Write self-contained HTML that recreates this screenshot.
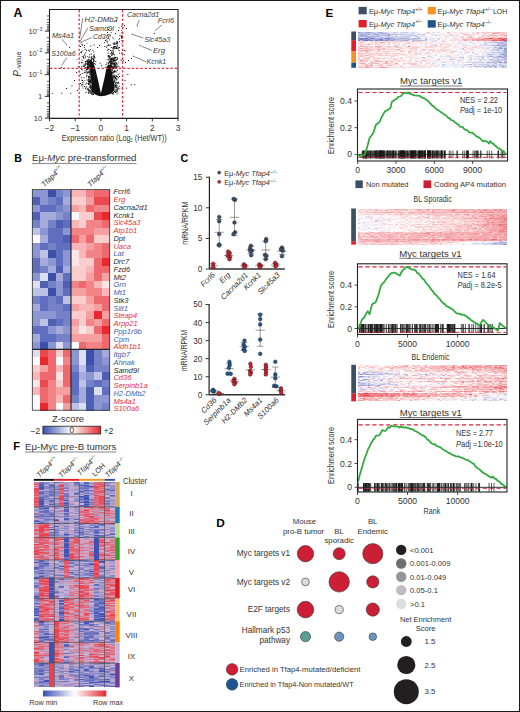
<!DOCTYPE html>
<html><head><meta charset="utf-8"><style>
html,body{margin:0;padding:0;background:#fff;}
#c{position:relative;width:520px;height:712px;overflow:hidden;background:#fff;font-family:"Liberation Sans", sans-serif;}
#c div.h{position:absolute;}
#c svg{position:absolute;left:0;top:0;}
#bd{position:absolute;left:0;top:0;width:520px;height:712px;box-sizing:border-box;border:1px solid #1a1718;border-right-width:1.4px;border-bottom-width:1.4px;}
</style></head><body><div id="c">
<div class="h" style="left:358.3px;top:31.5px;width:148.5px;height:1.16px;background:linear-gradient(90deg,#9297d2 0px 2.48px,#b6b9e1 2.48px 4.95px,#c5c8e7 4.95px 7.43px,#a8acdb 7.43px 9.9px,#9a9ed5 9.9px 12.38px,#b6bae1 12.38px 14.85px,#c4c7e7 14.85px 17.32px,#d4d6ed 17.32px 19.8px,#a6aada 19.8px 22.28px,#a7abda 22.28px 24.75px,#d3d5ed 24.75px 27.23px,#d1d3ec 27.23px 29.7px,#e9eaf6 29.7px 32.18px,#e0e2f2 32.18px 34.65px,#ccceea 34.65px 37.12px,#cbcde9 37.12px 39.6px,#fef5f5 39.6px 42.08px,#cfd2eb 42.08px 44.55px,#c7cae8 44.55px 47.02px,#c3c5e6 47.02px 49.5px,#dfe0f2 49.5px 51.98px,#e2e4f3 51.98px 54.45px,#dbdcf0 54.45px 56.93px,#e3e4f3 56.93px 59.4px,#ecedf7 59.4px 61.88px,#f8f8fc 61.88px 64.35px,#fffbfb 64.35px 66.83px,#f2f3fa 66.83px 69.3px,#cbcee9 69.3px 71.78px,#fffcfc 71.78px 74.25px,#d8daef 74.25px 76.73px,#f4f5fb 76.73px 79.2px,#dcddf0 79.2px 81.67px,#fdfdfe 81.67px 84.15px,#eff0f8 84.15px 86.62px,#fef7f8 86.62px 89.1px,#f5b1b5 89.1px 91.58px,#fef8f8 91.58px 94.05px,#fbe2e3 94.05px 96.53px,#f0f1f9 96.53px 99px,#fef5f6 99px 101.48px,#fbdedf 101.48px 103.95px,#fdeced 103.95px 106.42px,#fbdfe1 106.42px 108.9px,#fbe2e4 108.9px 111.38px,#fef8f9 111.38px 113.85px,#f9d3d5 113.85px 116.33px,#fdeff0 116.33px 118.8px,#f5b1b5 118.8px 121.28px,#fbe3e4 121.28px 123.75px,#f8c6c9 123.75px 126.23px,#f9d3d5 126.23px 128.7px,#f6bbbe 128.7px 131.18px,#fadbdc 131.18px 133.65px,#f6b5b8 133.65px 136.12px,#f8cbcd 136.12px 138.6px,#f4aaae 138.6px 141.08px,#f6b5b9 141.08px 143.55px,#f7bdc0 143.55px 146.03px,#f9cfd1 146.03px 148.5px)"></div><div class="h" style="left:358.3px;top:32.51px;width:148.5px;height:1.16px;background:linear-gradient(90deg,#b8bbe1 0px 2.48px,#b4b8e0 2.48px 4.95px,#cfd1eb 4.95px 7.43px,#a7abdb 7.43px 9.9px,#bdc0e4 9.9px 12.38px,#bfc2e4 12.38px 14.85px,#bcc0e3 14.85px 17.32px,#bdc1e4 17.32px 19.8px,#bfc2e5 19.8px 22.28px,#b1b5df 22.28px 24.75px,#abafdc 24.75px 27.23px,#bbbee3 27.23px 29.7px,#d2d4ec 29.7px 32.18px,#e7e9f5 32.18px 34.65px,#dfe0f2 34.65px 37.12px,#e3e4f3 37.12px 39.6px,#dfe1f2 39.6px 42.08px,#e0e2f2 42.08px 44.55px,#d8daef 44.55px 47.02px,#e7e8f5 47.02px 49.5px,#fefeff 49.5px 51.98px,#d5d7ed 51.98px 54.45px,#cfd2eb 54.45px 56.93px,#fef4f5 56.93px 59.4px,#e8e9f5 59.4px 61.88px,#fafafd 61.88px 64.35px,#fafafd 64.35px 66.83px,#d3d5ed 66.83px 69.3px,#fbddde 69.3px 71.78px,#fce9ea 71.78px 74.25px,#f5f6fb 74.25px 76.73px,#fefafa 76.73px 79.2px,#f9fafd 79.2px 81.67px,#e7e8f5 81.67px 84.15px,#f9fafd 84.15px 86.62px,#fef8f8 86.62px 89.1px,#fce5e6 89.1px 91.58px,#fdebec 91.58px 94.05px,#fef7f7 94.05px 96.53px,#fad8da 96.53px 99px,#fbfbfd 99px 101.48px,#fbdfe1 101.48px 103.95px,#fad5d7 103.95px 106.42px,#fdf2f2 106.42px 108.9px,#eff0f8 108.9px 111.38px,#fefafa 111.38px 113.85px,#fbdee0 113.85px 116.33px,#fad5d7 116.33px 118.8px,#f7bcbf 118.8px 121.28px,#fdf2f2 121.28px 123.75px,#fad9db 123.75px 126.23px,#f8c8cb 126.23px 128.7px,#fad7d9 128.7px 131.18px,#f9f9fc 131.18px 133.65px,#f7bdc0 133.65px 136.12px,#f2999e 136.12px 138.6px,#f6b4b7 138.6px 141.08px,#fadbdd 141.08px 143.55px,#f9cdd0 143.55px 146.03px,#f7bdc0 146.03px 148.5px)"></div><div class="h" style="left:358.3px;top:33.52px;width:148.5px;height:1.16px;background:linear-gradient(90deg,#d1d4ec 0px 2.48px,#adb1dd 2.48px 4.95px,#a5a9da 4.95px 7.43px,#c5c8e7 7.43px 9.9px,#a6aada 9.9px 12.38px,#d1d3ec 12.38px 14.85px,#9ea3d7 14.85px 17.32px,#a5a9da 17.32px 19.8px,#c0c3e5 19.8px 22.28px,#d1d4ec 22.28px 24.75px,#c4c7e6 24.75px 27.23px,#bfc2e4 27.23px 29.7px,#959ad3 29.7px 32.18px,#afb3de 32.18px 34.65px,#b3b7e0 34.65px 37.12px,#b7bbe1 37.12px 39.6px,#d1d3ec 39.6px 42.08px,#c0c3e5 42.08px 44.55px,#dadcf0 44.55px 47.02px,#ced0eb 47.02px 49.5px,#c8cbe8 49.5px 51.98px,#d4d6ed 51.98px 54.45px,#dddef1 54.45px 56.93px,#e8e9f6 56.93px 59.4px,#cfd1eb 59.4px 61.88px,#d6d8ee 61.88px 64.35px,#c1c4e5 64.35px 66.83px,#fffcfc 66.83px 69.3px,#fffdfd 69.3px 71.78px,#e1e3f3 71.78px 74.25px,#dddff1 74.25px 76.73px,#d0d2ec 76.73px 79.2px,#f0f1f9 79.2px 81.67px,#f3f4fa 81.67px 84.15px,#fbdddf 84.15px 86.62px,#f9f9fd 86.62px 89.1px,#e6e7f5 89.1px 91.58px,#c6c8e7 91.58px 94.05px,#fce4e5 94.05px 96.53px,#fffcfc 96.53px 99px,#dfe0f2 99px 101.48px,#fef7f8 101.48px 103.95px,#e3e5f4 103.95px 106.42px,#f4aaae 106.42px 108.9px,#fadbdd 108.9px 111.38px,#fce4e6 111.38px 113.85px,#fdf2f3 113.85px 116.33px,#e5e6f4 116.33px 118.8px,#fdeced 118.8px 121.28px,#f6f6fb 121.28px 123.75px,#fad7d9 123.75px 126.23px,#efeff8 126.23px 128.7px,#fdf3f3 128.7px 131.18px,#f7c1c4 131.18px 133.65px,#f6b5b9 133.65px 136.12px,#fdf1f1 136.12px 138.6px,#fef6f6 138.6px 141.08px,#f7bec1 141.08px 143.55px,#f7bcc0 143.55px 146.03px,#fbe2e4 146.03px 148.5px)"></div><div class="h" style="left:358.3px;top:34.52px;width:148.5px;height:1.16px;background:linear-gradient(90deg,#a1a5d8 0px 2.48px,#a3a8d9 2.48px 4.95px,#9ba0d6 4.95px 7.43px,#a8addb 7.43px 9.9px,#d3d5ed 9.9px 12.38px,#cacde9 12.38px 14.85px,#e9eaf6 14.85px 17.32px,#bfc2e4 17.32px 19.8px,#c0c3e5 19.8px 22.28px,#b1b5df 22.28px 24.75px,#c5c8e7 24.75px 27.23px,#afb3de 27.23px 29.7px,#a8acdb 29.7px 32.18px,#dee0f1 32.18px 34.65px,#f0f1f9 34.65px 37.12px,#e6e7f5 37.12px 39.6px,#f3f3fa 39.6px 42.08px,#dfe0f2 42.08px 44.55px,#cdcfea 44.55px 47.02px,#e0e2f2 47.02px 49.5px,#d9dbef 49.5px 51.98px,#ccceea 51.98px 54.45px,#c2c5e6 54.45px 56.93px,#c9cce9 56.93px 59.4px,#eaebf6 59.4px 61.88px,#f0f1f9 61.88px 64.35px,#e6e7f4 64.35px 66.83px,#fdedee 66.83px 69.3px,#f8f8fc 69.3px 71.78px,#fefbfb 71.78px 74.25px,#fceaeb 74.25px 76.73px,#ebecf7 76.73px 79.2px,#d5d7ee 79.2px 81.67px,#fdedee 81.67px 84.15px,#f5f5fb 84.15px 86.62px,#fbdbdd 86.62px 89.1px,#fdeeef 89.1px 91.58px,#fbddde 91.58px 94.05px,#fbdfe1 94.05px 96.53px,#e4e5f4 96.53px 99px,#fbdbdd 99px 101.48px,#fef7f8 101.48px 103.95px,#fef6f7 103.95px 106.42px,#fdedee 106.42px 108.9px,#f9d0d2 108.9px 111.38px,#f8cbcd 111.38px 113.85px,#f8c5c8 113.85px 116.33px,#fffdfd 116.33px 118.8px,#fce3e5 118.8px 121.28px,#f7f7fc 121.28px 123.75px,#fad3d5 123.75px 126.23px,#f7c1c4 126.23px 128.7px,#fbddde 128.7px 131.18px,#f8c4c7 131.18px 133.65px,#f7c2c5 133.65px 136.12px,#f5aeb2 136.12px 138.6px,#fad4d6 138.6px 141.08px,#f9d1d3 141.08px 143.55px,#f9cdd0 143.55px 146.03px,#f19398 146.03px 148.5px)"></div><div class="h" style="left:358.3px;top:35.53px;width:148.5px;height:1.16px;background:linear-gradient(90deg,#c1c4e5 0px 2.48px,#aaaedc 2.48px 4.95px,#b4b7e0 4.95px 7.43px,#b4b7e0 7.43px 9.9px,#b8bce2 9.9px 12.38px,#b2b6df 12.38px 14.85px,#b2b6df 14.85px 17.32px,#a1a6d8 17.32px 19.8px,#b0b4de 19.8px 22.28px,#e3e4f3 22.28px 24.75px,#ced0eb 24.75px 27.23px,#c7c9e8 27.23px 29.7px,#c3c6e6 29.7px 32.18px,#cbceea 32.18px 34.65px,#d4d6ed 34.65px 37.12px,#c2c5e6 37.12px 39.6px,#d6d8ee 39.6px 42.08px,#d9dbef 42.08px 44.55px,#c7cae8 44.55px 47.02px,#c8cbe8 47.02px 49.5px,#c6c9e8 49.5px 51.98px,#c8cae8 51.98px 54.45px,#f3f4fa 54.45px 56.93px,#b1b5df 56.93px 59.4px,#e0e1f2 59.4px 61.88px,#dbddf0 61.88px 64.35px,#dddff1 64.35px 66.83px,#efeff8 66.83px 69.3px,#fef7f7 69.3px 71.78px,#f3f4fa 71.78px 74.25px,#f1f2f9 74.25px 76.73px,#eaebf6 76.73px 79.2px,#f6f7fb 79.2px 81.67px,#fdefef 81.67px 84.15px,#f6f6fb 84.15px 86.62px,#e8eaf6 86.62px 89.1px,#e8eaf6 89.1px 91.58px,#eeeff8 91.58px 94.05px,#ebecf7 94.05px 96.53px,#fadbdd 96.53px 99px,#fce9ea 99px 101.48px,#fef3f4 101.48px 103.95px,#f9cbce 103.95px 106.42px,#fef7f8 106.42px 108.9px,#fad6d8 108.9px 111.38px,#f9d2d4 111.38px 113.85px,#fbfbfd 113.85px 116.33px,#fdfefe 116.33px 118.8px,#fdf0f1 118.8px 121.28px,#f8c5c8 121.28px 123.75px,#f6babd 123.75px 126.23px,#fdeff0 126.23px 128.7px,#f6bbbe 128.7px 131.18px,#fad7d9 131.18px 133.65px,#fad5d7 133.65px 136.12px,#fad6d8 136.12px 138.6px,#f9ced1 138.6px 141.08px,#fdeced 141.08px 143.55px,#fad8da 143.55px 146.03px,#fadadc 146.03px 148.5px)"></div><div class="h" style="left:358.3px;top:36.54px;width:148.5px;height:1.16px;background:linear-gradient(90deg,#b5b8e0 0px 2.48px,#d9dbef 2.48px 4.95px,#e9eaf6 4.95px 7.43px,#abafdc 7.43px 9.9px,#9096d1 9.9px 12.38px,#aeb2de 12.38px 14.85px,#a6aada 14.85px 17.32px,#e5e6f4 17.32px 19.8px,#cacde9 19.8px 22.28px,#b1b5df 22.28px 24.75px,#d7d9ee 24.75px 27.23px,#d1d3ec 27.23px 29.7px,#a6aada 29.7px 32.18px,#bfc3e5 32.18px 34.65px,#c8cbe8 34.65px 37.12px,#d0d2eb 37.12px 39.6px,#d5d7ed 39.6px 42.08px,#cdd0ea 42.08px 44.55px,#dbddf0 44.55px 47.02px,#cdd0ea 47.02px 49.5px,#c9cce9 49.5px 51.98px,#fefeff 51.98px 54.45px,#e8e9f6 54.45px 56.93px,#ecedf7 56.93px 59.4px,#c4c7e7 59.4px 61.88px,#e5e6f4 61.88px 64.35px,#fcfcfe 64.35px 66.83px,#d2d4ec 66.83px 69.3px,#fef7f7 69.3px 71.78px,#eaebf6 71.78px 74.25px,#fdfdfe 74.25px 76.73px,#f4f5fb 76.73px 79.2px,#fefeff 79.2px 81.67px,#fce8e9 81.67px 84.15px,#f6f6fb 84.15px 86.62px,#fadbdc 86.62px 89.1px,#f3f4fa 89.1px 91.58px,#f2f3fa 91.58px 94.05px,#fce6e7 94.05px 96.53px,#f4f5fb 96.53px 99px,#fef8f9 99px 101.48px,#fadadb 101.48px 103.95px,#f9d0d3 103.95px 106.42px,#f0f0f9 106.42px 108.9px,#fadbdc 108.9px 111.38px,#f6babd 111.38px 113.85px,#f8c6c9 113.85px 116.33px,#fce3e5 116.33px 118.8px,#fce9ea 118.8px 121.28px,#fbdfe1 121.28px 123.75px,#fdeff0 123.75px 126.23px,#fad9db 126.23px 128.7px,#fad5d7 128.7px 131.18px,#f9d2d4 131.18px 133.65px,#f5b2b5 133.65px 136.12px,#f9ced1 136.12px 138.6px,#fce7e8 138.6px 141.08px,#f5adb1 141.08px 143.55px,#fad9db 143.55px 146.03px,#f8c9cb 146.03px 148.5px)"></div><div class="h" style="left:358.3px;top:37.55px;width:148.5px;height:1.16px;background:linear-gradient(90deg,#7a80c8 0px 2.48px,#797fc7 2.48px 4.95px,#6e75c3 4.95px 7.43px,#8087cb 7.43px 9.9px,#b6bae1 9.9px 12.38px,#7f85ca 12.38px 14.85px,#8c91cf 14.85px 17.32px,#a9addb 17.32px 19.8px,#a4a8d9 19.8px 22.28px,#a7acdb 22.28px 24.75px,#acb0dd 24.75px 27.23px,#747bc5 27.23px 29.7px,#8e94d0 29.7px 32.18px,#a6aada 32.18px 34.65px,#b1b5df 34.65px 37.12px,#c4c7e7 37.12px 39.6px,#b6bae1 39.6px 42.08px,#aaaedc 42.08px 44.55px,#b3b7df 44.55px 47.02px,#b1b4df 47.02px 49.5px,#bdc0e4 49.5px 51.98px,#c9cce9 51.98px 54.45px,#b7bae1 54.45px 56.93px,#b0b4de 56.93px 59.4px,#b2b6df 59.4px 61.88px,#dedff1 61.88px 64.35px,#e5e6f4 64.35px 66.83px,#e3e4f3 66.83px 69.3px,#e6e7f5 69.3px 71.78px,#ebecf7 71.78px 74.25px,#e0e1f2 74.25px 76.73px,#f3f4fa 76.73px 79.2px,#d5d7ee 79.2px 81.67px,#edeef8 81.67px 84.15px,#e8e9f5 84.15px 86.62px,#fdf1f2 86.62px 89.1px,#f7f7fc 89.1px 91.58px,#fef7f8 91.58px 94.05px,#fce6e7 94.05px 96.53px,#f8cbcd 96.53px 99px,#fef4f5 99px 101.48px,#fdf1f2 101.48px 103.95px,#f8c4c7 103.95px 106.42px,#fce9ea 106.42px 108.9px,#f7c0c3 108.9px 111.38px,#f9d1d3 111.38px 113.85px,#f7c0c3 113.85px 116.33px,#fbe0e1 116.33px 118.8px,#f3a2a6 118.8px 121.28px,#f6b7ba 121.28px 123.75px,#f6b9bc 123.75px 126.23px,#ed7278 126.23px 128.7px,#f08a8f 128.7px 131.18px,#e8464f 131.18px 133.65px,#f0848a 133.65px 136.12px,#f18e94 136.12px 138.6px,#ef7e84 138.6px 141.08px,#ea575f 141.08px 143.55px,#ee757b 143.55px 146.03px,#ec646c 146.03px 148.5px)"></div><div class="h" style="left:358.3px;top:38.56px;width:148.5px;height:1.16px;background:linear-gradient(90deg,#9499d3 0px 2.48px,#7980c7 2.48px 4.95px,#9297d2 4.95px 7.43px,#888dcd 7.43px 9.9px,#7b81c8 9.9px 12.38px,#aaaedc 12.38px 14.85px,#a9addb 14.85px 17.32px,#9fa4d7 17.32px 19.8px,#8e93d0 19.8px 22.28px,#7a80c8 22.28px 24.75px,#b1b5df 24.75px 27.23px,#a8acdb 27.23px 29.7px,#8a8fce 29.7px 32.18px,#aeb2de 32.18px 34.65px,#9398d2 34.65px 37.12px,#b5b9e0 37.12px 39.6px,#bcbfe3 39.6px 42.08px,#c3c6e6 42.08px 44.55px,#c3c6e6 44.55px 47.02px,#c5c8e7 47.02px 49.5px,#adb1dd 49.5px 51.98px,#bfc2e5 51.98px 54.45px,#c0c3e5 54.45px 56.93px,#c8cbe8 56.93px 59.4px,#d6d8ee 59.4px 61.88px,#e0e2f2 61.88px 64.35px,#f8f9fc 64.35px 66.83px,#a5a9da 66.83px 69.3px,#e9eaf6 69.3px 71.78px,#e2e4f3 71.78px 74.25px,#fbe1e2 74.25px 76.73px,#fef8f9 76.73px 79.2px,#d5d7ee 79.2px 81.67px,#fef8f8 81.67px 84.15px,#f9f9fc 84.15px 86.62px,#fbdee0 86.62px 89.1px,#f9f9fd 89.1px 91.58px,#fceaeb 91.58px 94.05px,#fce5e6 94.05px 96.53px,#fbdedf 96.53px 99px,#fbe2e4 99px 101.48px,#fef8f8 101.48px 103.95px,#f7bfc2 103.95px 106.42px,#f5adb1 106.42px 108.9px,#f7bfc2 108.9px 111.38px,#f9cdd0 111.38px 113.85px,#f5acb0 113.85px 116.33px,#f39ea3 116.33px 118.8px,#f4a9ad 118.8px 121.28px,#f39fa3 121.28px 123.75px,#ee7a80 123.75px 126.23px,#f4abaf 126.23px 128.7px,#f2989d 128.7px 131.18px,#f5b0b4 131.18px 133.65px,#f18f95 133.65px 136.12px,#f08a90 136.12px 138.6px,#f0898e 138.6px 141.08px,#ef7d83 141.08px 143.55px,#e74049 143.55px 146.03px,#ec666d 146.03px 148.5px)"></div><div class="h" style="left:358.3px;top:39.57px;width:148.5px;height:1.16px;background:linear-gradient(90deg,#8187cb 0px 2.48px,#b4b8e0 2.48px 4.95px,#888ece 4.95px 7.43px,#686fc0 7.43px 9.9px,#989dd4 9.9px 12.38px,#7f85ca 12.38px 14.85px,#b7bbe1 14.85px 17.32px,#7e84ca 17.32px 19.8px,#8f94d1 19.8px 22.28px,#7d83c9 22.28px 24.75px,#a3a8d9 24.75px 27.23px,#8f94d0 27.23px 29.7px,#a6aada 29.7px 32.18px,#a2a7d8 32.18px 34.65px,#a0a5d8 34.65px 37.12px,#c4c6e6 37.12px 39.6px,#c6c9e8 39.6px 42.08px,#b7bbe1 42.08px 44.55px,#a6aada 44.55px 47.02px,#a5aada 47.02px 49.5px,#c4c7e7 49.5px 51.98px,#f4f4fa 51.98px 54.45px,#bbbee3 54.45px 56.93px,#b7bbe1 56.93px 59.4px,#bcbfe3 59.4px 61.88px,#b7bae1 61.88px 64.35px,#bcbfe3 64.35px 66.83px,#d1d3ec 66.83px 69.3px,#f9f9fc 69.3px 71.78px,#e1e2f2 71.78px 74.25px,#dcddf0 74.25px 76.73px,#cacde9 76.73px 79.2px,#f6f7fb 79.2px 81.67px,#f7f8fc 81.67px 84.15px,#e4e5f4 84.15px 86.62px,#edeef7 86.62px 89.1px,#fef5f6 89.1px 91.58px,#fad8da 91.58px 94.05px,#fadadc 94.05px 96.53px,#fbdddf 96.53px 99px,#fbe3e4 99px 101.48px,#f9cfd1 101.48px 103.95px,#f9d0d2 103.95px 106.42px,#f29a9e 106.42px 108.9px,#fbdcde 108.9px 111.38px,#f8c5c8 111.38px 113.85px,#f29ba0 113.85px 116.33px,#f6b7ba 116.33px 118.8px,#f08b91 118.8px 121.28px,#f4a6aa 121.28px 123.75px,#f29ba0 123.75px 126.23px,#f3a0a5 126.23px 128.7px,#f5b0b4 128.7px 131.18px,#f3a1a6 131.18px 133.65px,#ea555d 133.65px 136.12px,#ed7278 136.12px 138.6px,#ed6c73 138.6px 141.08px,#eb5f66 141.08px 143.55px,#eb6168 143.55px 146.03px,#e95159 146.03px 148.5px)"></div><div class="h" style="left:358.3px;top:40.58px;width:148.5px;height:1.16px;background:linear-gradient(90deg,#fad9db 0px 2.48px,#fad9db 2.48px 4.95px,#f7c0c3 4.95px 7.43px,#fbdedf 7.43px 9.9px,#fef4f5 9.9px 12.38px,#fbddde 12.38px 14.85px,#fce5e6 14.85px 17.32px,#f9cccf 17.32px 19.8px,#fceaeb 19.8px 22.28px,#fdf3f3 22.28px 24.75px,#fce4e5 24.75px 27.23px,#f6bbbe 27.23px 29.7px,#fbdfe1 29.7px 32.18px,#fbdcdd 32.18px 34.65px,#fbe0e1 34.65px 37.12px,#fadadc 37.12px 39.6px,#f9cdd0 39.6px 42.08px,#f8c4c7 42.08px 44.55px,#f7f7fc 44.55px 47.02px,#f8c7c9 47.02px 49.5px,#fce6e7 49.5px 51.98px,#fdedee 51.98px 54.45px,#f5b3b6 54.45px 56.93px,#fdeced 56.93px 59.4px,#f7bec1 59.4px 61.88px,#fad5d7 61.88px 64.35px,#fdfdfe 64.35px 66.83px,#fbe1e2 66.83px 69.3px,#fbddde 69.3px 71.78px,#fdf0f1 71.78px 74.25px,#dee0f1 74.25px 76.73px,#fef7f7 76.73px 79.2px,#fef5f5 79.2px 81.67px,#f5f5fb 81.67px 84.15px,#f8cacd 84.15px 86.62px,#fef8f9 86.62px 89.1px,#fffdfd 89.1px 91.58px,#fffbfc 91.58px 94.05px,#f7f8fc 94.05px 96.53px,#f7f7fc 96.53px 99px,#fef6f6 99px 101.48px,#fdf2f2 101.48px 103.95px,#fafafd 103.95px 106.42px,#fffcfc 106.42px 108.9px,#e6e7f4 108.9px 111.38px,#fdf1f1 111.38px 113.85px,#f1f2f9 113.85px 116.33px,#fef9f9 116.33px 118.8px,#ecedf7 118.8px 121.28px,#f1f2f9 121.28px 123.75px,#f9f9fd 123.75px 126.23px,#d3d6ed 126.23px 128.7px,#fce4e5 128.7px 131.18px,#dddef1 131.18px 133.65px,#d4d6ed 133.65px 136.12px,#bfc2e4 136.12px 138.6px,#e8e9f5 138.6px 141.08px,#dbddf0 141.08px 143.55px,#bdc0e4 143.55px 146.03px,#9298d2 146.03px 148.5px)"></div><div class="h" style="left:358.3px;top:41.58px;width:148.5px;height:1.16px;background:linear-gradient(90deg,#fbe0e1 0px 2.48px,#f8c8cb 2.48px 4.95px,#fbe2e3 4.95px 7.43px,#fdf2f2 7.43px 9.9px,#fdf3f3 9.9px 12.38px,#fceaeb 12.38px 14.85px,#fadadc 14.85px 17.32px,#fce9ea 17.32px 19.8px,#fbdcdd 19.8px 22.28px,#f3a0a4 22.28px 24.75px,#f6b7ba 24.75px 27.23px,#fef6f6 27.23px 29.7px,#fad8da 29.7px 32.18px,#fbdfe0 32.18px 34.65px,#fce5e6 34.65px 37.12px,#f9ccce 37.12px 39.6px,#fcebec 39.6px 42.08px,#fdebec 42.08px 44.55px,#fdedee 44.55px 47.02px,#fce8e9 47.02px 49.5px,#f8cbcd 49.5px 51.98px,#fad7d9 51.98px 54.45px,#f8f8fc 54.45px 56.93px,#fef3f4 56.93px 59.4px,#fffcfc 59.4px 61.88px,#fadadb 61.88px 64.35px,#fce8e9 64.35px 66.83px,#fadadc 66.83px 69.3px,#fdf0f0 69.3px 71.78px,#e6e7f5 71.78px 74.25px,#fce6e7 74.25px 76.73px,#fdeced 76.73px 79.2px,#fce7e8 79.2px 81.67px,#eff0f9 81.67px 84.15px,#fdf2f3 84.15px 86.62px,#fbfbfd 86.62px 89.1px,#fafafd 89.1px 91.58px,#fdefef 91.58px 94.05px,#fdf0f0 94.05px 96.53px,#f3f3fa 96.53px 99px,#e1e2f2 99px 101.48px,#d0d2ec 101.48px 103.95px,#f7f7fc 103.95px 106.42px,#fce3e5 106.42px 108.9px,#fffefe 108.9px 111.38px,#d1d3ec 111.38px 113.85px,#edeef8 113.85px 116.33px,#fef6f7 116.33px 118.8px,#fbdcdd 118.8px 121.28px,#fceaeb 121.28px 123.75px,#fbfbfd 123.75px 126.23px,#eff0f9 126.23px 128.7px,#cdd0ea 128.7px 131.18px,#d2d5ed 131.18px 133.65px,#cdd0ea 133.65px 136.12px,#bcbfe3 136.12px 138.6px,#c6c9e7 138.6px 141.08px,#b5b8e0 141.08px 143.55px,#bcc0e3 143.55px 146.03px,#ccceea 146.03px 148.5px)"></div><div class="h" style="left:358.3px;top:42.59px;width:148.5px;height:1.16px;background:linear-gradient(90deg,#f8cacc 0px 2.48px,#f9d2d4 2.48px 4.95px,#fbe1e3 4.95px 7.43px,#fffefe 7.43px 9.9px,#fbe0e2 9.9px 12.38px,#f9d3d5 12.38px 14.85px,#fef6f6 14.85px 17.32px,#f8c5c8 17.32px 19.8px,#fce9ea 19.8px 22.28px,#fadadc 22.28px 24.75px,#fceaeb 24.75px 27.23px,#fefeff 27.23px 29.7px,#f6b8bb 29.7px 32.18px,#ffffff 32.18px 34.65px,#f9d3d5 34.65px 37.12px,#fef4f4 37.12px 39.6px,#fbe3e4 39.6px 42.08px,#fffbfb 42.08px 44.55px,#fef4f4 44.55px 47.02px,#fad7d9 47.02px 49.5px,#f7c2c4 49.5px 51.98px,#fefeff 51.98px 54.45px,#fdeeef 54.45px 56.93px,#fadadc 56.93px 59.4px,#fffefe 59.4px 61.88px,#fbe1e3 61.88px 64.35px,#fbfbfd 64.35px 66.83px,#fce5e7 66.83px 69.3px,#fceaeb 69.3px 71.78px,#fadadc 71.78px 74.25px,#fdedee 74.25px 76.73px,#eeeff8 76.73px 79.2px,#fce9ea 79.2px 81.67px,#efeff8 81.67px 84.15px,#fce9ea 84.15px 86.62px,#fad9db 86.62px 89.1px,#fdeeef 89.1px 91.58px,#f7f7fc 91.58px 94.05px,#fbe2e4 94.05px 96.53px,#fefafa 96.53px 99px,#e6e7f4 99px 101.48px,#f7f8fc 101.48px 103.95px,#fbe1e2 103.95px 106.42px,#f7f7fc 106.42px 108.9px,#ffffff 108.9px 111.38px,#f4f5fa 111.38px 113.85px,#d7d9ee 113.85px 116.33px,#eff0f8 116.33px 118.8px,#fffefe 118.8px 121.28px,#fafafd 121.28px 123.75px,#eaebf6 123.75px 126.23px,#babde2 126.23px 128.7px,#f8f8fc 128.7px 131.18px,#e6e7f5 131.18px 133.65px,#e5e6f4 133.65px 136.12px,#e3e4f3 136.12px 138.6px,#b6bae1 138.6px 141.08px,#abafdc 141.08px 143.55px,#b7bae1 143.55px 146.03px,#ccceea 146.03px 148.5px)"></div><div class="h" style="left:358.3px;top:43.6px;width:148.5px;height:1.16px;background:linear-gradient(90deg,#fef8f8 0px 2.48px,#fad9db 2.48px 4.95px,#fce4e6 4.95px 7.43px,#f8c9cc 7.43px 9.9px,#f6b6ba 9.9px 12.38px,#fbdee0 12.38px 14.85px,#fef4f4 14.85px 17.32px,#fad8da 17.32px 19.8px,#fbe0e2 19.8px 22.28px,#fffdfd 22.28px 24.75px,#f8c9cb 24.75px 27.23px,#fce8e9 27.23px 29.7px,#f9cfd1 29.7px 32.18px,#fffcfc 32.18px 34.65px,#f8c8ca 34.65px 37.12px,#fefeff 37.12px 39.6px,#f8cacd 39.6px 42.08px,#f4f5fb 42.08px 44.55px,#f8c5c8 44.55px 47.02px,#fdeced 47.02px 49.5px,#f7f8fc 49.5px 51.98px,#fdebec 51.98px 54.45px,#fbe0e1 54.45px 56.93px,#fffefe 56.93px 59.4px,#fef4f4 59.4px 61.88px,#fce4e5 61.88px 64.35px,#fdeeef 64.35px 66.83px,#d2d4ec 66.83px 69.3px,#fef6f6 69.3px 71.78px,#fce4e5 71.78px 74.25px,#fce8e9 74.25px 76.73px,#fad9db 76.73px 79.2px,#ffffff 79.2px 81.67px,#f6b9bc 81.67px 84.15px,#fbe0e2 84.15px 86.62px,#fdeced 86.62px 89.1px,#fbdcdd 89.1px 91.58px,#fbe0e1 91.58px 94.05px,#fef3f4 94.05px 96.53px,#fafbfd 96.53px 99px,#fbe1e2 99px 101.48px,#fdeff0 101.48px 103.95px,#dddff1 103.95px 106.42px,#edeef7 106.42px 108.9px,#fdf1f1 108.9px 111.38px,#fef9fa 111.38px 113.85px,#fef7f7 113.85px 116.33px,#fdeff0 116.33px 118.8px,#fffbfb 118.8px 121.28px,#fbdfe0 121.28px 123.75px,#e9eaf6 123.75px 126.23px,#e5e6f4 126.23px 128.7px,#ecedf7 128.7px 131.18px,#edeef8 131.18px 133.65px,#e6e8f5 133.65px 136.12px,#edeef8 136.12px 138.6px,#bdc0e3 138.6px 141.08px,#d7d9ef 141.08px 143.55px,#c1c4e5 143.55px 146.03px,#9a9fd5 146.03px 148.5px)"></div><div class="h" style="left:358.3px;top:44.61px;width:148.5px;height:1.16px;background:linear-gradient(90deg,#fdedee 0px 2.48px,#f7bdc0 2.48px 4.95px,#fadbdc 4.95px 7.43px,#fef7f7 7.43px 9.9px,#dddff1 9.9px 12.38px,#ffffff 12.38px 14.85px,#ffffff 14.85px 17.32px,#fdefef 17.32px 19.8px,#f7bec1 19.8px 22.28px,#fbe2e3 22.28px 24.75px,#fdeced 24.75px 27.23px,#f6f6fb 27.23px 29.7px,#f0f1f9 29.7px 32.18px,#fefafa 32.18px 34.65px,#fdfdfe 34.65px 37.12px,#f6b6b9 37.12px 39.6px,#fdfdfe 39.6px 42.08px,#f8f8fc 42.08px 44.55px,#fbe1e3 44.55px 47.02px,#fef9fa 47.02px 49.5px,#e8e9f5 49.5px 51.98px,#fbe1e2 51.98px 54.45px,#fafafd 54.45px 56.93px,#e3e5f4 56.93px 59.4px,#fef9f9 59.4px 61.88px,#fef6f6 61.88px 64.35px,#f6f6fb 64.35px 66.83px,#fef3f4 66.83px 69.3px,#fdf1f2 69.3px 71.78px,#e8e9f5 71.78px 74.25px,#ced1eb 74.25px 76.73px,#c6c9e7 76.73px 79.2px,#f5f5fb 79.2px 81.67px,#fdedee 81.67px 84.15px,#fdf3f3 84.15px 86.62px,#fdebec 86.62px 89.1px,#fbe2e3 89.1px 91.58px,#f3f4fa 91.58px 94.05px,#fef5f6 94.05px 96.53px,#d1d4ec 96.53px 99px,#ffffff 99px 101.48px,#f8f8fc 101.48px 103.95px,#edeef7 103.95px 106.42px,#e5e6f4 106.42px 108.9px,#d6d8ee 108.9px 111.38px,#eff0f8 111.38px 113.85px,#fef8f8 113.85px 116.33px,#e3e4f3 116.33px 118.8px,#f5f5fb 118.8px 121.28px,#d9dbef 121.28px 123.75px,#e4e6f4 123.75px 126.23px,#c2c5e6 126.23px 128.7px,#d7d9ef 128.7px 131.18px,#c3c6e6 131.18px 133.65px,#c7c9e8 133.65px 136.12px,#acb0dc 136.12px 138.6px,#989dd4 138.6px 141.08px,#a2a7d8 141.08px 143.55px,#b7bae1 143.55px 146.03px,#bbbee3 146.03px 148.5px)"></div><div class="h" style="left:358.3px;top:45.62px;width:148.5px;height:1.16px;background:linear-gradient(90deg,#f8c9cb 0px 2.48px,#f5b1b5 2.48px 4.95px,#f5b3b6 4.95px 7.43px,#f7bcbf 7.43px 9.9px,#fce7e8 9.9px 12.38px,#f7bfc2 12.38px 14.85px,#fbdcde 14.85px 17.32px,#f5aeb2 17.32px 19.8px,#f6b7bb 19.8px 22.28px,#f7bcbf 22.28px 24.75px,#fcfcfe 24.75px 27.23px,#f7bec1 27.23px 29.7px,#f7bdc0 29.7px 32.18px,#fce9ea 32.18px 34.65px,#f6b9bc 34.65px 37.12px,#f9cdd0 37.12px 39.6px,#fad4d6 39.6px 42.08px,#fbe1e2 42.08px 44.55px,#fce8e9 44.55px 47.02px,#fbdcde 47.02px 49.5px,#f19095 49.5px 51.98px,#f9d0d2 51.98px 54.45px,#f9d1d3 54.45px 56.93px,#fce5e6 56.93px 59.4px,#fce5e6 59.4px 61.88px,#fce4e6 61.88px 64.35px,#fdeded 64.35px 66.83px,#f8c7c9 66.83px 69.3px,#fbe1e2 69.3px 71.78px,#f8c9cb 71.78px 74.25px,#fef6f6 74.25px 76.73px,#f8c9cc 76.73px 79.2px,#fbdfe1 79.2px 81.67px,#f9d1d3 81.67px 84.15px,#fbe3e4 84.15px 86.62px,#fef5f5 86.62px 89.1px,#f8c8ca 89.1px 91.58px,#fdeded 91.58px 94.05px,#fce7e8 94.05px 96.53px,#fef8f9 96.53px 99px,#fbe1e3 99px 101.48px,#fdeff0 101.48px 103.95px,#fbe1e3 103.95px 106.42px,#fbe1e2 106.42px 108.9px,#fef8f9 108.9px 111.38px,#f5f6fb 111.38px 113.85px,#fbe2e3 113.85px 116.33px,#fad8da 116.33px 118.8px,#fbdedf 118.8px 121.28px,#f5f6fb 121.28px 123.75px,#fcebec 123.75px 126.23px,#fef8f8 126.23px 128.7px,#fcfcfe 128.7px 131.18px,#f7f8fc 131.18px 133.65px,#e0e1f2 133.65px 136.12px,#e3e5f4 136.12px 138.6px,#ebecf7 138.6px 141.08px,#c5c8e7 141.08px 143.55px,#aaaedc 143.55px 146.03px,#bec1e4 146.03px 148.5px)"></div><div class="h" style="left:358.3px;top:46.62px;width:148.5px;height:1.16px;background:linear-gradient(90deg,#f8cbcd 0px 2.48px,#fef9f9 2.48px 4.95px,#fbe0e1 4.95px 7.43px,#f8c5c8 7.43px 9.9px,#fad6d8 9.9px 12.38px,#f9d2d4 12.38px 14.85px,#fdf0f1 14.85px 17.32px,#f7c2c5 17.32px 19.8px,#f5b0b4 19.8px 22.28px,#fbdcde 22.28px 24.75px,#fce8ea 24.75px 27.23px,#fdf3f3 27.23px 29.7px,#f8c7c9 29.7px 32.18px,#fad9db 32.18px 34.65px,#fdedee 34.65px 37.12px,#f7c2c5 37.12px 39.6px,#f9cdcf 39.6px 42.08px,#f9d2d4 42.08px 44.55px,#f8f8fc 44.55px 47.02px,#fbe3e4 47.02px 49.5px,#fad4d6 49.5px 51.98px,#fffdfd 51.98px 54.45px,#f9cfd1 54.45px 56.93px,#f8c5c8 56.93px 59.4px,#f9ced1 59.4px 61.88px,#fef6f6 61.88px 64.35px,#fef6f7 64.35px 66.83px,#f9d3d5 66.83px 69.3px,#f9d3d5 69.3px 71.78px,#f9cfd1 71.78px 74.25px,#f9d0d2 74.25px 76.73px,#fdeeee 76.73px 79.2px,#fef5f6 79.2px 81.67px,#e9eaf6 81.67px 84.15px,#fbdddf 84.15px 86.62px,#f7bdc0 86.62px 89.1px,#fefafa 89.1px 91.58px,#fffbfc 91.58px 94.05px,#fce4e5 94.05px 96.53px,#fcebeb 96.53px 99px,#edeef8 99px 101.48px,#fafafd 101.48px 103.95px,#f1f2f9 103.95px 106.42px,#f8cacc 106.42px 108.9px,#f7f8fc 108.9px 111.38px,#fce5e7 111.38px 113.85px,#f9cfd1 113.85px 116.33px,#f9d0d3 116.33px 118.8px,#fbdcdd 118.8px 121.28px,#fadadc 121.28px 123.75px,#dee0f2 123.75px 126.23px,#e9eaf6 126.23px 128.7px,#dadbf0 128.7px 131.18px,#dbddf0 131.18px 133.65px,#fdedee 133.65px 136.12px,#afb3de 136.12px 138.6px,#d6d8ee 138.6px 141.08px,#a8addb 141.08px 143.55px,#d7d9ee 143.55px 146.03px,#ced0eb 146.03px 148.5px)"></div><div class="h" style="left:358.3px;top:47.63px;width:148.5px;height:1.16px;background:linear-gradient(90deg,#fadbdd 0px 2.48px,#f3a3a8 2.48px 4.95px,#f9d0d2 4.95px 7.43px,#f6b6b9 7.43px 9.9px,#f9cdcf 9.9px 12.38px,#fbe1e2 12.38px 14.85px,#fbdedf 14.85px 17.32px,#fad9db 17.32px 19.8px,#f8cacc 19.8px 22.28px,#fad5d7 22.28px 24.75px,#f4a5a9 24.75px 27.23px,#fbdee0 27.23px 29.7px,#fce5e6 29.7px 32.18px,#fdebec 32.18px 34.65px,#fdeeee 34.65px 37.12px,#fffdfd 37.12px 39.6px,#fef4f4 39.6px 42.08px,#f9cbce 42.08px 44.55px,#fbdfe0 44.55px 47.02px,#fce5e6 47.02px 49.5px,#fadadc 49.5px 51.98px,#f9cbce 51.98px 54.45px,#fad6d8 54.45px 56.93px,#fad4d6 56.93px 59.4px,#fdf2f3 59.4px 61.88px,#fdeced 61.88px 64.35px,#fef8f9 64.35px 66.83px,#fceaeb 66.83px 69.3px,#fffbfb 69.3px 71.78px,#fdf2f3 71.78px 74.25px,#fdeff0 74.25px 76.73px,#fdf1f1 76.73px 79.2px,#fdf3f3 79.2px 81.67px,#fef9f9 81.67px 84.15px,#f9d2d4 84.15px 86.62px,#fef7f7 86.62px 89.1px,#f8f8fc 89.1px 91.58px,#fdedee 91.58px 94.05px,#f4f5fb 94.05px 96.53px,#f4f4fa 96.53px 99px,#fdf2f3 99px 101.48px,#e6e7f4 101.48px 103.95px,#c4c7e7 103.95px 106.42px,#fdf1f1 106.42px 108.9px,#fbe1e2 108.9px 111.38px,#e2e4f3 111.38px 113.85px,#f1f2f9 113.85px 116.33px,#fdeeef 116.33px 118.8px,#d9dbef 118.8px 121.28px,#edeef8 121.28px 123.75px,#dfe0f2 123.75px 126.23px,#ecedf7 126.23px 128.7px,#bfc2e5 128.7px 131.18px,#f3f4fa 131.18px 133.65px,#d6d8ee 133.65px 136.12px,#d8d9ef 136.12px 138.6px,#c3c6e6 138.6px 141.08px,#959bd3 141.08px 143.55px,#b7bae1 143.55px 146.03px,#969bd4 146.03px 148.5px)"></div><div class="h" style="left:358.3px;top:48.64px;width:148.5px;height:1.16px;background:linear-gradient(90deg,#f8c8cb 0px 2.48px,#fbdcde 2.48px 4.95px,#f9d1d3 4.95px 7.43px,#f9d0d2 7.43px 9.9px,#f6bbbe 9.9px 12.38px,#f7bcbf 12.38px 14.85px,#fce4e5 14.85px 17.32px,#f9cfd1 17.32px 19.8px,#f5b0b3 19.8px 22.28px,#f8c6c9 22.28px 24.75px,#fbe2e3 24.75px 27.23px,#fad5d7 27.23px 29.7px,#fadbdd 29.7px 32.18px,#f7c0c3 32.18px 34.65px,#fad5d7 34.65px 37.12px,#f9ced0 37.12px 39.6px,#f4a7ab 39.6px 42.08px,#fef6f7 42.08px 44.55px,#fdeff0 44.55px 47.02px,#fefeff 47.02px 49.5px,#fffefe 49.5px 51.98px,#f8c9cb 51.98px 54.45px,#fad6d8 54.45px 56.93px,#f6babd 56.93px 59.4px,#f5f5fb 59.4px 61.88px,#fdf3f3 61.88px 64.35px,#f7c0c3 64.35px 66.83px,#f8cacd 66.83px 69.3px,#f9cfd1 69.3px 71.78px,#f9d0d2 71.78px 74.25px,#fbe3e4 74.25px 76.73px,#fce5e6 76.73px 79.2px,#fce5e6 79.2px 81.67px,#fad4d6 81.67px 84.15px,#fcebec 84.15px 86.62px,#fbe1e3 86.62px 89.1px,#f8c9cc 89.1px 91.58px,#fbfcfe 91.58px 94.05px,#fffbfc 94.05px 96.53px,#fbe0e1 96.53px 99px,#fdf3f3 99px 101.48px,#fdf1f2 101.48px 103.95px,#f7c1c4 103.95px 106.42px,#fce6e8 106.42px 108.9px,#fefafa 108.9px 111.38px,#fad9db 111.38px 113.85px,#f6bbbe 113.85px 116.33px,#f3f4fa 116.33px 118.8px,#fbfcfe 118.8px 121.28px,#fef5f5 121.28px 123.75px,#f1f2f9 123.75px 126.23px,#fad8da 126.23px 128.7px,#fafbfd 128.7px 131.18px,#dfe1f2 131.18px 133.65px,#eaebf6 133.65px 136.12px,#c8cae8 136.12px 138.6px,#c4c7e6 138.6px 141.08px,#cbcde9 141.08px 143.55px,#f3f4fa 143.55px 146.03px,#8a90cf 146.03px 148.5px)"></div><div class="h" style="left:358.3px;top:49.65px;width:148.5px;height:1.16px;background:linear-gradient(90deg,#f8c5c8 0px 2.48px,#f5b2b5 2.48px 4.95px,#f7c0c3 4.95px 7.43px,#f4a7ab 7.43px 9.9px,#f8c8cb 9.9px 12.38px,#f9d0d2 12.38px 14.85px,#fad7d9 14.85px 17.32px,#fce7e9 17.32px 19.8px,#f5b2b5 19.8px 22.28px,#fdf0f1 22.28px 24.75px,#fadadc 24.75px 27.23px,#fce4e5 27.23px 29.7px,#fceaeb 29.7px 32.18px,#f4f4fa 32.18px 34.65px,#fce3e5 34.65px 37.12px,#fad9db 37.12px 39.6px,#fadadb 39.6px 42.08px,#f8cbce 42.08px 44.55px,#fbe2e4 44.55px 47.02px,#fdeeee 47.02px 49.5px,#fadadb 49.5px 51.98px,#f9d3d5 51.98px 54.45px,#fef6f7 54.45px 56.93px,#fafafd 56.93px 59.4px,#fefbfb 59.4px 61.88px,#f9ced0 61.88px 64.35px,#f9d0d2 64.35px 66.83px,#fefafa 66.83px 69.3px,#fce5e6 69.3px 71.78px,#fad6d8 71.78px 74.25px,#f9cccf 74.25px 76.73px,#fef9f9 76.73px 79.2px,#fdf1f1 79.2px 81.67px,#f9cdd0 81.67px 84.15px,#f6b8bc 84.15px 86.62px,#f9cdcf 86.62px 89.1px,#f6f7fb 89.1px 91.58px,#fce6e7 91.58px 94.05px,#fef7f8 94.05px 96.53px,#fdf3f4 96.53px 99px,#fdfdfe 99px 101.48px,#fffefe 101.48px 103.95px,#fef5f5 103.95px 106.42px,#f9ced0 106.42px 108.9px,#fce7e8 108.9px 111.38px,#fdeeef 111.38px 113.85px,#fef7f8 113.85px 116.33px,#f5f6fb 116.33px 118.8px,#ffffff 118.8px 121.28px,#fbe2e3 121.28px 123.75px,#fdf3f3 123.75px 126.23px,#fbe2e3 126.23px 128.7px,#eff0f8 128.7px 131.18px,#e2e3f3 131.18px 133.65px,#b9bce2 133.65px 136.12px,#dbddf0 136.12px 138.6px,#a7abda 138.6px 141.08px,#e3e4f3 141.08px 143.55px,#aeb2de 143.55px 146.03px,#b4b7e0 146.03px 148.5px)"></div><div class="h" style="left:358.3px;top:50.66px;width:148.5px;height:1.16px;background:linear-gradient(90deg,#fce7e8 0px 2.48px,#fad5d7 2.48px 4.95px,#fbe0e1 4.95px 7.43px,#f5b3b7 7.43px 9.9px,#f8c8ca 9.9px 12.38px,#fce8e9 12.38px 14.85px,#fef9f9 14.85px 17.32px,#f9d1d3 17.32px 19.8px,#fbdbdd 19.8px 22.28px,#fceaeb 22.28px 24.75px,#f8c6c8 24.75px 27.23px,#fad7d9 27.23px 29.7px,#f9d2d4 29.7px 32.18px,#fbe2e3 32.18px 34.65px,#fbe3e4 34.65px 37.12px,#fbe1e2 37.12px 39.6px,#fffbfb 39.6px 42.08px,#f8cbcd 42.08px 44.55px,#f9d1d3 44.55px 47.02px,#fefefe 47.02px 49.5px,#fad9db 49.5px 51.98px,#f7c3c6 51.98px 54.45px,#fad8da 54.45px 56.93px,#f7c2c5 56.93px 59.4px,#fce5e6 59.4px 61.88px,#fbe0e1 61.88px 64.35px,#fffdfe 64.35px 66.83px,#fef6f6 66.83px 69.3px,#f4f4fa 69.3px 71.78px,#fef7f8 71.78px 74.25px,#fbdfe1 74.25px 76.73px,#fadadc 76.73px 79.2px,#f9cdcf 79.2px 81.67px,#fce4e6 81.67px 84.15px,#fffefe 84.15px 86.62px,#fbe0e1 86.62px 89.1px,#fdedee 89.1px 91.58px,#f8c4c7 91.58px 94.05px,#f7c1c4 94.05px 96.53px,#fad8da 96.53px 99px,#f8f8fc 99px 101.48px,#fefafa 101.48px 103.95px,#fdebec 103.95px 106.42px,#fefeff 106.42px 108.9px,#fce6e7 108.9px 111.38px,#fce3e4 111.38px 113.85px,#fbe1e2 113.85px 116.33px,#fdeff0 116.33px 118.8px,#f6f7fb 118.8px 121.28px,#f4f5fa 121.28px 123.75px,#fbfcfe 123.75px 126.23px,#fcebec 126.23px 128.7px,#fdeeef 128.7px 131.18px,#fbfbfd 131.18px 133.65px,#e7e8f5 133.65px 136.12px,#e6e7f4 136.12px 138.6px,#e1e2f3 138.6px 141.08px,#e3e4f3 141.08px 143.55px,#d2d4ec 143.55px 146.03px,#989dd4 146.03px 148.5px)"></div><div class="h" style="left:358.3px;top:51.67px;width:148.5px;height:1.16px;background:linear-gradient(90deg,#f9ced0 0px 2.48px,#fbdbdd 2.48px 4.95px,#fdeff0 4.95px 7.43px,#fadbdd 7.43px 9.9px,#fbe1e3 9.9px 12.38px,#fceaeb 12.38px 14.85px,#eff0f9 14.85px 17.32px,#fce9ea 17.32px 19.8px,#fbe1e2 19.8px 22.28px,#fdeff0 22.28px 24.75px,#ededf7 24.75px 27.23px,#fce7e8 27.23px 29.7px,#fbe2e4 29.7px 32.18px,#fdeff0 32.18px 34.65px,#fdebec 34.65px 37.12px,#fffefe 37.12px 39.6px,#f9f9fc 39.6px 42.08px,#fdedee 42.08px 44.55px,#fcfdfe 44.55px 47.02px,#fef7f8 47.02px 49.5px,#f6b5b9 49.5px 51.98px,#fdeeef 51.98px 54.45px,#fffcfc 54.45px 56.93px,#dcddf0 56.93px 59.4px,#feffff 59.4px 61.88px,#fdf2f3 61.88px 64.35px,#ebecf7 64.35px 66.83px,#f4f4fa 66.83px 69.3px,#c8cbe8 69.3px 71.78px,#fffcfc 71.78px 74.25px,#e9eaf6 74.25px 76.73px,#fffcfc 76.73px 79.2px,#fdeeef 79.2px 81.67px,#eeeff8 81.67px 84.15px,#fef9f9 84.15px 86.62px,#f4f5fa 86.62px 89.1px,#e9eaf6 89.1px 91.58px,#e7e8f5 91.58px 94.05px,#d9dbef 94.05px 96.53px,#fef9f9 96.53px 99px,#fbfbfd 99px 101.48px,#d2d5ed 101.48px 103.95px,#f8f8fc 103.95px 106.42px,#d6d8ee 106.42px 108.9px,#c4c7e7 108.9px 111.38px,#fcfcfe 111.38px 113.85px,#c7c9e8 113.85px 116.33px,#f9f9fc 116.33px 118.8px,#e1e3f3 118.8px 121.28px,#ebecf7 121.28px 123.75px,#dedff1 123.75px 126.23px,#e6e8f5 126.23px 128.7px,#d1d3ec 128.7px 131.18px,#d0d3ec 131.18px 133.65px,#c5c7e7 133.65px 136.12px,#d1d4ec 136.12px 138.6px,#adb1dd 138.6px 141.08px,#c6c9e7 141.08px 143.55px,#cbcee9 143.55px 146.03px,#a5aada 146.03px 148.5px)"></div><div class="h" style="left:358.3px;top:52.67px;width:148.5px;height:1.16px;background:linear-gradient(90deg,#f6babd 0px 2.48px,#f9d0d2 2.48px 4.95px,#f9cdcf 4.95px 7.43px,#f7c2c5 7.43px 9.9px,#f9d0d3 9.9px 12.38px,#fbdedf 12.38px 14.85px,#f9cccf 14.85px 17.32px,#f8c9cb 17.32px 19.8px,#f8c7ca 19.8px 22.28px,#f7c0c3 22.28px 24.75px,#fef8f8 24.75px 27.23px,#f5b3b7 27.23px 29.7px,#fad7d9 29.7px 32.18px,#fce6e7 32.18px 34.65px,#fbdee0 34.65px 37.12px,#f9cdd0 37.12px 39.6px,#f8c5c8 39.6px 42.08px,#fbe2e3 42.08px 44.55px,#fad8d9 44.55px 47.02px,#ffffff 47.02px 49.5px,#fadadc 49.5px 51.98px,#fbe1e3 51.98px 54.45px,#fceaeb 54.45px 56.93px,#f9ced0 56.93px 59.4px,#f7bbbf 59.4px 61.88px,#f9cdd0 61.88px 64.35px,#fef7f7 64.35px 66.83px,#f8c5c8 66.83px 69.3px,#fdeff0 69.3px 71.78px,#fceaeb 71.78px 74.25px,#fef7f8 74.25px 76.73px,#fbe2e3 76.73px 79.2px,#fbe1e2 79.2px 81.67px,#fdebec 81.67px 84.15px,#fef4f5 84.15px 86.62px,#fef4f5 86.62px 89.1px,#fffbfb 89.1px 91.58px,#fbdee0 91.58px 94.05px,#fefefe 94.05px 96.53px,#fef9fa 96.53px 99px,#fffcfc 99px 101.48px,#f5f6fb 101.48px 103.95px,#ffffff 103.95px 106.42px,#e4e5f4 106.42px 108.9px,#fef4f4 108.9px 111.38px,#fdf2f3 111.38px 113.85px,#f8f9fc 113.85px 116.33px,#fbdfe0 116.33px 118.8px,#e9eaf6 118.8px 121.28px,#fffdfd 121.28px 123.75px,#fafbfd 123.75px 126.23px,#e0e2f2 126.23px 128.7px,#e2e3f3 128.7px 131.18px,#f4f5fb 131.18px 133.65px,#dee0f1 133.65px 136.12px,#dedff1 136.12px 138.6px,#f0f1f9 138.6px 141.08px,#d2d5ed 141.08px 143.55px,#a6abda 143.55px 146.03px,#b5b8e0 146.03px 148.5px)"></div><div class="h" style="left:358.3px;top:53.68px;width:148.5px;height:1.16px;background:linear-gradient(90deg,#f7c0c3 0px 2.48px,#fad7d9 2.48px 4.95px,#fdedee 4.95px 7.43px,#fcfdfe 7.43px 9.9px,#f9d1d3 9.9px 12.38px,#f6b8bc 12.38px 14.85px,#fef6f6 14.85px 17.32px,#f4f4fa 17.32px 19.8px,#f9d2d4 19.8px 22.28px,#fceaeb 22.28px 24.75px,#fce6e7 24.75px 27.23px,#fce8e9 27.23px 29.7px,#fef6f6 29.7px 32.18px,#fadadc 32.18px 34.65px,#f9d1d3 34.65px 37.12px,#fbdee0 37.12px 39.6px,#fef3f4 39.6px 42.08px,#f9d2d4 42.08px 44.55px,#fdeced 44.55px 47.02px,#fbdfe0 47.02px 49.5px,#fdfdfe 49.5px 51.98px,#fbdfe1 51.98px 54.45px,#fbdfe0 54.45px 56.93px,#fad4d6 56.93px 59.4px,#fdf1f2 59.4px 61.88px,#fce9ea 61.88px 64.35px,#fdfdfe 64.35px 66.83px,#fbe2e4 66.83px 69.3px,#fce6e7 69.3px 71.78px,#fbe1e2 71.78px 74.25px,#fcfcfe 74.25px 76.73px,#eaebf6 76.73px 79.2px,#fffefe 79.2px 81.67px,#fcfcfe 81.67px 84.15px,#f0f1f9 84.15px 86.62px,#fdf3f3 86.62px 89.1px,#fdeded 89.1px 91.58px,#fefafa 91.58px 94.05px,#fdeced 94.05px 96.53px,#fffcfd 96.53px 99px,#e4e5f4 99px 101.48px,#ebecf7 101.48px 103.95px,#eeeff8 103.95px 106.42px,#fffbfc 106.42px 108.9px,#fef8f8 108.9px 111.38px,#f5f5fb 111.38px 113.85px,#fef8f8 113.85px 116.33px,#dee0f1 116.33px 118.8px,#eaebf6 118.8px 121.28px,#fef7f8 121.28px 123.75px,#ececf7 123.75px 126.23px,#f3f4fa 126.23px 128.7px,#b1b5df 128.7px 131.18px,#b1b5df 131.18px 133.65px,#bdc0e4 133.65px 136.12px,#dee0f2 136.12px 138.6px,#e6e8f5 138.6px 141.08px,#b3b7e0 141.08px 143.55px,#a7abda 143.55px 146.03px,#a1a6d8 146.03px 148.5px)"></div><div class="h" style="left:358.3px;top:54.69px;width:148.5px;height:1.16px;background:linear-gradient(90deg,#fbe1e3 0px 2.48px,#f8c3c6 2.48px 4.95px,#fad8d9 4.95px 7.43px,#f4a9ad 7.43px 9.9px,#f8c4c6 9.9px 12.38px,#fce3e5 12.38px 14.85px,#f9d1d3 14.85px 17.32px,#fadbdc 17.32px 19.8px,#f8c7ca 19.8px 22.28px,#f8c6c9 22.28px 24.75px,#fbe3e4 24.75px 27.23px,#f8c9cc 27.23px 29.7px,#f9d1d3 29.7px 32.18px,#fbe1e2 32.18px 34.65px,#fadbdc 34.65px 37.12px,#f9d3d5 37.12px 39.6px,#fceaeb 39.6px 42.08px,#fdf3f3 42.08px 44.55px,#f8cacc 44.55px 47.02px,#fce7e8 47.02px 49.5px,#fef5f5 49.5px 51.98px,#fbdfe1 51.98px 54.45px,#f4f5fa 54.45px 56.93px,#fcebec 56.93px 59.4px,#f4f5fa 59.4px 61.88px,#fef8f8 61.88px 64.35px,#e9eaf6 64.35px 66.83px,#fefefe 66.83px 69.3px,#fbdfe1 69.3px 71.78px,#fef8f8 71.78px 74.25px,#f0f0f9 74.25px 76.73px,#f9d1d3 76.73px 79.2px,#f9f9fd 79.2px 81.67px,#fad9db 81.67px 84.15px,#f9f9fc 84.15px 86.62px,#e4e6f4 86.62px 89.1px,#fad5d7 89.1px 91.58px,#f7f7fc 91.58px 94.05px,#fdeff0 94.05px 96.53px,#fce7e8 96.53px 99px,#e1e3f3 99px 101.48px,#fcfdfe 101.48px 103.95px,#eeeff8 103.95px 106.42px,#fef9f9 106.42px 108.9px,#f7f7fc 108.9px 111.38px,#dcdef1 111.38px 113.85px,#f6f6fb 113.85px 116.33px,#fefafb 116.33px 118.8px,#eaebf6 118.8px 121.28px,#f7f8fc 121.28px 123.75px,#dcddf0 123.75px 126.23px,#e1e2f2 126.23px 128.7px,#e4e5f4 128.7px 131.18px,#dbddf0 131.18px 133.65px,#edeef8 133.65px 136.12px,#e1e3f3 136.12px 138.6px,#dadcf0 138.6px 141.08px,#d3d5ed 141.08px 143.55px,#c2c5e6 143.55px 146.03px,#a2a7d9 146.03px 148.5px)"></div><div class="h" style="left:358.3px;top:55.7px;width:148.5px;height:1.16px;background:linear-gradient(90deg,#f8c7c9 0px 2.48px,#f6b9bd 2.48px 4.95px,#fbdbdd 4.95px 7.43px,#fce7e8 7.43px 9.9px,#fce3e5 9.9px 12.38px,#f8cacd 12.38px 14.85px,#fbdfe1 14.85px 17.32px,#fffcfc 17.32px 19.8px,#fdecec 19.8px 22.28px,#fefafa 22.28px 24.75px,#fdeff0 24.75px 27.23px,#ffffff 27.23px 29.7px,#fefeff 29.7px 32.18px,#f9ced1 32.18px 34.65px,#fad9db 34.65px 37.12px,#ebecf7 37.12px 39.6px,#f7f8fc 39.6px 42.08px,#fffdfd 42.08px 44.55px,#fffdfd 44.55px 47.02px,#ebecf7 47.02px 49.5px,#fce4e6 49.5px 51.98px,#e4e5f4 51.98px 54.45px,#fcebec 54.45px 56.93px,#fdeced 56.93px 59.4px,#fafafd 59.4px 61.88px,#f3f3fa 61.88px 64.35px,#fffefe 64.35px 66.83px,#fffdfd 66.83px 69.3px,#d1d4ec 69.3px 71.78px,#e2e3f3 71.78px 74.25px,#fef9f9 74.25px 76.73px,#f6f7fb 76.73px 79.2px,#eff0f8 79.2px 81.67px,#e2e3f3 81.67px 84.15px,#e7e8f5 84.15px 86.62px,#e4e5f4 86.62px 89.1px,#f9d0d2 89.1px 91.58px,#d8daef 91.58px 94.05px,#fdeeef 94.05px 96.53px,#f9f9fc 96.53px 99px,#f2f3fa 99px 101.48px,#f0f1f9 101.48px 103.95px,#e3e5f4 103.95px 106.42px,#fdf3f3 106.42px 108.9px,#f3f4fa 108.9px 111.38px,#e7e8f5 111.38px 113.85px,#e4e5f4 113.85px 116.33px,#e9eaf6 116.33px 118.8px,#cbcde9 118.8px 121.28px,#d6d8ee 121.28px 123.75px,#cbceea 123.75px 126.23px,#e0e1f2 126.23px 128.7px,#dadcf0 128.7px 131.18px,#a3a8d9 131.18px 133.65px,#c0c3e5 133.65px 136.12px,#d4d6ed 136.12px 138.6px,#a0a5d8 138.6px 141.08px,#9da2d6 141.08px 143.55px,#c5c8e7 143.55px 146.03px,#a9addb 146.03px 148.5px)"></div><div class="h" style="left:358.3px;top:56.71px;width:148.5px;height:1.16px;background:linear-gradient(90deg,#fce3e5 0px 2.48px,#fef5f5 2.48px 4.95px,#fad9da 4.95px 7.43px,#fce9ea 7.43px 9.9px,#fadadc 9.9px 12.38px,#fad7d9 12.38px 14.85px,#f9d2d4 14.85px 17.32px,#fceaeb 17.32px 19.8px,#fdeff0 19.8px 22.28px,#fce5e6 22.28px 24.75px,#fce9ea 24.75px 27.23px,#fce4e5 27.23px 29.7px,#fef4f5 29.7px 32.18px,#fdf0f0 32.18px 34.65px,#fef8f9 34.65px 37.12px,#fefafa 37.12px 39.6px,#fcebec 39.6px 42.08px,#fad7d9 42.08px 44.55px,#fffcfd 44.55px 47.02px,#fce6e7 47.02px 49.5px,#fdeced 49.5px 51.98px,#fdf2f3 51.98px 54.45px,#fce8e9 54.45px 56.93px,#fbfbfd 56.93px 59.4px,#fdeded 59.4px 61.88px,#fef4f4 61.88px 64.35px,#bbbee3 64.35px 66.83px,#fef5f5 66.83px 69.3px,#fdf1f2 69.3px 71.78px,#fad5d7 71.78px 74.25px,#e8e9f5 74.25px 76.73px,#fefeff 76.73px 79.2px,#fffbfc 79.2px 81.67px,#e6e7f5 81.67px 84.15px,#fdeced 84.15px 86.62px,#fffdfd 86.62px 89.1px,#e6e7f5 89.1px 91.58px,#dcdef1 91.58px 94.05px,#ebecf7 94.05px 96.53px,#fad9db 96.53px 99px,#fbdfe1 99px 101.48px,#bdc1e4 101.48px 103.95px,#cacce9 103.95px 106.42px,#fbfbfd 106.42px 108.9px,#eaebf6 108.9px 111.38px,#dee0f1 111.38px 113.85px,#f6f7fb 113.85px 116.33px,#ebecf7 116.33px 118.8px,#ebecf7 118.8px 121.28px,#e6e7f5 121.28px 123.75px,#c5c8e7 123.75px 126.23px,#f2f2f9 126.23px 128.7px,#c8cbe8 128.7px 131.18px,#e4e5f4 131.18px 133.65px,#d6d8ee 133.65px 136.12px,#c4c7e6 136.12px 138.6px,#c1c4e5 138.6px 141.08px,#b8bce2 141.08px 143.55px,#8e94d0 143.55px 146.03px,#a9addb 146.03px 148.5px)"></div><div class="h" style="left:358.3px;top:57.72px;width:148.5px;height:1.16px;background:linear-gradient(90deg,#f6bbbe 0px 2.48px,#fce8e9 2.48px 4.95px,#fce7e8 4.95px 7.43px,#f5b1b4 7.43px 9.9px,#f6b8bb 9.9px 12.38px,#fdeced 12.38px 14.85px,#f7c2c5 14.85px 17.32px,#f9ced0 17.32px 19.8px,#f6b9bd 19.8px 22.28px,#fad7d8 22.28px 24.75px,#fad6d8 24.75px 27.23px,#fbe2e4 27.23px 29.7px,#f9d0d2 29.7px 32.18px,#fad7d9 32.18px 34.65px,#fce4e5 34.65px 37.12px,#fbdfe0 37.12px 39.6px,#fce9ea 39.6px 42.08px,#f9cdcf 42.08px 44.55px,#fdf1f2 44.55px 47.02px,#fffefe 47.02px 49.5px,#fdf3f3 49.5px 51.98px,#f8c8ca 51.98px 54.45px,#fdebec 54.45px 56.93px,#fad4d6 56.93px 59.4px,#f9d3d5 59.4px 61.88px,#fdeff0 61.88px 64.35px,#fad5d7 64.35px 66.83px,#fbdcde 66.83px 69.3px,#fce9ea 69.3px 71.78px,#fef9f9 71.78px 74.25px,#fdeced 74.25px 76.73px,#f7f7fc 76.73px 79.2px,#fef3f4 79.2px 81.67px,#fffbfb 81.67px 84.15px,#fce7e8 84.15px 86.62px,#fceaeb 86.62px 89.1px,#fefefe 89.1px 91.58px,#fbe1e3 91.58px 94.05px,#fbdbdd 94.05px 96.53px,#fef5f6 96.53px 99px,#f7f7fc 99px 101.48px,#fdeeef 101.48px 103.95px,#d1d3ec 103.95px 106.42px,#f6f7fb 106.42px 108.9px,#fdf0f1 108.9px 111.38px,#f9d3d5 111.38px 113.85px,#eff0f8 113.85px 116.33px,#fbe0e1 116.33px 118.8px,#f9d2d4 118.8px 121.28px,#fbe0e2 121.28px 123.75px,#c0c3e5 123.75px 126.23px,#fffcfc 126.23px 128.7px,#eaebf6 128.7px 131.18px,#f6f7fb 131.18px 133.65px,#d9dbef 133.65px 136.12px,#cbcde9 136.12px 138.6px,#ced0eb 138.6px 141.08px,#edeef7 141.08px 143.55px,#dadcf0 143.55px 146.03px,#bec1e4 146.03px 148.5px)"></div><div class="h" style="left:358.3px;top:58.72px;width:148.5px;height:1.16px;background:linear-gradient(90deg,#f9cfd2 0px 2.48px,#f8c6c9 2.48px 4.95px,#f9ced0 4.95px 7.43px,#fbddde 7.43px 9.9px,#fdebec 9.9px 12.38px,#fdeeef 12.38px 14.85px,#fce9ea 14.85px 17.32px,#fdedee 17.32px 19.8px,#fafafd 19.8px 22.28px,#fcfcfe 22.28px 24.75px,#f9d2d4 24.75px 27.23px,#fffefe 27.23px 29.7px,#fafbfd 29.7px 32.18px,#fce9ea 32.18px 34.65px,#f8cacd 34.65px 37.12px,#f9d0d2 37.12px 39.6px,#fef5f6 39.6px 42.08px,#fafafd 42.08px 44.55px,#fefbfb 44.55px 47.02px,#fafafd 47.02px 49.5px,#fffefe 49.5px 51.98px,#fce8ea 51.98px 54.45px,#f3f4fa 54.45px 56.93px,#f8f8fc 56.93px 59.4px,#fffcfd 59.4px 61.88px,#fef9f9 61.88px 64.35px,#f4f5fb 64.35px 66.83px,#f3f3fa 66.83px 69.3px,#eaebf6 69.3px 71.78px,#f1f2f9 71.78px 74.25px,#fef3f4 74.25px 76.73px,#f9f9fd 76.73px 79.2px,#bcc0e3 79.2px 81.67px,#fef5f5 81.67px 84.15px,#f9f9fd 84.15px 86.62px,#e7e8f5 86.62px 89.1px,#f3f3fa 89.1px 91.58px,#b8bbe2 91.58px 94.05px,#d3d5ed 94.05px 96.53px,#fdf1f1 96.53px 99px,#fbdddf 99px 101.48px,#fbdddf 101.48px 103.95px,#e1e3f3 103.95px 106.42px,#f0f1f9 106.42px 108.9px,#fefeff 108.9px 111.38px,#d3d5ed 111.38px 113.85px,#fdedee 113.85px 116.33px,#dbddf0 116.33px 118.8px,#efeff8 118.8px 121.28px,#cacde9 121.28px 123.75px,#e5e6f4 123.75px 126.23px,#d8daef 126.23px 128.7px,#eaebf6 128.7px 131.18px,#b7bae1 131.18px 133.65px,#c9cce9 133.65px 136.12px,#ebecf7 136.12px 138.6px,#a7abda 138.6px 141.08px,#c2c5e6 141.08px 143.55px,#bfc2e4 143.55px 146.03px,#a7abda 146.03px 148.5px)"></div><div class="h" style="left:358.3px;top:59.73px;width:148.5px;height:1.16px;background:linear-gradient(90deg,#fad5d7 0px 2.48px,#f5b2b5 2.48px 4.95px,#f6b9bc 4.95px 7.43px,#f8c7ca 7.43px 9.9px,#f9cfd1 9.9px 12.38px,#fdefef 12.38px 14.85px,#fad5d7 14.85px 17.32px,#f5b1b5 17.32px 19.8px,#f7c3c6 19.8px 22.28px,#fef9f9 22.28px 24.75px,#f5f5fb 24.75px 27.23px,#fdeced 27.23px 29.7px,#fbdbdd 29.7px 32.18px,#fdeced 32.18px 34.65px,#fce8e9 34.65px 37.12px,#fbdbdd 37.12px 39.6px,#f9d1d3 39.6px 42.08px,#fbe1e2 42.08px 44.55px,#f9cbce 44.55px 47.02px,#f7f7fc 47.02px 49.5px,#fbdfe1 49.5px 51.98px,#fbe1e3 51.98px 54.45px,#f2f3fa 54.45px 56.93px,#f9d2d4 56.93px 59.4px,#edeef8 59.4px 61.88px,#eff0f8 61.88px 64.35px,#f6b7ba 64.35px 66.83px,#fad6d8 66.83px 69.3px,#fdebec 69.3px 71.78px,#fad7d9 71.78px 74.25px,#fbdddf 74.25px 76.73px,#eeeff8 76.73px 79.2px,#fdeeef 79.2px 81.67px,#fbdbdd 81.67px 84.15px,#ffffff 84.15px 86.62px,#fffbfb 86.62px 89.1px,#f6f7fb 89.1px 91.58px,#fdeff0 91.58px 94.05px,#f2f2fa 94.05px 96.53px,#f0f1f9 96.53px 99px,#e1e3f3 99px 101.48px,#e6e7f5 101.48px 103.95px,#fdfdfe 103.95px 106.42px,#fffdfd 106.42px 108.9px,#eeeff8 108.9px 111.38px,#dfe0f2 111.38px 113.85px,#fbfbfd 113.85px 116.33px,#fafafd 116.33px 118.8px,#fef4f4 118.8px 121.28px,#e0e1f2 121.28px 123.75px,#dddef1 123.75px 126.23px,#ebecf7 126.23px 128.7px,#fcfcfe 128.7px 131.18px,#d5d8ee 131.18px 133.65px,#d0d2eb 133.65px 136.12px,#b9bce2 136.12px 138.6px,#c0c3e5 138.6px 141.08px,#d7d9ee 141.08px 143.55px,#d0d2eb 143.55px 146.03px,#d0d3ec 146.03px 148.5px)"></div><div class="h" style="left:358.3px;top:60.74px;width:148.5px;height:1.16px;background:linear-gradient(90deg,#fcebec 0px 2.48px,#f6b5b9 2.48px 4.95px,#fbdedf 4.95px 7.43px,#f7bdc0 7.43px 9.9px,#fefeff 9.9px 12.38px,#f9cfd1 12.38px 14.85px,#fbe2e3 14.85px 17.32px,#f6b3b7 17.32px 19.8px,#f9ced0 19.8px 22.28px,#f6b5b9 22.28px 24.75px,#fbdddf 24.75px 27.23px,#f4a9ad 27.23px 29.7px,#fbe0e1 29.7px 32.18px,#f5adb1 32.18px 34.65px,#fce3e5 34.65px 37.12px,#fdf0f0 37.12px 39.6px,#f8c7ca 39.6px 42.08px,#fce5e7 42.08px 44.55px,#fbdfe1 44.55px 47.02px,#fffdfd 47.02px 49.5px,#fce8e9 49.5px 51.98px,#fbdfe1 51.98px 54.45px,#fdf3f3 54.45px 56.93px,#fbdcdd 56.93px 59.4px,#e7e8f5 59.4px 61.88px,#f9d3d5 61.88px 64.35px,#fdf1f2 64.35px 66.83px,#f8c9cb 66.83px 69.3px,#fdf3f3 69.3px 71.78px,#fefbfb 71.78px 74.25px,#fef7f8 74.25px 76.73px,#fce9ea 76.73px 79.2px,#fbe3e4 79.2px 81.67px,#fffbfc 81.67px 84.15px,#fafafd 84.15px 86.62px,#fceaeb 86.62px 89.1px,#fbe3e4 89.1px 91.58px,#e2e4f3 91.58px 94.05px,#f0f1f9 94.05px 96.53px,#f7f7fb 96.53px 99px,#fad4d6 99px 101.48px,#fbe0e2 101.48px 103.95px,#fdebec 103.95px 106.42px,#fef3f4 106.42px 108.9px,#e7e8f5 108.9px 111.38px,#fce8e9 111.38px 113.85px,#f3f3fa 113.85px 116.33px,#eaebf6 116.33px 118.8px,#fbdcdd 118.8px 121.28px,#d4d6ed 121.28px 123.75px,#fdf2f3 123.75px 126.23px,#edeef8 126.23px 128.7px,#d1d3ec 128.7px 131.18px,#e3e4f3 131.18px 133.65px,#c8cbe8 133.65px 136.12px,#d9dbef 136.12px 138.6px,#c3c6e6 138.6px 141.08px,#b2b6df 141.08px 143.55px,#ffffff 143.55px 146.03px,#b7bae1 146.03px 148.5px)"></div><div class="h" style="left:358.3px;top:61.75px;width:148.5px;height:1.16px;background:linear-gradient(90deg,#fad5d7 0px 2.48px,#fdedee 2.48px 4.95px,#fbdee0 4.95px 7.43px,#f4f5fa 7.43px 9.9px,#f7f8fc 9.9px 12.38px,#c7cae8 12.38px 14.85px,#fbdcde 14.85px 17.32px,#fceaeb 17.32px 19.8px,#f0f0f9 19.8px 22.28px,#fce4e5 22.28px 24.75px,#fceaeb 24.75px 27.23px,#f6b8bb 27.23px 29.7px,#fef5f5 29.7px 32.18px,#fce7e8 32.18px 34.65px,#fdeff0 34.65px 37.12px,#fdedee 37.12px 39.6px,#fefeff 39.6px 42.08px,#f5f5fb 42.08px 44.55px,#fdf2f3 44.55px 47.02px,#fce8e9 47.02px 49.5px,#e1e2f3 49.5px 51.98px,#e0e2f2 51.98px 54.45px,#f6f7fb 54.45px 56.93px,#fbe0e2 56.93px 59.4px,#f0f1f9 59.4px 61.88px,#d0d2eb 61.88px 64.35px,#fefafb 64.35px 66.83px,#fffdfd 66.83px 69.3px,#fce4e5 69.3px 71.78px,#f3f3fa 71.78px 74.25px,#fce6e7 74.25px 76.73px,#dddff1 76.73px 79.2px,#fefeff 79.2px 81.67px,#ededf7 81.67px 84.15px,#cfd2eb 84.15px 86.62px,#e1e3f3 86.62px 89.1px,#fffcfc 89.1px 91.58px,#fcfdfe 91.58px 94.05px,#dcddf0 94.05px 96.53px,#fafafd 96.53px 99px,#f4f5fb 99px 101.48px,#f3f3fa 101.48px 103.95px,#e5e6f4 103.95px 106.42px,#e4e5f4 106.42px 108.9px,#cbcde9 108.9px 111.38px,#d9dbef 111.38px 113.85px,#dcdef1 113.85px 116.33px,#c9cbe9 116.33px 118.8px,#cfd2eb 118.8px 121.28px,#d4d6ed 121.28px 123.75px,#d0d2ec 123.75px 126.23px,#dddff1 126.23px 128.7px,#acb0dd 128.7px 131.18px,#b4b8e0 131.18px 133.65px,#bdc1e4 133.65px 136.12px,#abafdc 136.12px 138.6px,#b5b9e0 138.6px 141.08px,#9fa4d7 141.08px 143.55px,#bdc0e4 143.55px 146.03px,#9a9fd5 146.03px 148.5px)"></div><div class="h" style="left:358.3px;top:62.76px;width:148.5px;height:1.16px;background:linear-gradient(90deg,#fad5d7 0px 2.48px,#f5adb1 2.48px 4.95px,#f29a9f 4.95px 7.43px,#fdeced 7.43px 9.9px,#f8c6c9 9.9px 12.38px,#f8c4c6 12.38px 14.85px,#f5b0b4 14.85px 17.32px,#f4a8ac 17.32px 19.8px,#f9ced1 19.8px 22.28px,#fdf0f0 22.28px 24.75px,#f7c0c3 24.75px 27.23px,#f6babe 27.23px 29.7px,#f8c8cb 29.7px 32.18px,#f9d3d5 32.18px 34.65px,#fce9ea 34.65px 37.12px,#f3a2a7 37.12px 39.6px,#fef5f6 39.6px 42.08px,#fffefe 42.08px 44.55px,#f8c9cb 44.55px 47.02px,#fadadc 47.02px 49.5px,#fad3d5 49.5px 51.98px,#fbdcde 51.98px 54.45px,#f7c1c4 54.45px 56.93px,#f8c8cb 56.93px 59.4px,#fef6f7 59.4px 61.88px,#fad6d8 61.88px 64.35px,#f6f7fb 64.35px 66.83px,#e9eaf6 66.83px 69.3px,#fad7d9 69.3px 71.78px,#fffdfd 71.78px 74.25px,#dbdcf0 74.25px 76.73px,#fef8f8 76.73px 79.2px,#f6f7fb 79.2px 81.67px,#fdf0f1 81.67px 84.15px,#ffffff 84.15px 86.62px,#eeeff8 86.62px 89.1px,#eeeff8 89.1px 91.58px,#fdf2f3 91.58px 94.05px,#e5e7f4 94.05px 96.53px,#fafafd 96.53px 99px,#e0e2f2 99px 101.48px,#fdfdfe 101.48px 103.95px,#fce5e7 103.95px 106.42px,#fcfcfe 106.42px 108.9px,#fef8f8 108.9px 111.38px,#f6f6fb 111.38px 113.85px,#d6d8ee 113.85px 116.33px,#e2e3f3 116.33px 118.8px,#e8e9f5 118.8px 121.28px,#eeeff8 121.28px 123.75px,#d6d8ee 123.75px 126.23px,#eeeff8 126.23px 128.7px,#d0d2ec 128.7px 131.18px,#dfe0f2 131.18px 133.65px,#dbddf0 133.65px 136.12px,#c1c4e5 136.12px 138.6px,#edeef8 138.6px 141.08px,#d7d9ee 141.08px 143.55px,#d6d8ee 143.55px 146.03px,#d2d4ec 146.03px 148.5px)"></div><div class="h" style="left:358.3px;top:63.77px;width:148.5px;height:1.16px;background:linear-gradient(90deg,#fef5f6 0px 2.48px,#fce8e9 2.48px 4.95px,#fbdee0 4.95px 7.43px,#f6b7ba 7.43px 9.9px,#fbdbdd 9.9px 12.38px,#f7c3c6 12.38px 14.85px,#fce9ea 14.85px 17.32px,#fce7e8 17.32px 19.8px,#fbe1e2 19.8px 22.28px,#f7c1c4 22.28px 24.75px,#ffffff 24.75px 27.23px,#fbe0e1 27.23px 29.7px,#fad5d7 29.7px 32.18px,#fbdddf 32.18px 34.65px,#fbe2e4 34.65px 37.12px,#f9d3d5 37.12px 39.6px,#fbdfe1 39.6px 42.08px,#fffefe 42.08px 44.55px,#fbdcdd 44.55px 47.02px,#fffdfd 47.02px 49.5px,#fef5f6 49.5px 51.98px,#f9cfd2 51.98px 54.45px,#f7bbbf 54.45px 56.93px,#fad3d5 56.93px 59.4px,#fdeced 59.4px 61.88px,#f6f6fb 61.88px 64.35px,#f4f5fb 64.35px 66.83px,#fad6d8 66.83px 69.3px,#fef6f6 69.3px 71.78px,#e2e3f3 71.78px 74.25px,#fbdee0 74.25px 76.73px,#fef6f7 76.73px 79.2px,#fce8e9 79.2px 81.67px,#fffefe 81.67px 84.15px,#c8cbe8 84.15px 86.62px,#e4e6f4 86.62px 89.1px,#eff0f8 89.1px 91.58px,#ededf7 91.58px 94.05px,#fdeff0 94.05px 96.53px,#dee0f1 96.53px 99px,#e9eaf6 99px 101.48px,#e8e9f5 101.48px 103.95px,#e5e6f4 103.95px 106.42px,#cfd2eb 106.42px 108.9px,#c9cce9 108.9px 111.38px,#abafdc 111.38px 113.85px,#e6e8f5 113.85px 116.33px,#d9dbef 116.33px 118.8px,#e0e2f2 118.8px 121.28px,#c4c7e6 121.28px 123.75px,#d8daef 123.75px 126.23px,#c2c5e6 126.23px 128.7px,#bfc2e4 128.7px 131.18px,#dadbef 131.18px 133.65px,#dee0f1 133.65px 136.12px,#dbddf0 136.12px 138.6px,#cccfea 138.6px 141.08px,#c3c6e6 141.08px 143.55px,#e7e8f5 143.55px 146.03px,#e2e3f3 146.03px 148.5px)"></div><div class="h" style="left:358.3px;top:64.78px;width:148.5px;height:1.16px;background:linear-gradient(90deg,#f9cfd1 0px 2.48px,#fadbdd 2.48px 4.95px,#f7bdc0 4.95px 7.43px,#f7c0c3 7.43px 9.9px,#fbddde 9.9px 12.38px,#f2989d 12.38px 14.85px,#fefbfb 14.85px 17.32px,#fbe1e2 17.32px 19.8px,#f8cbcd 19.8px 22.28px,#f7bcc0 22.28px 24.75px,#fffdfd 24.75px 27.23px,#fbe0e1 27.23px 29.7px,#f6b8bc 29.7px 32.18px,#f6bbbe 32.18px 34.65px,#fbe2e3 34.65px 37.12px,#fbdddf 37.12px 39.6px,#fef3f4 39.6px 42.08px,#fad9db 42.08px 44.55px,#fefbfb 44.55px 47.02px,#ecedf7 47.02px 49.5px,#f5f6fb 49.5px 51.98px,#fce8e9 51.98px 54.45px,#f6f6fb 54.45px 56.93px,#fad5d7 56.93px 59.4px,#f9d3d5 59.4px 61.88px,#fbdbdd 61.88px 64.35px,#fce5e6 64.35px 66.83px,#fbdcde 66.83px 69.3px,#fdf1f2 69.3px 71.78px,#fce6e7 71.78px 74.25px,#fdf1f1 74.25px 76.73px,#fdeced 76.73px 79.2px,#eaebf6 79.2px 81.67px,#eff0f8 81.67px 84.15px,#e6e7f5 84.15px 86.62px,#fdf2f3 86.62px 89.1px,#fffcfc 89.1px 91.58px,#e5e6f4 91.58px 94.05px,#dfe1f2 94.05px 96.53px,#e6e7f5 96.53px 99px,#fffbfb 99px 101.48px,#ecedf7 101.48px 103.95px,#e7e9f5 103.95px 106.42px,#dcdef1 106.42px 108.9px,#e6e7f5 108.9px 111.38px,#fef5f5 111.38px 113.85px,#d7d9ee 113.85px 116.33px,#dcdef0 116.33px 118.8px,#fef9f9 118.8px 121.28px,#eff0f8 121.28px 123.75px,#c6c9e7 123.75px 126.23px,#f3f3fa 126.23px 128.7px,#bfc3e5 128.7px 131.18px,#e4e5f4 131.18px 133.65px,#a1a6d8 133.65px 136.12px,#bfc3e5 136.12px 138.6px,#e6e7f5 138.6px 141.08px,#c4c7e7 141.08px 143.55px,#c0c3e5 143.55px 146.03px,#ced1eb 146.03px 148.5px)"></div><div class="h" style="left:358.3px;top:65.78px;width:148.5px;height:1.16px;background:linear-gradient(90deg,#f9d3d5 0px 2.48px,#fbdfe1 2.48px 4.95px,#fce6e7 4.95px 7.43px,#f5b1b5 7.43px 9.9px,#f6babd 9.9px 12.38px,#fad5d7 12.38px 14.85px,#fef8f8 14.85px 17.32px,#fdeced 17.32px 19.8px,#fce9ea 19.8px 22.28px,#fadadb 22.28px 24.75px,#f7c3c6 24.75px 27.23px,#fef4f4 27.23px 29.7px,#fce7e8 29.7px 32.18px,#fef6f6 32.18px 34.65px,#fcebec 34.65px 37.12px,#ffffff 37.12px 39.6px,#fceaeb 39.6px 42.08px,#fadadc 42.08px 44.55px,#ffffff 44.55px 47.02px,#ffffff 47.02px 49.5px,#fef7f7 49.5px 51.98px,#e7e8f5 51.98px 54.45px,#fad6d7 54.45px 56.93px,#e2e4f3 56.93px 59.4px,#f5f6fb 59.4px 61.88px,#e8e9f6 61.88px 64.35px,#fce4e5 64.35px 66.83px,#edeef7 66.83px 69.3px,#ebecf7 69.3px 71.78px,#fbe1e3 71.78px 74.25px,#eff0f8 74.25px 76.73px,#dfe1f2 76.73px 79.2px,#eeeff8 79.2px 81.67px,#f0f1f9 81.67px 84.15px,#dadcf0 84.15px 86.62px,#e4e6f4 86.62px 89.1px,#e2e3f3 89.1px 91.58px,#f4f4fa 91.58px 94.05px,#f3f4fa 94.05px 96.53px,#f2f3fa 96.53px 99px,#dcdef1 99px 101.48px,#eeeff8 101.48px 103.95px,#d7d9ee 103.95px 106.42px,#f2f3fa 106.42px 108.9px,#e0e2f2 108.9px 111.38px,#cdcfea 111.38px 113.85px,#eeeff8 113.85px 116.33px,#b2b6df 116.33px 118.8px,#bcbfe3 118.8px 121.28px,#bec1e4 121.28px 123.75px,#cacce9 123.75px 126.23px,#b1b5df 126.23px 128.7px,#b0b3de 128.7px 131.18px,#9fa4d7 131.18px 133.65px,#c8cae8 133.65px 136.12px,#b3b7e0 136.12px 138.6px,#f0f0f9 138.6px 141.08px,#d0d2eb 141.08px 143.55px,#a6aada 143.55px 146.03px,#d8daef 146.03px 148.5px)"></div><div class="h" style="left:358.3px;top:66.79px;width:148.5px;height:1.16px;background:linear-gradient(90deg,#f6b8bb 0px 2.48px,#f4a4a8 2.48px 4.95px,#fad6d8 4.95px 7.43px,#f4a6aa 7.43px 9.9px,#f4aaae 9.9px 12.38px,#f9cdcf 12.38px 14.85px,#fad8da 14.85px 17.32px,#f9d0d2 17.32px 19.8px,#f8c4c7 19.8px 22.28px,#f2969b 22.28px 24.75px,#f4a6aa 24.75px 27.23px,#f5aeb2 27.23px 29.7px,#fad6d8 29.7px 32.18px,#fadbdc 32.18px 34.65px,#f9cdcf 34.65px 37.12px,#fbdddf 37.12px 39.6px,#fce3e5 39.6px 42.08px,#fbe0e1 42.08px 44.55px,#f8cacd 44.55px 47.02px,#fbe0e2 47.02px 49.5px,#fbdcdd 49.5px 51.98px,#fce9ea 51.98px 54.45px,#fce9ea 54.45px 56.93px,#fdeeef 56.93px 59.4px,#f9cdcf 59.4px 61.88px,#fce6e7 61.88px 64.35px,#f9ccce 64.35px 66.83px,#fdf2f3 66.83px 69.3px,#fad9db 69.3px 71.78px,#eeeff8 71.78px 74.25px,#fffdfd 74.25px 76.73px,#fef8f8 76.73px 79.2px,#f8f8fc 79.2px 81.67px,#fffdfd 81.67px 84.15px,#eeeff8 84.15px 86.62px,#fcfdfe 86.62px 89.1px,#f0f1f9 89.1px 91.58px,#fcfcfe 91.58px 94.05px,#f4f5fa 94.05px 96.53px,#e3e5f4 96.53px 99px,#eeeff8 99px 101.48px,#f5f6fb 101.48px 103.95px,#d8daef 103.95px 106.42px,#f3f4fa 106.42px 108.9px,#fef4f4 108.9px 111.38px,#e9eaf6 111.38px 113.85px,#f7f7fc 113.85px 116.33px,#f7f7fc 116.33px 118.8px,#d7d9ee 118.8px 121.28px,#fffcfc 121.28px 123.75px,#fce4e5 123.75px 126.23px,#cdcfea 126.23px 128.7px,#fdf0f0 128.7px 131.18px,#d0d2eb 131.18px 133.65px,#fbfcfe 133.65px 136.12px,#b5b8e0 136.12px 138.6px,#f1f2f9 138.6px 141.08px,#dadcf0 141.08px 143.55px,#babee3 143.55px 146.03px,#c2c5e6 146.03px 148.5px)"></div><div class="h" style="left:358.3px;top:208.5px;width:148.6px;height:1.15px;background:linear-gradient(90deg,#fdefef 0px 2.48px,#f9d2d4 2.48px 4.95px,#fadadb 4.95px 7.43px,#fbdcde 7.43px 9.91px,#f8c3c6 9.91px 12.38px,#f9d1d3 12.38px 14.86px,#fad6d8 14.86px 17.34px,#f5b3b6 17.34px 19.81px,#fad8da 19.81px 22.29px,#fce3e5 22.29px 24.77px,#fce4e6 24.77px 27.24px,#fad6d7 27.24px 29.72px,#f7c1c4 29.72px 32.2px,#f7bdc0 32.2px 34.67px,#f6b7bb 34.67px 37.15px,#f4abaf 37.15px 39.63px,#f5acb0 39.63px 42.1px,#f7bcc0 42.1px 44.58px,#f5b0b4 44.58px 47.06px,#f6babd 47.06px 49.53px,#f9cdd0 49.53px 52.01px,#f6b5b9 52.01px 54.49px,#f7c1c4 54.49px 56.96px,#f8c5c7 56.96px 59.44px,#f39fa4 59.44px 61.92px,#f5b2b6 61.92px 64.39px,#f8c6c9 64.39px 66.87px,#f7bfc2 66.87px 69.35px,#f2969b 69.35px 71.82px,#f7c0c3 71.82px 74.3px,#f5aeb2 74.3px 76.78px,#f5afb3 76.78px 79.25px,#f5b0b4 79.25px 81.73px,#f5aeb2 81.73px 84.21px,#f7bfc2 84.21px 86.68px,#f7bec1 86.68px 89.16px,#f6b8bb 89.16px 91.64px,#f6babd 91.64px 94.11px,#f4a6aa 94.11px 96.59px,#f2999d 96.59px 99.07px,#f7c0c3 99.07px 101.54px,#f4a7ac 101.54px 104.02px,#f7c0c3 104.02px 106.5px,#f6babd 106.5px 108.97px,#f5b2b5 108.97px 111.45px,#f4abaf 111.45px 113.93px,#f5b3b7 113.93px 116.4px,#fad7d8 116.4px 118.88px,#f19398 118.88px 121.36px,#f5aeb2 121.36px 123.83px,#f5b3b6 123.83px 126.31px,#f39ca1 126.31px 128.79px,#f5b0b4 128.79px 131.26px,#f7bdc0 131.26px 133.74px,#f39ca1 133.74px 136.22px,#f39da1 136.22px 138.69px,#f5b1b4 138.69px 141.17px,#f29499 141.17px 143.65px,#f29b9f 143.65px 146.12px,#f5b3b7 146.12px 148.6px)"></div><div class="h" style="left:358.3px;top:209.5px;width:148.6px;height:1.15px;background:linear-gradient(90deg,#f7bcbf 0px 2.48px,#fad4d6 2.48px 4.95px,#fceaeb 4.95px 7.43px,#f9cfd1 7.43px 9.91px,#fad3d5 9.91px 12.38px,#f8c4c7 12.38px 14.86px,#fceaeb 14.86px 17.34px,#f7c1c4 17.34px 19.81px,#f7c2c5 19.81px 22.29px,#f8c5c8 22.29px 24.77px,#f8c6c9 24.77px 27.24px,#f6b9bc 27.24px 29.72px,#f7c2c5 29.72px 32.2px,#f8cbce 32.2px 34.67px,#fadadc 34.67px 37.15px,#f6b9bc 37.15px 39.63px,#f6babd 39.63px 42.1px,#f8c5c7 42.1px 44.58px,#f8c6c9 44.58px 47.06px,#f7bcbf 47.06px 49.53px,#fdf1f2 49.53px 52.01px,#f7c1c4 52.01px 54.49px,#fdeff0 54.49px 56.96px,#f7c0c3 56.96px 59.44px,#f5b2b5 59.44px 61.92px,#f3a3a7 61.92px 64.39px,#f8c9cc 64.39px 66.87px,#f6b9bd 66.87px 69.35px,#f7c1c4 69.35px 71.82px,#fce4e5 71.82px 74.3px,#f5b2b5 74.3px 76.78px,#f7bdc0 76.78px 79.25px,#f6bbbe 79.25px 81.73px,#f8cbcd 81.73px 84.21px,#f6bbbe 84.21px 86.68px,#f6b8bb 86.68px 89.16px,#f3a3a7 89.16px 91.64px,#f5b3b6 91.64px 94.11px,#ef7c82 94.11px 96.59px,#f7bcc0 96.59px 99.07px,#f6b9bc 99.07px 101.54px,#f6b5b8 101.54px 104.02px,#f7c0c3 104.02px 106.5px,#f2999e 106.5px 108.97px,#f4a6aa 108.97px 111.45px,#f8c5c8 111.45px 113.93px,#f5adb1 113.93px 116.4px,#f29ba0 116.4px 118.88px,#f8c5c8 118.88px 121.36px,#f4aaae 121.36px 123.83px,#f5b0b3 123.83px 126.31px,#f0848a 126.31px 128.79px,#f3a3a7 128.79px 131.26px,#f5b0b3 131.26px 133.74px,#f5b1b5 133.74px 136.22px,#f0888d 136.22px 138.69px,#f5aeb2 138.69px 141.17px,#ef7f85 141.17px 143.65px,#f7bec1 143.65px 146.12px,#f4a7ab 146.12px 148.6px)"></div><div class="h" style="left:358.3px;top:210.51px;width:148.6px;height:1.15px;background:linear-gradient(90deg,#fce9ea 0px 2.48px,#fdeff0 2.48px 4.95px,#fce6e7 4.95px 7.43px,#fad6d8 7.43px 9.91px,#fdeced 9.91px 12.38px,#fef8f8 12.38px 14.86px,#f8c9cb 14.86px 17.34px,#f8c6c8 17.34px 19.81px,#fce9ea 19.81px 22.29px,#fad7d9 22.29px 24.77px,#f8f8fc 24.77px 27.24px,#f8c9cc 27.24px 29.72px,#fdf0f1 29.72px 32.2px,#fbe2e3 32.2px 34.67px,#f6b4b7 34.67px 37.15px,#fdeced 37.15px 39.63px,#fad6d8 39.63px 42.1px,#fce7e8 42.1px 44.58px,#fdf3f4 44.58px 47.06px,#fce7e8 47.06px 49.53px,#f9ced0 49.53px 52.01px,#fce7e8 52.01px 54.49px,#fadadc 54.49px 56.96px,#f8c3c6 56.96px 59.44px,#f9d1d3 59.44px 61.92px,#fce4e5 61.92px 64.39px,#f6b4b7 64.39px 66.87px,#f8cacc 66.87px 69.35px,#f6b4b7 69.35px 71.82px,#fbdcdd 71.82px 74.3px,#f5adb1 74.3px 76.78px,#fbdfe0 76.78px 79.25px,#fce4e6 79.25px 81.73px,#f9ced0 81.73px 84.21px,#f9ccce 84.21px 86.68px,#f7c0c3 86.68px 89.16px,#f9cdcf 89.16px 91.64px,#f6b8bc 91.64px 94.11px,#f5acb0 94.11px 96.59px,#f9ccce 96.59px 99.07px,#fad7d9 99.07px 101.54px,#f8c6c8 101.54px 104.02px,#f5b1b4 104.02px 106.5px,#f5b0b3 106.5px 108.97px,#f7c2c5 108.97px 111.45px,#f9ccce 111.45px 113.93px,#f6bbbe 113.93px 116.4px,#f4aaae 116.4px 118.88px,#f8c5c7 118.88px 121.36px,#f3a2a7 121.36px 123.83px,#f5b3b7 123.83px 126.31px,#f5b1b5 126.31px 128.79px,#f7c0c3 128.79px 131.26px,#f39da2 131.26px 133.74px,#f5b3b6 133.74px 136.22px,#f8cbce 136.22px 138.69px,#f4a4a8 138.69px 141.17px,#f6b8bb 141.17px 143.65px,#f39ea2 143.65px 146.12px,#f5acb0 146.12px 148.6px)"></div><div class="h" style="left:358.3px;top:211.51px;width:148.6px;height:1.15px;background:linear-gradient(90deg,#f9d1d3 0px 2.48px,#f7c3c6 2.48px 4.95px,#f9cdcf 4.95px 7.43px,#f9d2d4 7.43px 9.91px,#f7c3c5 9.91px 12.38px,#f6b4b8 12.38px 14.86px,#f7c0c3 14.86px 17.34px,#f7c2c5 17.34px 19.81px,#f8c9cb 19.81px 22.29px,#f6b5b8 22.29px 24.77px,#f6b9bc 24.77px 27.24px,#f5adb0 27.24px 29.72px,#f6b6b9 29.72px 32.2px,#f2979c 32.2px 34.67px,#fad4d6 34.67px 37.15px,#f6babd 37.15px 39.63px,#f5afb3 39.63px 42.1px,#f4a8ac 42.1px 44.58px,#f9d0d2 44.58px 47.06px,#f8cacc 47.06px 49.53px,#f6b5b9 49.53px 52.01px,#f3a2a6 52.01px 54.49px,#f3a0a5 54.49px 56.96px,#f8cbcd 56.96px 59.44px,#f5afb2 59.44px 61.92px,#f39ca1 61.92px 64.39px,#f5aeb2 64.39px 66.87px,#f7bfc2 66.87px 69.35px,#f6b9bc 69.35px 71.82px,#f7c2c5 71.82px 74.3px,#f2979c 74.3px 76.78px,#f5afb2 76.78px 79.25px,#f5b1b4 79.25px 81.73px,#f6b7ba 81.73px 84.21px,#f4aaae 84.21px 86.68px,#f6b6b9 86.68px 89.16px,#f6b6b9 89.16px 91.64px,#f4a6aa 91.64px 94.11px,#f4a8ac 94.11px 96.59px,#f29ba0 96.59px 99.07px,#f3a0a4 99.07px 101.54px,#f18e93 101.54px 104.02px,#f3a1a5 104.02px 106.5px,#f29ba0 106.5px 108.97px,#f29b9f 108.97px 111.45px,#f4abaf 111.45px 113.93px,#f0898e 113.93px 116.4px,#f4a5a9 116.4px 118.88px,#f6b5b9 118.88px 121.36px,#f0858b 121.36px 123.83px,#f18e93 123.83px 126.31px,#f3a2a6 126.31px 128.79px,#f0878d 128.79px 131.26px,#f0868c 131.26px 133.74px,#f08a8f 133.74px 136.22px,#f4a8ac 136.22px 138.69px,#f19196 138.69px 141.17px,#f4a4a8 141.17px 143.65px,#f39ca1 143.65px 146.12px,#f29a9f 146.12px 148.6px)"></div><div class="h" style="left:358.3px;top:212.51px;width:148.6px;height:1.15px;background:linear-gradient(90deg,#fffdfd 0px 2.48px,#fce5e7 2.48px 4.95px,#fefafa 4.95px 7.43px,#fbe1e3 7.43px 9.91px,#fce8e9 9.91px 12.38px,#fef4f4 12.38px 14.86px,#fce6e7 14.86px 17.34px,#fbddde 17.34px 19.81px,#fad4d6 19.81px 22.29px,#fcebeb 22.29px 24.77px,#f8c8cb 24.77px 27.24px,#fadbdd 27.24px 29.72px,#f9cfd1 29.72px 32.2px,#fef9f9 32.2px 34.67px,#fef3f4 34.67px 37.15px,#f9cdcf 37.15px 39.63px,#fce4e5 39.63px 42.1px,#fad7d9 42.1px 44.58px,#f8cacd 44.58px 47.06px,#fef5f6 47.06px 49.53px,#fad5d7 49.53px 52.01px,#f6bbbe 52.01px 54.49px,#f9cdcf 54.49px 56.96px,#fad8da 56.96px 59.44px,#f9cfd1 59.44px 61.92px,#fad7d9 61.92px 64.39px,#f8cacc 64.39px 66.87px,#f7c0c3 66.87px 69.35px,#fad9da 69.35px 71.82px,#f8cacd 71.82px 74.3px,#f9ced0 74.3px 76.78px,#f8c6c8 76.78px 79.25px,#f8c3c6 79.25px 81.73px,#fbe2e3 81.73px 84.21px,#f7bcbf 84.21px 86.68px,#f7c0c3 86.68px 89.16px,#fbe0e1 89.16px 91.64px,#f9d1d4 91.64px 94.11px,#fce4e5 94.11px 96.59px,#f9d0d2 96.59px 99.07px,#f8c4c7 99.07px 101.54px,#fbdcde 101.54px 104.02px,#fad5d7 104.02px 106.5px,#fad6d8 106.5px 108.97px,#f9d2d4 108.97px 111.45px,#f9d2d4 111.45px 113.93px,#fad6d8 113.93px 116.4px,#f6babd 116.4px 118.88px,#f8c6c9 118.88px 121.36px,#f9cfd2 121.36px 123.83px,#f5b0b4 123.83px 126.31px,#f8c9cc 126.31px 128.79px,#f5b0b4 128.79px 131.26px,#f9d3d5 131.26px 133.74px,#f4a6aa 133.74px 136.22px,#f8c4c6 136.22px 138.69px,#f8cbcd 138.69px 141.17px,#f6b4b7 141.17px 143.65px,#f9d0d2 143.65px 146.12px,#f8cacd 146.12px 148.6px)"></div><div class="h" style="left:358.3px;top:213.51px;width:148.6px;height:1.15px;background:linear-gradient(90deg,#fad9da 0px 2.48px,#fce4e5 2.48px 4.95px,#fad4d6 4.95px 7.43px,#fad7d9 7.43px 9.91px,#fad5d7 9.91px 12.38px,#fad6d8 12.38px 14.86px,#f9cbce 14.86px 17.34px,#fad6d8 17.34px 19.81px,#f7c3c6 19.81px 22.29px,#f8c5c7 22.29px 24.77px,#fef4f5 24.77px 27.24px,#fdf0f0 27.24px 29.72px,#f6b8bb 29.72px 32.2px,#fad8da 32.2px 34.67px,#f9cdcf 34.67px 37.15px,#f9d1d3 37.15px 39.63px,#f8c9cc 39.63px 42.1px,#f4a9ad 42.1px 44.58px,#fad8da 44.58px 47.06px,#f8cacd 47.06px 49.53px,#f8cacd 49.53px 52.01px,#fbdbdd 52.01px 54.49px,#fad7d9 54.49px 56.96px,#f9ccce 56.96px 59.44px,#f8c7ca 59.44px 61.92px,#f7bfc2 61.92px 64.39px,#fce5e6 64.39px 66.87px,#fbdedf 66.87px 69.35px,#f4a8ac 69.35px 71.82px,#f8c5c8 71.82px 74.3px,#f6b4b7 74.3px 76.78px,#f8c7ca 76.78px 79.25px,#f8cbce 79.25px 81.73px,#f39ba0 81.73px 84.21px,#f9d2d4 84.21px 86.68px,#f9ccce 86.68px 89.16px,#f5b1b4 89.16px 91.64px,#f6babe 91.64px 94.11px,#fad5d7 94.11px 96.59px,#f6b7ba 96.59px 99.07px,#f5acb0 99.07px 101.54px,#f9d0d3 101.54px 104.02px,#f7bfc2 104.02px 106.5px,#f4a8ac 106.5px 108.97px,#f2959a 108.97px 111.45px,#fadadc 111.45px 113.93px,#f7bec1 113.93px 116.4px,#f5b1b5 116.4px 118.88px,#f7c0c3 118.88px 121.36px,#f7bfc2 121.36px 123.83px,#f6b7bb 123.83px 126.31px,#f4a6aa 126.31px 128.79px,#f7bfc2 128.79px 131.26px,#f39ea2 131.26px 133.74px,#f39ea2 133.74px 136.22px,#f39ca1 136.22px 138.69px,#f19095 138.69px 141.17px,#f5b1b5 141.17px 143.65px,#f4a8ac 143.65px 146.12px,#f2969b 146.12px 148.6px)"></div><div class="h" style="left:358.3px;top:214.52px;width:148.6px;height:1.15px;background:linear-gradient(90deg,#fdf0f1 0px 2.48px,#fef4f5 2.48px 4.95px,#f5f5fb 4.95px 7.43px,#f6f6fb 7.43px 9.91px,#eaebf6 9.91px 12.38px,#f9fafd 12.38px 14.86px,#f4f4fa 14.86px 17.34px,#fbfcfe 17.34px 19.81px,#ffffff 19.81px 22.29px,#fceaeb 22.29px 24.77px,#fce8e9 24.77px 27.24px,#fef5f6 27.24px 29.72px,#f8f9fc 29.72px 32.2px,#fdf2f3 32.2px 34.67px,#fce9ea 34.67px 37.15px,#fbe0e2 37.15px 39.63px,#fceaeb 39.63px 42.1px,#fbdee0 42.1px 44.58px,#fef5f5 44.58px 47.06px,#fbdedf 47.06px 49.53px,#fadbdc 49.53px 52.01px,#fdebec 52.01px 54.49px,#fdf0f1 54.49px 56.96px,#f9ced0 56.96px 59.44px,#fdf1f2 59.44px 61.92px,#fad4d6 61.92px 64.39px,#fbe2e4 64.39px 66.87px,#fbe2e3 66.87px 69.35px,#fbdfe0 69.35px 71.82px,#fbe0e2 71.82px 74.3px,#fad8da 74.3px 76.78px,#f6b9bc 76.78px 79.25px,#f7bdc0 79.25px 81.73px,#fad5d7 81.73px 84.21px,#f8cacc 84.21px 86.68px,#f7c1c4 86.68px 89.16px,#fad6d7 89.16px 91.64px,#f5afb2 91.64px 94.11px,#f8cbcd 94.11px 96.59px,#f7c0c3 96.59px 99.07px,#fad8da 99.07px 101.54px,#fad9db 101.54px 104.02px,#fad6d8 104.02px 106.5px,#f9ced1 106.5px 108.97px,#f5b1b5 108.97px 111.45px,#f8c6c9 111.45px 113.93px,#f5b1b4 113.93px 116.4px,#f8c5c7 116.4px 118.88px,#f8cacd 118.88px 121.36px,#f6b3b7 121.36px 123.83px,#f6b8bb 123.83px 126.31px,#f8c8cb 126.31px 128.79px,#f4a8ac 128.79px 131.26px,#f19096 131.26px 133.74px,#f3a3a7 133.74px 136.22px,#f5afb2 136.22px 138.69px,#f3a3a7 138.69px 141.17px,#f4a6aa 141.17px 143.65px,#f19196 143.65px 146.12px,#f2989d 146.12px 148.6px)"></div><div class="h" style="left:358.3px;top:215.52px;width:148.6px;height:1.15px;background:linear-gradient(90deg,#f4f5fb 0px 2.48px,#fafbfd 2.48px 4.95px,#fdeff0 4.95px 7.43px,#e8e9f6 7.43px 9.91px,#dcdef0 9.91px 12.38px,#fce6e7 12.38px 14.86px,#fef8f8 14.86px 17.34px,#fbfbfd 17.34px 19.81px,#fef4f4 19.81px 22.29px,#f5f5fb 22.29px 24.77px,#ffffff 24.77px 27.24px,#fdeced 27.24px 29.72px,#fffbfb 29.72px 32.2px,#fdf2f3 32.2px 34.67px,#fdeced 34.67px 37.15px,#fdeff0 37.15px 39.63px,#fef4f4 39.63px 42.1px,#fce6e7 42.1px 44.58px,#fad7d9 44.58px 47.06px,#fad6d8 47.06px 49.53px,#fef8f9 49.53px 52.01px,#fbdcdd 52.01px 54.49px,#f8f9fc 54.49px 56.96px,#fffdfd 56.96px 59.44px,#fbdddf 59.44px 61.92px,#fad9db 61.92px 64.39px,#f8cacd 64.39px 66.87px,#fffbfc 66.87px 69.35px,#f9ccce 69.35px 71.82px,#fce5e6 71.82px 74.3px,#fbe2e4 74.3px 76.78px,#f9d2d4 76.78px 79.25px,#f7c0c3 79.25px 81.73px,#fce5e7 81.73px 84.21px,#fdf1f1 84.21px 86.68px,#fbddde 86.68px 89.16px,#fad3d5 89.16px 91.64px,#f7bcbf 91.64px 94.11px,#f8c8cb 94.11px 96.59px,#f9d2d4 96.59px 99.07px,#fad4d6 99.07px 101.54px,#f9d1d4 101.54px 104.02px,#f6b8bc 104.02px 106.5px,#fbe2e3 106.5px 108.97px,#f9d1d3 108.97px 111.45px,#f9d2d4 111.45px 113.93px,#f5b0b3 113.93px 116.4px,#f7bfc2 116.4px 118.88px,#f8c9cb 118.88px 121.36px,#f5adb1 121.36px 123.83px,#f29499 123.83px 126.31px,#f39fa4 126.31px 128.79px,#f7c1c4 128.79px 131.26px,#f4aaae 131.26px 133.74px,#f19095 133.74px 136.22px,#f7bbbf 136.22px 138.69px,#f5adb1 138.69px 141.17px,#f29ba0 141.17px 143.65px,#f0878d 143.65px 146.12px,#f2999e 146.12px 148.6px)"></div><div class="h" style="left:358.3px;top:216.52px;width:148.6px;height:1.15px;background:linear-gradient(90deg,#f8f8fc 0px 2.48px,#f5f5fb 2.48px 4.95px,#fefefe 4.95px 7.43px,#e7e8f5 7.43px 9.91px,#d9dbef 9.91px 12.38px,#dbddf0 12.38px 14.86px,#fffdfd 14.86px 17.34px,#fdeeef 17.34px 19.81px,#fef5f5 19.81px 22.29px,#eaebf6 22.29px 24.77px,#e9eaf6 24.77px 27.24px,#fffdfd 27.24px 29.72px,#f9f9fc 29.72px 32.2px,#ecedf7 32.2px 34.67px,#fffdfd 34.67px 37.15px,#ffffff 37.15px 39.63px,#fdf2f3 39.63px 42.1px,#fce9ea 42.1px 44.58px,#fceaeb 44.58px 47.06px,#fce9ea 47.06px 49.53px,#fbe2e3 49.53px 52.01px,#fcebec 52.01px 54.49px,#fdefef 54.49px 56.96px,#fdebec 56.96px 59.44px,#f9d1d3 59.44px 61.92px,#fce7e8 61.92px 64.39px,#fad4d6 64.39px 66.87px,#f8c4c7 66.87px 69.35px,#f7c2c4 69.35px 71.82px,#fefeff 71.82px 74.3px,#fad9da 74.3px 76.78px,#f8c9cc 76.78px 79.25px,#fbe0e1 79.25px 81.73px,#fbe2e4 81.73px 84.21px,#fdeded 84.21px 86.68px,#fbdfe0 86.68px 89.16px,#f9d2d4 89.16px 91.64px,#fdeff0 91.64px 94.11px,#f9cfd1 94.11px 96.59px,#fbdbdd 96.59px 99.07px,#f9ccce 99.07px 101.54px,#fbdcde 101.54px 104.02px,#f8c8ca 104.02px 106.5px,#f8c5c7 106.5px 108.97px,#f9d1d3 108.97px 111.45px,#f9cfd2 111.45px 113.93px,#f5b3b7 113.93px 116.4px,#f6b7ba 116.4px 118.88px,#f8cbcd 118.88px 121.36px,#f5b3b6 121.36px 123.83px,#f8c8cb 123.83px 126.31px,#f6b9bc 126.31px 128.79px,#fbdcde 128.79px 131.26px,#f5b1b4 131.26px 133.74px,#f2989c 133.74px 136.22px,#f4a6aa 136.22px 138.69px,#f19095 138.69px 141.17px,#f3a0a4 141.17px 143.65px,#f18c91 143.65px 146.12px,#f18e94 146.12px 148.6px)"></div><div class="h" style="left:358.3px;top:217.53px;width:148.6px;height:1.15px;background:linear-gradient(90deg,#f4f4fa 0px 2.48px,#fad7d9 2.48px 4.95px,#f9f9fc 4.95px 7.43px,#f2f3fa 7.43px 9.91px,#fdf3f3 9.91px 12.38px,#fdecec 12.38px 14.86px,#fdeced 14.86px 17.34px,#fdf2f3 17.34px 19.81px,#fce7e8 19.81px 22.29px,#fbdedf 22.29px 24.77px,#fbe2e3 24.77px 27.24px,#fdfdfe 27.24px 29.72px,#f9cccf 29.72px 32.2px,#fce8e9 32.2px 34.67px,#f7f7fc 34.67px 37.15px,#fad6d8 37.15px 39.63px,#fce5e6 39.63px 42.1px,#fbdcde 42.1px 44.58px,#f7bfc2 44.58px 47.06px,#fce7e8 47.06px 49.53px,#fce7e8 49.53px 52.01px,#fdebec 52.01px 54.49px,#fad6d8 54.49px 56.96px,#f9cdcf 56.96px 59.44px,#f9d0d2 59.44px 61.92px,#f9d2d4 61.92px 64.39px,#fef6f7 64.39px 66.87px,#f9ced0 66.87px 69.35px,#f7bfc2 69.35px 71.82px,#fad7d9 71.82px 74.3px,#fad6d8 74.3px 76.78px,#fbdcde 76.78px 79.25px,#f8c6c9 79.25px 81.73px,#fbe2e4 81.73px 84.21px,#f4a8ac 84.21px 86.68px,#f8c9cb 86.68px 89.16px,#f9ced0 89.16px 91.64px,#fad7d8 91.64px 94.11px,#f6b8bc 94.11px 96.59px,#f5b0b3 96.59px 99.07px,#f8c7ca 99.07px 101.54px,#f6babd 101.54px 104.02px,#f6b6ba 104.02px 106.5px,#f4aaae 106.5px 108.97px,#f5aeb2 108.97px 111.45px,#f3a2a6 111.45px 113.93px,#f9cccf 113.93px 116.4px,#f0898e 116.4px 118.88px,#f6b9bc 118.88px 121.36px,#f7bec1 121.36px 123.83px,#f6b6ba 123.83px 126.31px,#f39ca1 126.31px 128.79px,#f19196 128.79px 131.26px,#ed7278 131.26px 133.74px,#ef8187 133.74px 136.22px,#f39da1 136.22px 138.69px,#f19197 138.69px 141.17px,#f18f94 141.17px 143.65px,#f18d92 143.65px 146.12px,#ef8187 146.12px 148.6px)"></div><div class="h" style="left:358.3px;top:218.53px;width:148.6px;height:1.15px;background:linear-gradient(90deg,#dedff1 0px 2.48px,#fbfbfd 2.48px 4.95px,#eff0f9 4.95px 7.43px,#f5f6fb 7.43px 9.91px,#ebecf7 9.91px 12.38px,#dcdef1 12.38px 14.86px,#f7f7fc 14.86px 17.34px,#ebecf7 17.34px 19.81px,#fcebec 19.81px 22.29px,#fef6f6 22.29px 24.77px,#e3e4f3 24.77px 27.24px,#e8e9f5 27.24px 29.72px,#f0f1f9 29.72px 32.2px,#f7f7fc 32.2px 34.67px,#fdf0f1 34.67px 37.15px,#fafafd 37.15px 39.63px,#fef8f8 39.63px 42.1px,#fbfbfd 42.1px 44.58px,#fefeff 44.58px 47.06px,#fce7e8 47.06px 49.53px,#fef9fa 49.53px 52.01px,#fad8d9 52.01px 54.49px,#fef7f8 54.49px 56.96px,#fdefef 56.96px 59.44px,#fdedee 59.44px 61.92px,#fce7e8 61.92px 64.39px,#f9d1d3 64.39px 66.87px,#fefafa 66.87px 69.35px,#fef6f6 69.35px 71.82px,#fffbfb 71.82px 74.3px,#f9cdcf 74.3px 76.78px,#fbe1e2 76.78px 79.25px,#fbe0e1 79.25px 81.73px,#fbdee0 81.73px 84.21px,#fcfcfe 84.21px 86.68px,#fad6d8 86.68px 89.16px,#fbdfe0 89.16px 91.64px,#fadadc 91.64px 94.11px,#fbddde 94.11px 96.59px,#fbdee0 96.59px 99.07px,#fbdcde 99.07px 101.54px,#fbe3e4 101.54px 104.02px,#fbdcdd 104.02px 106.5px,#f9ccce 106.5px 108.97px,#fef8f8 108.97px 111.45px,#f8c6c8 111.45px 113.93px,#f8c7ca 113.93px 116.4px,#fbe2e3 116.4px 118.88px,#f8c5c8 118.88px 121.36px,#f8c4c6 121.36px 123.83px,#f9cdcf 123.83px 126.31px,#f4a4a8 126.31px 128.79px,#f6b8bb 128.79px 131.26px,#f6b9bc 131.26px 133.74px,#f8c7ca 133.74px 136.22px,#f08a8f 136.22px 138.69px,#f4a5a9 138.69px 141.17px,#f39fa3 141.17px 143.65px,#f3a3a8 143.65px 146.12px,#ee797f 146.12px 148.6px)"></div><div class="h" style="left:358.3px;top:219.53px;width:148.6px;height:1.15px;background:linear-gradient(90deg,#ecedf7 0px 2.48px,#fef5f6 2.48px 4.95px,#fffcfc 4.95px 7.43px,#fffcfc 7.43px 9.91px,#fefeff 9.91px 12.38px,#fef6f6 12.38px 14.86px,#f5f6fb 14.86px 17.34px,#d8daef 17.34px 19.81px,#d0d2eb 19.81px 22.29px,#fdf0f1 22.29px 24.77px,#dddef1 24.77px 27.24px,#fceaeb 27.24px 29.72px,#f9cbce 29.72px 32.2px,#e4e5f4 32.2px 34.67px,#fdf1f2 34.67px 37.15px,#fdf2f2 37.15px 39.63px,#fafbfd 39.63px 42.1px,#e8e9f5 42.1px 44.58px,#fef7f7 44.58px 47.06px,#fad8da 47.06px 49.53px,#fef4f4 49.53px 52.01px,#fdf1f1 52.01px 54.49px,#fdeeee 54.49px 56.96px,#fdedee 56.96px 59.44px,#fce7e8 59.44px 61.92px,#f8c5c8 61.92px 64.39px,#fef7f8 64.39px 66.87px,#f9f9fd 66.87px 69.35px,#fad8da 69.35px 71.82px,#fdedee 71.82px 74.3px,#fcebec 74.3px 76.78px,#fef8f9 76.78px 79.25px,#fbe3e4 79.25px 81.73px,#fce5e7 81.73px 84.21px,#fad6d8 84.21px 86.68px,#fbe2e3 86.68px 89.16px,#fdf2f2 89.16px 91.64px,#f9d0d2 91.64px 94.11px,#fad8da 94.11px 96.59px,#fef4f5 96.59px 99.07px,#fad9db 99.07px 101.54px,#f8c6c8 101.54px 104.02px,#f9d2d4 104.02px 106.5px,#fad4d6 106.5px 108.97px,#f8c4c7 108.97px 111.45px,#fad6d8 111.45px 113.93px,#fad6d8 113.93px 116.4px,#f7c0c3 116.4px 118.88px,#f8c8cb 118.88px 121.36px,#f9ccce 121.36px 123.83px,#f6b9bc 123.83px 126.31px,#f6b4b7 126.31px 128.79px,#f4a4a8 128.79px 131.26px,#f39ea3 131.26px 133.74px,#f4a9ad 133.74px 136.22px,#f4a6aa 136.22px 138.69px,#f5b1b4 138.69px 141.17px,#f2999e 141.17px 143.65px,#f39ea3 143.65px 146.12px,#f0868c 146.12px 148.6px)"></div><div class="h" style="left:358.3px;top:220.53px;width:148.6px;height:1.15px;background:linear-gradient(90deg,#fbfcfe 0px 2.48px,#fafbfd 2.48px 4.95px,#f1f2f9 4.95px 7.43px,#f8f9fc 7.43px 9.91px,#fdf1f2 9.91px 12.38px,#fdeced 12.38px 14.86px,#eeeff8 14.86px 17.34px,#cdcfea 17.34px 19.81px,#fef9fa 19.81px 22.29px,#e4e5f4 22.29px 24.77px,#fefeff 24.77px 27.24px,#fef8f8 27.24px 29.72px,#fce5e6 29.72px 32.2px,#ffffff 32.2px 34.67px,#fffcfd 34.67px 37.15px,#fcfcfe 37.15px 39.63px,#fdf3f3 39.63px 42.1px,#f5f5fb 42.1px 44.58px,#fdebec 44.58px 47.06px,#fdedee 47.06px 49.53px,#fbdbdd 49.53px 52.01px,#fef5f5 52.01px 54.49px,#fce9ea 54.49px 56.96px,#fceaeb 56.96px 59.44px,#fdeced 59.44px 61.92px,#fef9fa 61.92px 64.39px,#fdf1f2 64.39px 66.87px,#fce6e7 66.87px 69.35px,#fbdddf 69.35px 71.82px,#f9d3d5 71.82px 74.3px,#fdeced 74.3px 76.78px,#fbdcde 76.78px 79.25px,#fad5d7 79.25px 81.73px,#f9cfd2 81.73px 84.21px,#fad8da 84.21px 86.68px,#fad7d9 86.68px 89.16px,#fbdfe0 89.16px 91.64px,#fad7d9 91.64px 94.11px,#fad9db 94.11px 96.59px,#fdf1f1 96.59px 99.07px,#fbdee0 99.07px 101.54px,#fef9f9 101.54px 104.02px,#f8c8ca 104.02px 106.5px,#f7c0c3 106.5px 108.97px,#f9d3d5 108.97px 111.45px,#f8c8cb 111.45px 113.93px,#f8c7ca 113.93px 116.4px,#f9cccf 116.4px 118.88px,#f5adb1 118.88px 121.36px,#f8c4c6 121.36px 123.83px,#f6b7ba 123.83px 126.31px,#f6b8bc 126.31px 128.79px,#f19297 128.79px 131.26px,#f8c9cc 131.26px 133.74px,#f4a6aa 133.74px 136.22px,#f6bbbe 136.22px 138.69px,#f5acb0 138.69px 141.17px,#f5acaf 141.17px 143.65px,#f08b90 143.65px 146.12px,#f4a5a9 146.12px 148.6px)"></div><div class="h" style="left:358.3px;top:221.54px;width:148.6px;height:1.15px;background:linear-gradient(90deg,#dfe1f2 0px 2.48px,#ebecf7 2.48px 4.95px,#e3e4f3 4.95px 7.43px,#e4e5f4 7.43px 9.91px,#fdf0f1 9.91px 12.38px,#ecedf7 12.38px 14.86px,#ebecf7 14.86px 17.34px,#fdefef 17.34px 19.81px,#fcfcfe 19.81px 22.29px,#fdf0f1 22.29px 24.77px,#e4e5f4 24.77px 27.24px,#fafbfd 27.24px 29.72px,#fef6f6 29.72px 32.2px,#fef8f9 32.2px 34.67px,#fdf2f2 34.67px 37.15px,#fce5e6 37.15px 39.63px,#fdeeef 39.63px 42.1px,#fce4e5 42.1px 44.58px,#fce8e9 44.58px 47.06px,#ffffff 47.06px 49.53px,#fdeeef 49.53px 52.01px,#fadadc 52.01px 54.49px,#fffefe 54.49px 56.96px,#fce4e5 56.96px 59.44px,#fbe1e2 59.44px 61.92px,#fad4d6 61.92px 64.39px,#fbfbfd 64.39px 66.87px,#f7c0c3 66.87px 69.35px,#ffffff 69.35px 71.82px,#fce4e5 71.82px 74.3px,#f6b9bc 74.3px 76.78px,#fef7f7 76.78px 79.25px,#f6babd 79.25px 81.73px,#fad9db 81.73px 84.21px,#f7bdc0 84.21px 86.68px,#f7c3c6 86.68px 89.16px,#fad6d8 89.16px 91.64px,#fce4e6 91.64px 94.11px,#fadbdd 94.11px 96.59px,#fceaeb 96.59px 99.07px,#fce9ea 99.07px 101.54px,#f8cbcd 101.54px 104.02px,#fce8e9 104.02px 106.5px,#f8c8cb 106.5px 108.97px,#f9ced0 108.97px 111.45px,#f9cdd0 111.45px 113.93px,#fadbdc 113.93px 116.4px,#fbdcde 116.4px 118.88px,#f6b8bb 118.88px 121.36px,#f9d0d2 121.36px 123.83px,#f8c5c8 123.83px 126.31px,#f6babe 126.31px 128.79px,#f4a8ac 128.79px 131.26px,#f18e93 131.26px 133.74px,#f08a8f 133.74px 136.22px,#f2989d 136.22px 138.69px,#f2969b 138.69px 141.17px,#f19196 141.17px 143.65px,#f29ba0 143.65px 146.12px,#f2969b 146.12px 148.6px)"></div><div class="h" style="left:358.3px;top:222.54px;width:148.6px;height:1.15px;background:linear-gradient(90deg,#ced1eb 0px 2.48px,#f3f4fa 2.48px 4.95px,#e4e6f4 4.95px 7.43px,#f4f4fa 7.43px 9.91px,#fcebec 9.91px 12.38px,#fefeff 12.38px 14.86px,#fefafa 14.86px 17.34px,#fffdfd 17.34px 19.81px,#ecedf7 19.81px 22.29px,#ecedf7 22.29px 24.77px,#e1e3f3 24.77px 27.24px,#f0f1f9 27.24px 29.72px,#fdfdfe 29.72px 32.2px,#fef7f7 32.2px 34.67px,#fef7f7 34.67px 37.15px,#fafafd 37.15px 39.63px,#eff0f8 39.63px 42.1px,#fffbfb 42.1px 44.58px,#fef5f6 44.58px 47.06px,#e6e7f5 47.06px 49.53px,#fef6f6 49.53px 52.01px,#f1f2f9 52.01px 54.49px,#fffcfc 54.49px 56.96px,#fef5f5 56.96px 59.44px,#fdfdfe 59.44px 61.92px,#fef8f8 61.92px 64.39px,#fdeeef 64.39px 66.87px,#fffdfd 66.87px 69.35px,#fbe0e1 69.35px 71.82px,#fbdfe0 71.82px 74.3px,#fbdfe1 74.3px 76.78px,#fef8f8 76.78px 79.25px,#fce8e9 79.25px 81.73px,#fce9ea 81.73px 84.21px,#fbe0e2 84.21px 86.68px,#fad4d6 86.68px 89.16px,#fce8e9 89.16px 91.64px,#fbdddf 91.64px 94.11px,#f9ced1 94.11px 96.59px,#fbe0e1 96.59px 99.07px,#f9cdcf 99.07px 101.54px,#fad8da 101.54px 104.02px,#fdedee 104.02px 106.5px,#fad5d7 106.5px 108.97px,#f9d0d3 108.97px 111.45px,#fad8da 111.45px 113.93px,#f5b0b4 113.93px 116.4px,#fad5d7 116.4px 118.88px,#fce3e5 118.88px 121.36px,#f8c9cc 121.36px 123.83px,#f8c6c8 123.83px 126.31px,#f6b5b9 126.31px 128.79px,#f18f95 128.79px 131.26px,#f5b2b6 131.26px 133.74px,#f3a2a7 133.74px 136.22px,#f6b7ba 136.22px 138.69px,#f6b6b9 138.69px 141.17px,#f5aeb1 141.17px 143.65px,#f3a1a5 143.65px 146.12px,#f3a0a5 146.12px 148.6px)"></div><div class="h" style="left:358.3px;top:223.54px;width:148.6px;height:1.15px;background:linear-gradient(90deg,#ffffff 0px 2.48px,#f7f7fc 2.48px 4.95px,#f0f0f9 4.95px 7.43px,#f8f8fc 7.43px 9.91px,#fdecec 9.91px 12.38px,#f5f5fb 12.38px 14.86px,#fce8ea 14.86px 17.34px,#fad9db 17.34px 19.81px,#fdfdfe 19.81px 22.29px,#fbe2e3 22.29px 24.77px,#fbe1e3 24.77px 27.24px,#e6e7f5 27.24px 29.72px,#fbdee0 29.72px 32.2px,#fbe0e1 32.2px 34.67px,#fef6f6 34.67px 37.15px,#f8cbcd 37.15px 39.63px,#fbfbfd 39.63px 42.1px,#f9cfd1 42.1px 44.58px,#fbdfe0 44.58px 47.06px,#fdf2f3 47.06px 49.53px,#fbdee0 49.53px 52.01px,#fef8f8 52.01px 54.49px,#f9d3d5 54.49px 56.96px,#f9d2d5 56.96px 59.44px,#f8c6c8 59.44px 61.92px,#f7c1c4 61.92px 64.39px,#fbe2e4 64.39px 66.87px,#f9cdcf 66.87px 69.35px,#fbdee0 69.35px 71.82px,#fcfcfe 71.82px 74.3px,#f7c1c4 74.3px 76.78px,#f7bcbf 76.78px 79.25px,#f8cacd 79.25px 81.73px,#f5b0b3 81.73px 84.21px,#f9ccce 84.21px 86.68px,#fce6e7 86.68px 89.16px,#f9cfd1 89.16px 91.64px,#f8cbcd 91.64px 94.11px,#f7c0c3 94.11px 96.59px,#f8cacc 96.59px 99.07px,#fce6e7 99.07px 101.54px,#fad4d6 101.54px 104.02px,#f7c1c4 104.02px 106.5px,#f4abaf 106.5px 108.97px,#f8c6c9 108.97px 111.45px,#f9cfd2 111.45px 113.93px,#f7c0c3 113.93px 116.4px,#f4a8ac 116.4px 118.88px,#f39fa4 118.88px 121.36px,#f7bfc2 121.36px 123.83px,#f3a0a4 123.83px 126.31px,#f19096 126.31px 128.79px,#f29599 128.79px 131.26px,#f5afb3 131.26px 133.74px,#f18f94 133.74px 136.22px,#f39ca1 136.22px 138.69px,#f2989d 138.69px 141.17px,#ec6b72 141.17px 143.65px,#f0878c 143.65px 146.12px,#ee7980 146.12px 148.6px)"></div><div class="h" style="left:358.3px;top:224.54px;width:148.6px;height:1.15px;background:linear-gradient(90deg,#fffbfb 0px 2.48px,#fdf3f3 2.48px 4.95px,#f7f7fc 4.95px 7.43px,#eaebf6 7.43px 9.91px,#f5f5fb 9.91px 12.38px,#ecedf7 12.38px 14.86px,#f6f7fb 14.86px 17.34px,#f8f8fc 17.34px 19.81px,#e4e5f4 19.81px 22.29px,#f0f1f9 22.29px 24.77px,#e8e9f5 24.77px 27.24px,#ffffff 27.24px 29.72px,#fdf0f0 29.72px 32.2px,#fdeff0 32.2px 34.67px,#fef7f7 34.67px 37.15px,#f6f7fb 37.15px 39.63px,#fef8f8 39.63px 42.1px,#f3f3fa 42.1px 44.58px,#fceaeb 44.58px 47.06px,#f3f3fa 47.06px 49.53px,#fffbfb 49.53px 52.01px,#f9d3d5 52.01px 54.49px,#fce7e8 54.49px 56.96px,#fffcfc 56.96px 59.44px,#fdeeef 59.44px 61.92px,#fefafa 61.92px 64.39px,#fef5f5 64.39px 66.87px,#fdedee 66.87px 69.35px,#fdf3f3 69.35px 71.82px,#fbe0e1 71.82px 74.3px,#f9d0d2 74.3px 76.78px,#fdeeef 76.78px 79.25px,#fdeeef 79.25px 81.73px,#fceaeb 81.73px 84.21px,#fce6e7 84.21px 86.68px,#fad8da 86.68px 89.16px,#fce3e5 89.16px 91.64px,#fce5e7 91.64px 94.11px,#fbe1e2 94.11px 96.59px,#f8c4c6 96.59px 99.07px,#f7c2c5 99.07px 101.54px,#f7c0c3 101.54px 104.02px,#f9cccf 104.02px 106.5px,#fbdddf 106.5px 108.97px,#f6b6b9 108.97px 111.45px,#f4a6aa 111.45px 113.93px,#fad4d6 113.93px 116.4px,#f9d2d4 116.4px 118.88px,#f5b3b6 118.88px 121.36px,#f6b5b8 121.36px 123.83px,#f6b5b8 123.83px 126.31px,#f2959a 126.31px 128.79px,#f6b5b9 128.79px 131.26px,#f6bbbe 131.26px 133.74px,#f5afb3 133.74px 136.22px,#f3a1a5 136.22px 138.69px,#f39da1 138.69px 141.17px,#f0878d 141.17px 143.65px,#f08a90 143.65px 146.12px,#f39ea3 146.12px 148.6px)"></div><div class="h" style="left:358.3px;top:225.55px;width:148.6px;height:1.15px;background:linear-gradient(90deg,#fef9f9 0px 2.48px,#f8f8fc 2.48px 4.95px,#fce9ea 4.95px 7.43px,#fdedee 7.43px 9.91px,#f6f6fb 9.91px 12.38px,#fef4f5 12.38px 14.86px,#eeeff8 14.86px 17.34px,#fdf3f3 17.34px 19.81px,#fef7f8 19.81px 22.29px,#fdf0f0 22.29px 24.77px,#f5f5fb 24.77px 27.24px,#fcfcfe 27.24px 29.72px,#fffcfc 29.72px 32.2px,#fef5f5 32.2px 34.67px,#fce5e6 34.67px 37.15px,#fffcfc 37.15px 39.63px,#f1f2f9 39.63px 42.1px,#fef4f5 42.1px 44.58px,#fbddde 44.58px 47.06px,#fadadb 47.06px 49.53px,#fffbfc 49.53px 52.01px,#fadadc 52.01px 54.49px,#fbe2e3 54.49px 56.96px,#fad6d8 56.96px 59.44px,#fbdddf 59.44px 61.92px,#f8cacd 61.92px 64.39px,#fce9ea 64.39px 66.87px,#f6b8bb 66.87px 69.35px,#f8c8cb 69.35px 71.82px,#fdeced 71.82px 74.3px,#fdf1f2 74.3px 76.78px,#f8c5c8 76.78px 79.25px,#fdeeef 79.25px 81.73px,#fbe0e1 81.73px 84.21px,#f8c9cc 84.21px 86.68px,#f9d2d4 86.68px 89.16px,#f9ccce 89.16px 91.64px,#fdf0f1 91.64px 94.11px,#fad8d9 94.11px 96.59px,#f7c1c4 96.59px 99.07px,#f4a6aa 99.07px 101.54px,#f7c0c3 101.54px 104.02px,#f8c4c7 104.02px 106.5px,#f7c1c4 106.5px 108.97px,#f5b1b5 108.97px 111.45px,#f6b6b9 111.45px 113.93px,#f9ced0 113.93px 116.4px,#fbdee0 116.4px 118.88px,#f7bec1 118.88px 121.36px,#f7bcbf 121.36px 123.83px,#f19398 123.83px 126.31px,#f6bbbe 126.31px 128.79px,#f39ca0 128.79px 131.26px,#f8c5c7 131.26px 133.74px,#f19297 133.74px 136.22px,#f5b0b4 136.22px 138.69px,#f2959a 138.69px 141.17px,#f2959a 141.17px 143.65px,#f08b91 143.65px 146.12px,#f0888e 146.12px 148.6px)"></div><div class="h" style="left:358.3px;top:226.55px;width:148.6px;height:1.15px;background:linear-gradient(90deg,#e3e4f3 0px 2.48px,#fffefe 2.48px 4.95px,#eaebf6 4.95px 7.43px,#f8f9fc 7.43px 9.91px,#edeef8 9.91px 12.38px,#fcfcfe 12.38px 14.86px,#fcfcfe 14.86px 17.34px,#fcfcfe 17.34px 19.81px,#f4f4fa 19.81px 22.29px,#fce8e9 22.29px 24.77px,#fffdfd 24.77px 27.24px,#fef8f8 27.24px 29.72px,#e4e5f4 29.72px 32.2px,#fdeced 32.2px 34.67px,#f0f1f9 34.67px 37.15px,#fef6f7 37.15px 39.63px,#ecedf7 39.63px 42.1px,#f9d1d3 42.1px 44.58px,#f3f3fa 44.58px 47.06px,#fdf1f2 47.06px 49.53px,#fefeff 49.53px 52.01px,#ffffff 52.01px 54.49px,#f9f9fc 54.49px 56.96px,#f9cfd1 56.96px 59.44px,#f7c2c5 59.44px 61.92px,#fce6e7 61.92px 64.39px,#fad5d7 64.39px 66.87px,#fce9ea 66.87px 69.35px,#fdf1f2 69.35px 71.82px,#f7c0c3 71.82px 74.3px,#f9d2d4 74.3px 76.78px,#fdeeef 76.78px 79.25px,#fadbdd 79.25px 81.73px,#fad8da 81.73px 84.21px,#fadbdd 84.21px 86.68px,#fad6d8 86.68px 89.16px,#fbdee0 89.16px 91.64px,#f9d3d5 91.64px 94.11px,#fad7d9 94.11px 96.59px,#fad4d6 96.59px 99.07px,#fadadb 99.07px 101.54px,#f5b2b6 101.54px 104.02px,#f9d1d3 104.02px 106.5px,#f9cccf 106.5px 108.97px,#f7c3c6 108.97px 111.45px,#f8c5c8 111.45px 113.93px,#fadadb 113.93px 116.4px,#f6b4b8 116.4px 118.88px,#fad4d6 118.88px 121.36px,#f8c6c9 121.36px 123.83px,#f5b0b3 123.83px 126.31px,#f6b5b9 126.31px 128.79px,#f6b9bc 128.79px 131.26px,#f4a9ad 131.26px 133.74px,#f5b2b6 133.74px 136.22px,#f4aaae 136.22px 138.69px,#f5afb2 138.69px 141.17px,#f4abaf 141.17px 143.65px,#f3a2a7 143.65px 146.12px,#f18d92 146.12px 148.6px)"></div><div class="h" style="left:358.3px;top:227.55px;width:148.6px;height:1.15px;background:linear-gradient(90deg,#e3e5f4 0px 2.48px,#eaebf6 2.48px 4.95px,#fcfdfe 4.95px 7.43px,#e9eaf6 7.43px 9.91px,#d4d6ed 9.91px 12.38px,#f4f4fa 12.38px 14.86px,#fdedee 14.86px 17.34px,#c8cae8 17.34px 19.81px,#f3f3fa 19.81px 22.29px,#e7e8f5 22.29px 24.77px,#e2e4f3 24.77px 27.24px,#fef6f6 27.24px 29.72px,#fcfcfe 29.72px 32.2px,#fefefe 32.2px 34.67px,#ebecf7 34.67px 37.15px,#f9f9fd 37.15px 39.63px,#f1f2f9 39.63px 42.1px,#fbe1e2 42.1px 44.58px,#fef9f9 44.58px 47.06px,#e7e8f5 47.06px 49.53px,#fefbfb 49.53px 52.01px,#fbdbdd 52.01px 54.49px,#ffffff 54.49px 56.96px,#fef5f6 56.96px 59.44px,#fdf0f1 59.44px 61.92px,#fce6e7 61.92px 64.39px,#fce4e5 64.39px 66.87px,#fef5f5 66.87px 69.35px,#fdeff0 69.35px 71.82px,#fbdcde 71.82px 74.3px,#fef7f7 74.3px 76.78px,#fceaeb 76.78px 79.25px,#fbdddf 79.25px 81.73px,#fce5e7 81.73px 84.21px,#fdf0f1 84.21px 86.68px,#f8c3c6 86.68px 89.16px,#fadadc 89.16px 91.64px,#fbe0e1 91.64px 94.11px,#f5f5fb 94.11px 96.59px,#f8c6c9 96.59px 99.07px,#f8c7ca 99.07px 101.54px,#fad6d8 101.54px 104.02px,#fad3d5 104.02px 106.5px,#fbe0e1 106.5px 108.97px,#f5afb3 108.97px 111.45px,#f7c0c3 111.45px 113.93px,#f4a8ac 113.93px 116.4px,#f4a7ab 116.4px 118.88px,#fce7e8 118.88px 121.36px,#f6babd 121.36px 123.83px,#fbe2e3 123.83px 126.31px,#f6b5b9 126.31px 128.79px,#f6b6b9 128.79px 131.26px,#f6bbbe 131.26px 133.74px,#f3a3a7 133.74px 136.22px,#f4a7ab 136.22px 138.69px,#f4aaae 138.69px 141.17px,#f4a4a8 141.17px 143.65px,#f18c91 143.65px 146.12px,#f18f94 146.12px 148.6px)"></div><div class="h" style="left:358.3px;top:228.56px;width:148.6px;height:1.15px;background:linear-gradient(90deg,#fffefe 0px 2.48px,#f9f9fc 2.48px 4.95px,#eeeff8 4.95px 7.43px,#eff0f8 7.43px 9.91px,#fcfcfe 9.91px 12.38px,#eeeff8 12.38px 14.86px,#f1f2f9 14.86px 17.34px,#fef4f5 17.34px 19.81px,#fffcfd 19.81px 22.29px,#fcfcfe 22.29px 24.77px,#fefafa 24.77px 27.24px,#fcfdfe 27.24px 29.72px,#fce5e6 29.72px 32.2px,#fffcfc 32.2px 34.67px,#fef6f7 34.67px 37.15px,#f6f6fb 37.15px 39.63px,#ffffff 39.63px 42.1px,#f7f7fc 42.1px 44.58px,#fceaeb 44.58px 47.06px,#fce6e7 47.06px 49.53px,#fce3e5 49.53px 52.01px,#fdf2f3 52.01px 54.49px,#fceaeb 54.49px 56.96px,#fce3e5 56.96px 59.44px,#fdeeef 59.44px 61.92px,#fcfcfe 61.92px 64.39px,#f8c4c7 64.39px 66.87px,#fadbdd 66.87px 69.35px,#f9d3d5 69.35px 71.82px,#f9d3d5 71.82px 74.3px,#fceaeb 74.3px 76.78px,#fbdedf 76.78px 79.25px,#fce3e5 79.25px 81.73px,#f8c8cb 81.73px 84.21px,#fad5d7 84.21px 86.68px,#fbe3e4 86.68px 89.16px,#f9d0d2 89.16px 91.64px,#f4a7ab 91.64px 94.11px,#f9d3d5 94.11px 96.59px,#f8c9cb 96.59px 99.07px,#f5adb0 99.07px 101.54px,#fbddde 101.54px 104.02px,#f8c7ca 104.02px 106.5px,#f6b6ba 106.5px 108.97px,#f7bfc2 108.97px 111.45px,#f9d1d4 111.45px 113.93px,#f8c6c9 113.93px 116.4px,#f7c3c6 116.4px 118.88px,#f5b2b5 118.88px 121.36px,#f5acb0 121.36px 123.83px,#fad9da 123.83px 126.31px,#f5b3b6 126.31px 128.79px,#f6bbbe 128.79px 131.26px,#f4a6aa 131.26px 133.74px,#f5adb1 133.74px 136.22px,#f29ba0 136.22px 138.69px,#f6b6b9 138.69px 141.17px,#f2959a 141.17px 143.65px,#f08b90 143.65px 146.12px,#ee7b81 146.12px 148.6px)"></div><div class="h" style="left:358.3px;top:229.56px;width:148.6px;height:1.15px;background:linear-gradient(90deg,#fef4f5 0px 2.48px,#f2f3fa 2.48px 4.95px,#eaebf6 4.95px 7.43px,#fef4f4 7.43px 9.91px,#fdfdfe 9.91px 12.38px,#fdfdfe 12.38px 14.86px,#fffbfc 14.86px 17.34px,#e4e5f4 17.34px 19.81px,#eeeff8 19.81px 22.29px,#f0f1f9 22.29px 24.77px,#eeeff8 24.77px 27.24px,#fce4e5 27.24px 29.72px,#e5e6f4 29.72px 32.2px,#fffdfd 32.2px 34.67px,#fefafa 34.67px 37.15px,#f9f9fc 37.15px 39.63px,#fdeff0 39.63px 42.1px,#fcfcfe 42.1px 44.58px,#f5f5fb 44.58px 47.06px,#f8f9fc 47.06px 49.53px,#fad9db 49.53px 52.01px,#fef5f5 52.01px 54.49px,#fce9ea 54.49px 56.96px,#fbe1e3 56.96px 59.44px,#fbe2e4 59.44px 61.92px,#fef4f5 61.92px 64.39px,#fad9db 64.39px 66.87px,#fad4d6 66.87px 69.35px,#fefbfb 69.35px 71.82px,#fad4d6 71.82px 74.3px,#fad8da 74.3px 76.78px,#f9cdcf 76.78px 79.25px,#fad3d5 79.25px 81.73px,#fbdee0 81.73px 84.21px,#fce7e8 84.21px 86.68px,#f9ced0 86.68px 89.16px,#f9d1d3 89.16px 91.64px,#f9cfd1 91.64px 94.11px,#fbdcde 94.11px 96.59px,#f7bfc2 96.59px 99.07px,#f7c2c5 99.07px 101.54px,#f7bec1 101.54px 104.02px,#fad8d9 104.02px 106.5px,#f7c2c5 106.5px 108.97px,#f6bbbe 108.97px 111.45px,#fbdfe1 111.45px 113.93px,#fad4d6 113.93px 116.4px,#f7c2c5 116.4px 118.88px,#fadbdd 118.88px 121.36px,#f7c0c3 121.36px 123.83px,#f6b8bc 123.83px 126.31px,#f9ced0 126.31px 128.79px,#f4a7ab 128.79px 131.26px,#f5acb0 131.26px 133.74px,#f19398 133.74px 136.22px,#f4a4a8 136.22px 138.69px,#f4a7ab 138.69px 141.17px,#f29b9f 141.17px 143.65px,#f18e94 143.65px 146.12px,#f5afb3 146.12px 148.6px)"></div><div class="h" style="left:358.3px;top:230.56px;width:148.6px;height:1.15px;background:linear-gradient(90deg,#eff0f8 0px 2.48px,#fffefe 2.48px 4.95px,#fffcfc 4.95px 7.43px,#fefefe 7.43px 9.91px,#e8e9f6 9.91px 12.38px,#f9fafd 12.38px 14.86px,#fefbfb 14.86px 17.34px,#fefeff 17.34px 19.81px,#fffcfc 19.81px 22.29px,#fbdfe0 22.29px 24.77px,#fbdcde 24.77px 27.24px,#fcfdfe 27.24px 29.72px,#f6f6fb 29.72px 32.2px,#fef7f7 32.2px 34.67px,#fbe0e1 34.67px 37.15px,#f9f9fd 37.15px 39.63px,#fcfcfe 39.63px 42.1px,#f9f9fc 42.1px 44.58px,#fbdddf 44.58px 47.06px,#fef6f6 47.06px 49.53px,#fdeeee 49.53px 52.01px,#f9d0d3 52.01px 54.49px,#fbdfe1 54.49px 56.96px,#fdedee 56.96px 59.44px,#fffcfc 59.44px 61.92px,#f9d3d5 61.92px 64.39px,#fbe2e3 64.39px 66.87px,#fce7e8 66.87px 69.35px,#fbdcde 69.35px 71.82px,#fcebec 71.82px 74.3px,#fadadc 74.3px 76.78px,#fad8da 76.78px 79.25px,#fdeced 79.25px 81.73px,#fad5d7 81.73px 84.21px,#f9cdd0 84.21px 86.68px,#f7bec1 86.68px 89.16px,#f8c6c8 89.16px 91.64px,#f5b0b4 91.64px 94.11px,#f7c3c5 94.11px 96.59px,#f9d0d2 96.59px 99.07px,#f8c8cb 99.07px 101.54px,#f9ccce 101.54px 104.02px,#fadadc 104.02px 106.5px,#f9cdcf 106.5px 108.97px,#f8c5c8 108.97px 111.45px,#fad7d9 111.45px 113.93px,#f8c6c8 113.93px 116.4px,#f6babd 116.4px 118.88px,#f4a5a9 118.88px 121.36px,#f7bdc1 121.36px 123.83px,#f7bcbf 123.83px 126.31px,#f7bdc0 126.31px 128.79px,#f8c8cb 128.79px 131.26px,#f3a0a5 131.26px 133.74px,#f5adb1 133.74px 136.22px,#f4abaf 136.22px 138.69px,#f5aeb2 138.69px 141.17px,#ef7f85 141.17px 143.65px,#ef7d83 143.65px 146.12px,#f0868c 146.12px 148.6px)"></div><div class="h" style="left:358.3px;top:231.56px;width:148.6px;height:1.15px;background:linear-gradient(90deg,#f8cacd 0px 2.48px,#fad8d9 2.48px 4.95px,#fce7e9 4.95px 7.43px,#f9d0d2 7.43px 9.91px,#f9d0d2 9.91px 12.38px,#f4aaae 12.38px 14.86px,#f8c7c9 14.86px 17.34px,#fbdcde 17.34px 19.81px,#f4aaae 19.81px 22.29px,#f6b7ba 22.29px 24.77px,#f8c7c9 24.77px 27.24px,#f6babd 27.24px 29.72px,#f6b5b8 29.72px 32.2px,#f8c6c9 32.2px 34.67px,#f9cccf 34.67px 37.15px,#f6bbbe 37.15px 39.63px,#f5b3b7 39.63px 42.1px,#f6b4b8 42.1px 44.58px,#f9cfd1 44.58px 47.06px,#f9ccce 47.06px 49.53px,#f7bcbf 49.53px 52.01px,#f8c5c8 52.01px 54.49px,#f7c0c3 54.49px 56.96px,#f39ca0 56.96px 59.44px,#fad5d7 59.44px 61.92px,#f7bec1 61.92px 64.39px,#f8cacc 64.39px 66.87px,#f6b5b8 66.87px 69.35px,#f2999e 69.35px 71.82px,#f5b1b5 71.82px 74.3px,#f3a2a6 74.3px 76.78px,#f8c6c8 76.78px 79.25px,#f5b2b5 79.25px 81.73px,#f39fa4 81.73px 84.21px,#f6bbbe 84.21px 86.68px,#f7c1c4 86.68px 89.16px,#f9cdd0 89.16px 91.64px,#f39ca1 91.64px 94.11px,#f6b5b9 94.11px 96.59px,#f39da1 96.59px 99.07px,#f5afb3 99.07px 101.54px,#f5b1b5 101.54px 104.02px,#f4a4a9 104.02px 106.5px,#f5aeb1 106.5px 108.97px,#f39da2 108.97px 111.45px,#f6babd 111.45px 113.93px,#f6b9bd 113.93px 116.4px,#f5afb2 116.4px 118.88px,#f6b7bb 118.88px 121.36px,#f5b2b5 121.36px 123.83px,#f3a1a5 123.83px 126.31px,#f4a8ac 126.31px 128.79px,#f5afb2 128.79px 131.26px,#f19095 131.26px 133.74px,#f7c2c5 133.74px 136.22px,#f6b5b9 136.22px 138.69px,#f5aeb2 138.69px 141.17px,#f29b9f 141.17px 143.65px,#f3a0a5 143.65px 146.12px,#f3a1a6 146.12px 148.6px)"></div><div class="h" style="left:358.3px;top:232.57px;width:148.6px;height:1.15px;background:linear-gradient(90deg,#f4abaf 0px 2.48px,#f8c4c6 2.48px 4.95px,#f9ced0 4.95px 7.43px,#f5aeb2 7.43px 9.91px,#f4a8ac 9.91px 12.38px,#f9d1d3 12.38px 14.86px,#f8cacc 14.86px 17.34px,#f7c1c4 17.34px 19.81px,#f6b9bd 19.81px 22.29px,#f7bdc0 22.29px 24.77px,#f5b2b6 24.77px 27.24px,#fad8da 27.24px 29.72px,#f8c6c8 29.72px 32.2px,#fad6d8 32.2px 34.67px,#f5afb3 34.67px 37.15px,#f5acaf 37.15px 39.63px,#f6b8bb 39.63px 42.1px,#f6bbbe 42.1px 44.58px,#f7bcbf 44.58px 47.06px,#f7bcbf 47.06px 49.53px,#f8c7ca 49.53px 52.01px,#f5b2b5 52.01px 54.49px,#f5afb2 54.49px 56.96px,#f8c4c7 56.96px 59.44px,#f5b1b5 59.44px 61.92px,#f3a0a4 61.92px 64.39px,#f39da2 64.39px 66.87px,#f19196 66.87px 69.35px,#f08a8f 69.35px 71.82px,#f9ced0 71.82px 74.3px,#f7bdc0 74.3px 76.78px,#f7bcbf 76.78px 79.25px,#f5adb0 79.25px 81.73px,#f29ba0 81.73px 84.21px,#f9cbce 84.21px 86.68px,#f4aaad 86.68px 89.16px,#f5adb1 89.16px 91.64px,#f39ea2 91.64px 94.11px,#f4a9ad 94.11px 96.59px,#f7bcbf 96.59px 99.07px,#f5acb0 99.07px 101.54px,#f6b8bc 101.54px 104.02px,#f5b2b6 104.02px 106.5px,#f6b4b7 106.5px 108.97px,#f5afb2 108.97px 111.45px,#f4a8ac 111.45px 113.93px,#f4a7ac 113.93px 116.4px,#f29b9f 116.4px 118.88px,#f3a2a6 118.88px 121.36px,#f8c9cb 121.36px 123.83px,#f3a2a6 123.83px 126.31px,#f5b2b6 126.31px 128.79px,#f29ba0 128.79px 131.26px,#f5b2b5 131.26px 133.74px,#f6b8bb 133.74px 136.22px,#f7c1c4 136.22px 138.69px,#f4abaf 138.69px 141.17px,#f39ca0 141.17px 143.65px,#f6b6ba 143.65px 146.12px,#f3a2a7 146.12px 148.6px)"></div><div class="h" style="left:358.3px;top:233.57px;width:148.6px;height:1.15px;background:linear-gradient(90deg,#f8c7c9 0px 2.48px,#fbe3e4 2.48px 4.95px,#f8c4c7 4.95px 7.43px,#f8c5c8 7.43px 9.91px,#f6b8bc 9.91px 12.38px,#fadbdd 12.38px 14.86px,#f6b5b9 14.86px 17.34px,#f7c0c3 17.34px 19.81px,#f5b0b3 19.81px 22.29px,#f8c5c8 22.29px 24.77px,#f8c8cb 24.77px 27.24px,#f7c1c4 27.24px 29.72px,#f7bdc0 29.72px 32.2px,#f4abaf 32.2px 34.67px,#f8c8ca 34.67px 37.15px,#f7c0c3 37.15px 39.63px,#f9cbce 39.63px 42.1px,#f7c0c3 42.1px 44.58px,#f6b6b9 44.58px 47.06px,#f3a2a7 47.06px 49.53px,#f6bbbe 49.53px 52.01px,#f6b5b8 52.01px 54.49px,#f6b7bb 54.49px 56.96px,#f4a7ab 56.96px 59.44px,#f7bcbf 59.44px 61.92px,#f6bbbe 61.92px 64.39px,#f5b1b5 64.39px 66.87px,#f6babe 66.87px 69.35px,#f5b2b5 69.35px 71.82px,#f6b6ba 71.82px 74.3px,#f6babd 74.3px 76.78px,#f4a6aa 76.78px 79.25px,#f6b7ba 79.25px 81.73px,#f6babd 81.73px 84.21px,#f4abaf 84.21px 86.68px,#f2959a 86.68px 89.16px,#f5adb1 89.16px 91.64px,#f6b4b8 91.64px 94.11px,#f4a5a9 94.11px 96.59px,#f4a8ac 96.59px 99.07px,#f7c0c3 99.07px 101.54px,#f39da1 101.54px 104.02px,#f2999e 104.02px 106.5px,#f6b7ba 106.5px 108.97px,#f6b4b8 108.97px 111.45px,#f4a4a8 111.45px 113.93px,#f4a8ac 113.93px 116.4px,#f4abae 116.4px 118.88px,#f2979c 118.88px 121.36px,#f8c5c8 121.36px 123.83px,#f6b4b7 123.83px 126.31px,#f3a3a7 126.31px 128.79px,#f3a3a7 128.79px 131.26px,#f5b3b7 131.26px 133.74px,#f8c6c9 133.74px 136.22px,#f2969b 136.22px 138.69px,#f29a9e 138.69px 141.17px,#f4a6aa 141.17px 143.65px,#f3a2a7 143.65px 146.12px,#f2969b 146.12px 148.6px)"></div><div class="h" style="left:358.3px;top:234.57px;width:148.6px;height:1.15px;background:linear-gradient(90deg,#f29ba0 0px 2.48px,#f9d1d3 2.48px 4.95px,#f7c0c3 4.95px 7.43px,#fbe0e1 7.43px 9.91px,#f9d3d5 9.91px 12.38px,#f5acb0 12.38px 14.86px,#f7c3c6 14.86px 17.34px,#fbe2e3 17.34px 19.81px,#f9d3d5 19.81px 22.29px,#f4a5a9 22.29px 24.77px,#f6b5b8 24.77px 27.24px,#f4a8ac 27.24px 29.72px,#f3a2a7 29.72px 32.2px,#f8c4c7 32.2px 34.67px,#f6bbbe 34.67px 37.15px,#f8c5c8 37.15px 39.63px,#f8c9cb 39.63px 42.1px,#f4aaae 42.1px 44.58px,#f6b5b8 44.58px 47.06px,#f8c4c7 47.06px 49.53px,#f9d3d5 49.53px 52.01px,#f7bfc2 52.01px 54.49px,#f7bcbf 54.49px 56.96px,#f7c3c5 56.96px 59.44px,#f4aaae 59.44px 61.92px,#f5adb1 61.92px 64.39px,#f5aeb2 64.39px 66.87px,#f3a1a6 66.87px 69.35px,#f6babd 69.35px 71.82px,#f6b5b8 71.82px 74.3px,#f19297 74.3px 76.78px,#f7c1c4 76.78px 79.25px,#f5aeb2 79.25px 81.73px,#f4a6aa 81.73px 84.21px,#f5aeb2 84.21px 86.68px,#f5b2b6 86.68px 89.16px,#f4a9ad 89.16px 91.64px,#f3a3a7 91.64px 94.11px,#f5adb1 94.11px 96.59px,#f6b4b8 96.59px 99.07px,#f8cacd 99.07px 101.54px,#f6b4b7 101.54px 104.02px,#f6bbbe 104.02px 106.5px,#f6babe 106.5px 108.97px,#f7bcc0 108.97px 111.45px,#f7c2c5 111.45px 113.93px,#f6b9bd 113.93px 116.4px,#f4abaf 116.4px 118.88px,#f7c0c3 118.88px 121.36px,#f7c1c4 121.36px 123.83px,#f2979c 123.83px 126.31px,#f39da1 126.31px 128.79px,#f5b2b6 128.79px 131.26px,#f4a4a9 131.26px 133.74px,#f5acb0 133.74px 136.22px,#f3a3a7 136.22px 138.69px,#f39ea3 138.69px 141.17px,#f6babd 141.17px 143.65px,#f8c5c8 143.65px 146.12px,#f2999e 146.12px 148.6px)"></div><div class="h" style="left:358.3px;top:235.57px;width:148.6px;height:1.15px;background:linear-gradient(90deg,#f7c0c3 0px 2.48px,#fad6d8 2.48px 4.95px,#f5b2b5 4.95px 7.43px,#f7c2c5 7.43px 9.91px,#f8c4c7 9.91px 12.38px,#f5b0b3 12.38px 14.86px,#f5aeb1 14.86px 17.34px,#f6b4b7 17.34px 19.81px,#f7bec1 19.81px 22.29px,#f9cccf 22.29px 24.77px,#f7c1c4 24.77px 27.24px,#f8cacc 27.24px 29.72px,#f6b6b9 29.72px 32.2px,#f5b2b5 32.2px 34.67px,#f7c1c4 34.67px 37.15px,#f5b1b5 37.15px 39.63px,#fad4d6 39.63px 42.1px,#f5acb0 42.1px 44.58px,#f6bbbe 44.58px 47.06px,#fbe1e3 47.06px 49.53px,#f7bec1 49.53px 52.01px,#f5b2b5 52.01px 54.49px,#f6b6b9 54.49px 56.96px,#f9cccf 56.96px 59.44px,#f5afb2 59.44px 61.92px,#f5b0b4 61.92px 64.39px,#f6bbbe 64.39px 66.87px,#f4a5a9 66.87px 69.35px,#f8c4c6 69.35px 71.82px,#f6b5b9 71.82px 74.3px,#f6babd 74.3px 76.78px,#fbddde 76.78px 79.25px,#f5b3b7 79.25px 81.73px,#f5b0b4 81.73px 84.21px,#f7c3c5 84.21px 86.68px,#f6b8bc 86.68px 89.16px,#f4a7ab 89.16px 91.64px,#f7bcbf 91.64px 94.11px,#f5adb1 94.11px 96.59px,#f5b2b5 96.59px 99.07px,#f6b3b7 99.07px 101.54px,#f4a9ad 101.54px 104.02px,#f9cfd2 104.02px 106.5px,#f8cacc 106.5px 108.97px,#f8c5c7 108.97px 111.45px,#f4a7ab 111.45px 113.93px,#f3a1a5 113.93px 116.4px,#f6b8bb 116.4px 118.88px,#f8cbcd 118.88px 121.36px,#f29ba0 121.36px 123.83px,#f6b9bc 123.83px 126.31px,#f7c0c3 126.31px 128.79px,#f5acaf 128.79px 131.26px,#f7bbbf 131.26px 133.74px,#f4a6aa 133.74px 136.22px,#f4a8ac 136.22px 138.69px,#f7bfc2 138.69px 141.17px,#f19297 141.17px 143.65px,#f5aeb2 143.65px 146.12px,#f4a7ab 146.12px 148.6px)"></div><div class="h" style="left:358.3px;top:236.58px;width:148.6px;height:1.15px;background:linear-gradient(90deg,#f4a8ac 0px 2.48px,#f5acb0 2.48px 4.95px,#fce7e8 4.95px 7.43px,#f7bec1 7.43px 9.91px,#f7c2c5 9.91px 12.38px,#f6b5b8 12.38px 14.86px,#f5b1b5 14.86px 17.34px,#f3a3a7 17.34px 19.81px,#fadbdd 19.81px 22.29px,#f7bcbf 22.29px 24.77px,#f4a8ad 24.77px 27.24px,#f7c0c3 27.24px 29.72px,#f39fa3 29.72px 32.2px,#f4a8ac 32.2px 34.67px,#f4a9ad 34.67px 37.15px,#f8c7c9 37.15px 39.63px,#fad4d6 39.63px 42.1px,#f7bdc0 42.1px 44.58px,#f6b9bc 44.58px 47.06px,#f6b4b7 47.06px 49.53px,#f4a4a8 49.53px 52.01px,#f6babe 52.01px 54.49px,#f8c7ca 54.49px 56.96px,#f2989c 56.96px 59.44px,#f4a5aa 59.44px 61.92px,#f7bec1 61.92px 64.39px,#f6b6ba 64.39px 66.87px,#fdf2f3 66.87px 69.35px,#f8c6c8 69.35px 71.82px,#f6b4b7 71.82px 74.3px,#f4a9ad 74.3px 76.78px,#f6b4b8 76.78px 79.25px,#f6b4b7 79.25px 81.73px,#f6bbbe 81.73px 84.21px,#f7bcc0 84.21px 86.68px,#f2959a 86.68px 89.16px,#f18e93 89.16px 91.64px,#f39da2 91.64px 94.11px,#f6b5b9 94.11px 96.59px,#f9d2d4 96.59px 99.07px,#f3a0a5 99.07px 101.54px,#f7bfc2 101.54px 104.02px,#f5b2b6 104.02px 106.5px,#f4a7ab 106.5px 108.97px,#f19398 108.97px 111.45px,#f6b9bd 111.45px 113.93px,#f5b0b3 113.93px 116.4px,#f39da2 116.4px 118.88px,#f29b9f 118.88px 121.36px,#f5acb0 121.36px 123.83px,#f3a3a7 123.83px 126.31px,#f39da2 126.31px 128.79px,#f5afb3 128.79px 131.26px,#f8c4c7 131.26px 133.74px,#f4a9ad 133.74px 136.22px,#f18d93 136.22px 138.69px,#f6b9bd 138.69px 141.17px,#f5b3b7 141.17px 143.65px,#f2969b 143.65px 146.12px,#f18c91 146.12px 148.6px)"></div><div class="h" style="left:358.3px;top:237.58px;width:148.6px;height:1.15px;background:linear-gradient(90deg,#f8c7ca 0px 2.48px,#f8c8cb 2.48px 4.95px,#fce9ea 4.95px 7.43px,#fbe1e3 7.43px 9.91px,#fad8d9 9.91px 12.38px,#fce9ea 12.38px 14.86px,#f7bcbf 14.86px 17.34px,#fbdedf 17.34px 19.81px,#f3a3a7 19.81px 22.29px,#fbdedf 22.29px 24.77px,#f8c4c7 24.77px 27.24px,#f9d0d3 27.24px 29.72px,#f9cccf 29.72px 32.2px,#f6b6ba 32.2px 34.67px,#fad9db 34.67px 37.15px,#f9ccce 37.15px 39.63px,#f6b4b7 39.63px 42.1px,#fad5d7 42.1px 44.58px,#f29a9e 44.58px 47.06px,#fbdcde 47.06px 49.53px,#f6b7bb 49.53px 52.01px,#f7c0c3 52.01px 54.49px,#f7bcbf 54.49px 56.96px,#f8c4c7 56.96px 59.44px,#f8cacc 59.44px 61.92px,#f6bbbe 61.92px 64.39px,#f8cbcd 64.39px 66.87px,#f9d1d3 66.87px 69.35px,#f4a4a8 69.35px 71.82px,#fbe0e1 71.82px 74.3px,#f6b5b9 74.3px 76.78px,#f8c9cb 76.78px 79.25px,#fbe1e2 79.25px 81.73px,#fce7e8 81.73px 84.21px,#f9ced0 84.21px 86.68px,#f6b5b9 86.68px 89.16px,#f4a8ac 89.16px 91.64px,#f7bec1 91.64px 94.11px,#f4a7ab 94.11px 96.59px,#f6babd 96.59px 99.07px,#f6b8bb 99.07px 101.54px,#f6b7bb 101.54px 104.02px,#f4a6ab 104.02px 106.5px,#f9cdcf 106.5px 108.97px,#fad9db 108.97px 111.45px,#f3a3a7 111.45px 113.93px,#f6b8bb 113.93px 116.4px,#f5b3b6 116.4px 118.88px,#f4a6aa 118.88px 121.36px,#f5b0b4 121.36px 123.83px,#f6b8bb 123.83px 126.31px,#f39ea2 126.31px 128.79px,#f3a3a8 128.79px 131.26px,#f6b9bc 131.26px 133.74px,#f5b1b4 133.74px 136.22px,#f7bbbf 136.22px 138.69px,#f6b6b9 138.69px 141.17px,#f7bfc2 141.17px 143.65px,#f4a6aa 143.65px 146.12px,#f7c3c6 146.12px 148.6px)"></div><div class="h" style="left:358.3px;top:238.58px;width:148.6px;height:1.15px;background:linear-gradient(90deg,#f6b7bb 0px 2.48px,#f3a0a4 2.48px 4.95px,#f4a9ad 4.95px 7.43px,#f19196 7.43px 9.91px,#f6b4b8 9.91px 12.38px,#f4aaae 12.38px 14.86px,#f5adb1 14.86px 17.34px,#f29a9f 17.34px 19.81px,#f4abaf 19.81px 22.29px,#f39fa4 22.29px 24.77px,#f7c1c4 24.77px 27.24px,#f5b0b4 27.24px 29.72px,#f18e94 29.72px 32.2px,#f4a6aa 32.2px 34.67px,#f3a0a5 34.67px 37.15px,#f29499 37.15px 39.63px,#f3a1a5 39.63px 42.1px,#f5b2b5 42.1px 44.58px,#f3a1a5 44.58px 47.06px,#f4aaae 47.06px 49.53px,#f4a4a8 49.53px 52.01px,#f3a2a7 52.01px 54.49px,#f2959a 54.49px 56.96px,#f18d93 56.96px 59.44px,#f0898e 59.44px 61.92px,#f5aeb2 61.92px 64.39px,#f39da1 64.39px 66.87px,#f08b90 66.87px 69.35px,#f4a9ad 69.35px 71.82px,#f4a9ad 71.82px 74.3px,#ef8187 74.3px 76.78px,#f19297 76.78px 79.25px,#f19196 79.25px 81.73px,#f4a4a8 81.73px 84.21px,#f0868c 84.21px 86.68px,#f08b90 86.68px 89.16px,#f29b9f 89.16px 91.64px,#f2979c 91.64px 94.11px,#f19096 94.11px 96.59px,#f39ca0 96.59px 99.07px,#f2999e 99.07px 101.54px,#ef8288 101.54px 104.02px,#f39ea3 104.02px 106.5px,#f5b1b4 106.5px 108.97px,#f0878d 108.97px 111.45px,#ee7a80 111.45px 113.93px,#f39fa4 113.93px 116.4px,#f18f94 116.4px 118.88px,#f29499 118.88px 121.36px,#f3a2a6 121.36px 123.83px,#f3a1a6 123.83px 126.31px,#f19095 126.31px 128.79px,#f5b0b4 128.79px 131.26px,#f19095 131.26px 133.74px,#ec676e 133.74px 136.22px,#ec666e 136.22px 138.69px,#f5b3b7 138.69px 141.17px,#f19398 141.17px 143.65px,#f3a2a6 143.65px 146.12px,#f18d92 146.12px 148.6px)"></div><div class="h" style="left:358.3px;top:239.59px;width:148.6px;height:1.15px;background:linear-gradient(90deg,#f7c0c3 0px 2.48px,#f7bcbf 2.48px 4.95px,#f6b7ba 4.95px 7.43px,#f5b1b5 7.43px 9.91px,#f5b3b6 9.91px 12.38px,#f5acb0 12.38px 14.86px,#f4a6aa 14.86px 17.34px,#f2979b 17.34px 19.81px,#f4abae 19.81px 22.29px,#f5b3b6 22.29px 24.77px,#f3a2a6 24.77px 27.24px,#f5acb0 27.24px 29.72px,#f4a5a9 29.72px 32.2px,#f7c2c5 32.2px 34.67px,#f8cacc 34.67px 37.15px,#f3a1a5 37.15px 39.63px,#f8c8cb 39.63px 42.1px,#f7c2c4 42.1px 44.58px,#f6b4b8 44.58px 47.06px,#f7bec1 47.06px 49.53px,#f4a5a9 49.53px 52.01px,#f4abaf 52.01px 54.49px,#f4a9ad 54.49px 56.96px,#f2969b 56.96px 59.44px,#f5acb0 59.44px 61.92px,#f6b4b7 61.92px 64.39px,#f7c0c3 64.39px 66.87px,#f6b8bb 66.87px 69.35px,#f6b9bc 69.35px 71.82px,#f4a9ad 71.82px 74.3px,#f18f94 74.3px 76.78px,#f5adb1 76.78px 79.25px,#f4a8ac 79.25px 81.73px,#f8cacc 81.73px 84.21px,#f18c91 84.21px 86.68px,#f6babd 86.68px 89.16px,#f4a5a9 89.16px 91.64px,#f7c1c4 91.64px 94.11px,#f29b9f 94.11px 96.59px,#f4a6aa 96.59px 99.07px,#f6b6ba 99.07px 101.54px,#f18f94 101.54px 104.02px,#f18d92 104.02px 106.5px,#f3a1a6 106.5px 108.97px,#f5adb1 108.97px 111.45px,#f3a2a6 111.45px 113.93px,#f5afb2 113.93px 116.4px,#f39ca0 116.4px 118.88px,#f4aaae 118.88px 121.36px,#f5afb3 121.36px 123.83px,#f3a2a7 123.83px 126.31px,#f0858b 126.31px 128.79px,#f6b9bc 128.79px 131.26px,#f19196 131.26px 133.74px,#f2979c 133.74px 136.22px,#f2959a 136.22px 138.69px,#f29ba0 138.69px 141.17px,#f2959a 141.17px 143.65px,#f7c1c4 143.65px 146.12px,#f3a0a5 146.12px 148.6px)"></div><div class="h" style="left:358.3px;top:240.59px;width:148.6px;height:1.15px;background:linear-gradient(90deg,#fad8da 0px 2.48px,#f6b8bb 2.48px 4.95px,#f6babd 4.95px 7.43px,#f5b2b5 7.43px 9.91px,#f5b0b3 9.91px 12.38px,#f7c2c5 12.38px 14.86px,#f7bdc0 14.86px 17.34px,#f39fa3 17.34px 19.81px,#f3a2a7 19.81px 22.29px,#f6b7ba 22.29px 24.77px,#f7c3c5 24.77px 27.24px,#f6b8bb 27.24px 29.72px,#f4a9ad 29.72px 32.2px,#f5b0b4 32.2px 34.67px,#f5b2b5 34.67px 37.15px,#f3a3a7 37.15px 39.63px,#f5aeb2 39.63px 42.1px,#f5adb1 42.1px 44.58px,#f6b7bb 44.58px 47.06px,#f5b3b7 47.06px 49.53px,#f5b2b6 49.53px 52.01px,#f8c5c8 52.01px 54.49px,#f7bec1 54.49px 56.96px,#f9d0d3 56.96px 59.44px,#f6bbbe 59.44px 61.92px,#f8cacd 61.92px 64.39px,#f5afb3 64.39px 66.87px,#f3a1a6 66.87px 69.35px,#f7bdc1 69.35px 71.82px,#f5acb0 71.82px 74.3px,#f4a6aa 74.3px 76.78px,#fad4d6 76.78px 79.25px,#f3a2a6 79.25px 81.73px,#fad6d8 81.73px 84.21px,#fad6d8 84.21px 86.68px,#fad6d8 86.68px 89.16px,#fbe0e1 89.16px 91.64px,#fce5e6 91.64px 94.11px,#f9cdd0 94.11px 96.59px,#f9ccce 96.59px 99.07px,#f9cccf 99.07px 101.54px,#fad6d8 101.54px 104.02px,#f9ced1 104.02px 106.5px,#fcebec 106.5px 108.97px,#fdf2f3 108.97px 111.45px,#fadbdd 111.45px 113.93px,#fefeff 113.93px 116.4px,#fce7e8 116.4px 118.88px,#fbfbfd 118.88px 121.36px,#e1e2f2 121.36px 123.83px,#e7e8f5 123.83px 126.31px,#e8e9f5 126.31px 128.79px,#eff0f8 128.79px 131.26px,#edeef8 131.26px 133.74px,#efeff8 133.74px 136.22px,#e7e8f5 136.22px 138.69px,#ecedf7 138.69px 141.17px,#bbbfe3 141.17px 143.65px,#d9dbef 143.65px 146.12px,#e4e5f4 146.12px 148.6px)"></div><div class="h" style="left:358.3px;top:241.59px;width:148.6px;height:1.15px;background:linear-gradient(90deg,#fad4d6 0px 2.48px,#f7bec1 2.48px 4.95px,#f6b8bb 4.95px 7.43px,#fad6d8 7.43px 9.91px,#fdeced 9.91px 12.38px,#fad6d8 12.38px 14.86px,#f9cdcf 14.86px 17.34px,#f7bcbf 17.34px 19.81px,#f7bfc2 19.81px 22.29px,#f7c0c3 22.29px 24.77px,#f8cbcd 24.77px 27.24px,#f9cfd1 27.24px 29.72px,#f9d3d5 29.72px 32.2px,#f8c9cc 32.2px 34.67px,#f9cfd1 34.67px 37.15px,#f8cacc 37.15px 39.63px,#fad3d5 39.63px 42.1px,#fad9db 42.1px 44.58px,#f7c1c4 44.58px 47.06px,#f9d2d4 47.06px 49.53px,#f7bcbf 49.53px 52.01px,#f6b8bb 52.01px 54.49px,#fad9db 54.49px 56.96px,#f4a4a8 56.96px 59.44px,#fbdddf 59.44px 61.92px,#fbe3e4 61.92px 64.39px,#fbdddf 64.39px 66.87px,#fad9da 66.87px 69.35px,#f8c9cc 69.35px 71.82px,#f6b5b9 71.82px 74.3px,#f8c3c6 74.3px 76.78px,#f5b2b5 76.78px 79.25px,#fdeced 79.25px 81.73px,#f7c0c3 81.73px 84.21px,#fce6e7 84.21px 86.68px,#fce4e5 86.68px 89.16px,#f6b4b8 89.16px 91.64px,#f7c1c4 91.64px 94.11px,#fbe2e3 94.11px 96.59px,#fef4f5 96.59px 99.07px,#fef7f7 99.07px 101.54px,#f6f6fb 101.54px 104.02px,#fffefe 104.02px 106.5px,#fdf0f0 106.5px 108.97px,#fef8f9 108.97px 111.45px,#fefeff 111.45px 113.93px,#eeeff8 113.93px 116.4px,#fbfbfd 116.4px 118.88px,#f6f6fb 118.88px 121.36px,#fef7f7 121.36px 123.83px,#e8e9f5 123.83px 126.31px,#eeeef8 126.31px 128.79px,#e7e8f5 128.79px 131.26px,#e0e2f2 131.26px 133.74px,#dbdcf0 133.74px 136.22px,#d1d3ec 136.22px 138.69px,#d5d7ee 138.69px 141.17px,#b3b7e0 141.17px 143.65px,#b2b5df 143.65px 146.12px,#adb1dd 146.12px 148.6px)"></div><div class="h" style="left:358.3px;top:242.59px;width:148.6px;height:1.15px;background:linear-gradient(90deg,#fbdee0 0px 2.48px,#fbdcde 2.48px 4.95px,#f7c2c5 4.95px 7.43px,#f9d1d3 7.43px 9.91px,#fad6d8 9.91px 12.38px,#fad3d5 12.38px 14.86px,#f8c8cb 14.86px 17.34px,#fce8e9 17.34px 19.81px,#fad6d8 19.81px 22.29px,#fce4e5 22.29px 24.77px,#f9cccf 24.77px 27.24px,#f7bcbf 27.24px 29.72px,#f9d1d3 29.72px 32.2px,#f8cacc 32.2px 34.67px,#f7bfc2 34.67px 37.15px,#fbdee0 37.15px 39.63px,#f9d0d2 39.63px 42.1px,#fef4f5 42.1px 44.58px,#f9d0d2 44.58px 47.06px,#f9d1d3 47.06px 49.53px,#fad7d9 49.53px 52.01px,#f5b2b6 52.01px 54.49px,#f9d0d2 54.49px 56.96px,#fadbdd 56.96px 59.44px,#fbdcdd 59.44px 61.92px,#fad7d9 61.92px 64.39px,#fef4f5 64.39px 66.87px,#f9d1d3 66.87px 69.35px,#fbe2e4 69.35px 71.82px,#f9d2d4 71.82px 74.3px,#f9cbce 74.3px 76.78px,#f7bcbf 76.78px 79.25px,#fadadc 79.25px 81.73px,#fad9db 81.73px 84.21px,#fbdcdd 84.21px 86.68px,#fbdbdd 86.68px 89.16px,#fdf0f0 89.16px 91.64px,#fce9ea 91.64px 94.11px,#fef8f8 94.11px 96.59px,#fdf0f0 96.59px 99.07px,#fbdfe0 99.07px 101.54px,#ffffff 101.54px 104.02px,#fceaeb 104.02px 106.5px,#fdfdfe 106.5px 108.97px,#fef6f7 108.97px 111.45px,#fefeff 111.45px 113.93px,#d1d3ec 113.93px 116.4px,#d9dbef 116.4px 118.88px,#c8cae8 118.88px 121.36px,#e3e5f3 121.36px 123.83px,#c6c9e7 123.83px 126.31px,#e2e4f3 126.31px 128.79px,#cdcfea 128.79px 131.26px,#d2d4ec 131.26px 133.74px,#b7bae1 133.74px 136.22px,#9ea3d7 136.22px 138.69px,#b3b7e0 138.69px 141.17px,#b0b4de 141.17px 143.65px,#b5b9e0 143.65px 146.12px,#b9bce2 146.12px 148.6px)"></div><div class="h" style="left:358.3px;top:243.6px;width:148.6px;height:1.15px;background:linear-gradient(90deg,#fbe0e2 0px 2.48px,#f9ccce 2.48px 4.95px,#fad9db 4.95px 7.43px,#f7bcbf 7.43px 9.91px,#fbdbdd 9.91px 12.38px,#f9cdcf 12.38px 14.86px,#f7bdc0 14.86px 17.34px,#f8c5c8 17.34px 19.81px,#f7c3c6 19.81px 22.29px,#f7bec1 22.29px 24.77px,#f8c4c7 24.77px 27.24px,#f8c6c9 27.24px 29.72px,#fbdee0 29.72px 32.2px,#f5b3b7 32.2px 34.67px,#f7bdc0 34.67px 37.15px,#f6b5b8 37.15px 39.63px,#fad6d8 39.63px 42.1px,#f8c7c9 42.1px 44.58px,#fdf3f4 44.58px 47.06px,#f9cfd1 47.06px 49.53px,#fadadc 49.53px 52.01px,#fad5d7 52.01px 54.49px,#f8c7c9 54.49px 56.96px,#fad5d7 56.96px 59.44px,#f8c8ca 59.44px 61.92px,#fcebec 61.92px 64.39px,#f4aaae 64.39px 66.87px,#fbdedf 66.87px 69.35px,#fbe0e1 69.35px 71.82px,#fce4e5 71.82px 74.3px,#f7c2c5 74.3px 76.78px,#fdf0f1 76.78px 79.25px,#fbdedf 79.25px 81.73px,#f6b8bb 81.73px 84.21px,#fdeced 84.21px 86.68px,#fce6e8 86.68px 89.16px,#fdf1f1 89.16px 91.64px,#fad6d8 91.64px 94.11px,#fef6f6 94.11px 96.59px,#fcebec 96.59px 99.07px,#fffdfe 99.07px 101.54px,#fdfdfe 101.54px 104.02px,#e3e4f3 104.02px 106.5px,#fef8f9 106.5px 108.97px,#f5f6fb 108.97px 111.45px,#ecedf7 111.45px 113.93px,#f5f5fb 113.93px 116.4px,#e8e9f5 116.4px 118.88px,#e6e7f4 118.88px 121.36px,#e5e6f4 121.36px 123.83px,#e4e6f4 123.83px 126.31px,#cdcfea 126.31px 128.79px,#e0e1f2 128.79px 131.26px,#d5d7ee 131.26px 133.74px,#c1c4e5 133.74px 136.22px,#bbbee3 136.22px 138.69px,#d0d2eb 138.69px 141.17px,#bec2e4 141.17px 143.65px,#a6abda 143.65px 146.12px,#9fa4d7 146.12px 148.6px)"></div><div class="h" style="left:358.3px;top:364.8px;width:148.6px;height:1.16px;background:linear-gradient(90deg,#fffbfc 0px 2.48px,#f9d1d3 2.48px 4.95px,#f4f5fa 4.95px 7.43px,#dddff1 7.43px 9.91px,#fdeced 9.91px 12.38px,#fbe1e3 12.38px 14.86px,#fce6e7 14.86px 17.34px,#fbe1e2 17.34px 19.81px,#fdf0f0 19.81px 22.29px,#fefafb 22.29px 24.77px,#fffdfd 24.77px 27.24px,#fdeeee 27.24px 29.72px,#fdf0f1 29.72px 32.2px,#f9cdd0 32.2px 34.67px,#fad4d6 34.67px 37.15px,#fcfcfe 37.15px 39.63px,#f9cfd1 39.63px 42.1px,#fbe0e1 42.1px 44.58px,#f7c1c4 44.58px 47.06px,#f6b6b9 47.06px 49.53px,#f9cdcf 49.53px 52.01px,#f7f7fc 52.01px 54.49px,#f8c8ca 54.49px 56.96px,#ffffff 56.96px 59.44px,#f5adb1 59.44px 61.92px,#fce5e6 61.92px 64.39px,#fad8da 64.39px 66.87px,#f3a2a7 66.87px 69.35px,#fffefe 69.35px 71.82px,#f9ced0 71.82px 74.3px,#fce9ea 74.3px 76.78px,#fad9db 76.78px 79.25px,#fbdfe1 79.25px 81.73px,#f6b8bb 81.73px 84.21px,#f9d0d2 84.21px 86.68px,#f7bdc1 86.68px 89.16px,#f6b4b8 89.16px 91.64px,#fdf0f1 91.64px 94.11px,#f39ea3 94.11px 96.59px,#f8c7ca 96.59px 99.07px,#fceaeb 99.07px 101.54px,#f9cfd1 101.54px 104.02px,#f4a6aa 104.02px 106.5px,#f3a1a6 106.5px 108.97px,#f9ccce 108.97px 111.45px,#f6b6b9 111.45px 113.93px,#f5b1b5 113.93px 116.4px,#f29ba0 116.4px 118.88px,#f6b8bb 118.88px 121.36px,#f29a9e 121.36px 123.83px,#f8c9cb 123.83px 126.31px,#f7c3c6 126.31px 128.79px,#f39ea2 128.79px 131.26px,#f29b9f 131.26px 133.74px,#f5adb1 133.74px 136.22px,#f29ba0 136.22px 138.69px,#f4a4a8 138.69px 141.17px,#f29499 141.17px 143.65px,#f0888e 143.65px 146.12px,#f2989d 146.12px 148.6px)"></div><div class="h" style="left:358.3px;top:365.81px;width:148.6px;height:1.16px;background:linear-gradient(90deg,#fad8da 0px 2.48px,#fef6f7 2.48px 4.95px,#fef9f9 4.95px 7.43px,#d9dbef 7.43px 9.91px,#fbdddf 9.91px 12.38px,#fce6e7 12.38px 14.86px,#fad7d9 14.86px 17.34px,#eaebf6 17.34px 19.81px,#fdeff0 19.81px 22.29px,#fdf0f0 22.29px 24.77px,#f0f1f9 24.77px 27.24px,#f8c7c9 27.24px 29.72px,#f7bdc0 29.72px 32.2px,#fffdfd 32.2px 34.67px,#f9cfd1 34.67px 37.15px,#f5acb0 37.15px 39.63px,#fef7f7 39.63px 42.1px,#f7bcbf 42.1px 44.58px,#f4abaf 44.58px 47.06px,#f3a3a7 47.06px 49.53px,#fef6f6 49.53px 52.01px,#fdeced 52.01px 54.49px,#f8cacc 54.49px 56.96px,#f5aeb2 56.96px 59.44px,#fdedee 59.44px 61.92px,#fbdfe0 61.92px 64.39px,#fce7e8 64.39px 66.87px,#f5abaf 66.87px 69.35px,#fad6d8 69.35px 71.82px,#f6b7ba 71.82px 74.3px,#f5b3b7 74.3px 76.78px,#f4a4a9 76.78px 79.25px,#f6b7ba 79.25px 81.73px,#f6b7bb 81.73px 84.21px,#f3a0a5 84.21px 86.68px,#f5b1b5 86.68px 89.16px,#fbdddf 89.16px 91.64px,#f8c9cb 91.64px 94.11px,#f3a2a6 94.11px 96.59px,#f6b4b8 96.59px 99.07px,#f7c0c3 99.07px 101.54px,#f5afb2 101.54px 104.02px,#eb5d64 104.02px 106.5px,#f6b4b7 106.5px 108.97px,#f4a4a9 108.97px 111.45px,#f4a4a8 111.45px 113.93px,#f6b5b9 113.93px 116.4px,#f18e93 116.4px 118.88px,#f2959a 118.88px 121.36px,#f3a0a4 121.36px 123.83px,#f9cccf 123.83px 126.31px,#f0868c 126.31px 128.79px,#f19297 128.79px 131.26px,#f4a7ab 131.26px 133.74px,#fceaeb 133.74px 136.22px,#f4a3a8 136.22px 138.69px,#f7c0c3 138.69px 141.17px,#f4a5a9 141.17px 143.65px,#f4abaf 143.65px 146.12px,#f5b2b6 146.12px 148.6px)"></div><div class="h" style="left:358.3px;top:366.83px;width:148.6px;height:1.16px;background:linear-gradient(90deg,#f8c6c9 0px 2.48px,#fbddde 2.48px 4.95px,#f7bec1 4.95px 7.43px,#fef6f7 7.43px 9.91px,#fbe1e2 9.91px 12.38px,#f6b6ba 12.38px 14.86px,#f9d0d2 14.86px 17.34px,#fcebeb 17.34px 19.81px,#fdedee 19.81px 22.29px,#fce4e6 22.29px 24.77px,#fad6d8 24.77px 27.24px,#f7c0c3 27.24px 29.72px,#f9cdcf 29.72px 32.2px,#f7bbbf 32.2px 34.67px,#f6b8bb 34.67px 37.15px,#f8c9cc 37.15px 39.63px,#f4a9ad 39.63px 42.1px,#f6b6ba 42.1px 44.58px,#f9cdd0 44.58px 47.06px,#f9cbce 47.06px 49.53px,#f8c6c9 49.53px 52.01px,#fad8da 52.01px 54.49px,#fce6e7 54.49px 56.96px,#f7c1c3 56.96px 59.44px,#f9ced0 59.44px 61.92px,#f5afb3 61.92px 64.39px,#f9cdcf 64.39px 66.87px,#f6babd 66.87px 69.35px,#f6b6b9 69.35px 71.82px,#f8c6c8 71.82px 74.3px,#f5b3b6 74.3px 76.78px,#f8cacc 76.78px 79.25px,#f7c1c3 79.25px 81.73px,#f39fa3 81.73px 84.21px,#f4a8ac 84.21px 86.68px,#f5b1b5 86.68px 89.16px,#f8c4c7 89.16px 91.64px,#f39ca1 91.64px 94.11px,#ee797f 94.11px 96.59px,#fce5e6 96.59px 99.07px,#f18f94 99.07px 101.54px,#f3a3a8 101.54px 104.02px,#f08b90 104.02px 106.5px,#f0888d 106.5px 108.97px,#f7c0c3 108.97px 111.45px,#ee767c 111.45px 113.93px,#f5b2b5 113.93px 116.4px,#f4a7ab 116.4px 118.88px,#f18f94 118.88px 121.36px,#f3a0a5 121.36px 123.83px,#f2969b 123.83px 126.31px,#f4a9ad 126.31px 128.79px,#f6b5b9 128.79px 131.26px,#f2989d 131.26px 133.74px,#f6b4b7 133.74px 136.22px,#ed7379 136.22px 138.69px,#f18e93 138.69px 141.17px,#ed6e75 141.17px 143.65px,#f5b3b6 143.65px 146.12px,#f8c7ca 146.12px 148.6px)"></div><div class="h" style="left:358.3px;top:367.84px;width:148.6px;height:1.16px;background:linear-gradient(90deg,#d5d7ee 0px 2.48px,#fef8f8 2.48px 4.95px,#f0f1f9 4.95px 7.43px,#fbe2e3 7.43px 9.91px,#efeff8 9.91px 12.38px,#f2f2fa 12.38px 14.86px,#fbe0e1 14.86px 17.34px,#fdf0f1 17.34px 19.81px,#f9d3d5 19.81px 22.29px,#f9ced0 22.29px 24.77px,#fad8da 24.77px 27.24px,#fefeff 27.24px 29.72px,#fef6f6 29.72px 32.2px,#f3a2a6 32.2px 34.67px,#fbe2e3 34.67px 37.15px,#f9d3d5 37.15px 39.63px,#fad6d8 39.63px 42.1px,#fad9da 42.1px 44.58px,#fadbdd 44.58px 47.06px,#fce4e5 47.06px 49.53px,#fbe1e3 49.53px 52.01px,#f7f7fc 52.01px 54.49px,#f4a5aa 54.49px 56.96px,#f9d3d5 56.96px 59.44px,#fdf1f2 59.44px 61.92px,#f7bfc2 61.92px 64.39px,#f6babd 64.39px 66.87px,#fdf0f1 66.87px 69.35px,#fad7d8 69.35px 71.82px,#f3a0a5 71.82px 74.3px,#f6b8bb 74.3px 76.78px,#f6babd 76.78px 79.25px,#f4a9ad 79.25px 81.73px,#f8c6c8 81.73px 84.21px,#f8c8cb 84.21px 86.68px,#f2969a 86.68px 89.16px,#f7c3c6 89.16px 91.64px,#f7bfc2 91.64px 94.11px,#f4abae 94.11px 96.59px,#f6b9bc 96.59px 99.07px,#fad9db 99.07px 101.54px,#f0858b 101.54px 104.02px,#f6b8bb 104.02px 106.5px,#f0858b 106.5px 108.97px,#f4a6aa 108.97px 111.45px,#f8cacc 111.45px 113.93px,#f0888d 113.93px 116.4px,#f6b3b7 116.4px 118.88px,#f8c4c7 118.88px 121.36px,#f5adb1 121.36px 123.83px,#fbe3e4 123.83px 126.31px,#f39fa3 126.31px 128.79px,#f6bbbe 128.79px 131.26px,#f5adb1 131.26px 133.74px,#f7bdc0 133.74px 136.22px,#f19297 136.22px 138.69px,#f2999e 138.69px 141.17px,#f0858b 141.17px 143.65px,#ee747b 143.65px 146.12px,#f2979c 146.12px 148.6px)"></div><div class="h" style="left:358.3px;top:368.86px;width:148.6px;height:1.16px;background:linear-gradient(90deg,#fef3f4 0px 2.48px,#fdeced 2.48px 4.95px,#f6f7fb 4.95px 7.43px,#fefeff 7.43px 9.91px,#fbdcde 9.91px 12.38px,#f9f9fc 12.38px 14.86px,#dfe1f2 14.86px 17.34px,#fef5f6 17.34px 19.81px,#fce4e5 19.81px 22.29px,#f7c3c6 22.29px 24.77px,#fefbfb 24.77px 27.24px,#ffffff 27.24px 29.72px,#fbe3e4 29.72px 32.2px,#fce8e9 32.2px 34.67px,#fbdcde 34.67px 37.15px,#fdefef 37.15px 39.63px,#fadbdc 39.63px 42.1px,#fdeeee 42.1px 44.58px,#f7c3c6 44.58px 47.06px,#fad4d6 47.06px 49.53px,#f9cbce 49.53px 52.01px,#fce4e6 52.01px 54.49px,#fffdfd 54.49px 56.96px,#fad6d8 56.96px 59.44px,#fad6d8 59.44px 61.92px,#f6b7ba 61.92px 64.39px,#f6b9bc 64.39px 66.87px,#f9d2d4 66.87px 69.35px,#f9d1d3 69.35px 71.82px,#fce8e9 71.82px 74.3px,#f9ced0 74.3px 76.78px,#f8c6c8 76.78px 79.25px,#fad5d7 79.25px 81.73px,#fce5e6 81.73px 84.21px,#f4a6aa 84.21px 86.68px,#fbdee0 86.68px 89.16px,#f2999e 89.16px 91.64px,#f4a4a8 91.64px 94.11px,#f2999e 94.11px 96.59px,#fad7d8 96.59px 99.07px,#f5afb2 99.07px 101.54px,#fbe2e3 101.54px 104.02px,#f8c6c8 104.02px 106.5px,#fbe3e4 106.5px 108.97px,#f9cdcf 108.97px 111.45px,#f8c5c8 111.45px 113.93px,#f39ea2 113.93px 116.4px,#f2999e 116.4px 118.88px,#f7bec1 118.88px 121.36px,#f6babd 121.36px 123.83px,#f8cacc 123.83px 126.31px,#f9ced0 126.31px 128.79px,#fbdddf 128.79px 131.26px,#f5b3b6 131.26px 133.74px,#f39da1 133.74px 136.22px,#f7bfc2 136.22px 138.69px,#f3a0a4 138.69px 141.17px,#f8c6c9 141.17px 143.65px,#f7c1c4 143.65px 146.12px,#f5b3b7 146.12px 148.6px)"></div><div class="h" style="left:358.3px;top:369.87px;width:148.6px;height:1.16px;background:linear-gradient(90deg,#fce6e7 0px 2.48px,#f6f6fb 2.48px 4.95px,#fce6e7 4.95px 7.43px,#fcfdfe 7.43px 9.91px,#ebecf7 9.91px 12.38px,#d6d8ee 12.38px 14.86px,#fdfdfe 14.86px 17.34px,#f3f3fa 17.34px 19.81px,#fadadc 19.81px 22.29px,#fce5e6 22.29px 24.77px,#e6e7f4 24.77px 27.24px,#fad8da 27.24px 29.72px,#fbdee0 29.72px 32.2px,#cacde9 32.2px 34.67px,#fafafd 34.67px 37.15px,#fbe2e3 37.15px 39.63px,#efeff8 39.63px 42.1px,#fef8f9 42.1px 44.58px,#fad7d9 44.58px 47.06px,#fbdcde 47.06px 49.53px,#fad6d8 49.53px 52.01px,#f9d0d2 52.01px 54.49px,#fef6f6 54.49px 56.96px,#f3a0a4 56.96px 59.44px,#f9ced1 59.44px 61.92px,#f3a3a7 61.92px 64.39px,#fbe0e2 64.39px 66.87px,#f8c9cc 66.87px 69.35px,#f9ced0 69.35px 71.82px,#fad9db 71.82px 74.3px,#f9ccce 74.3px 76.78px,#f9ccce 76.78px 79.25px,#f7bcbf 79.25px 81.73px,#f8c7ca 81.73px 84.21px,#f9cdcf 84.21px 86.68px,#f7c0c3 86.68px 89.16px,#f4a6aa 89.16px 91.64px,#f8c8cb 91.64px 94.11px,#f6b9bc 94.11px 96.59px,#f8c4c7 96.59px 99.07px,#fef9f9 99.07px 101.54px,#fbdcde 101.54px 104.02px,#fadbdd 104.02px 106.5px,#fce6e7 106.5px 108.97px,#f9d1d3 108.97px 111.45px,#fdedee 111.45px 113.93px,#f6b7ba 113.93px 116.4px,#f8cacd 116.4px 118.88px,#f39ca0 118.88px 121.36px,#f5b0b4 121.36px 123.83px,#fad9db 123.83px 126.31px,#f7bdc0 126.31px 128.79px,#f6b5b8 128.79px 131.26px,#f8c6c9 131.26px 133.74px,#f7bcbf 133.74px 136.22px,#f9ced0 136.22px 138.69px,#f7c3c6 138.69px 141.17px,#f4a8ac 141.17px 143.65px,#f6b6ba 143.65px 146.12px,#f18d92 146.12px 148.6px)"></div><div class="h" style="left:358.3px;top:370.88px;width:148.6px;height:1.16px;background:linear-gradient(90deg,#dbddf0 0px 2.48px,#fcfcfe 2.48px 4.95px,#fef6f6 4.95px 7.43px,#f8c6c8 7.43px 9.91px,#f9ced0 9.91px 12.38px,#fad6d8 12.38px 14.86px,#f9d0d2 14.86px 17.34px,#f7bfc2 17.34px 19.81px,#fad6d8 19.81px 22.29px,#fdeced 22.29px 24.77px,#fbe1e2 24.77px 27.24px,#fef7f7 27.24px 29.72px,#fce9ea 29.72px 32.2px,#fad9db 32.2px 34.67px,#fdefef 34.67px 37.15px,#fbdee0 37.15px 39.63px,#fcebec 39.63px 42.1px,#fdfdfe 42.1px 44.58px,#fbfbfd 44.58px 47.06px,#f9ccce 47.06px 49.53px,#fbdcdd 49.53px 52.01px,#f8c6c9 52.01px 54.49px,#fbdddf 54.49px 56.96px,#fadadc 56.96px 59.44px,#f9d2d4 59.44px 61.92px,#fbe1e2 61.92px 64.39px,#f6b4b7 64.39px 66.87px,#f7bcc0 66.87px 69.35px,#f8cbcd 69.35px 71.82px,#fdeff0 71.82px 74.3px,#fbe1e3 74.3px 76.78px,#f9cdd0 76.78px 79.25px,#f6b4b7 79.25px 81.73px,#f9d2d4 81.73px 84.21px,#f9d1d3 84.21px 86.68px,#f7c2c4 86.68px 89.16px,#f8cbce 89.16px 91.64px,#f9d1d3 91.64px 94.11px,#fce9ea 94.11px 96.59px,#f5acb0 96.59px 99.07px,#f9ccce 99.07px 101.54px,#fad7d9 101.54px 104.02px,#f9cbce 104.02px 106.5px,#fceaeb 106.5px 108.97px,#fdf2f3 108.97px 111.45px,#fef4f4 111.45px 113.93px,#f7bcbf 113.93px 116.4px,#fce6e7 116.4px 118.88px,#f7c1c4 118.88px 121.36px,#fbe1e2 121.36px 123.83px,#fdeff0 123.83px 126.31px,#f9d1d3 126.31px 128.79px,#f9d3d5 128.79px 131.26px,#f9d1d3 131.26px 133.74px,#f19297 133.74px 136.22px,#f6b8bb 136.22px 138.69px,#f9ccce 138.69px 141.17px,#f4a5a9 141.17px 143.65px,#f7c3c6 143.65px 146.12px,#f29b9f 146.12px 148.6px)"></div><div class="h" style="left:358.3px;top:371.9px;width:148.6px;height:1.16px;background:linear-gradient(90deg,#a4a8d9 0px 2.48px,#e8e9f5 2.48px 4.95px,#b6bae1 4.95px 7.43px,#c2c5e6 7.43px 9.91px,#dcdef1 9.91px 12.38px,#c0c3e5 12.38px 14.86px,#b6b9e1 14.86px 17.34px,#d8daef 17.34px 19.81px,#dddff1 19.81px 22.29px,#c0c3e5 22.29px 24.77px,#fefbfb 24.77px 27.24px,#dbdcf0 27.24px 29.72px,#e3e4f3 29.72px 32.2px,#f0f0f9 32.2px 34.67px,#fafafd 34.67px 37.15px,#fce7e8 37.15px 39.63px,#cbcde9 39.63px 42.1px,#fefbfb 42.1px 44.58px,#fbe1e2 44.58px 47.06px,#fdeeef 47.06px 49.53px,#fdf3f3 49.53px 52.01px,#f4f4fa 52.01px 54.49px,#fce5e6 54.49px 56.96px,#fef9f9 56.96px 59.44px,#fce8e9 59.44px 61.92px,#f8f9fc 61.92px 64.39px,#fdf2f3 64.39px 66.87px,#fdedee 66.87px 69.35px,#f1f1f9 69.35px 71.82px,#f9cdcf 71.82px 74.3px,#fce9ea 74.3px 76.78px,#f8f8fc 76.78px 79.25px,#fcebec 79.25px 81.73px,#fbe0e2 81.73px 84.21px,#fdebec 84.21px 86.68px,#fffcfc 86.68px 89.16px,#fce7e8 89.16px 91.64px,#fbfcfe 91.64px 94.11px,#f5f5fb 94.11px 96.59px,#f7c0c3 96.59px 99.07px,#f5b2b5 99.07px 101.54px,#f5adb0 101.54px 104.02px,#f3a2a6 104.02px 106.5px,#f6b8bb 106.5px 108.97px,#fdf1f2 108.97px 111.45px,#fce7e8 111.45px 113.93px,#f7bcbf 113.93px 116.4px,#fbe3e4 116.4px 118.88px,#fbdfe0 118.88px 121.36px,#fad5d7 121.36px 123.83px,#f8c9cc 123.83px 126.31px,#fef6f6 126.31px 128.79px,#f9d1d4 128.79px 131.26px,#f8c5c7 131.26px 133.74px,#f9fafd 133.74px 136.22px,#f5b3b6 136.22px 138.69px,#f6bbbe 138.69px 141.17px,#fbe2e4 141.17px 143.65px,#f39ea2 143.65px 146.12px,#f7c1c4 146.12px 148.6px)"></div><div class="h" style="left:358.3px;top:372.91px;width:148.6px;height:1.16px;background:linear-gradient(90deg,#cdcfea 0px 2.48px,#eaebf6 2.48px 4.95px,#898ece 4.95px 7.43px,#cbcee9 7.43px 9.91px,#e8e9f6 9.91px 12.38px,#f4f5fb 12.38px 14.86px,#d4d6ed 14.86px 17.34px,#d4d6ed 17.34px 19.81px,#c9cce9 19.81px 22.29px,#d7d9ee 22.29px 24.77px,#cdd0ea 24.77px 27.24px,#abafdc 27.24px 29.72px,#dbddf0 29.72px 32.2px,#d4d6ed 32.2px 34.67px,#e1e3f3 34.67px 37.15px,#e8e9f5 37.15px 39.63px,#ebecf7 39.63px 42.1px,#fcfdfe 42.1px 44.58px,#fcfcfe 44.58px 47.06px,#f8f8fc 47.06px 49.53px,#f5f5fb 49.53px 52.01px,#fefafa 52.01px 54.49px,#ffffff 54.49px 56.96px,#fef9f9 56.96px 59.44px,#f9d1d4 59.44px 61.92px,#fdeeef 61.92px 64.39px,#fffdfd 64.39px 66.87px,#d9dbef 66.87px 69.35px,#e9eaf6 69.35px 71.82px,#c5c8e7 71.82px 74.3px,#fad9db 74.3px 76.78px,#f9d2d4 76.78px 79.25px,#fef8f8 79.25px 81.73px,#fef9f9 81.73px 84.21px,#fbe0e1 84.21px 86.68px,#fbdcde 86.68px 89.16px,#e9eaf6 89.16px 91.64px,#fdeff0 91.64px 94.11px,#fdf0f1 94.11px 96.59px,#f7f7fc 96.59px 99.07px,#f7c2c5 99.07px 101.54px,#f9d2d4 101.54px 104.02px,#fef4f4 104.02px 106.5px,#fce5e6 106.5px 108.97px,#fdf1f1 108.97px 111.45px,#fdefef 111.45px 113.93px,#fcebec 113.93px 116.4px,#f8c6c8 116.4px 118.88px,#fbdfe0 118.88px 121.36px,#fceaeb 121.36px 123.83px,#fdefef 123.83px 126.31px,#fad5d7 126.31px 128.79px,#fdf2f2 128.79px 131.26px,#fbfbfd 131.26px 133.74px,#fbdddf 133.74px 136.22px,#f5b0b4 136.22px 138.69px,#fce9ea 138.69px 141.17px,#f9d3d5 141.17px 143.65px,#fadbdd 143.65px 146.12px,#f6b5b9 146.12px 148.6px)"></div><div class="h" style="left:358.3px;top:373.93px;width:148.6px;height:1.16px;background:linear-gradient(90deg,#aaafdc 0px 2.48px,#8389cc 2.48px 4.95px,#d0d2ec 4.95px 7.43px,#a9addb 7.43px 9.91px,#969bd3 9.91px 12.38px,#a3a8d9 12.38px 14.86px,#b5b8e0 14.86px 17.34px,#d1d3ec 17.34px 19.81px,#b3b7df 19.81px 22.29px,#abafdc 22.29px 24.77px,#e1e2f3 24.77px 27.24px,#eaebf6 27.24px 29.72px,#bfc2e4 29.72px 32.2px,#ced0eb 32.2px 34.67px,#d7d9ee 34.67px 37.15px,#cacce9 37.15px 39.63px,#bec1e4 39.63px 42.1px,#f1f2f9 42.1px 44.58px,#c1c4e5 44.58px 47.06px,#b2b6df 47.06px 49.53px,#f0f1f9 49.53px 52.01px,#fffdfd 52.01px 54.49px,#f9f9fd 54.49px 56.96px,#d3d5ed 56.96px 59.44px,#e1e2f2 59.44px 61.92px,#cdcfea 61.92px 64.39px,#dcddf0 64.39px 66.87px,#adb1dd 66.87px 69.35px,#d5d7ee 69.35px 71.82px,#fdf0f1 71.82px 74.3px,#cfd2eb 74.3px 76.78px,#fce6e7 76.78px 79.25px,#f2f3fa 79.25px 81.73px,#bfc2e4 81.73px 84.21px,#fef7f7 84.21px 86.68px,#d9dbef 86.68px 89.16px,#ffffff 89.16px 91.64px,#eeeff8 91.64px 94.11px,#eaebf6 94.11px 96.59px,#f0f0f9 96.59px 99.07px,#d5d7ed 99.07px 101.54px,#e3e4f3 101.54px 104.02px,#edeef7 104.02px 106.5px,#fad9db 106.5px 108.97px,#eaebf6 108.97px 111.45px,#fffdfd 111.45px 113.93px,#fef9f9 113.93px 116.4px,#fce4e5 116.4px 118.88px,#f6f7fb 118.88px 121.36px,#fffcfc 121.36px 123.83px,#e7e8f5 123.83px 126.31px,#f7bfc2 126.31px 128.79px,#dbddf0 128.79px 131.26px,#fef7f7 131.26px 133.74px,#f9f9fc 133.74px 136.22px,#fef8f8 136.22px 138.69px,#f6f6fb 138.69px 141.17px,#f9f9fc 141.17px 143.65px,#fbe0e1 143.65px 146.12px,#fbe0e1 146.12px 148.6px)"></div><div class="h" style="left:358.3px;top:374.94px;width:148.6px;height:1.16px;background:linear-gradient(90deg,#fffefe 0px 2.48px,#fffefe 2.48px 4.95px,#fef5f6 4.95px 7.43px,#fefbfb 7.43px 9.91px,#fdedee 9.91px 12.38px,#fce4e5 12.38px 14.86px,#fceaeb 14.86px 17.34px,#e2e3f3 17.34px 19.81px,#fef6f6 19.81px 22.29px,#f0f1f9 22.29px 24.77px,#fce7e8 24.77px 27.24px,#fef9f9 27.24px 29.72px,#fce9ea 29.72px 32.2px,#fdf2f3 32.2px 34.67px,#fad7d9 34.67px 37.15px,#f8cbce 37.15px 39.63px,#fce9ea 39.63px 42.1px,#ecedf7 42.1px 44.58px,#fcebec 44.58px 47.06px,#f6b7bb 47.06px 49.53px,#fffbfb 49.53px 52.01px,#fceaeb 52.01px 54.49px,#f4a9ad 54.49px 56.96px,#f6bbbe 56.96px 59.44px,#fad5d7 59.44px 61.92px,#fbdfe0 61.92px 64.39px,#f9f9fc 64.39px 66.87px,#f6b9bc 66.87px 69.35px,#f8cbcd 69.35px 71.82px,#f2f3fa 71.82px 74.3px,#fce3e5 74.3px 76.78px,#fbe3e4 76.78px 79.25px,#fbe0e1 79.25px 81.73px,#fdeeef 81.73px 84.21px,#f39da1 84.21px 86.68px,#fdf2f3 86.68px 89.16px,#f6b5b9 89.16px 91.64px,#f8c9cc 91.64px 94.11px,#fad9da 94.11px 96.59px,#f9cccf 96.59px 99.07px,#f8c4c7 99.07px 101.54px,#fceaeb 101.54px 104.02px,#fbdfe0 104.02px 106.5px,#f6b5b9 106.5px 108.97px,#f6bbbe 108.97px 111.45px,#f8c8cb 111.45px 113.93px,#fdf0f1 113.93px 116.4px,#fefafb 116.4px 118.88px,#f4a9ad 118.88px 121.36px,#f4a9ad 121.36px 123.83px,#f7c1c3 123.83px 126.31px,#f7c3c5 126.31px 128.79px,#fad4d6 128.79px 131.26px,#f7bec1 131.26px 133.74px,#f4abaf 133.74px 136.22px,#f6b6b9 136.22px 138.69px,#fad6d8 138.69px 141.17px,#f7bec1 141.17px 143.65px,#fad4d6 143.65px 146.12px,#f8c7ca 146.12px 148.6px)"></div><div class="h" style="left:358.3px;top:375.95px;width:148.6px;height:1.16px;background:linear-gradient(90deg,#a1a6d8 0px 2.48px,#868ccd 2.48px 4.95px,#aaaedc 4.95px 7.43px,#cbcee9 7.43px 9.91px,#b6bae1 9.91px 12.38px,#dadcf0 12.38px 14.86px,#c3c6e6 14.86px 17.34px,#dbddf0 17.34px 19.81px,#ccceea 19.81px 22.29px,#fefeff 22.29px 24.77px,#d4d6ed 24.77px 27.24px,#e2e3f3 27.24px 29.72px,#fffdfd 29.72px 32.2px,#fdf1f2 32.2px 34.67px,#cfd1eb 34.67px 37.15px,#fceaeb 37.15px 39.63px,#d8daef 39.63px 42.1px,#dee0f1 42.1px 44.58px,#e4e6f4 44.58px 47.06px,#fce8e9 47.06px 49.53px,#e6e7f5 49.53px 52.01px,#fdedee 52.01px 54.49px,#fdf0f1 54.49px 56.96px,#ffffff 56.96px 59.44px,#fdeeee 59.44px 61.92px,#f7c3c6 61.92px 64.39px,#f9ced0 64.39px 66.87px,#f3f3fa 66.87px 69.35px,#fdefef 69.35px 71.82px,#ffffff 71.82px 74.3px,#fef7f8 74.3px 76.78px,#fdfefe 76.78px 79.25px,#fce4e5 79.25px 81.73px,#f8f8fc 81.73px 84.21px,#eff0f8 84.21px 86.68px,#fdeeef 86.68px 89.16px,#fce6e7 89.16px 91.64px,#f9ced1 91.64px 94.11px,#fadbdd 94.11px 96.59px,#fdfdfe 96.59px 99.07px,#fcfcfe 99.07px 101.54px,#fbe1e3 101.54px 104.02px,#fbe2e3 104.02px 106.5px,#fad5d7 106.5px 108.97px,#f8c5c8 108.97px 111.45px,#e0e2f2 111.45px 113.93px,#fef5f5 113.93px 116.4px,#fad6d8 116.4px 118.88px,#ffffff 118.88px 121.36px,#f6b8bb 121.36px 123.83px,#fce4e5 123.83px 126.31px,#f9d1d3 126.31px 128.79px,#fce5e6 128.79px 131.26px,#fad6d7 131.26px 133.74px,#fad3d5 133.74px 136.22px,#f9cfd1 136.22px 138.69px,#ffffff 138.69px 141.17px,#f3f3fa 141.17px 143.65px,#fbdcde 143.65px 146.12px,#f8c5c7 146.12px 148.6px)"></div><div class="h" style="left:358.3px;top:376.97px;width:148.6px;height:1.16px;background:linear-gradient(90deg,#c7cae8 0px 2.48px,#cdcfea 2.48px 4.95px,#eeeff8 4.95px 7.43px,#e7e8f5 7.43px 9.91px,#c4c6e6 9.91px 12.38px,#e2e3f3 12.38px 14.86px,#dcdef1 14.86px 17.34px,#e6e7f5 17.34px 19.81px,#e6e7f5 19.81px 22.29px,#fafafd 22.29px 24.77px,#efeff8 24.77px 27.24px,#fbfbfd 27.24px 29.72px,#f6f7fb 29.72px 32.2px,#f4f4fa 32.2px 34.67px,#eeeff8 34.67px 37.15px,#fef7f8 37.15px 39.63px,#fdeff0 39.63px 42.1px,#f9cfd1 42.1px 44.58px,#f6b4b8 44.58px 47.06px,#fdfdfe 47.06px 49.53px,#fffdfd 49.53px 52.01px,#f9d0d2 52.01px 54.49px,#fef4f5 54.49px 56.96px,#fce5e7 56.96px 59.44px,#f7f7fb 59.44px 61.92px,#fad7d9 61.92px 64.39px,#f4f4fa 64.39px 66.87px,#f9cbce 66.87px 69.35px,#fef9f9 69.35px 71.82px,#fbdddf 71.82px 74.3px,#f8c9cb 74.3px 76.78px,#fef7f7 76.78px 79.25px,#fce3e5 79.25px 81.73px,#f4a9ad 81.73px 84.21px,#fcfcfe 84.21px 86.68px,#fadadc 86.68px 89.16px,#eff0f9 89.16px 91.64px,#f9d3d5 91.64px 94.11px,#fbdfe1 94.11px 96.59px,#fef7f7 96.59px 99.07px,#fef7f8 99.07px 101.54px,#f6b8bc 101.54px 104.02px,#f8c6c9 104.02px 106.5px,#fef5f5 106.5px 108.97px,#f7c1c4 108.97px 111.45px,#fdeced 111.45px 113.93px,#fce8e9 113.93px 116.4px,#f8c8cb 116.4px 118.88px,#fad5d7 118.88px 121.36px,#f7c3c6 121.36px 123.83px,#f6b4b8 123.83px 126.31px,#fbdfe1 126.31px 128.79px,#f7c0c3 128.79px 131.26px,#f8c5c8 131.26px 133.74px,#fef7f7 133.74px 136.22px,#f6b7ba 136.22px 138.69px,#f5b1b4 138.69px 141.17px,#fdeded 141.17px 143.65px,#f9d1d3 143.65px 146.12px,#f5afb2 146.12px 148.6px)"></div><div class="h" style="left:358.3px;top:377.98px;width:148.6px;height:1.16px;background:linear-gradient(90deg,#f8c9cb 0px 2.48px,#fce8e9 2.48px 4.95px,#fce4e5 4.95px 7.43px,#fce4e6 7.43px 9.91px,#fffbfb 9.91px 12.38px,#fad8da 12.38px 14.86px,#f4a4a8 14.86px 17.34px,#fffdfd 17.34px 19.81px,#fad9db 19.81px 22.29px,#fdeff0 22.29px 24.77px,#f5b0b4 24.77px 27.24px,#ffffff 27.24px 29.72px,#f7bec1 29.72px 32.2px,#f8c8cb 32.2px 34.67px,#fce9ea 34.67px 37.15px,#fadadc 37.15px 39.63px,#f9cfd2 39.63px 42.1px,#f4a4a8 42.1px 44.58px,#f8c8cb 44.58px 47.06px,#f5b0b3 47.06px 49.53px,#f5b2b6 49.53px 52.01px,#f8cacc 52.01px 54.49px,#f8cacd 54.49px 56.96px,#f9ccce 56.96px 59.44px,#f3a0a4 59.44px 61.92px,#f4a7ab 61.92px 64.39px,#f5afb2 64.39px 66.87px,#fad7d9 66.87px 69.35px,#f9cdcf 69.35px 71.82px,#f5b1b5 71.82px 74.3px,#f8c9cb 74.3px 76.78px,#fce6e7 76.78px 79.25px,#fce8e9 79.25px 81.73px,#f6b5b9 81.73px 84.21px,#f5adb1 84.21px 86.68px,#f5b2b5 86.68px 89.16px,#f2979c 89.16px 91.64px,#fce6e7 91.64px 94.11px,#fceaeb 94.11px 96.59px,#f6b9bc 96.59px 99.07px,#f4a5a9 99.07px 101.54px,#f9d0d2 101.54px 104.02px,#f5b3b6 104.02px 106.5px,#f5b0b4 106.5px 108.97px,#f8c3c6 108.97px 111.45px,#f9ccce 111.45px 113.93px,#f7bec1 113.93px 116.4px,#f6b7ba 116.4px 118.88px,#f3a1a6 118.88px 121.36px,#f6babe 121.36px 123.83px,#f8cbcd 123.83px 126.31px,#f9cdcf 126.31px 128.79px,#f7bcbf 128.79px 131.26px,#f3a2a7 131.26px 133.74px,#f8c4c7 133.74px 136.22px,#f6b7ba 136.22px 138.69px,#f39fa4 138.69px 141.17px,#f4a5a9 141.17px 143.65px,#ee777d 143.65px 146.12px,#f39da2 146.12px 148.6px)"></div><div class="h" style="left:358.3px;top:378.99px;width:148.6px;height:1.16px;background:linear-gradient(90deg,#d7d9ee 0px 2.48px,#fefeff 2.48px 4.95px,#a0a5d8 4.95px 7.43px,#a7abdb 7.43px 9.91px,#c2c5e6 9.91px 12.38px,#dbddf0 12.38px 14.86px,#f8f8fc 14.86px 17.34px,#eff0f8 17.34px 19.81px,#d5d7ee 19.81px 22.29px,#c2c5e6 22.29px 24.77px,#f2f2f9 24.77px 27.24px,#e6e7f4 27.24px 29.72px,#d8daef 29.72px 32.2px,#d4d6ed 32.2px 34.67px,#fef7f7 34.67px 37.15px,#f2f3fa 37.15px 39.63px,#fffcfd 39.63px 42.1px,#fdfdfe 42.1px 44.58px,#f1f1f9 44.58px 47.06px,#fbfbfd 47.06px 49.53px,#fbfbfd 49.53px 52.01px,#fef3f4 52.01px 54.49px,#fcfcfe 54.49px 56.96px,#fbe0e1 56.96px 59.44px,#f6f7fb 59.44px 61.92px,#fce8e9 61.92px 64.39px,#fceaeb 64.39px 66.87px,#fbddde 66.87px 69.35px,#c8cbe8 69.35px 71.82px,#fadadc 71.82px 74.3px,#fbe1e2 74.3px 76.78px,#fef4f5 76.78px 79.25px,#fdf1f2 79.25px 81.73px,#fdf1f2 81.73px 84.21px,#f3f3fa 84.21px 86.68px,#f29a9e 86.68px 89.16px,#fceaeb 89.16px 91.64px,#fad9db 91.64px 94.11px,#fdfdfe 94.11px 96.59px,#fdeeef 96.59px 99.07px,#e1e3f3 99.07px 101.54px,#fce3e5 101.54px 104.02px,#fef7f7 104.02px 106.5px,#fbdfe1 106.5px 108.97px,#fad4d6 108.97px 111.45px,#f6bbbe 111.45px 113.93px,#fbdcdd 113.93px 116.4px,#fef8f8 116.4px 118.88px,#fce8e9 118.88px 121.36px,#f9ccce 121.36px 123.83px,#f4aaae 123.83px 126.31px,#e8e9f5 126.31px 128.79px,#fef8f8 128.79px 131.26px,#fce9ea 131.26px 133.74px,#fadadc 133.74px 136.22px,#f8c5c8 136.22px 138.69px,#f5b0b4 138.69px 141.17px,#f8c4c7 141.17px 143.65px,#f5aeb1 143.65px 146.12px,#fbe2e4 146.12px 148.6px)"></div><div class="h" style="left:358.3px;top:380.01px;width:148.6px;height:1.16px;background:linear-gradient(90deg,#b4b8e0 0px 2.48px,#a3a8d9 2.48px 4.95px,#bcbfe3 4.95px 7.43px,#e2e4f3 7.43px 9.91px,#d5d7ee 9.91px 12.38px,#fef4f5 12.38px 14.86px,#d4d6ed 14.86px 17.34px,#c7c9e8 17.34px 19.81px,#eff0f9 19.81px 22.29px,#b4b8e0 22.29px 24.77px,#fdfdfe 24.77px 27.24px,#f5f5fb 27.24px 29.72px,#cdd0ea 29.72px 32.2px,#fefeff 32.2px 34.67px,#fbfbfd 34.67px 37.15px,#fce5e6 37.15px 39.63px,#f6f6fb 39.63px 42.1px,#f2f3fa 42.1px 44.58px,#fefbfb 44.58px 47.06px,#fefbfb 47.06px 49.53px,#f0f1f9 49.53px 52.01px,#fadadc 52.01px 54.49px,#fad8da 54.49px 56.96px,#fcfcfe 56.96px 59.44px,#fffefe 59.44px 61.92px,#f5f5fb 61.92px 64.39px,#fef9fa 64.39px 66.87px,#fffefe 66.87px 69.35px,#fdeced 69.35px 71.82px,#fadadb 71.82px 74.3px,#f8c3c6 74.3px 76.78px,#fdfdfe 76.78px 79.25px,#fffcfc 79.25px 81.73px,#f9fafd 81.73px 84.21px,#fce7e9 84.21px 86.68px,#f9d2d4 86.68px 89.16px,#fffcfc 89.16px 91.64px,#fce4e5 91.64px 94.11px,#fffcfd 94.11px 96.59px,#f8f8fc 96.59px 99.07px,#fdeff0 99.07px 101.54px,#f9cbce 101.54px 104.02px,#fce9ea 104.02px 106.5px,#f3f3fa 106.5px 108.97px,#fef7f8 108.97px 111.45px,#fce5e6 111.45px 113.93px,#f4a9ad 113.93px 116.4px,#fefafa 116.4px 118.88px,#f19297 118.88px 121.36px,#f7c0c3 121.36px 123.83px,#f6b8bb 123.83px 126.31px,#f7bfc2 126.31px 128.79px,#e7e8f5 128.79px 131.26px,#f9d0d2 131.26px 133.74px,#f9ced0 133.74px 136.22px,#f8c6c9 136.22px 138.69px,#f5b2b5 138.69px 141.17px,#fad3d5 141.17px 143.65px,#fce5e7 143.65px 146.12px,#f8c3c6 146.12px 148.6px)"></div><div class="h" style="left:358.3px;top:381.02px;width:148.6px;height:1.16px;background:linear-gradient(90deg,#fdeced 0px 2.48px,#fce4e5 2.48px 4.95px,#fefafa 4.95px 7.43px,#fdeeef 7.43px 9.91px,#c5c8e7 9.91px 12.38px,#fce6e7 12.38px 14.86px,#f9cfd2 14.86px 17.34px,#fce7e8 17.34px 19.81px,#fceaeb 19.81px 22.29px,#fad7d9 22.29px 24.77px,#fdeeef 24.77px 27.24px,#fcebec 27.24px 29.72px,#f6b8bb 29.72px 32.2px,#f6b6ba 32.2px 34.67px,#efeff8 34.67px 37.15px,#fdf0f1 37.15px 39.63px,#fad9da 39.63px 42.1px,#f9ccce 42.1px 44.58px,#fffdfd 44.58px 47.06px,#fdeced 47.06px 49.53px,#f9cbce 49.53px 52.01px,#f7bcbf 52.01px 54.49px,#fdf3f3 54.49px 56.96px,#fbe1e3 56.96px 59.44px,#fbe0e1 59.44px 61.92px,#f6babe 61.92px 64.39px,#f8cacd 64.39px 66.87px,#f8cbcd 66.87px 69.35px,#f4a4a8 69.35px 71.82px,#f7bfc2 71.82px 74.3px,#f9cfd1 74.3px 76.78px,#f4a8ac 76.78px 79.25px,#f4a6aa 79.25px 81.73px,#f4aaad 81.73px 84.21px,#f39ea3 84.21px 86.68px,#f7c3c5 86.68px 89.16px,#fdfdfe 89.16px 91.64px,#fad4d6 91.64px 94.11px,#f8c5c8 94.11px 96.59px,#f8cacc 96.59px 99.07px,#f6b4b7 99.07px 101.54px,#f7bfc2 101.54px 104.02px,#f19398 104.02px 106.5px,#f6b5b9 106.5px 108.97px,#f4abaf 108.97px 111.45px,#f4a3a8 111.45px 113.93px,#f29ba0 113.93px 116.4px,#f9cdd0 116.4px 118.88px,#f29a9f 118.88px 121.36px,#f7bfc2 121.36px 123.83px,#fdf2f2 123.83px 126.31px,#f19095 126.31px 128.79px,#f6b5b8 128.79px 131.26px,#f29b9f 131.26px 133.74px,#fad5d7 133.74px 136.22px,#f4a8ac 136.22px 138.69px,#f8cbcd 138.69px 141.17px,#ee797f 141.17px 143.65px,#f18e93 143.65px 146.12px,#f6b7ba 146.12px 148.6px)"></div><div class="h" style="left:358.3px;top:382.04px;width:148.6px;height:1.16px;background:linear-gradient(90deg,#8e93d0 0px 2.48px,#ced1eb 2.48px 4.95px,#d8daef 4.95px 7.43px,#d1d4ec 7.43px 9.91px,#e0e1f2 9.91px 12.38px,#d3d5ed 12.38px 14.86px,#edeef8 14.86px 17.34px,#ececf7 17.34px 19.81px,#d1d3ec 19.81px 22.29px,#fcfcfe 22.29px 24.77px,#f9f9fc 24.77px 27.24px,#ebecf7 27.24px 29.72px,#e1e2f2 29.72px 32.2px,#dee0f1 32.2px 34.67px,#f8cacc 34.67px 37.15px,#f8c5c8 37.15px 39.63px,#fceaeb 39.63px 42.1px,#f7f8fc 42.1px 44.58px,#fce4e5 44.58px 47.06px,#f6f7fb 47.06px 49.53px,#f3f4fa 49.53px 52.01px,#dddff1 52.01px 54.49px,#fffdfd 54.49px 56.96px,#ffffff 56.96px 59.44px,#f9d0d2 59.44px 61.92px,#fbe1e3 61.92px 64.39px,#fffcfc 64.39px 66.87px,#fdf2f3 66.87px 69.35px,#fdeced 69.35px 71.82px,#fce9ea 71.82px 74.3px,#fce6e8 74.3px 76.78px,#f8c8ca 76.78px 79.25px,#f3f3fa 79.25px 81.73px,#fbdfe0 81.73px 84.21px,#fbe0e1 84.21px 86.68px,#f9cdcf 86.68px 89.16px,#fbe3e4 89.16px 91.64px,#fef4f5 91.64px 94.11px,#f8cacc 94.11px 96.59px,#f7c1c4 96.59px 99.07px,#fdf1f2 99.07px 101.54px,#f7c0c3 101.54px 104.02px,#f2989d 104.02px 106.5px,#fce7e8 106.5px 108.97px,#f8c8ca 108.97px 111.45px,#e5e6f4 111.45px 113.93px,#f9d1d3 113.93px 116.4px,#fdeeef 116.4px 118.88px,#f8c9cc 118.88px 121.36px,#fadadc 121.36px 123.83px,#f9ccce 123.83px 126.31px,#f6b5b9 126.31px 128.79px,#f6b9bc 128.79px 131.26px,#f6b9bc 131.26px 133.74px,#fbe1e2 133.74px 136.22px,#fad4d6 136.22px 138.69px,#f9cfd1 138.69px 141.17px,#fad8da 141.17px 143.65px,#fbe1e2 143.65px 146.12px,#f8cacc 146.12px 148.6px)"></div><div class="h" style="left:358.3px;top:383.05px;width:148.6px;height:1.16px;background:linear-gradient(90deg,#c5c7e7 0px 2.48px,#b6bae1 2.48px 4.95px,#a2a7d9 4.95px 7.43px,#dcdef1 7.43px 9.91px,#b6bae1 9.91px 12.38px,#f4f4fa 12.38px 14.86px,#d3d6ed 14.86px 17.34px,#d6d8ee 17.34px 19.81px,#f2f2fa 19.81px 22.29px,#d9dbef 22.29px 24.77px,#bcbfe3 24.77px 27.24px,#e1e2f2 27.24px 29.72px,#afb3de 29.72px 32.2px,#ecedf7 32.2px 34.67px,#eaebf6 34.67px 37.15px,#f8f8fc 37.15px 39.63px,#eeeff8 39.63px 42.1px,#fbdddf 42.1px 44.58px,#f9f9fc 44.58px 47.06px,#edeef7 47.06px 49.53px,#f6b6b9 49.53px 52.01px,#fefefe 52.01px 54.49px,#fdeced 54.49px 56.96px,#fbfbfd 56.96px 59.44px,#f8f9fc 59.44px 61.92px,#ffffff 61.92px 64.39px,#f3f3fa 64.39px 66.87px,#fffcfc 66.87px 69.35px,#fefefe 69.35px 71.82px,#f7f8fc 71.82px 74.3px,#f1f2f9 74.3px 76.78px,#fdfdfe 76.78px 79.25px,#cbceea 79.25px 81.73px,#fdeeef 81.73px 84.21px,#cacce9 84.21px 86.68px,#fefafa 86.68px 89.16px,#fdf1f1 89.16px 91.64px,#fffdfd 91.64px 94.11px,#fce9ea 94.11px 96.59px,#f6b6ba 96.59px 99.07px,#fbe0e2 99.07px 101.54px,#fdeeef 101.54px 104.02px,#fad6d8 104.02px 106.5px,#fdeff0 106.5px 108.97px,#f5f5fb 108.97px 111.45px,#fdeced 111.45px 113.93px,#f8c5c8 113.93px 116.4px,#fad8da 116.4px 118.88px,#f7c1c4 118.88px 121.36px,#f7bcbf 121.36px 123.83px,#fffdfd 123.83px 126.31px,#fdeff0 126.31px 128.79px,#fbdcde 128.79px 131.26px,#fce5e6 131.26px 133.74px,#f5b2b5 133.74px 136.22px,#fad6d8 136.22px 138.69px,#fadadb 138.69px 141.17px,#f2969b 141.17px 143.65px,#fadadc 143.65px 146.12px,#fad6d8 146.12px 148.6px)"></div><div class="h" style="left:358.3px;top:384.06px;width:148.6px;height:1.16px;background:linear-gradient(90deg,#d8daef 0px 2.48px,#c0c3e5 2.48px 4.95px,#bcbfe3 4.95px 7.43px,#d1d4ec 7.43px 9.91px,#b8bbe1 9.91px 12.38px,#c3c6e6 12.38px 14.86px,#c5c8e7 14.86px 17.34px,#eff0f8 17.34px 19.81px,#d3d5ed 19.81px 22.29px,#b6bae1 22.29px 24.77px,#bcbfe3 24.77px 27.24px,#eaebf6 27.24px 29.72px,#bfc3e5 29.72px 32.2px,#c2c5e6 32.2px 34.67px,#d8daef 34.67px 37.15px,#c4c7e6 37.15px 39.63px,#f5f6fb 39.63px 42.1px,#fad7d9 42.1px 44.58px,#fad6d8 44.58px 47.06px,#fefeff 47.06px 49.53px,#fadbdd 49.53px 52.01px,#fef9f9 52.01px 54.49px,#fffdfd 54.49px 56.96px,#fcebec 56.96px 59.44px,#fefafa 59.44px 61.92px,#f8f9fc 61.92px 64.39px,#fffcfc 64.39px 66.87px,#fefeff 66.87px 69.35px,#fdeff0 69.35px 71.82px,#fbdcdd 71.82px 74.3px,#eaebf6 74.3px 76.78px,#fbfcfd 76.78px 79.25px,#ecedf7 79.25px 81.73px,#f8c8cb 81.73px 84.21px,#fbdddf 84.21px 86.68px,#fce8e9 86.68px 89.16px,#fafbfd 89.16px 91.64px,#f9d0d2 91.64px 94.11px,#fdfdfe 94.11px 96.59px,#f2f3fa 96.59px 99.07px,#fef3f4 99.07px 101.54px,#f7bec1 101.54px 104.02px,#fbdee0 104.02px 106.5px,#fce4e5 106.5px 108.97px,#fce6e7 108.97px 111.45px,#f7bcbf 111.45px 113.93px,#fce8e9 113.93px 116.4px,#fbdee0 116.4px 118.88px,#f7bec1 118.88px 121.36px,#f6b9bc 121.36px 123.83px,#f8c9cb 123.83px 126.31px,#f6b8bb 126.31px 128.79px,#f6b7bb 128.79px 131.26px,#fdf2f2 131.26px 133.74px,#f6bbbe 133.74px 136.22px,#f8c9cb 136.22px 138.69px,#f6babd 138.69px 141.17px,#f6b5b8 141.17px 143.65px,#f4aaae 143.65px 146.12px,#f2999e 146.12px 148.6px)"></div><div class="h" style="left:358.3px;top:385.08px;width:148.6px;height:1.16px;background:linear-gradient(90deg,#959ad3 0px 2.48px,#a0a5d8 2.48px 4.95px,#a8acdb 4.95px 7.43px,#b6b9e1 7.43px 9.91px,#9499d3 9.91px 12.38px,#c0c3e5 12.38px 14.86px,#d4d6ed 14.86px 17.34px,#b6bae1 17.34px 19.81px,#9ba0d6 19.81px 22.29px,#dddff1 22.29px 24.77px,#f1f1f9 24.77px 27.24px,#dedff1 27.24px 29.72px,#fbfbfd 29.72px 32.2px,#f5f6fb 32.2px 34.67px,#dadcf0 34.67px 37.15px,#d9dbef 37.15px 39.63px,#fbe0e1 39.63px 42.1px,#f8f8fc 42.1px 44.58px,#e1e2f2 44.58px 47.06px,#fdf0f1 47.06px 49.53px,#dedff1 49.53px 52.01px,#e9eaf6 52.01px 54.49px,#fce8e9 54.49px 56.96px,#fdf0f1 56.96px 59.44px,#eaebf6 59.44px 61.92px,#fdeff0 61.92px 64.39px,#fdf2f3 64.39px 66.87px,#c3c6e6 66.87px 69.35px,#f6f6fb 69.35px 71.82px,#fdeced 71.82px 74.3px,#fffdfd 74.3px 76.78px,#e3e4f3 76.78px 79.25px,#fdeced 79.25px 81.73px,#f1f2f9 81.73px 84.21px,#fce8e9 84.21px 86.68px,#fdf2f2 86.68px 89.16px,#fbdbdd 89.16px 91.64px,#f7f7fc 91.64px 94.11px,#f7c2c5 94.11px 96.59px,#fef6f6 96.59px 99.07px,#fdf3f3 99.07px 101.54px,#fef8f8 101.54px 104.02px,#fcebec 104.02px 106.5px,#fbe1e3 106.5px 108.97px,#fceaeb 108.97px 111.45px,#f9cfd2 111.45px 113.93px,#f9ced1 113.93px 116.4px,#fbdfe1 116.4px 118.88px,#fadadc 118.88px 121.36px,#f9d0d2 121.36px 123.83px,#f6bbbe 123.83px 126.31px,#f5afb2 126.31px 128.79px,#fce5e7 128.79px 131.26px,#f6b9bc 131.26px 133.74px,#f6b6ba 133.74px 136.22px,#fce8e9 136.22px 138.69px,#f6b8bb 138.69px 141.17px,#f2969b 141.17px 143.65px,#f8cbcd 143.65px 146.12px,#fadadb 146.12px 148.6px)"></div><div class="h" style="left:358.3px;top:386.09px;width:148.6px;height:1.16px;background:linear-gradient(90deg,#dddff1 0px 2.48px,#fce9ea 2.48px 4.95px,#fdeff0 4.95px 7.43px,#fdeced 7.43px 9.91px,#f9d2d4 9.91px 12.38px,#f9fafd 12.38px 14.86px,#fce9ea 14.86px 17.34px,#f6b8bb 17.34px 19.81px,#f7bdc0 19.81px 22.29px,#fdf3f3 22.29px 24.77px,#efeff8 24.77px 27.24px,#fad9db 27.24px 29.72px,#fad7d9 29.72px 32.2px,#fadadc 32.2px 34.67px,#fef7f7 34.67px 37.15px,#f8cbcd 37.15px 39.63px,#fdf3f3 39.63px 42.1px,#fef8f8 42.1px 44.58px,#fdf2f3 44.58px 47.06px,#fbdbdd 47.06px 49.53px,#fadbdd 49.53px 52.01px,#fef7f7 52.01px 54.49px,#f9cdcf 54.49px 56.96px,#f6b4b8 56.96px 59.44px,#fefeff 59.44px 61.92px,#f8c7ca 61.92px 64.39px,#fce8e9 64.39px 66.87px,#e7e8f5 66.87px 69.35px,#f9cdd0 69.35px 71.82px,#fdeeef 71.82px 74.3px,#fad9da 74.3px 76.78px,#fbe0e2 76.78px 79.25px,#e8e9f6 79.25px 81.73px,#fce5e6 81.73px 84.21px,#f6b5b8 84.21px 86.68px,#f5b3b7 86.68px 89.16px,#fce8e9 89.16px 91.64px,#f5afb3 91.64px 94.11px,#f5afb3 94.11px 96.59px,#f2979c 96.59px 99.07px,#f0868c 99.07px 101.54px,#f08b91 101.54px 104.02px,#f19398 104.02px 106.5px,#f39fa3 106.5px 108.97px,#f5aeb2 108.97px 111.45px,#f9ccce 111.45px 113.93px,#f5acb0 113.93px 116.4px,#f18e93 116.4px 118.88px,#f18e93 118.88px 121.36px,#f5b3b6 121.36px 123.83px,#fad9db 123.83px 126.31px,#f6b4b8 126.31px 128.79px,#f8c8cb 128.79px 131.26px,#f19297 131.26px 133.74px,#f6bbbe 133.74px 136.22px,#f5aeb1 136.22px 138.69px,#f2999d 138.69px 141.17px,#f2969b 141.17px 143.65px,#f0878c 143.65px 146.12px,#ed7379 146.12px 148.6px)"></div><div class="h" style="left:358.3px;top:387.11px;width:148.6px;height:1.16px;background:linear-gradient(90deg,#fbdee0 0px 2.48px,#f7c2c5 2.48px 4.95px,#fef8f8 4.95px 7.43px,#fad6d7 7.43px 9.91px,#f2969b 9.91px 12.38px,#fad6d8 12.38px 14.86px,#fdf0f1 14.86px 17.34px,#fbdcde 17.34px 19.81px,#fbe3e4 19.81px 22.29px,#fce6e7 22.29px 24.77px,#f6b6b9 24.77px 27.24px,#f4aaae 27.24px 29.72px,#fce5e7 29.72px 32.2px,#fdedee 32.2px 34.67px,#f7bcbf 34.67px 37.15px,#f6b8bb 37.15px 39.63px,#fad4d6 39.63px 42.1px,#f7bec1 42.1px 44.58px,#fadbdc 44.58px 47.06px,#f5afb3 47.06px 49.53px,#f9d2d4 49.53px 52.01px,#f8c9cb 52.01px 54.49px,#f7bec1 54.49px 56.96px,#fce9ea 56.96px 59.44px,#f8c8ca 59.44px 61.92px,#f8c7c9 61.92px 64.39px,#f5b3b6 64.39px 66.87px,#fbdcdd 66.87px 69.35px,#ffffff 69.35px 71.82px,#fadbdc 71.82px 74.3px,#f7bdc0 74.3px 76.78px,#f8c6c9 76.78px 79.25px,#f7bcc0 79.25px 81.73px,#f39fa4 81.73px 84.21px,#f4aaae 84.21px 86.68px,#f4abae 86.68px 89.16px,#f6b6ba 89.16px 91.64px,#fad4d6 91.64px 94.11px,#f7bcbf 94.11px 96.59px,#f7bcbf 96.59px 99.07px,#f9ccce 99.07px 101.54px,#f5aeb1 101.54px 104.02px,#f6b9bd 104.02px 106.5px,#f7c2c5 106.5px 108.97px,#f8c6c8 108.97px 111.45px,#fad4d6 111.45px 113.93px,#ee797f 113.93px 116.4px,#f6b4b8 116.4px 118.88px,#f5b0b4 118.88px 121.36px,#fadbdc 121.36px 123.83px,#f39ea2 123.83px 126.31px,#f29499 126.31px 128.79px,#f18c91 128.79px 131.26px,#f4a8ac 131.26px 133.74px,#f5aeb2 133.74px 136.22px,#ea565e 136.22px 138.69px,#f29499 138.69px 141.17px,#ef7f85 141.17px 143.65px,#ef8288 143.65px 146.12px,#ef8388 146.12px 148.6px)"></div><div class="h" style="left:358.3px;top:388.12px;width:148.6px;height:1.16px;background:linear-gradient(90deg,#e9eaf6 0px 2.48px,#d5d7ee 2.48px 4.95px,#dee0f1 4.95px 7.43px,#f2f3fa 7.43px 9.91px,#e7e8f5 9.91px 12.38px,#d7d9ee 12.38px 14.86px,#bec2e4 14.86px 17.34px,#f2f2fa 17.34px 19.81px,#dfe1f2 19.81px 22.29px,#bfc2e4 22.29px 24.77px,#f7f8fc 24.77px 27.24px,#fce6e7 27.24px 29.72px,#fef7f7 29.72px 32.2px,#fafafd 32.2px 34.67px,#fbe0e2 34.67px 37.15px,#fef9f9 37.15px 39.63px,#e1e3f3 39.63px 42.1px,#fefbfb 42.1px 44.58px,#fceaeb 44.58px 47.06px,#fefeff 47.06px 49.53px,#f3f4fa 49.53px 52.01px,#ecedf7 52.01px 54.49px,#f8cacd 54.49px 56.96px,#fbdedf 56.96px 59.44px,#f8f8fc 59.44px 61.92px,#f9cccf 61.92px 64.39px,#fdeeee 64.39px 66.87px,#fafafd 66.87px 69.35px,#fdfdfe 69.35px 71.82px,#fbdbdd 71.82px 74.3px,#f9d0d2 74.3px 76.78px,#fad6d8 76.78px 79.25px,#fdf3f3 79.25px 81.73px,#d9dbef 81.73px 84.21px,#fcfcfe 84.21px 86.68px,#fad7d8 86.68px 89.16px,#fefbfb 89.16px 91.64px,#fffefe 91.64px 94.11px,#fefbfb 94.11px 96.59px,#f0f1f9 96.59px 99.07px,#f5b1b4 99.07px 101.54px,#f5f5fb 101.54px 104.02px,#fdeeee 104.02px 106.5px,#f7c1c4 106.5px 108.97px,#f6bbbe 108.97px 111.45px,#f5adb1 111.45px 113.93px,#fbdddf 113.93px 116.4px,#f8c4c7 116.4px 118.88px,#f19095 118.88px 121.36px,#f9d3d5 121.36px 123.83px,#f5b1b5 123.83px 126.31px,#f9cbce 126.31px 128.79px,#fbe1e3 128.79px 131.26px,#f9cbce 131.26px 133.74px,#f8cacd 133.74px 136.22px,#f2989d 136.22px 138.69px,#f2959a 138.69px 141.17px,#ed6f76 141.17px 143.65px,#f7bfc2 143.65px 146.12px,#f5afb3 146.12px 148.6px)"></div><div class="h" style="left:358.3px;top:389.13px;width:148.6px;height:1.16px;background:linear-gradient(90deg,#d8daef 0px 2.48px,#c0c3e5 2.48px 4.95px,#babde2 4.95px 7.43px,#d1d3ec 7.43px 9.91px,#f0f1f9 9.91px 12.38px,#cbceea 12.38px 14.86px,#fdf3f3 14.86px 17.34px,#d4d6ed 17.34px 19.81px,#fffefe 19.81px 22.29px,#ffffff 22.29px 24.77px,#e0e1f2 24.77px 27.24px,#f2f2f9 27.24px 29.72px,#fce9ea 29.72px 32.2px,#d8daef 32.2px 34.67px,#fce6e7 34.67px 37.15px,#f9fafd 37.15px 39.63px,#fce5e6 39.63px 42.1px,#fbdbdd 42.1px 44.58px,#fceaeb 44.58px 47.06px,#fbfbfd 47.06px 49.53px,#fdeced 49.53px 52.01px,#f5f6fb 52.01px 54.49px,#dddff1 54.49px 56.96px,#f6babd 56.96px 59.44px,#ffffff 59.44px 61.92px,#d7d9ef 61.92px 64.39px,#fbe0e1 64.39px 66.87px,#e9eaf6 66.87px 69.35px,#fbdbdd 69.35px 71.82px,#f7bbbf 71.82px 74.3px,#f7c0c3 74.3px 76.78px,#f8c9cc 76.78px 79.25px,#fdecec 79.25px 81.73px,#fef8f8 81.73px 84.21px,#e9eaf6 84.21px 86.68px,#fffbfb 86.68px 89.16px,#fbe1e2 89.16px 91.64px,#fce9ea 91.64px 94.11px,#f4a8ac 94.11px 96.59px,#fadadc 96.59px 99.07px,#fad6d8 99.07px 101.54px,#f5b2b6 101.54px 104.02px,#fad8da 104.02px 106.5px,#f5afb3 106.5px 108.97px,#f6b6ba 108.97px 111.45px,#fad6d8 111.45px 113.93px,#f4aaae 113.93px 116.4px,#f7c3c6 116.4px 118.88px,#f8c6c9 118.88px 121.36px,#f4a5aa 121.36px 123.83px,#f5b1b4 123.83px 126.31px,#f7bdc0 126.31px 128.79px,#f2959a 128.79px 131.26px,#f0858b 131.26px 133.74px,#f4aaae 133.74px 136.22px,#f6b5b9 136.22px 138.69px,#f5acb0 138.69px 141.17px,#f39da2 141.17px 143.65px,#ef8187 143.65px 146.12px,#f8c8ca 146.12px 148.6px)"></div><div class="h" style="left:358.3px;top:390.15px;width:148.6px;height:1.16px;background:linear-gradient(90deg,#f1f1f9 0px 2.48px,#d5d7ee 2.48px 4.95px,#cfd2eb 4.95px 7.43px,#fce6e7 7.43px 9.91px,#f6f7fb 9.91px 12.38px,#fef5f6 12.38px 14.86px,#d3d5ed 14.86px 17.34px,#fdfdfe 17.34px 19.81px,#b9bce2 19.81px 22.29px,#d8daef 22.29px 24.77px,#cfd2eb 24.77px 27.24px,#fdeff0 27.24px 29.72px,#fbfbfd 29.72px 32.2px,#d1d3ec 32.2px 34.67px,#fdedee 34.67px 37.15px,#fffcfc 37.15px 39.63px,#fdf1f2 39.63px 42.1px,#f4abaf 42.1px 44.58px,#d8d9ef 44.58px 47.06px,#fbdddf 47.06px 49.53px,#fafafd 49.53px 52.01px,#fce7e8 52.01px 54.49px,#fbe1e2 54.49px 56.96px,#f8c9cc 56.96px 59.44px,#fad7d8 59.44px 61.92px,#fbdcdd 61.92px 64.39px,#d5d8ee 64.39px 66.87px,#fef7f7 66.87px 69.35px,#fce5e7 69.35px 71.82px,#fdf2f2 71.82px 74.3px,#fef9fa 74.3px 76.78px,#f9d2d5 76.78px 79.25px,#fce5e6 79.25px 81.73px,#fdf2f2 81.73px 84.21px,#fdeced 84.21px 86.68px,#fef8f8 86.68px 89.16px,#fef6f6 89.16px 91.64px,#fdf1f2 91.64px 94.11px,#f8c9cc 94.11px 96.59px,#f6b4b8 96.59px 99.07px,#f9d2d5 99.07px 101.54px,#fdf3f3 101.54px 104.02px,#fceaeb 104.02px 106.5px,#f9d0d2 106.5px 108.97px,#fdebec 108.97px 111.45px,#f8c5c8 111.45px 113.93px,#f5b0b4 113.93px 116.4px,#f5b1b5 116.4px 118.88px,#fcebeb 118.88px 121.36px,#f9d0d3 121.36px 123.83px,#fad7d9 123.83px 126.31px,#f8c6c9 126.31px 128.79px,#fdeeef 128.79px 131.26px,#f9cfd1 131.26px 133.74px,#f9cccf 133.74px 136.22px,#fce7e9 136.22px 138.69px,#f9cdd0 138.69px 141.17px,#f7c1c3 141.17px 143.65px,#f9d3d5 143.65px 146.12px,#fbddde 146.12px 148.6px)"></div><div class="h" style="left:358.3px;top:391.16px;width:148.6px;height:1.16px;background:linear-gradient(90deg,#f7c1c4 0px 2.48px,#f7bdc0 2.48px 4.95px,#fbdbdd 4.95px 7.43px,#f8cacd 7.43px 9.91px,#f8c4c7 9.91px 12.38px,#fadbdc 12.38px 14.86px,#f6b7ba 14.86px 17.34px,#f9d1d3 17.34px 19.81px,#fbe0e1 19.81px 22.29px,#f3a1a5 22.29px 24.77px,#f39ea3 24.77px 27.24px,#fbdfe1 27.24px 29.72px,#f8c9cb 29.72px 32.2px,#fad6d8 32.2px 34.67px,#fdefef 34.67px 37.15px,#f39fa4 37.15px 39.63px,#f8c6c8 39.63px 42.1px,#f3a1a5 42.1px 44.58px,#f7c3c6 44.58px 47.06px,#fad3d5 47.06px 49.53px,#f3a2a6 49.53px 52.01px,#f7c1c3 52.01px 54.49px,#f39fa4 54.49px 56.96px,#fad8d9 56.96px 59.44px,#f18c91 59.44px 61.92px,#f0858b 61.92px 64.39px,#f7c2c5 64.39px 66.87px,#fce6e8 66.87px 69.35px,#fbe2e3 69.35px 71.82px,#f6b5b8 71.82px 74.3px,#fbe1e2 74.3px 76.78px,#f6b7ba 76.78px 79.25px,#f4a4a9 79.25px 81.73px,#f6b9bc 81.73px 84.21px,#f39da1 84.21px 86.68px,#f5b1b5 86.68px 89.16px,#f7bec1 89.16px 91.64px,#f4a7ab 91.64px 94.11px,#f6b8bb 94.11px 96.59px,#f39ca0 96.59px 99.07px,#f5b1b4 99.07px 101.54px,#ee7a80 101.54px 104.02px,#f6babd 104.02px 106.5px,#f18d93 106.5px 108.97px,#f2969b 108.97px 111.45px,#f19297 111.45px 113.93px,#f4a7ab 113.93px 116.4px,#f6b4b8 116.4px 118.88px,#f9ced1 118.88px 121.36px,#f5b1b5 121.36px 123.83px,#f0898e 123.83px 126.31px,#f18e93 126.31px 128.79px,#ef8288 128.79px 131.26px,#f6b7ba 131.26px 133.74px,#f19196 133.74px 136.22px,#f3a3a7 136.22px 138.69px,#f7c1c4 138.69px 141.17px,#ef7e84 141.17px 143.65px,#ec6a71 143.65px 146.12px,#f2999e 146.12px 148.6px)"></div><div class="h" style="left:358.3px;top:392.18px;width:148.6px;height:1.16px;background:linear-gradient(90deg,#fce7e8 0px 2.48px,#fdfdfe 2.48px 4.95px,#e6e7f4 4.95px 7.43px,#d2d4ec 7.43px 9.91px,#fce8e9 9.91px 12.38px,#fbdbdd 12.38px 14.86px,#fafafd 14.86px 17.34px,#fadbdc 17.34px 19.81px,#fbe3e4 19.81px 22.29px,#f6f6fb 22.29px 24.77px,#fbdee0 24.77px 27.24px,#fbdfe0 27.24px 29.72px,#fafafd 29.72px 32.2px,#fffdfd 32.2px 34.67px,#fceaeb 34.67px 37.15px,#fafafd 37.15px 39.63px,#eff0f8 39.63px 42.1px,#fceaeb 42.1px 44.58px,#f6b7bb 44.58px 47.06px,#fce3e4 47.06px 49.53px,#fefafa 49.53px 52.01px,#fef9fa 52.01px 54.49px,#f8c4c7 54.49px 56.96px,#ffffff 56.96px 59.44px,#fdfdfe 59.44px 61.92px,#fef8f8 61.92px 64.39px,#fdedee 64.39px 66.87px,#fef6f7 66.87px 69.35px,#fceaeb 69.35px 71.82px,#fbe2e3 71.82px 74.3px,#f7c2c5 74.3px 76.78px,#fad6d8 76.78px 79.25px,#eeeef8 79.25px 81.73px,#fce9ea 81.73px 84.21px,#fefafa 84.21px 86.68px,#fffefe 86.68px 89.16px,#fce9ea 89.16px 91.64px,#fdf3f3 91.64px 94.11px,#fbdddf 94.11px 96.59px,#fceaeb 96.59px 99.07px,#f6b7ba 99.07px 101.54px,#fbdfe1 101.54px 104.02px,#fefbfb 104.02px 106.5px,#f8c8ca 106.5px 108.97px,#fceaeb 108.97px 111.45px,#f9cdcf 111.45px 113.93px,#fdfdfe 113.93px 116.4px,#fbfbfd 116.4px 118.88px,#ffffff 118.88px 121.36px,#fdedee 121.36px 123.83px,#fcfcfe 123.83px 126.31px,#f4a6ab 126.31px 128.79px,#f4a8ac 128.79px 131.26px,#fbe0e2 131.26px 133.74px,#f39ca1 133.74px 136.22px,#f5afb3 136.22px 138.69px,#fce5e6 138.69px 141.17px,#fad5d7 141.17px 143.65px,#f6bbbe 143.65px 146.12px,#fce7e8 146.12px 148.6px)"></div><div class="h" style="left:358.3px;top:393.19px;width:148.6px;height:1.16px;background:linear-gradient(90deg,#eb5e65 0px 2.48px,#f18d92 2.48px 4.95px,#ea565e 4.95px 7.43px,#e73e47 7.43px 9.91px,#ed7077 9.91px 12.38px,#ea5961 12.38px 14.86px,#ee787f 14.86px 17.34px,#ed7279 17.34px 19.81px,#f2989d 19.81px 22.29px,#ef7f85 22.29px 24.77px,#ea5c63 24.77px 27.24px,#ec656d 27.24px 29.72px,#f4a6aa 29.72px 32.2px,#f2959a 32.2px 34.67px,#ef7c82 34.67px 37.15px,#ee787e 37.15px 39.63px,#f19095 39.63px 42.1px,#f5b3b6 42.1px 44.58px,#f4a4a8 44.58px 47.06px,#f0858b 47.06px 49.53px,#ef7d83 49.53px 52.01px,#f4a8ac 52.01px 54.49px,#f19095 54.49px 56.96px,#ee767d 56.96px 59.44px,#f6b7ba 59.44px 61.92px,#f7bec1 61.92px 64.39px,#f4a5a9 64.39px 66.87px,#f0878d 66.87px 69.35px,#f4aaae 69.35px 71.82px,#f3a1a5 71.82px 74.3px,#f9ced0 74.3px 76.78px,#f4a6aa 76.78px 79.25px,#fce5e6 79.25px 81.73px,#f5afb3 81.73px 84.21px,#f7bec1 84.21px 86.68px,#f18e93 86.68px 89.16px,#f4a4a8 89.16px 91.64px,#fbdcde 91.64px 94.11px,#f29499 94.11px 96.59px,#ef8288 96.59px 99.07px,#f6babd 99.07px 101.54px,#f6b9bc 101.54px 104.02px,#f9d3d5 104.02px 106.5px,#f9cfd1 106.5px 108.97px,#f9cccf 108.97px 111.45px,#f7bcbf 111.45px 113.93px,#f9ccce 113.93px 116.4px,#fadbdc 116.4px 118.88px,#fefbfb 118.88px 121.36px,#f2999e 121.36px 123.83px,#f8c9cc 123.83px 126.31px,#f9ced0 126.31px 128.79px,#fefefe 128.79px 131.26px,#f7f7fc 131.26px 133.74px,#f8f8fc 133.74px 136.22px,#f3f3fa 136.22px 138.69px,#fdefef 138.69px 141.17px,#c9cce9 141.17px 143.65px,#ebecf7 143.65px 146.12px,#e1e3f3 146.12px 148.6px)"></div><div class="h" style="left:358.3px;top:394.2px;width:148.6px;height:1.16px;background:linear-gradient(90deg,#ee757b 0px 2.48px,#eb626a 2.48px 4.95px,#ed6d74 4.95px 7.43px,#ee747b 7.43px 9.91px,#ed6f76 9.91px 12.38px,#f6b5b9 12.38px 14.86px,#ec6970 14.86px 17.34px,#f08489 17.34px 19.81px,#ee747b 19.81px 22.29px,#f0898e 22.29px 24.77px,#f4a8ac 24.77px 27.24px,#ed7279 27.24px 29.72px,#f2979c 29.72px 32.2px,#ef8187 32.2px 34.67px,#f39da2 34.67px 37.15px,#f39ca0 37.15px 39.63px,#ed7379 39.63px 42.1px,#f6b7ba 42.1px 44.58px,#ec686f 44.58px 47.06px,#ef7c82 47.06px 49.53px,#f19196 49.53px 52.01px,#f0868c 52.01px 54.49px,#eb5c64 54.49px 56.96px,#f3a0a4 56.96px 59.44px,#f9cdcf 59.44px 61.92px,#f6b7ba 61.92px 64.39px,#f5b1b5 64.39px 66.87px,#f5aeb2 66.87px 69.35px,#f8cbcd 69.35px 71.82px,#f4aaae 71.82px 74.3px,#f2989c 74.3px 76.78px,#f39da1 76.78px 79.25px,#f4aaae 79.25px 81.73px,#fad4d6 81.73px 84.21px,#f4a5a9 84.21px 86.68px,#f5adb1 86.68px 89.16px,#f4a8ac 89.16px 91.64px,#f6b9bc 91.64px 94.11px,#f29a9f 94.11px 96.59px,#fad8d9 96.59px 99.07px,#f7c2c5 99.07px 101.54px,#f4abaf 101.54px 104.02px,#f8cbcd 104.02px 106.5px,#f6babd 106.5px 108.97px,#f4a8ac 108.97px 111.45px,#ef8186 111.45px 113.93px,#ffffff 113.93px 116.4px,#f9d3d5 116.4px 118.88px,#fad5d7 118.88px 121.36px,#fdf0f1 121.36px 123.83px,#fce6e7 123.83px 126.31px,#e6e7f5 126.31px 128.79px,#fbdbdd 128.79px 131.26px,#fceaeb 131.26px 133.74px,#ebecf7 133.74px 136.22px,#fdeced 136.22px 138.69px,#dfe0f2 138.69px 141.17px,#e8e9f6 141.17px 143.65px,#fadadb 143.65px 146.12px,#bfc2e4 146.12px 148.6px)"></div><div class="h" style="left:358.3px;top:395.22px;width:148.6px;height:1.16px;background:linear-gradient(90deg,#f3a3a7 0px 2.48px,#ec676e 2.48px 4.95px,#ed6d74 4.95px 7.43px,#e63c45 7.43px 9.91px,#e94e57 9.91px 12.38px,#ed6c73 12.38px 14.86px,#f29ba0 14.86px 17.34px,#f19095 17.34px 19.81px,#f0888e 19.81px 22.29px,#eb5c64 22.29px 24.77px,#f19398 24.77px 27.24px,#ef7f85 27.24px 29.72px,#f4a8ac 29.72px 32.2px,#ee797f 32.2px 34.67px,#ea565e 34.67px 37.15px,#f18f94 37.15px 39.63px,#f2979c 39.63px 42.1px,#f4abaf 42.1px 44.58px,#f2989c 44.58px 47.06px,#f4a5a9 47.06px 49.53px,#f6b5b9 49.53px 52.01px,#ee747b 52.01px 54.49px,#f39da2 54.49px 56.96px,#f29499 56.96px 59.44px,#f2979c 59.44px 61.92px,#f39da2 61.92px 64.39px,#f3a3a7 64.39px 66.87px,#f5acb0 66.87px 69.35px,#f2999e 69.35px 71.82px,#f7c0c3 71.82px 74.3px,#f7c2c5 74.3px 76.78px,#f5adb1 76.78px 79.25px,#f5adb1 79.25px 81.73px,#fad9da 81.73px 84.21px,#f8c3c6 84.21px 86.68px,#f9ced0 86.68px 89.16px,#f6b9bc 89.16px 91.64px,#f2979c 91.64px 94.11px,#fad6d8 94.11px 96.59px,#f5b0b4 96.59px 99.07px,#f39da2 99.07px 101.54px,#f8c5c8 101.54px 104.02px,#f6b5b9 104.02px 106.5px,#fbdedf 106.5px 108.97px,#fef4f4 108.97px 111.45px,#f5b2b6 111.45px 113.93px,#f9cdcf 113.93px 116.4px,#f4a8ac 116.4px 118.88px,#fbddde 118.88px 121.36px,#fdf2f3 121.36px 123.83px,#f9ced0 123.83px 126.31px,#f7bcbf 126.31px 128.79px,#fad9db 128.79px 131.26px,#f9f9fc 131.26px 133.74px,#fef5f5 133.74px 136.22px,#fdf1f2 136.22px 138.69px,#e7e8f5 138.69px 141.17px,#ebecf7 141.17px 143.65px,#fdeff0 143.65px 146.12px,#f4f4fa 146.12px 148.6px)"></div><div class="h" style="left:358.3px;top:396.23px;width:148.6px;height:1.16px;background:linear-gradient(90deg,#ec666d 0px 2.48px,#ee767d 2.48px 4.95px,#ec6b72 4.95px 7.43px,#ee777d 7.43px 9.91px,#ed7278 9.91px 12.38px,#ec6b71 12.38px 14.86px,#f18f94 14.86px 17.34px,#ee777d 17.34px 19.81px,#f18f95 19.81px 22.29px,#ef7e84 22.29px 24.77px,#f4aaae 24.77px 27.24px,#f0878c 27.24px 29.72px,#f19196 29.72px 32.2px,#ee7a81 32.2px 34.67px,#f29499 34.67px 37.15px,#f5b2b6 37.15px 39.63px,#f18f94 39.63px 42.1px,#fbe3e4 42.1px 44.58px,#f4a6aa 44.58px 47.06px,#ee787e 47.06px 49.53px,#f5acb0 49.53px 52.01px,#f4a5a9 52.01px 54.49px,#f6b3b7 54.49px 56.96px,#f19398 56.96px 59.44px,#f5b3b6 59.44px 61.92px,#f18e93 61.92px 64.39px,#f2999e 64.39px 66.87px,#f8c6c9 66.87px 69.35px,#ee7a80 69.35px 71.82px,#f8c9cb 71.82px 74.3px,#f5b1b4 74.3px 76.78px,#f29a9e 76.78px 79.25px,#fce4e6 79.25px 81.73px,#f6b8bb 81.73px 84.21px,#f3a1a5 84.21px 86.68px,#f3a1a5 86.68px 89.16px,#f7c1c4 89.16px 91.64px,#f6b7ba 91.64px 94.11px,#f2979c 94.11px 96.59px,#fbe0e1 96.59px 99.07px,#f9d1d3 99.07px 101.54px,#f2969b 101.54px 104.02px,#f7bec1 104.02px 106.5px,#f6b7ba 106.5px 108.97px,#fad4d6 108.97px 111.45px,#fadbdc 111.45px 113.93px,#fdeff0 113.93px 116.4px,#f5b2b6 116.4px 118.88px,#fad8da 118.88px 121.36px,#fafbfd 121.36px 123.83px,#fad5d7 123.83px 126.31px,#fefbfb 126.31px 128.79px,#fad5d7 128.79px 131.26px,#e3e4f3 131.26px 133.74px,#f1f2f9 133.74px 136.22px,#f5f6fb 136.22px 138.69px,#cfd1eb 138.69px 141.17px,#fefeff 141.17px 143.65px,#fffefe 143.65px 146.12px,#dfe0f2 146.12px 148.6px)"></div><div class="h" style="left:358.3px;top:397.24px;width:148.6px;height:1.16px;background:linear-gradient(90deg,#fad7d9 0px 2.48px,#fce6e7 2.48px 4.95px,#f5acb0 4.95px 7.43px,#f7c2c4 7.43px 9.91px,#f9cdd0 9.91px 12.38px,#f7bdc0 12.38px 14.86px,#f6babd 14.86px 17.34px,#fdeeef 17.34px 19.81px,#f5acb0 19.81px 22.29px,#f9d0d2 22.29px 24.77px,#f8c9cb 24.77px 27.24px,#f9cfd1 27.24px 29.72px,#f8c6c8 29.72px 32.2px,#f5b0b4 32.2px 34.67px,#fdeced 34.67px 37.15px,#fad8d9 37.15px 39.63px,#fdf0f1 39.63px 42.1px,#fbe0e2 42.1px 44.58px,#fad9db 44.58px 47.06px,#fbdddf 47.06px 49.53px,#fad6d8 49.53px 52.01px,#fbe1e2 52.01px 54.49px,#f6b9bc 54.49px 56.96px,#fadadc 56.96px 59.44px,#f6b5b8 59.44px 61.92px,#fbe0e2 61.92px 64.39px,#fef9fa 64.39px 66.87px,#f9ced0 66.87px 69.35px,#f8c7ca 69.35px 71.82px,#fffdfd 71.82px 74.3px,#fce7e8 74.3px 76.78px,#fffcfc 76.78px 79.25px,#fcfcfe 79.25px 81.73px,#fbe2e3 81.73px 84.21px,#fcebec 84.21px 86.68px,#fad6d8 86.68px 89.16px,#fbfbfd 89.16px 91.64px,#fbe1e3 91.64px 94.11px,#fad8da 94.11px 96.59px,#fef4f5 96.59px 99.07px,#f7f8fc 99.07px 101.54px,#fdeeef 101.54px 104.02px,#fce5e6 104.02px 106.5px,#e2e4f3 106.5px 108.97px,#fffbfb 108.97px 111.45px,#f9cfd1 111.45px 113.93px,#fdfdfe 113.93px 116.4px,#f1f1f9 116.4px 118.88px,#fffefe 118.88px 121.36px,#fafbfd 121.36px 123.83px,#fce7e8 123.83px 126.31px,#dfe0f2 126.31px 128.79px,#d0d2eb 128.79px 131.26px,#e4e6f4 131.26px 133.74px,#fdf3f3 133.74px 136.22px,#e7e8f5 136.22px 138.69px,#fbfbfd 138.69px 141.17px,#edeef7 141.17px 143.65px,#e8e9f6 143.65px 146.12px,#fef6f7 146.12px 148.6px)"></div><div class="h" style="left:358.3px;top:398.26px;width:148.6px;height:1.16px;background:linear-gradient(90deg,#f7bcbf 0px 2.48px,#f29499 2.48px 4.95px,#f19196 4.95px 7.43px,#f5aeb2 7.43px 9.91px,#f5b3b6 9.91px 12.38px,#f6b4b7 12.38px 14.86px,#f7c1c3 14.86px 17.34px,#f8c7c9 17.34px 19.81px,#f4a9ad 19.81px 22.29px,#f5b1b4 22.29px 24.77px,#f8c7c9 24.77px 27.24px,#f8cacd 27.24px 29.72px,#f6b4b8 29.72px 32.2px,#f5b2b5 32.2px 34.67px,#fbdbdd 34.67px 37.15px,#f4a4a9 37.15px 39.63px,#fadadc 39.63px 42.1px,#f7c1c4 42.1px 44.58px,#fad8da 44.58px 47.06px,#fbdcdd 47.06px 49.53px,#f9ccce 49.53px 52.01px,#fce4e5 52.01px 54.49px,#fbe0e2 54.49px 56.96px,#f1f1f9 56.96px 59.44px,#f9cccf 59.44px 61.92px,#fffefe 61.92px 64.39px,#f9cdcf 64.39px 66.87px,#fad5d7 66.87px 69.35px,#fad6d8 69.35px 71.82px,#f7c2c5 71.82px 74.3px,#fad9db 74.3px 76.78px,#fceaeb 76.78px 79.25px,#fef9fa 79.25px 81.73px,#f0f0f9 81.73px 84.21px,#fad6d8 84.21px 86.68px,#ebecf7 86.68px 89.16px,#fbdee0 89.16px 91.64px,#f2f3fa 91.64px 94.11px,#dfe0f2 94.11px 96.59px,#fbdcde 96.59px 99.07px,#fef5f6 99.07px 101.54px,#fef5f6 101.54px 104.02px,#f9fafd 104.02px 106.5px,#f8c8cb 106.5px 108.97px,#eff0f8 108.97px 111.45px,#fef4f4 111.45px 113.93px,#fdf1f1 113.93px 116.4px,#fbdfe0 116.4px 118.88px,#f7f8fc 118.88px 121.36px,#fef8f9 121.36px 123.83px,#eaebf6 123.83px 126.31px,#cdd0ea 126.31px 128.79px,#e7e8f5 128.79px 131.26px,#fce4e5 131.26px 133.74px,#e0e2f2 133.74px 136.22px,#d5d7ee 136.22px 138.69px,#fdf3f3 138.69px 141.17px,#d9dbef 141.17px 143.65px,#edeef7 143.65px 146.12px,#e8eaf6 146.12px 148.6px)"></div><div class="h" style="left:358.3px;top:399.27px;width:148.6px;height:1.16px;background:linear-gradient(90deg,#f7bfc2 0px 2.48px,#fadadc 2.48px 4.95px,#f19297 4.95px 7.43px,#f39ca0 7.43px 9.91px,#f5b3b7 9.91px 12.38px,#f6b5b8 12.38px 14.86px,#f8c8cb 14.86px 17.34px,#f3a0a4 17.34px 19.81px,#fadadc 19.81px 22.29px,#fffcfc 22.29px 24.77px,#f8c8cb 24.77px 27.24px,#f7c2c5 27.24px 29.72px,#f8c5c7 29.72px 32.2px,#f7bec1 32.2px 34.67px,#f7bfc2 34.67px 37.15px,#fce5e6 37.15px 39.63px,#fdeced 39.63px 42.1px,#f8c4c7 42.1px 44.58px,#f8cbce 44.58px 47.06px,#fbdedf 47.06px 49.53px,#fce5e6 49.53px 52.01px,#f9ced0 52.01px 54.49px,#fad7d9 54.49px 56.96px,#f4a5a9 56.96px 59.44px,#f9ccce 59.44px 61.92px,#f9d2d4 61.92px 64.39px,#f6b9bc 64.39px 66.87px,#f3f3fa 66.87px 69.35px,#fdeeef 69.35px 71.82px,#ffffff 71.82px 74.3px,#eff0f8 74.3px 76.78px,#fceaeb 76.78px 79.25px,#f6b3b7 79.25px 81.73px,#fdeeef 81.73px 84.21px,#e1e2f2 84.21px 86.68px,#e6e8f5 86.68px 89.16px,#f2f3fa 89.16px 91.64px,#fce7e8 91.64px 94.11px,#fad7d9 94.11px 96.59px,#dfe0f2 96.59px 99.07px,#fdeced 99.07px 101.54px,#e5e6f4 101.54px 104.02px,#fbe0e1 104.02px 106.5px,#fef4f5 106.5px 108.97px,#fffefe 108.97px 111.45px,#e1e2f2 111.45px 113.93px,#d6d8ee 113.93px 116.4px,#dee0f2 116.4px 118.88px,#f6f6fb 118.88px 121.36px,#fceaeb 121.36px 123.83px,#fbdbdd 123.83px 126.31px,#c4c7e7 126.31px 128.79px,#f4f5fb 128.79px 131.26px,#edeef7 131.26px 133.74px,#d2d4ec 133.74px 136.22px,#d2d5ec 136.22px 138.69px,#fefbfb 138.69px 141.17px,#bdc0e4 141.17px 143.65px,#ced0eb 143.65px 146.12px,#e9eaf6 146.12px 148.6px)"></div><div class="h" style="left:358.3px;top:400.29px;width:148.6px;height:1.16px;background:linear-gradient(90deg,#f18f94 0px 2.48px,#f39da2 2.48px 4.95px,#f6bbbe 4.95px 7.43px,#fdefef 7.43px 9.91px,#f8cacc 9.91px 12.38px,#f5b0b3 12.38px 14.86px,#fad4d6 14.86px 17.34px,#f3a2a6 17.34px 19.81px,#f8c4c7 19.81px 22.29px,#f8c5c7 22.29px 24.77px,#fbdddf 24.77px 27.24px,#f7c0c3 27.24px 29.72px,#fce6e8 29.72px 32.2px,#fad9db 32.2px 34.67px,#f7c0c3 34.67px 37.15px,#f9d1d3 37.15px 39.63px,#f19297 39.63px 42.1px,#fef8f8 42.1px 44.58px,#fce5e6 44.58px 47.06px,#fdf0f1 47.06px 49.53px,#fef6f6 49.53px 52.01px,#f39fa3 52.01px 54.49px,#ecedf7 54.49px 56.96px,#fad8da 56.96px 59.44px,#fce8e9 59.44px 61.92px,#fceaeb 61.92px 64.39px,#fefafb 64.39px 66.87px,#fbe2e4 66.87px 69.35px,#fdf0f1 69.35px 71.82px,#fbe0e1 71.82px 74.3px,#fffdfd 74.3px 76.78px,#fce4e5 76.78px 79.25px,#fdedee 79.25px 81.73px,#f7c0c3 81.73px 84.21px,#fefafb 84.21px 86.68px,#fad8da 86.68px 89.16px,#fce9ea 89.16px 91.64px,#fceaeb 91.64px 94.11px,#fdefef 94.11px 96.59px,#fefafa 96.59px 99.07px,#f9f9fc 99.07px 101.54px,#f9fafd 101.54px 104.02px,#d9dbef 104.02px 106.5px,#f2f3fa 106.5px 108.97px,#dedff1 108.97px 111.45px,#e8e9f5 111.45px 113.93px,#c0c3e5 113.93px 116.4px,#f1f2f9 116.4px 118.88px,#e5e6f4 118.88px 121.36px,#fdfdfe 121.36px 123.83px,#e5e6f4 123.83px 126.31px,#fad7d9 126.31px 128.79px,#e9eaf6 128.79px 131.26px,#c7cae8 131.26px 133.74px,#dbddf0 133.74px 136.22px,#cdd0ea 136.22px 138.69px,#e0e1f2 138.69px 141.17px,#fbe1e2 141.17px 143.65px,#fcfcfe 143.65px 146.12px,#c9cce9 146.12px 148.6px)"></div><div class="h" style="left:33.8px;top:481.9px;width:5.25px;height:205.5px;background:linear-gradient(180deg,#d97f96 0px 1px,#d97e95 1px 2px,#ec4350 2px 3px,#cea4c1 3px 4px,#e35e6f 4px 5px,#cea2bf 5px 6px,#ec424e 6px 7px,#e75361 7px 8px,#ec424e 8px 9px,#e06a7c 9px 10px,#e94c5a 10px 11px,#e26274 11px 12px,#dd7185 12px 13px,#e65464 13px 14px,#d88299 14px 15px,#e16577 15px 16px,#ec434f 16px 17px,#e55767 17px 18px,#e16779 18px 19px,#ec424e 19px 20px,#e55767 20px 21px,#df6c80 21px 22px,#e65463 22px 23px,#e06a7d 23px 24px,#e16678 24px 25px,#8384c6 25px 26px,#cea3bf 26px 27px,#928fc9 27px 28px,#9893cb 28px 29px,#aba1cf 29px 30px,#cea3c0 30px 31px,#8888c7 31px 32px,#797dc4 32px 33px,#d394ae 33px 34px,#5865bc 34px 35px,#8384c6 35px 36px,#aba1cf 36px 37px,#d19ab5 37px 38px,#6c73c1 38px 39px,#3e52b6 39px 40px,#aaa1cf 40px 41px,#7d7fc5 41px 41.6px,#d294ae 41.6px 42.6px,#db798e 42.6px 43.6px,#d98097 43.6px 44.6px,#d97e95 44.6px 45.6px,#d296b0 45.6px 46.6px,#e35e6f 46.6px 47.6px,#e65766 47.6px 48.6px,#d7879e 48.6px 49.6px,#d296b1 49.6px 50.6px,#de7084 50.6px 51.6px,#db788d 51.6px 52.6px,#cca9c7 52.6px 53.6px,#d297b1 53.6px 54.6px,#e16678 54.6px 55.6px,#dd7488 55.6px 56.6px,#da7b91 56.6px 57.6px,#e0697c 57.6px 58.6px,#dd7186 58.6px 59.6px,#de7084 59.6px 60.6px,#caafce 60.6px 61.6px,#ec424e 61.6px 62.6px,#e06a7d 62.6px 63.6px,#d58da6 63.6px 64.6px,#e7515f 64.6px 65.6px,#e16679 65.6px 66.6px,#de7084 66.6px 67.6px,#e84e5c 67.6px 68.6px,#ec424e 68.6px 69.6px,#e35e6f 69.6px 70.6px,#ec424e 70.6px 71.6px,#ec424e 71.6px 72.6px,#d392ab 72.6px 73.6px,#d88198 73.6px 74.6px,#e55767 74.6px 75.6px,#cca8c5 75.6px 76.6px,#db798f 76.6px 77.6px,#eb4653 77.6px 78.1px,#b9abd3 78.1px 79.1px,#a79ece 79.1px 80.1px,#4859b8 80.1px 81.1px,#d198b3 81.1px 82.1px,#a69dce 82.1px 83.1px,#aea3d0 83.1px 84.1px,#a49cce 84.1px 85.1px,#4e5eba 85.1px 86.1px,#5966bc 86.1px 87.1px,#626cbe 87.1px 88.1px,#cda6c3 88.1px 89.1px,#7177c2 89.1px 90.1px,#8787c7 90.1px 91.1px,#8787c7 91.1px 92.1px,#a79ece 92.1px 93.1px,#a49cce 93.1px 94.1px,#9b96cc 94.1px 95.1px,#606bbe 95.1px 96.1px,#3e52b6 96.1px 97.1px,#a099cd 97.1px 98.1px,#a49cce 98.1px 99.1px,#c8b5d4 99.1px 100.1px,#9692ca 100.1px 101.1px,#8284c6 101.1px 102.1px,#aaa0cf 102.1px 103.1px,#5e69bd 103.1px 104.1px,#7278c2 104.1px 105.1px,#7378c2 105.1px 106.1px,#a59dce 106.1px 107.1px,#d199b4 107.1px 108.1px,#b7aad2 108.1px 109.1px,#c6b5d6 109.1px 110.1px,#a39bcd 110.1px 111.1px,#a59cce 111.1px 112.1px,#8988c7 112.1px 113.1px,#8f8dc9 113.1px 114.1px,#3e52b6 114.1px 115.1px,#6c73c1 115.1px 116.1px,#6871c0 116.1px 116.7px,#8c8bc8 116.7px 117.7px,#8686c7 117.7px 118.7px,#9893cb 118.7px 119.7px,#a89fcf 119.7px 120.7px,#606bbe 120.7px 121.7px,#9591ca 121.7px 122.7px,#b8aad2 122.7px 123.7px,#6c73c1 123.7px 124.7px,#9692ca 124.7px 125.7px,#666fbf 125.7px 126.7px,#3e52b6 126.7px 127.7px,#7177c2 127.7px 128.7px,#4c5cb9 128.7px 129.7px,#7076c2 129.7px 130.7px,#5a66bd 130.7px 131.7px,#787cc4 131.7px 132.7px,#3e52b6 132.7px 133.7px,#bdaed3 133.7px 134.7px,#a199cd 134.7px 135.7px,#5e6abe 135.7px 136.7px,#495ab9 136.7px 137.7px,#6c73c1 137.7px 138.7px,#8686c7 138.7px 139.3px,#d88299 139.3px 140.3px,#d88299 140.3px 141.3px,#aaa0cf 141.3px 142.3px,#c9b4d4 142.3px 143.3px,#e26475 143.3px 144.3px,#d688a0 144.3px 145.3px,#bbadd3 145.3px 146.3px,#cbacca 146.3px 147.3px,#beafd4 147.3px 148.3px,#cab0d0 148.3px 149.3px,#e0697c 149.3px 150.3px,#d297b1 150.3px 151.3px,#df6b7e 151.3px 152.3px,#d689a1 152.3px 153.3px,#bbadd3 153.3px 154.3px,#cda5c2 154.3px 155.3px,#eb4450 155.3px 156.3px,#cca9c6 156.3px 157.3px,#c9b2d1 157.3px 158.3px,#e16779 158.3px 159.3px,#d58ca5 159.3px 160.3px,#d490a9 160.3px 160.4px,#ec424e 160.4px 161.4px,#cea3c0 161.4px 162.4px,#e45b6b 162.4px 163.4px,#d58ca4 163.4px 164.4px,#d297b2 164.4px 165.4px,#d8849b 165.4px 166.4px,#ec434f 166.4px 167.4px,#df6d81 167.4px 168.4px,#cda5c3 168.4px 169.4px,#d58da6 169.4px 170.4px,#ec424e 170.4px 171.4px,#eb4754 171.4px 172.4px,#d58da6 172.4px 173.4px,#ec424e 173.4px 174.4px,#dc758a 174.4px 175.4px,#d490aa 175.4px 176.4px,#df6d81 176.4px 177.4px,#ea4a57 177.4px 178.4px,#ec424e 178.4px 179.4px,#eb4653 179.4px 180.4px,#dc778c 180.4px 181.1px,#8d8bc8 181.1px 182.1px,#6a72c0 182.1px 183.1px,#a099cd 183.1px 184.1px,#8c8ac8 184.1px 185.1px,#ada2d0 185.1px 186.1px,#7177c2 186.1px 187.1px,#8f8dc9 187.1px 188.1px,#8082c5 188.1px 189.1px,#7479c2 189.1px 190.1px,#7479c3 190.1px 191.1px,#7b7ec4 191.1px 192.1px,#7479c3 192.1px 193.1px,#baacd3 193.1px 194.1px,#a79ece 194.1px 195.1px,#6f76c1 195.1px 196.1px,#b7aad2 196.1px 197.1px,#afa4d0 197.1px 198.1px,#cda4c1 198.1px 199.1px,#9c96cc 199.1px 200.1px,#9b95cc 200.1px 201.1px,#8888c7 201.1px 202.1px,#a89fcf 202.1px 203.1px,#b7a9d2 203.1px 204.1px,#aaa0cf 204.1px 205.1px,#9994cb 205.1px 205.5px)"></div><div class="h" style="left:38.95px;top:481.9px;width:5.25px;height:205.5px;background:linear-gradient(180deg,#7076c2 0px 1px,#5d69bd 1px 2px,#636dbf 2px 3px,#3e52b6 3px 4px,#626cbe 4px 5px,#3e52b6 5px 6px,#3e52b6 6px 7px,#606bbe 7px 8px,#ada2d0 8px 9px,#8183c6 9px 10px,#5a66bc 10px 11px,#5361bb 11px 12px,#8182c5 12px 13px,#908ec9 13px 14px,#8a89c8 14px 15px,#5261bb 15px 16px,#616bbe 16px 17px,#4d5db9 17px 18px,#4e5eba 18px 19px,#3e52b6 19px 20px,#505fba 20px 21px,#3e52b6 21px 22px,#3e52b6 22px 23px,#6a72c0 23px 24px,#3e52b6 24px 25px,#9d97cc 25px 26px,#5462bb 26px 27px,#797dc4 27px 28px,#9793cb 28px 29px,#5f6abe 29px 30px,#6b73c1 30px 31px,#d19ab5 31px 32px,#6d74c1 32px 33px,#6c73c1 33px 34px,#7177c2 34px 35px,#8988c7 35px 36px,#8787c7 36px 37px,#aea4d0 37px 38px,#a79ece 38px 39px,#787cc3 39px 40px,#7a7dc4 40px 41px,#505fba 41px 41.6px,#dd7488 41.6px 42.6px,#e45b6b 42.6px 43.6px,#ec424e 43.6px 44.6px,#ec424e 44.6px 45.6px,#ec424e 45.6px 46.6px,#ec424e 46.6px 47.6px,#ea4754 47.6px 48.6px,#ec424e 48.6px 49.6px,#e75362 49.6px 50.6px,#e65766 50.6px 51.6px,#e8505f 51.6px 52.6px,#ec424e 52.6px 53.6px,#eb4753 53.6px 54.6px,#e45b6b 54.6px 55.6px,#e26273 55.6px 56.6px,#e94b58 56.6px 57.6px,#dc7489 57.6px 58.6px,#db798e 58.6px 59.6px,#e94c5a 59.6px 60.6px,#e8505e 60.6px 61.6px,#e75160 61.6px 62.6px,#d68aa2 62.6px 63.6px,#e16779 63.6px 64.6px,#e16476 64.6px 65.6px,#cbacca 65.6px 66.6px,#ea4856 66.6px 67.6px,#df6d81 67.6px 68.6px,#da7c92 68.6px 69.6px,#ec424e 69.6px 70.6px,#df6c7f 70.6px 71.6px,#d688a0 71.6px 72.6px,#dd7287 72.6px 73.6px,#e35e6e 73.6px 74.6px,#e65565 74.6px 75.6px,#dd7287 75.6px 76.6px,#d58da6 76.6px 77.6px,#d688a0 77.6px 78.1px,#5e69bd 78.1px 79.1px,#5563bb 79.1px 80.1px,#7e80c5 80.1px 81.1px,#6b73c0 81.1px 82.1px,#8182c5 82.1px 83.1px,#5e69bd 83.1px 84.1px,#5c68bd 84.1px 85.1px,#777bc3 85.1px 86.1px,#7177c2 86.1px 87.1px,#aca2cf 87.1px 88.1px,#5b67bd 88.1px 89.1px,#8787c7 89.1px 90.1px,#7d7fc5 90.1px 91.1px,#4b5bb9 91.1px 92.1px,#9b95cc 92.1px 93.1px,#8586c6 93.1px 94.1px,#3e52b6 94.1px 95.1px,#9692ca 95.1px 96.1px,#ec424e 96.1px 97.1px,#df6c7f 97.1px 98.1px,#ec424e 98.1px 99.1px,#e94c5a 99.1px 100.1px,#db788d 100.1px 101.1px,#ec424e 101.1px 102.1px,#e35d6e 102.1px 103.1px,#d97e94 103.1px 104.1px,#d199b3 104.1px 105.1px,#ea4957 105.1px 106.1px,#e06a7d 106.1px 107.1px,#ec424e 107.1px 108.1px,#eb4551 108.1px 109.1px,#e26374 109.1px 110.1px,#e26375 110.1px 111.1px,#ec424e 111.1px 112.1px,#ec424e 112.1px 113.1px,#ec424e 113.1px 114.1px,#e45d6e 114.1px 115.1px,#dd7286 115.1px 116.1px,#e35e6f 116.1px 116.7px,#ec424e 116.7px 117.7px,#e55969 117.7px 118.7px,#dd7287 118.7px 119.7px,#d391ab 119.7px 120.7px,#e26375 120.7px 121.7px,#d7869d 121.7px 122.7px,#e0687b 122.7px 123.7px,#e8505f 123.7px 124.7px,#eb4552 124.7px 125.7px,#e16476 125.7px 126.7px,#dc7489 126.7px 127.7px,#e26173 127.7px 128.7px,#ec424e 128.7px 129.7px,#e45c6d 129.7px 130.7px,#d297b2 130.7px 131.7px,#ec424e 131.7px 132.7px,#e36072 132.7px 133.7px,#ec424e 133.7px 134.7px,#db788e 134.7px 135.7px,#df6c7f 135.7px 136.7px,#dd7287 136.7px 137.7px,#e45c6d 137.7px 138.7px,#da7c92 138.7px 139.3px,#4457b7 139.3px 140.3px,#3e52b6 140.3px 141.3px,#7a7dc4 141.3px 142.3px,#6a72c0 142.3px 143.3px,#6870c0 143.3px 144.3px,#cbaecc 144.3px 145.3px,#9e97cc 145.3px 146.3px,#a9a0cf 146.3px 147.3px,#6b72c0 147.3px 148.3px,#8a89c8 148.3px 149.3px,#767bc3 149.3px 150.3px,#767bc3 150.3px 151.3px,#9c96cc 151.3px 152.3px,#9692ca 152.3px 153.3px,#8a89c8 153.3px 154.3px,#8485c6 154.3px 155.3px,#4658b8 155.3px 156.3px,#616cbe 156.3px 157.3px,#8d8cc8 157.3px 158.3px,#7076c2 158.3px 159.3px,#606bbe 159.3px 160.3px,#8c8bc8 160.3px 160.4px,#cda6c3 160.4px 161.4px,#d09eba 161.4px 162.4px,#df6a7d 162.4px 163.4px,#d393ad 163.4px 164.4px,#e55868 164.4px 165.4px,#dc768b 165.4px 166.4px,#df6d80 166.4px 167.4px,#e26274 167.4px 168.4px,#aaa1cf 168.4px 169.4px,#d68aa3 169.4px 170.4px,#c9b2d2 170.4px 171.4px,#d297b2 171.4px 172.4px,#d58ba4 172.4px 173.4px,#e35f70 173.4px 174.4px,#d689a1 174.4px 175.4px,#e75160 175.4px 176.4px,#d199b4 176.4px 177.4px,#d689a2 177.4px 178.4px,#d7859c 178.4px 179.4px,#e0687b 179.4px 180.4px,#d689a2 180.4px 181.1px,#5462bb 181.1px 182.1px,#5f6abe 182.1px 183.1px,#3e52b6 183.1px 184.1px,#9d97cc 184.1px 185.1px,#8989c7 185.1px 186.1px,#7d7fc5 186.1px 187.1px,#777bc3 187.1px 188.1px,#5462bb 188.1px 189.1px,#5c68bd 189.1px 190.1px,#8c8ac8 190.1px 191.1px,#4d5dba 191.1px 192.1px,#4d5dba 192.1px 193.1px,#aaa0cf 193.1px 194.1px,#a9a0cf 194.1px 195.1px,#777cc3 195.1px 196.1px,#8182c6 196.1px 197.1px,#7379c2 197.1px 198.1px,#a49cce 198.1px 199.1px,#5b67bd 199.1px 200.1px,#6f76c1 200.1px 201.1px,#7f81c5 201.1px 202.1px,#a49cce 202.1px 203.1px,#626cbe 203.1px 204.1px,#757ac3 204.1px 205.1px,#5965bc 205.1px 205.5px)"></div><div class="h" style="left:44.1px;top:481.9px;width:5.25px;height:205.5px;background:linear-gradient(180deg,#8082c5 0px 1px,#8082c5 1px 2px,#9d97cc 2px 3px,#bdaed3 3px 4px,#7f81c5 4px 5px,#8384c6 5px 6px,#8a89c8 6px 7px,#a89fcf 7px 8px,#b5a8d2 8px 9px,#6971c0 9px 10px,#a89fcf 10px 11px,#7379c2 11px 12px,#b6a9d2 12px 13px,#757ac3 13px 14px,#7076c2 14px 15px,#7e81c5 15px 16px,#9893cb 16px 17px,#7379c2 17px 18px,#a29bcd 18px 19px,#a099cd 19px 20px,#9d97cc 20px 21px,#a49cce 21px 22px,#bcadd3 22px 23px,#7e80c5 23px 24px,#9a95cb 24px 25px,#7d80c5 25px 26px,#3e52b6 26px 27px,#8e8cc8 27px 28px,#616bbe 28px 29px,#636cbe 29px 30px,#6d74c1 30px 31px,#8283c6 31px 32px,#8b8ac8 32px 33px,#918ec9 33px 34px,#636dbf 34px 35px,#9994cb 35px 36px,#8f8cc9 36px 37px,#6f76c1 37px 38px,#7e80c5 38px 39px,#9e97cc 39px 40px,#8f8dc9 40px 41px,#9994cb 41px 41.6px,#e65665 41.6px 42.6px,#ec424e 42.6px 43.6px,#ec424e 43.6px 44.6px,#e94a58 44.6px 45.6px,#d58da6 45.6px 46.6px,#ec424e 46.6px 47.6px,#df6c7f 47.6px 48.6px,#d7869e 48.6px 49.6px,#cda6c4 49.6px 50.6px,#e94b59 50.6px 51.6px,#ec424e 51.6px 52.6px,#ec424e 52.6px 53.6px,#e16678 53.6px 54.6px,#ec424e 54.6px 55.6px,#df6b7e 55.6px 56.6px,#da7c92 56.6px 57.6px,#e16679 57.6px 58.6px,#e26273 58.6px 59.6px,#e06779 59.6px 60.6px,#e45c6c 60.6px 61.6px,#cab0cf 61.6px 62.6px,#ec424e 62.6px 63.6px,#da7b91 63.6px 64.6px,#e75463 64.6px 65.6px,#d8839a 65.6px 66.6px,#e26375 66.6px 67.6px,#de6e82 67.6px 68.6px,#d09cb8 68.6px 69.6px,#e45c6d 69.6px 70.6px,#e65463 70.6px 71.6px,#d58da6 71.6px 72.6px,#cbadcb 72.6px 73.6px,#d97e94 73.6px 74.6px,#d8849b 74.6px 75.6px,#e16577 75.6px 76.6px,#e0697c 76.6px 77.6px,#ec424e 77.6px 78.1px,#aaa0cf 78.1px 79.1px,#8787c7 79.1px 80.1px,#9793cb 80.1px 81.1px,#3e52b6 81.1px 82.1px,#6e75c1 82.1px 83.1px,#6d74c1 83.1px 84.1px,#8d8bc8 84.1px 85.1px,#9d97cc 85.1px 86.1px,#9994cb 86.1px 87.1px,#b5a8d2 87.1px 88.1px,#767bc3 88.1px 89.1px,#9d97cc 89.1px 90.1px,#8c8ac8 90.1px 91.1px,#918ec9 91.1px 92.1px,#9d97cc 92.1px 93.1px,#8686c7 93.1px 94.1px,#9994cb 94.1px 95.1px,#8f8dc9 95.1px 96.1px,#ea4754 96.1px 97.1px,#df6c80 97.1px 98.1px,#e35f70 98.1px 99.1px,#ec424e 99.1px 100.1px,#e65464 100.1px 101.1px,#e55868 101.1px 102.1px,#eb4652 102.1px 103.1px,#d689a2 103.1px 104.1px,#e75260 104.1px 105.1px,#e8505f 105.1px 106.1px,#e45a6b 106.1px 107.1px,#ea4956 107.1px 108.1px,#e84f5d 108.1px 109.1px,#ec424e 109.1px 110.1px,#da7d94 110.1px 111.1px,#e45b6b 111.1px 112.1px,#db7a90 112.1px 113.1px,#ec424e 113.1px 114.1px,#e16476 114.1px 115.1px,#d393ad 115.1px 116.1px,#e16577 116.1px 116.7px,#d689a1 116.7px 117.7px,#ea4956 117.7px 118.7px,#dd7488 118.7px 119.7px,#cab0cf 119.7px 120.7px,#dc758a 120.7px 121.7px,#ea4854 121.7px 122.7px,#e35e6f 122.7px 123.7px,#da7d93 123.7px 124.7px,#e75463 124.7px 125.7px,#e65665 125.7px 126.7px,#ec424e 126.7px 127.7px,#e94b59 127.7px 128.7px,#e45d6d 128.7px 129.7px,#d88299 129.7px 130.7px,#e35f71 130.7px 131.7px,#e35f70 131.7px 132.7px,#e0687b 132.7px 133.7px,#e45b6b 133.7px 134.7px,#d48fa8 134.7px 135.7px,#e65666 135.7px 136.7px,#e0687b 136.7px 137.7px,#e45d6e 137.7px 138.7px,#df6c7f 138.7px 139.3px,#8586c7 139.3px 140.3px,#9b95cb 140.3px 141.3px,#afa4d0 141.3px 142.3px,#8485c6 142.3px 143.3px,#9d97cc 143.3px 144.3px,#7379c2 144.3px 145.3px,#a19acd 145.3px 146.3px,#928fc9 146.3px 147.3px,#606abe 147.3px 148.3px,#beaed4 148.3px 149.3px,#6f75c1 149.3px 150.3px,#9490ca 150.3px 151.3px,#5e69be 151.3px 152.3px,#4e5eba 152.3px 153.3px,#aaa0cf 153.3px 154.3px,#5b67bd 154.3px 155.3px,#4154b7 155.3px 156.3px,#8988c7 156.3px 157.3px,#5563bb 157.3px 158.3px,#8988c7 158.3px 159.3px,#cca9c7 159.3px 160.3px,#8283c6 160.3px 160.4px,#d58ca4 160.4px 161.4px,#d7859c 161.4px 162.4px,#d48fa8 162.4px 163.4px,#d09bb6 163.4px 164.4px,#e16679 164.4px 165.4px,#d19ab5 165.4px 166.4px,#d58ca4 166.4px 167.4px,#d393ae 167.4px 168.4px,#bcadd3 168.4px 169.4px,#d58da6 169.4px 170.4px,#d295b0 170.4px 171.4px,#d88299 171.4px 172.4px,#d98198 172.4px 173.4px,#e16577 173.4px 174.4px,#a49cce 174.4px 175.4px,#cca9c7 175.4px 176.4px,#cda6c4 176.4px 177.4px,#c9b3d2 177.4px 178.4px,#d68aa2 178.4px 179.4px,#d19ab5 179.4px 180.4px,#d393ac 180.4px 181.1px,#5c67bd 181.1px 182.1px,#757ac3 182.1px 183.1px,#9793cb 183.1px 184.1px,#8988c7 184.1px 185.1px,#8384c6 185.1px 186.1px,#9691ca 186.1px 187.1px,#8f8dc9 187.1px 188.1px,#7177c2 188.1px 189.1px,#cda7c5 189.1px 190.1px,#8082c5 190.1px 191.1px,#b3a7d1 191.1px 192.1px,#b1a5d1 192.1px 193.1px,#bfafd4 193.1px 194.1px,#8485c6 194.1px 195.1px,#7479c2 195.1px 196.1px,#aba1cf 196.1px 197.1px,#a49cce 197.1px 198.1px,#4053b6 198.1px 199.1px,#3e52b6 199.1px 200.1px,#8586c7 200.1px 201.1px,#8b8ac8 201.1px 202.1px,#908dc9 202.1px 203.1px,#aaa0cf 203.1px 204.1px,#757ac3 204.1px 205.1px,#d688a0 205.1px 205.5px)"></div><div class="h" style="left:49.25px;top:481.9px;width:5.25px;height:205.5px;background:linear-gradient(180deg,#a19acd 0px 1px,#b0a5d0 1px 2px,#8988c7 2px 3px,#3e52b6 3px 4px,#8787c7 4px 5px,#6971c0 5px 6px,#8f8dc9 6px 7px,#7a7dc4 7px 8px,#9893cb 8px 9px,#5d68bd 9px 10px,#7177c2 10px 11px,#7f81c5 11px 12px,#626cbe 12px 13px,#6d74c1 13px 14px,#9692ca 14px 15px,#c8b6d6 15px 16px,#767bc3 16px 17px,#9e97cc 17px 18px,#5361bb 18px 19px,#6d74c1 19px 20px,#8b8ac8 20px 21px,#9491ca 21px 22px,#5764bc 22px 23px,#9591ca 23px 24px,#8485c6 24px 25px,#cbabc9 25px 26px,#c7b5d6 26px 27px,#b8aad2 27px 28px,#9490ca 28px 29px,#ada3d0 29px 30px,#8284c6 30px 31px,#8484c6 31px 32px,#5d68bd 32px 33px,#7277c2 33px 34px,#7378c2 34px 35px,#9f98cd 35px 36px,#a79ece 36px 37px,#7076c2 37px 38px,#9f99cd 38px 39px,#b2a6d1 39px 40px,#c6b5d6 40px 41px,#9f99cd 41px 41.6px,#b5a8d2 41.6px 42.6px,#9e98cc 42.6px 43.6px,#cab0cf 43.6px 44.6px,#7177c2 44.6px 45.6px,#b5a9d2 45.6px 46.6px,#5462bb 46.6px 47.6px,#d297b1 47.6px 48.6px,#cab0cf 48.6px 49.6px,#5c68bd 49.6px 50.6px,#9893cb 50.6px 51.6px,#777bc3 51.6px 52.6px,#6971c0 52.6px 53.6px,#9d97cc 53.6px 54.6px,#8b8ac8 54.6px 55.6px,#de6e82 55.6px 56.6px,#cfa0bd 56.6px 57.6px,#c9b3d2 57.6px 58.6px,#d392ac 58.6px 59.6px,#d8839a 59.6px 60.6px,#dc758a 60.6px 61.6px,#d97f96 61.6px 62.6px,#bdaed3 62.6px 63.6px,#ccaac8 63.6px 64.6px,#d295b0 64.6px 65.6px,#ccaac8 65.6px 66.6px,#db788d 66.6px 67.6px,#d19bb6 67.6px 68.6px,#d392ac 68.6px 69.6px,#d09cb7 69.6px 70.6px,#d48ea7 70.6px 71.6px,#bcaed3 71.6px 72.6px,#e94d5a 72.6px 73.6px,#cea2be 73.6px 74.6px,#cda7c4 74.6px 75.6px,#b2a6d1 75.6px 76.6px,#d393ac 76.6px 77.6px,#c1b1d4 77.6px 78.1px,#b8abd2 78.1px 79.1px,#cda7c5 79.1px 80.1px,#c3b2d5 80.1px 81.1px,#9b95cc 81.1px 82.1px,#cda5c2 82.1px 83.1px,#a59cce 83.1px 84.1px,#aaa0cf 84.1px 85.1px,#aea3d0 85.1px 86.1px,#9a94cb 86.1px 87.1px,#bcadd3 87.1px 88.1px,#7d80c5 88.1px 89.1px,#6871c0 89.1px 90.1px,#cda7c5 90.1px 91.1px,#908dc9 91.1px 92.1px,#9e98cc 92.1px 93.1px,#b9abd2 93.1px 94.1px,#9a95cb 94.1px 95.1px,#7f81c5 95.1px 96.1px,#3e52b6 96.1px 97.1px,#3e52b6 97.1px 98.1px,#495ab9 98.1px 99.1px,#3e52b6 99.1px 100.1px,#3e52b6 100.1px 101.1px,#5160bb 101.1px 102.1px,#3e52b6 102.1px 103.1px,#3e52b6 103.1px 104.1px,#505fba 104.1px 105.1px,#646ebf 105.1px 106.1px,#3e52b6 106.1px 107.1px,#3e52b6 107.1px 108.1px,#636dbf 108.1px 109.1px,#4859b8 109.1px 110.1px,#5b67bd 110.1px 111.1px,#3e52b6 111.1px 112.1px,#3e52b6 112.1px 113.1px,#3e52b6 113.1px 114.1px,#3e52b6 114.1px 115.1px,#4a5bb9 115.1px 116.1px,#505fba 116.1px 116.7px,#d98097 116.7px 117.7px,#db798e 117.7px 118.7px,#eb4551 118.7px 119.7px,#e45c6c 119.7px 120.7px,#dc758a 120.7px 121.7px,#e36172 121.7px 122.7px,#df6d81 122.7px 123.7px,#d199b4 123.7px 124.7px,#d88198 124.7px 125.7px,#e0687a 125.7px 126.7px,#e45d6e 126.7px 127.7px,#d297b2 127.7px 128.7px,#d58ba3 128.7px 129.7px,#d8849b 129.7px 130.7px,#cea1be 130.7px 131.7px,#e84e5c 131.7px 132.7px,#e26274 132.7px 133.7px,#ea4754 133.7px 134.7px,#c7b5d6 134.7px 135.7px,#d58ba3 135.7px 136.7px,#ec424e 136.7px 137.7px,#cf9eba 137.7px 138.7px,#cbabc9 138.7px 139.3px,#b4a8d1 139.3px 140.3px,#d09bb7 140.3px 141.3px,#c4b3d5 141.3px 142.3px,#8787c7 142.3px 143.3px,#c1b1d4 143.3px 144.3px,#bbadd3 144.3px 145.3px,#b6a9d2 145.3px 146.3px,#bbacd3 146.3px 147.3px,#c9b3d3 147.3px 148.3px,#cca9c6 148.3px 149.3px,#cea2be 149.3px 150.3px,#cbacca 150.3px 151.3px,#a69ece 151.3px 152.3px,#666fbf 152.3px 153.3px,#c1b1d4 153.3px 154.3px,#7378c2 154.3px 155.3px,#d7859c 155.3px 156.3px,#8082c5 156.3px 157.3px,#666fbf 157.3px 158.3px,#666fbf 158.3px 159.3px,#bbacd3 159.3px 160.3px,#b7aad2 160.3px 160.4px,#3e52b6 160.4px 161.4px,#3e52b6 161.4px 162.4px,#3e52b6 162.4px 163.4px,#3e52b6 163.4px 164.4px,#3e52b6 164.4px 165.4px,#3e52b6 165.4px 166.4px,#3e52b6 166.4px 167.4px,#3e52b6 167.4px 168.4px,#3e52b6 168.4px 169.4px,#3e52b6 169.4px 170.4px,#3e52b6 170.4px 171.4px,#3e52b6 171.4px 172.4px,#3e52b6 172.4px 173.4px,#3e52b6 173.4px 174.4px,#3e52b6 174.4px 175.4px,#3e52b6 175.4px 176.4px,#3e52b6 176.4px 177.4px,#3e52b6 177.4px 178.4px,#3e52b6 178.4px 179.4px,#3e52b6 179.4px 180.4px,#3e52b6 180.4px 181.1px,#ec424e 181.1px 182.1px,#ec424e 182.1px 183.1px,#ec424e 183.1px 184.1px,#ec424e 184.1px 185.1px,#ec424e 185.1px 186.1px,#ec424e 186.1px 187.1px,#ec424e 187.1px 188.1px,#ec424e 188.1px 189.1px,#ec424e 189.1px 190.1px,#ec424e 190.1px 191.1px,#ec424e 191.1px 192.1px,#ec424e 192.1px 193.1px,#ec424e 193.1px 194.1px,#ec424e 194.1px 195.1px,#ec424e 195.1px 196.1px,#ec424e 196.1px 197.1px,#ec424e 197.1px 198.1px,#ec424e 198.1px 199.1px,#ec424e 199.1px 200.1px,#ec424e 200.1px 201.1px,#ec424e 201.1px 202.1px,#ec424e 202.1px 203.1px,#ec424e 203.1px 204.1px,#ec424e 204.1px 205.1px,#ec424e 205.1px 205.5px)"></div><div class="h" style="left:54.4px;top:481.9px;width:5.08px;height:205.5px;background:linear-gradient(180deg,#4d5db9 0px 1px,#c9b3d2 1px 2px,#afa4d0 2px 3px,#a59cce 3px 4px,#928fca 4px 5px,#8d8bc8 5px 6px,#9491ca 6px 7px,#6c74c1 7px 8px,#aea3d0 8px 9px,#9490ca 9px 10px,#6c73c1 10px 11px,#9b95cb 11px 12px,#8485c6 12px 13px,#8f8dc9 13px 14px,#a59dce 14px 15px,#d48ea7 15px 16px,#6870c0 16px 17px,#a099cd 17px 18px,#aca1cf 18px 19px,#a19acd 19px 20px,#c8b5d5 20px 21px,#8082c5 21px 22px,#8485c6 22px 23px,#908ec9 23px 24px,#5c68bd 24px 25px,#ccaac8 25px 26px,#7d80c5 26px 27px,#c1b1d4 27px 28px,#cda7c4 28px 29px,#8c8bc8 29px 30px,#a69dce 30px 31px,#a59cce 31px 32px,#d296b1 32px 33px,#b6a9d2 33px 34px,#6971c0 34px 35px,#cbabc9 35px 36px,#cbacca 36px 37px,#606bbe 37px 38px,#4457b7 38px 39px,#db798f 39px 40px,#b0a4d0 40px 41px,#5b67bd 41px 41.6px,#b0a4d0 41.6px 42.6px,#beaed4 42.6px 43.6px,#3e52b6 43.6px 44.6px,#b8abd2 44.6px 45.6px,#a39bcd 45.6px 46.6px,#8787c7 46.6px 47.6px,#6d74c1 47.6px 48.6px,#9692ca 48.6px 49.6px,#6871c0 49.6px 50.6px,#8e8cc8 50.6px 51.6px,#7e80c5 51.6px 52.6px,#767bc3 52.6px 53.6px,#9c96cc 53.6px 54.6px,#ada2d0 54.6px 55.6px,#e65463 55.6px 56.6px,#e26274 56.6px 57.6px,#ec424e 57.6px 58.6px,#d199b4 58.6px 59.6px,#de6e82 59.6px 60.6px,#df6a7d 60.6px 61.6px,#ea4957 61.6px 62.6px,#c4b3d5 62.6px 63.6px,#d97f95 63.6px 64.6px,#da7b90 64.6px 65.6px,#e06a7d 65.6px 66.6px,#ec424e 66.6px 67.6px,#e0697c 67.6px 68.6px,#dd7488 68.6px 69.6px,#e26374 69.6px 70.6px,#e7515f 70.6px 71.6px,#dc768b 71.6px 72.6px,#ec424e 72.6px 73.6px,#d198b2 73.6px 74.6px,#ea4855 74.6px 75.6px,#e55a6a 75.6px 76.6px,#e8505f 76.6px 77.6px,#ec424e 77.6px 78.1px,#aca2d0 78.1px 79.1px,#c5b4d5 79.1px 80.1px,#c0b0d4 80.1px 81.1px,#9e98cc 81.1px 82.1px,#9893cb 82.1px 83.1px,#9893cb 83.1px 84.1px,#ccaac8 84.1px 85.1px,#5e69bd 85.1px 86.1px,#8485c6 86.1px 87.1px,#b8abd2 87.1px 88.1px,#d09bb7 88.1px 89.1px,#b2a6d1 89.1px 90.1px,#d09db8 90.1px 91.1px,#b3a7d1 91.1px 92.1px,#a19acd 92.1px 93.1px,#7a7dc4 93.1px 94.1px,#bdaed3 94.1px 95.1px,#d48ea7 95.1px 96.1px,#b0a4d0 96.1px 97.1px,#8485c6 97.1px 98.1px,#c3b2d5 98.1px 99.1px,#787cc3 99.1px 100.1px,#8182c5 100.1px 101.1px,#cca9c7 101.1px 102.1px,#bcadd3 102.1px 103.1px,#caaecd 103.1px 104.1px,#b5a9d2 104.1px 105.1px,#a89fcf 105.1px 106.1px,#b3a7d1 106.1px 107.1px,#a099cd 107.1px 108.1px,#cbabc9 108.1px 109.1px,#7b7ec4 109.1px 110.1px,#646dbf 110.1px 111.1px,#8c8ac8 111.1px 112.1px,#cab0cf 112.1px 113.1px,#9893cb 113.1px 114.1px,#5462bb 114.1px 115.1px,#dd7186 115.1px 116.1px,#8988c7 116.1px 116.7px,#cbadcb 116.7px 117.7px,#d394ae 117.7px 118.7px,#d09bb6 118.7px 119.7px,#cbacca 119.7px 120.7px,#9f98cc 120.7px 121.7px,#d296b0 121.7px 122.7px,#b5a8d2 122.7px 123.7px,#cbaccb 123.7px 124.7px,#d48ea7 124.7px 125.7px,#c9b3d3 125.7px 126.7px,#9691ca 126.7px 127.7px,#c3b3d5 127.7px 128.7px,#d393ad 128.7px 129.7px,#d490a9 129.7px 130.7px,#a99fcf 130.7px 131.7px,#cda5c2 131.7px 132.7px,#d09db9 132.7px 133.7px,#d7849b 133.7px 134.7px,#d19ab5 134.7px 135.7px,#cea1be 135.7px 136.7px,#cab0cf 136.7px 137.7px,#d297b2 137.7px 138.7px,#d58ea7 138.7px 139.3px,#ea4754 139.3px 140.3px,#e94b59 140.3px 141.3px,#ec424e 141.3px 142.3px,#ec4350 142.3px 143.3px,#e45b6c 143.3px 144.3px,#ec424e 144.3px 145.3px,#e06a7d 145.3px 146.3px,#e16577 146.3px 147.3px,#ec424e 147.3px 148.3px,#ec424e 148.3px 149.3px,#ec424e 149.3px 150.3px,#ec424e 150.3px 151.3px,#e45a6b 151.3px 152.3px,#ec424e 152.3px 153.3px,#e84e5c 153.3px 154.3px,#ec424e 154.3px 155.3px,#ec424e 155.3px 156.3px,#eb4551 156.3px 157.3px,#df6c7f 157.3px 158.3px,#ec424e 158.3px 159.3px,#ec424e 159.3px 160.3px,#ec424e 160.3px 160.4px,#d58ba3 160.4px 161.4px,#e26274 161.4px 162.4px,#de6f83 162.4px 163.4px,#dc768b 163.4px 164.4px,#dd7185 164.4px 165.4px,#dd7185 165.4px 166.4px,#d295af 166.4px 167.4px,#db7a90 167.4px 168.4px,#db788d 168.4px 169.4px,#e55a6a 169.4px 170.4px,#de6e81 170.4px 171.4px,#ec424e 171.4px 172.4px,#e65565 172.4px 173.4px,#e35f70 173.4px 174.4px,#e26274 174.4px 175.4px,#d296b1 175.4px 176.4px,#e45d6e 176.4px 177.4px,#ec424e 177.4px 178.4px,#d689a1 178.4px 179.4px,#ec424e 179.4px 180.4px,#e65564 180.4px 181.1px,#b7aad2 181.1px 182.1px,#9c96cc 182.1px 183.1px,#ada3d0 183.1px 184.1px,#8f8cc9 184.1px 185.1px,#aca2cf 185.1px 186.1px,#aea3d0 186.1px 187.1px,#afa4d0 187.1px 188.1px,#7e80c5 188.1px 189.1px,#cab0ce 189.1px 190.1px,#9390ca 190.1px 191.1px,#bcadd3 191.1px 192.1px,#c3b2d5 192.1px 193.1px,#a59cce 193.1px 194.1px,#d97f95 194.1px 195.1px,#b1a5d1 195.1px 196.1px,#bcaed3 196.1px 197.1px,#a39bcd 197.1px 198.1px,#b9abd3 198.1px 199.1px,#7c7fc4 199.1px 200.1px,#c5b4d5 200.1px 201.1px,#9e98cc 201.1px 202.1px,#9994cb 202.1px 203.1px,#c8b5d5 203.1px 204.1px,#cab0cf 204.1px 205.1px,#9c96cc 205.1px 205.5px)"></div><div class="h" style="left:59.38px;top:481.9px;width:5.08px;height:205.5px;background:linear-gradient(180deg,#dd7286 0px 1px,#d392ab 1px 2px,#dd7185 2px 3px,#ec424e 3px 4px,#ec424e 4px 5px,#db7a8f 5px 6px,#e8505e 6px 7px,#ec424e 7px 8px,#e06a7d 8px 9px,#e26375 9px 10px,#de6e82 10px 11px,#eb4451 11px 12px,#d48ea7 12px 13px,#e65665 13px 14px,#ec434f 14px 15px,#e75362 15px 16px,#ec424e 16px 17px,#ec424e 17px 18px,#e26273 18px 19px,#dd7186 19px 20px,#dd7388 20px 21px,#ec424e 21px 22px,#e65665 22px 23px,#e84e5c 23px 24px,#de6f82 24px 25px,#cfa1bd 25px 26px,#ccaac8 26px 27px,#cbadcc 27px 28px,#8b8ac8 28px 29px,#dd7387 29px 30px,#ccabc9 30px 31px,#8d8bc8 31px 32px,#cda7c4 32px 33px,#b1a5d1 33px 34px,#9893cb 34px 35px,#9994cb 35px 36px,#c8b6d6 36px 37px,#c1b1d4 37px 38px,#beaed4 38px 39px,#ada3d0 39px 40px,#8f8dc9 40px 41px,#bfb0d4 41px 41.6px,#a29bcd 41.6px 42.6px,#a59cce 42.6px 43.6px,#c3b3d5 43.6px 44.6px,#d297b2 44.6px 45.6px,#9591ca 45.6px 46.6px,#caafcd 46.6px 47.6px,#918ec9 47.6px 48.6px,#c9b2d2 48.6px 49.6px,#c5b4d5 49.6px 50.6px,#aea3d0 50.6px 51.6px,#b5a8d2 51.6px 52.6px,#8f8dc9 52.6px 53.6px,#a099cd 53.6px 54.6px,#caafce 54.6px 55.6px,#de6f83 55.6px 56.6px,#ec424e 56.6px 57.6px,#cca8c5 57.6px 58.6px,#d296b1 58.6px 59.6px,#d7849c 59.6px 60.6px,#d7869d 60.6px 61.6px,#d198b2 61.6px 62.6px,#d295af 62.6px 63.6px,#d58ba3 63.6px 64.6px,#e35f70 64.6px 65.6px,#d58ba3 65.6px 66.6px,#cfa0bc 66.6px 67.6px,#d97e94 67.6px 68.6px,#9d97cc 68.6px 69.6px,#cea3c0 69.6px 70.6px,#d09cb7 70.6px 71.6px,#d97e94 71.6px 72.6px,#a9a0cf 72.6px 73.6px,#d48ea7 73.6px 74.6px,#ccaac7 74.6px 75.6px,#e0687b 75.6px 76.6px,#de6e82 76.6px 77.6px,#d296b0 77.6px 78.1px,#aca1cf 78.1px 79.1px,#6e75c1 79.1px 80.1px,#a29bcd 80.1px 81.1px,#a49cce 81.1px 82.1px,#c2b2d5 82.1px 83.1px,#8a89c8 83.1px 84.1px,#495ab9 84.1px 85.1px,#b8abd2 85.1px 86.1px,#7177c2 86.1px 87.1px,#8686c7 87.1px 88.1px,#8c8bc8 88.1px 89.1px,#cca8c6 89.1px 90.1px,#9893cb 90.1px 91.1px,#c6b4d5 91.1px 92.1px,#9d97cc 92.1px 93.1px,#656fbf 93.1px 94.1px,#aba1cf 94.1px 95.1px,#ada3d0 95.1px 96.1px,#8585c6 96.1px 97.1px,#5f6abe 97.1px 98.1px,#d8839a 98.1px 99.1px,#d199b4 99.1px 100.1px,#aaa0cf 100.1px 101.1px,#aba1cf 101.1px 102.1px,#beaed4 102.1px 103.1px,#b0a5d1 103.1px 104.1px,#626cbe 104.1px 105.1px,#666fbf 105.1px 106.1px,#b9abd3 106.1px 107.1px,#c9b2d1 107.1px 108.1px,#c2b2d5 108.1px 109.1px,#b9abd3 109.1px 110.1px,#9a94cb 110.1px 111.1px,#beafd4 111.1px 112.1px,#cbacca 112.1px 113.1px,#aea3d0 113.1px 114.1px,#c8b5d5 114.1px 115.1px,#c8b6d6 115.1px 116.1px,#7f81c5 116.1px 116.7px,#9893cb 116.7px 117.7px,#4f5fba 117.7px 118.7px,#4a5ab9 118.7px 119.7px,#a99fcf 119.7px 120.7px,#3e52b6 120.7px 121.7px,#656ebf 121.7px 122.7px,#8e8cc9 122.7px 123.7px,#7b7ec4 123.7px 124.7px,#5e69bd 124.7px 125.7px,#495ab9 125.7px 126.7px,#7f81c5 126.7px 127.7px,#8082c5 127.7px 128.7px,#6971c0 128.7px 129.7px,#4759b8 129.7px 130.7px,#3e52b6 130.7px 131.7px,#6c73c1 131.7px 132.7px,#6a72c0 132.7px 133.7px,#8b8ac8 133.7px 134.7px,#606bbe 134.7px 135.7px,#8e8cc9 135.7px 136.7px,#3f52b6 136.7px 137.7px,#3e52b6 137.7px 138.7px,#8f8dc9 138.7px 139.3px,#d97e94 139.3px 140.3px,#d58ba3 140.3px 141.3px,#dc758a 141.3px 142.3px,#d297b1 142.3px 143.3px,#da7b91 143.3px 144.3px,#d09cb7 144.3px 145.3px,#df6b7e 145.3px 146.3px,#d8839a 146.3px 147.3px,#dd7286 147.3px 148.3px,#de7084 148.3px 149.3px,#e26274 149.3px 150.3px,#cda6c4 150.3px 151.3px,#df6b7f 151.3px 152.3px,#db798e 152.3px 153.3px,#d295af 153.3px 154.3px,#db798e 154.3px 155.3px,#e36072 155.3px 156.3px,#e26173 156.3px 157.3px,#ec424e 157.3px 158.3px,#da7b90 158.3px 159.3px,#df6c7f 159.3px 160.3px,#ec424e 160.3px 160.4px,#d58ba3 160.4px 161.4px,#d392ac 161.4px 162.4px,#d7879e 162.4px 163.4px,#d58ba3 163.4px 164.4px,#db798e 164.4px 165.4px,#dd7488 165.4px 166.4px,#d490a9 166.4px 167.4px,#d09cb7 167.4px 168.4px,#db7a8f 168.4px 169.4px,#cf9fbb 169.4px 170.4px,#d392ab 170.4px 171.4px,#df6d81 171.4px 172.4px,#da7b91 172.4px 173.4px,#d297b2 173.4px 174.4px,#cda5c2 174.4px 175.4px,#d297b2 175.4px 176.4px,#cda7c4 176.4px 177.4px,#e0677a 177.4px 178.4px,#e26172 178.4px 179.4px,#de6f82 179.4px 180.4px,#de6e82 180.4px 181.1px,#918ec9 181.1px 182.1px,#a9a0cf 182.1px 183.1px,#a69dce 183.1px 184.1px,#a59dce 184.1px 185.1px,#918ec9 185.1px 186.1px,#7b7ec4 186.1px 187.1px,#aea3d0 187.1px 188.1px,#b2a6d1 188.1px 189.1px,#7a7dc4 189.1px 190.1px,#9b95cb 190.1px 191.1px,#a29acd 191.1px 192.1px,#b6a9d2 192.1px 193.1px,#646dbf 193.1px 194.1px,#6f75c1 194.1px 195.1px,#7076c2 195.1px 196.1px,#757ac3 196.1px 197.1px,#7b7ec4 197.1px 198.1px,#c3b2d5 198.1px 199.1px,#787cc3 199.1px 200.1px,#d392ac 200.1px 201.1px,#ada3d0 201.1px 202.1px,#bdaed3 202.1px 203.1px,#a19acd 203.1px 204.1px,#c3b3d5 204.1px 205.1px,#b1a6d1 205.1px 205.5px)"></div><div class="h" style="left:64.36px;top:481.9px;width:5.08px;height:205.5px;background:linear-gradient(180deg,#a69dce 0px 1px,#9d97cc 1px 2px,#9f98cc 2px 3px,#9692ca 3px 4px,#b0a5d1 4px 5px,#8888c7 5px 6px,#7479c3 6px 7px,#c3b2d5 7px 8px,#767ac3 8px 9px,#9792cb 9px 10px,#ccaac8 10px 11px,#7076c2 11px 12px,#7e80c5 12px 13px,#6f75c1 13px 14px,#656ebf 14px 15px,#a099cd 15px 16px,#8082c5 16px 17px,#8c8bc8 17px 18px,#4859b8 18px 19px,#9a94cb 19px 20px,#6d74c1 20px 21px,#4053b6 21px 22px,#6d74c1 22px 23px,#4c5cb9 23px 24px,#c3b2d5 24px 25px,#4053b6 25px 26px,#8988c7 26px 27px,#5865bc 27px 28px,#606bbe 28px 29px,#4f5eba 29px 30px,#aca1cf 30px 31px,#5563bb 31px 32px,#6770bf 32px 33px,#8787c7 33px 34px,#7177c2 34px 35px,#9893cb 35px 36px,#636dbf 36px 37px,#4255b7 37px 38px,#8f8dc9 38px 39px,#aba1cf 39px 40px,#928fca 40px 41px,#5f6abe 41px 41.6px,#bcaed3 41.6px 42.6px,#aea3d0 42.6px 43.6px,#8384c6 43.6px 44.6px,#a19acd 44.6px 45.6px,#908dc9 45.6px 46.6px,#9591ca 46.6px 47.6px,#a99fcf 47.6px 48.6px,#b2a6d1 48.6px 49.6px,#9490ca 49.6px 50.6px,#9390ca 50.6px 51.6px,#3e52b6 51.6px 52.6px,#7378c2 52.6px 53.6px,#a29bcd 53.6px 54.6px,#7379c2 54.6px 55.6px,#4c5cb9 55.6px 56.6px,#3e52b6 56.6px 57.6px,#4154b7 57.6px 58.6px,#4255b7 58.6px 59.6px,#6f75c1 59.6px 60.6px,#5160ba 60.6px 61.6px,#4053b6 61.6px 62.6px,#3e52b6 62.6px 63.6px,#4c5cb9 63.6px 64.6px,#3e52b6 64.6px 65.6px,#6c73c1 65.6px 66.6px,#3e52b6 66.6px 67.6px,#3e52b6 67.6px 68.6px,#3e52b6 68.6px 69.6px,#3e52b6 69.6px 70.6px,#515fba 70.6px 71.6px,#4a5bb9 71.6px 72.6px,#3e52b6 72.6px 73.6px,#3e52b6 73.6px 74.6px,#8284c6 74.6px 75.6px,#6971c0 75.6px 76.6px,#5361bb 76.6px 77.6px,#495ab9 77.6px 78.1px,#ec424e 78.1px 79.1px,#e35d6e 79.1px 80.1px,#e55a6a 80.1px 81.1px,#e65665 81.1px 82.1px,#dd7287 82.1px 83.1px,#df6d80 83.1px 84.1px,#ec424e 84.1px 85.1px,#e94c5a 85.1px 86.1px,#df6d80 86.1px 87.1px,#e55969 87.1px 88.1px,#e36072 88.1px 89.1px,#e35f70 89.1px 90.1px,#e75362 90.1px 91.1px,#d97f96 91.1px 92.1px,#d689a2 92.1px 93.1px,#e55867 93.1px 94.1px,#e55968 94.1px 95.1px,#dc768b 95.1px 96.1px,#a99fcf 96.1px 97.1px,#9893cb 97.1px 98.1px,#b4a8d1 98.1px 99.1px,#a59dce 99.1px 100.1px,#ccaac8 100.1px 101.1px,#cea1be 101.1px 102.1px,#c5b4d5 102.1px 103.1px,#aea3d0 103.1px 104.1px,#c9b2d2 104.1px 105.1px,#c8b6d6 105.1px 106.1px,#beafd4 106.1px 107.1px,#c8b5d4 107.1px 108.1px,#9f98cc 108.1px 109.1px,#c8b5d4 109.1px 110.1px,#c1b1d4 110.1px 111.1px,#bcadd3 111.1px 112.1px,#a79ece 112.1px 113.1px,#9e97cc 113.1px 114.1px,#c3b2d5 114.1px 115.1px,#9b95cb 115.1px 116.1px,#8586c7 116.1px 116.7px,#ec424e 116.7px 117.7px,#ec434f 117.7px 118.7px,#d98097 118.7px 119.7px,#ec424e 119.7px 120.7px,#cca8c5 120.7px 121.7px,#e65565 121.7px 122.7px,#e75362 122.7px 123.7px,#e36072 123.7px 124.7px,#de6e82 124.7px 125.7px,#e8505e 125.7px 126.7px,#e55868 126.7px 127.7px,#d58ba4 127.7px 128.7px,#d97f95 128.7px 129.7px,#ea4956 129.7px 130.7px,#e7515f 130.7px 131.7px,#d58ba4 131.7px 132.7px,#d296b0 132.7px 133.7px,#e45a6b 133.7px 134.7px,#d88298 134.7px 135.7px,#d97f95 135.7px 136.7px,#db788d 136.7px 137.7px,#e26172 137.7px 138.7px,#cda7c4 138.7px 139.3px,#e16779 139.3px 140.3px,#d58ba3 140.3px 141.3px,#e26374 141.3px 142.3px,#cea2bf 142.3px 143.3px,#d19ab5 143.3px 144.3px,#de7084 144.3px 145.3px,#e36072 145.3px 146.3px,#d98198 146.3px 147.3px,#d689a2 147.3px 148.3px,#e65665 148.3px 149.3px,#e35d6e 149.3px 150.3px,#dc768b 150.3px 151.3px,#d7879f 151.3px 152.3px,#e55868 152.3px 153.3px,#e06a7c 153.3px 154.3px,#d68aa3 154.3px 155.3px,#e75160 155.3px 156.3px,#e45d6d 156.3px 157.3px,#db788e 157.3px 158.3px,#de7085 158.3px 159.3px,#e06779 159.3px 160.3px,#d58da6 160.3px 160.4px,#666fbf 160.4px 161.4px,#beafd4 161.4px 162.4px,#5663bc 162.4px 163.4px,#5a66bc 163.4px 164.4px,#5e69bd 164.4px 165.4px,#a49cce 165.4px 166.4px,#b8abd2 166.4px 167.4px,#7a7dc4 167.4px 168.4px,#c2b2d5 168.4px 169.4px,#cab1d0 169.4px 170.4px,#c5b4d5 170.4px 171.4px,#626cbe 171.4px 172.4px,#c2b2d5 172.4px 173.4px,#d09cb8 173.4px 174.4px,#7177c2 174.4px 175.4px,#5663bc 175.4px 176.4px,#c1b1d4 176.4px 177.4px,#a59dce 177.4px 178.4px,#908ec9 178.4px 179.4px,#908dc9 179.4px 180.4px,#5361bb 180.4px 181.1px,#9893cb 181.1px 182.1px,#beafd4 182.1px 183.1px,#c8b6d6 183.1px 184.1px,#cca8c5 184.1px 185.1px,#cca8c5 185.1px 186.1px,#a59dce 186.1px 187.1px,#b4a7d1 187.1px 188.1px,#d198b3 188.1px 189.1px,#8485c6 189.1px 190.1px,#c9b4d4 190.1px 191.1px,#9793cb 191.1px 192.1px,#bfafd4 192.1px 193.1px,#d58ba4 193.1px 194.1px,#c5b4d5 194.1px 195.1px,#a69dce 195.1px 196.1px,#9d97cc 196.1px 197.1px,#8384c6 197.1px 198.1px,#b6a9d2 198.1px 199.1px,#636cbe 199.1px 200.1px,#b4a7d1 200.1px 201.1px,#bcadd3 201.1px 202.1px,#9591ca 202.1px 203.1px,#9994cb 203.1px 204.1px,#cfa0bc 204.1px 205.1px,#d09eba 205.1px 205.5px)"></div><div class="h" style="left:69.34px;top:481.9px;width:5.08px;height:205.5px;background:linear-gradient(180deg,#d7859c 0px 1px,#cfa1bd 1px 2px,#c2b2d5 2px 3px,#afa4d0 3px 4px,#cf9eba 4px 5px,#caafce 5px 6px,#bdaed4 6px 7px,#d58ca5 7px 8px,#b1a5d1 8px 9px,#bdaed4 9px 10px,#cea2bf 10px 11px,#c8b5d5 11px 12px,#baacd3 12px 13px,#cea4c1 13px 14px,#de6e82 14px 15px,#aba1cf 15px 16px,#caafce 16px 17px,#c7b5d6 17px 18px,#bdaed3 18px 19px,#d490aa 19px 20px,#b4a7d1 20px 21px,#d48fa9 21px 22px,#928fca 22px 23px,#bcadd3 23px 24px,#9994cb 24px 25px,#cca9c7 25px 26px,#cf9fbc 26px 27px,#cea4c0 27px 28px,#cbaecd 28px 29px,#c0b0d4 29px 30px,#9c96cc 30px 31px,#d19ab6 31px 32px,#c9b4d4 32px 33px,#d491aa 33px 34px,#8b8ac8 34px 35px,#c0b0d4 35px 36px,#8a89c8 36px 37px,#d393ad 37px 38px,#aea3d0 38px 39px,#a39bcd 39px 40px,#d19ab5 40px 41px,#c6b4d6 41px 41.6px,#cbadcc 41.6px 42.6px,#c5b4d5 42.6px 43.6px,#d392ac 43.6px 44.6px,#cbaccb 44.6px 45.6px,#cbadcb 45.6px 46.6px,#c8b5d5 46.6px 47.6px,#d297b2 47.6px 48.6px,#d392ac 48.6px 49.6px,#bcadd3 49.6px 50.6px,#d19ab5 50.6px 51.6px,#918ec9 51.6px 52.6px,#aca1cf 52.6px 53.6px,#b5a8d2 53.6px 54.6px,#aea3d0 54.6px 55.6px,#e55767 55.6px 56.6px,#d393ad 56.6px 57.6px,#d198b3 57.6px 58.6px,#e26273 58.6px 59.6px,#d8839a 59.6px 60.6px,#e16678 60.6px 61.6px,#e16577 61.6px 62.6px,#da7d93 62.6px 63.6px,#dc7589 63.6px 64.6px,#e94d5b 64.6px 65.6px,#e0687a 65.6px 66.6px,#e16678 66.6px 67.6px,#e75362 67.6px 68.6px,#d97f95 68.6px 69.6px,#d58ea7 69.6px 70.6px,#dd7388 70.6px 71.6px,#ec424e 71.6px 72.6px,#e65564 72.6px 73.6px,#ec424e 73.6px 74.6px,#ea4956 74.6px 75.6px,#e94b59 75.6px 76.6px,#db778d 76.6px 77.6px,#d09bb7 77.6px 78.1px,#4c5cb9 78.1px 79.1px,#a099cd 79.1px 80.1px,#7177c2 80.1px 81.1px,#6f76c1 81.1px 82.1px,#b0a4d0 82.1px 83.1px,#a69dce 83.1px 84.1px,#6b72c0 84.1px 85.1px,#a49cce 85.1px 86.1px,#cab0d0 86.1px 87.1px,#beafd4 87.1px 88.1px,#8183c6 88.1px 89.1px,#beafd4 89.1px 90.1px,#5160ba 90.1px 91.1px,#908dc9 91.1px 92.1px,#8a89c8 92.1px 93.1px,#c8b5d5 93.1px 94.1px,#6e74c1 94.1px 95.1px,#777cc3 95.1px 96.1px,#d199b4 96.1px 97.1px,#dc778c 97.1px 98.1px,#c3b2d5 98.1px 99.1px,#d7879f 99.1px 100.1px,#d19ab5 100.1px 101.1px,#d09db9 101.1px 102.1px,#c7b5d6 102.1px 103.1px,#d88298 103.1px 104.1px,#d68aa3 104.1px 105.1px,#d88198 105.1px 106.1px,#d689a2 106.1px 107.1px,#d392ac 107.1px 108.1px,#ccaac8 108.1px 109.1px,#d48fa8 109.1px 110.1px,#dc768b 110.1px 111.1px,#d68aa3 111.1px 112.1px,#d97e94 112.1px 113.1px,#dd7388 113.1px 114.1px,#d7849c 114.1px 115.1px,#d296b1 115.1px 116.1px,#cbadcc 116.1px 116.7px,#e8505e 116.7px 117.7px,#da7d93 117.7px 118.7px,#da7d93 118.7px 119.7px,#dc7589 119.7px 120.7px,#e35e6f 120.7px 121.7px,#e45c6d 121.7px 122.7px,#d58ea7 122.7px 123.7px,#db7a90 123.7px 124.7px,#e75362 124.7px 125.7px,#d58ba3 125.7px 126.7px,#dc768b 126.7px 127.7px,#d392ac 127.7px 128.7px,#cda5c2 128.7px 129.7px,#cfa0bc 129.7px 130.7px,#dd7287 130.7px 131.7px,#de6e81 131.7px 132.7px,#b2a6d1 132.7px 133.7px,#d98096 133.7px 134.7px,#d97e95 134.7px 135.7px,#cca8c6 135.7px 136.7px,#db7a8f 136.7px 137.7px,#d490aa 137.7px 138.7px,#e94d5b 138.7px 139.3px,#cbaecc 139.3px 140.3px,#de6e82 140.3px 141.3px,#c9b4d3 141.3px 142.3px,#caafce 142.3px 143.3px,#e26273 143.3px 144.3px,#cda6c4 144.3px 145.3px,#d09cb8 145.3px 146.3px,#bcadd3 146.3px 147.3px,#d68aa2 147.3px 148.3px,#e26375 148.3px 149.3px,#d198b2 149.3px 150.3px,#d297b2 150.3px 151.3px,#d48fa8 151.3px 152.3px,#cda7c4 152.3px 153.3px,#c7b5d6 153.3px 154.3px,#d58da6 154.3px 155.3px,#d199b4 155.3px 156.3px,#b5a8d2 156.3px 157.3px,#9c96cc 157.3px 158.3px,#d98097 158.3px 159.3px,#c7b5d6 159.3px 160.3px,#d98197 160.3px 160.4px,#d88299 160.4px 161.4px,#cfa0bd 161.4px 162.4px,#cab1d0 162.4px 163.4px,#8586c7 163.4px 164.4px,#de6e82 164.4px 165.4px,#d88299 165.4px 166.4px,#c8b6d6 166.4px 167.4px,#bcaed3 167.4px 168.4px,#d48fa8 168.4px 169.4px,#9994cb 169.4px 170.4px,#d688a0 170.4px 171.4px,#d88198 171.4px 172.4px,#b7aad2 172.4px 173.4px,#bcadd3 173.4px 174.4px,#e16678 174.4px 175.4px,#cbaecd 175.4px 176.4px,#d199b4 176.4px 177.4px,#cca9c7 177.4px 178.4px,#9793cb 178.4px 179.4px,#d97f95 179.4px 180.4px,#df6b7e 180.4px 181.1px,#9792cb 181.1px 182.1px,#8b8ac8 182.1px 183.1px,#d09db9 183.1px 184.1px,#7479c3 184.1px 185.1px,#a19acd 185.1px 186.1px,#7a7ec4 186.1px 187.1px,#7277c2 187.1px 188.1px,#9691ca 188.1px 189.1px,#485ab8 189.1px 190.1px,#7f81c5 190.1px 191.1px,#aea3d0 191.1px 192.1px,#918ec9 192.1px 193.1px,#8384c6 193.1px 194.1px,#d97f95 194.1px 195.1px,#c9b4d4 195.1px 196.1px,#9994cb 196.1px 197.1px,#ccaac9 197.1px 198.1px,#c5b4d5 198.1px 199.1px,#b3a7d1 199.1px 200.1px,#c8b6d6 200.1px 201.1px,#9f98cc 201.1px 202.1px,#9793cb 202.1px 203.1px,#d295af 203.1px 204.1px,#b0a4d0 204.1px 205.1px,#d09db9 205.1px 205.5px)"></div><div class="h" style="left:74.32px;top:481.9px;width:5.08px;height:205.5px;background:linear-gradient(180deg,#4f5eba 0px 1px,#787cc3 1px 2px,#787cc3 2px 3px,#9f98cc 3px 4px,#9893cb 4px 5px,#bfafd4 5px 6px,#ada3d0 6px 7px,#9a95cb 7px 8px,#aea3d0 8px 9px,#b5a8d2 9px 10px,#a59cce 10px 11px,#3e52b6 11px 12px,#8888c7 12px 13px,#b1a6d1 13px 14px,#8b8ac8 14px 15px,#cab1d0 15px 16px,#8787c7 16px 17px,#9d97cc 17px 18px,#7c7fc4 18px 19px,#9591ca 19px 20px,#c4b3d5 20px 21px,#cab0cf 21px 22px,#bbacd3 22px 23px,#b4a7d1 23px 24px,#9f98cc 24px 25px,#7378c2 25px 26px,#bbacd3 26px 27px,#8b8ac8 27px 28px,#aea3d0 28px 29px,#9f99cd 29px 30px,#c3b3d5 30px 31px,#8a89c8 31px 32px,#c1b1d4 32px 33px,#a49cce 33px 34px,#cea2be 34px 35px,#9f98cc 35px 36px,#9e97cc 36px 37px,#5d68bd 37px 38px,#c4b3d5 38px 39px,#a59cce 39px 40px,#515fba 40px 41px,#b5a8d2 41px 41.6px,#a39bcd 41.6px 42.6px,#8585c6 42.6px 43.6px,#c2b1d5 43.6px 44.6px,#8d8bc8 44.6px 45.6px,#8b8ac8 45.6px 46.6px,#a099cd 46.6px 47.6px,#6770bf 47.6px 48.6px,#a69dce 48.6px 49.6px,#7177c2 49.6px 50.6px,#9a95cb 50.6px 51.6px,#baacd3 51.6px 52.6px,#8384c6 52.6px 53.6px,#797dc4 53.6px 54.6px,#cab0cf 54.6px 55.6px,#de6f83 55.6px 56.6px,#e84e5d 56.6px 57.6px,#e35d6e 57.6px 58.6px,#e26273 58.6px 59.6px,#ec434f 59.6px 60.6px,#dd7185 60.6px 61.6px,#cfa0bd 61.6px 62.6px,#db788d 62.6px 63.6px,#d8839a 63.6px 64.6px,#d393ad 64.6px 65.6px,#da7d93 65.6px 66.6px,#e26374 66.6px 67.6px,#e36071 67.6px 68.6px,#df6d81 68.6px 69.6px,#dc7489 69.6px 70.6px,#de6e81 70.6px 71.6px,#d97e94 71.6px 72.6px,#d58ba3 72.6px 73.6px,#df6d81 73.6px 74.6px,#e65464 74.6px 75.6px,#d7879e 75.6px 76.6px,#de6f83 76.6px 77.6px,#e55a6a 77.6px 78.1px,#6d74c1 78.1px 79.1px,#a099cd 79.1px 80.1px,#9893cb 80.1px 81.1px,#b8aad2 81.1px 82.1px,#7177c2 82.1px 83.1px,#8183c6 83.1px 84.1px,#c9b3d2 84.1px 85.1px,#cea3c0 85.1px 86.1px,#a89fcf 86.1px 87.1px,#c5b4d5 87.1px 88.1px,#7b7ec4 88.1px 89.1px,#b7aad2 89.1px 90.1px,#9d97cc 90.1px 91.1px,#aca1cf 91.1px 92.1px,#646ebf 92.1px 93.1px,#9893cb 93.1px 94.1px,#aca2d0 94.1px 95.1px,#bcadd3 95.1px 96.1px,#d688a0 96.1px 97.1px,#d688a0 97.1px 98.1px,#dc778c 98.1px 99.1px,#e36071 99.1px 100.1px,#baacd3 100.1px 101.1px,#a9a0cf 101.1px 102.1px,#d294ae 102.1px 103.1px,#e26374 103.1px 104.1px,#e45c6d 104.1px 105.1px,#d97e95 105.1px 106.1px,#c9b3d2 106.1px 107.1px,#d8829a 107.1px 108.1px,#cca9c7 108.1px 109.1px,#da7b90 109.1px 110.1px,#d19bb6 110.1px 111.1px,#e36071 111.1px 112.1px,#c9b3d3 112.1px 113.1px,#e06779 113.1px 114.1px,#cbacca 114.1px 115.1px,#d98096 115.1px 116.1px,#d58ba4 116.1px 116.7px,#caafce 116.7px 117.7px,#b9abd3 117.7px 118.7px,#d58ba4 118.7px 119.7px,#d490a9 119.7px 120.7px,#d199b4 120.7px 121.7px,#de6f83 121.7px 122.7px,#da7d93 122.7px 123.7px,#dd7388 123.7px 124.7px,#cda7c4 124.7px 125.7px,#d58ba3 125.7px 126.7px,#d58ba4 126.7px 127.7px,#e16679 127.7px 128.7px,#e35e6f 128.7px 129.7px,#d296b0 129.7px 130.7px,#d7879f 130.7px 131.7px,#a59dce 131.7px 132.7px,#eb4653 132.7px 133.7px,#da7b90 133.7px 134.7px,#dc768b 134.7px 135.7px,#da7c91 135.7px 136.7px,#d58ba4 136.7px 137.7px,#bfafd4 137.7px 138.7px,#cea3c0 138.7px 139.3px,#9994cb 139.3px 140.3px,#aea4d0 140.3px 141.3px,#8d8cc8 141.3px 142.3px,#bfafd4 142.3px 143.3px,#cab0cf 143.3px 144.3px,#beaed4 144.3px 145.3px,#bcaed3 145.3px 146.3px,#db7a8f 146.3px 147.3px,#9994cb 147.3px 148.3px,#9e98cc 148.3px 149.3px,#ccaac8 149.3px 150.3px,#a9a0cf 150.3px 151.3px,#d48ea7 151.3px 152.3px,#9e98cc 152.3px 153.3px,#b7a9d2 153.3px 154.3px,#d48ea7 154.3px 155.3px,#7b7ec4 155.3px 156.3px,#cea3c0 156.3px 157.3px,#c2b2d5 157.3px 158.3px,#c0b0d4 158.3px 159.3px,#d198b3 159.3px 160.3px,#a19acd 160.3px 160.4px,#d88299 160.4px 161.4px,#cda5c3 161.4px 162.4px,#df6d80 162.4px 163.4px,#c0b0d4 163.4px 164.4px,#d198b3 164.4px 165.4px,#cda7c4 165.4px 166.4px,#c5b4d5 166.4px 167.4px,#dc768b 167.4px 168.4px,#cea3bf 168.4px 169.4px,#d8849b 169.4px 170.4px,#9792cb 170.4px 171.4px,#c8b6d6 171.4px 172.4px,#c8b5d5 172.4px 173.4px,#d68aa3 173.4px 174.4px,#b2a6d1 174.4px 175.4px,#d58ba4 175.4px 176.4px,#db778d 176.4px 177.4px,#d393ad 177.4px 178.4px,#d391ab 178.4px 179.4px,#cea2bf 179.4px 180.4px,#c9b2d1 180.4px 181.1px,#a39bcd 181.1px 182.1px,#aca2d0 182.1px 183.1px,#cda5c2 183.1px 184.1px,#aba1cf 184.1px 185.1px,#8989c7 185.1px 186.1px,#c3b3d5 186.1px 187.1px,#7d80c5 187.1px 188.1px,#5865bc 188.1px 189.1px,#9b95cc 189.1px 190.1px,#8989c7 190.1px 191.1px,#bcadd3 191.1px 192.1px,#a29acd 192.1px 193.1px,#7378c2 193.1px 194.1px,#8888c7 194.1px 195.1px,#908ec9 195.1px 196.1px,#d393ad 196.1px 197.1px,#7479c3 197.1px 198.1px,#7c7fc4 198.1px 199.1px,#cbadcc 199.1px 200.1px,#cda6c3 200.1px 201.1px,#9792cb 201.1px 202.1px,#cca9c7 202.1px 203.1px,#a099cd 203.1px 204.1px,#8183c6 204.1px 205.1px,#a099cd 205.1px 205.5px)"></div><div class="h" style="left:79.3px;top:481.9px;width:5.14px;height:205.5px;background:linear-gradient(180deg,#aaa0cf 0px 1px,#c0b0d4 1px 2px,#8082c5 2px 3px,#5764bc 3px 4px,#918ec9 4px 5px,#777bc3 5px 6px,#6f75c1 6px 7px,#9893cb 7px 8px,#908ec9 8px 9px,#5a66bd 9px 10px,#6e75c1 10px 11px,#bdaed3 11px 12px,#8082c5 12px 13px,#c9b2d2 13px 14px,#3e52b6 14px 15px,#5f6abe 15px 16px,#8988c7 16px 17px,#636dbf 17px 18px,#8e8cc9 18px 19px,#8b8ac8 19px 20px,#5563bb 20px 21px,#c9b2d1 21px 22px,#c9b4d3 22px 23px,#4859b8 23px 24px,#7d80c5 24px 25px,#cab1d0 25px 26px,#d294ae 26px 27px,#d296b0 27px 28px,#d48fa8 28px 29px,#e26476 29px 30px,#e26172 30px 31px,#d392ab 31px 32px,#db7a8f 32px 33px,#dd7286 33px 34px,#c4b3d5 34px 35px,#d7859c 35px 36px,#cca8c5 36px 37px,#e26274 37px 38px,#e35f70 38px 39px,#da7d93 39px 40px,#e55868 40px 41px,#d490aa 41px 41.6px,#6a72c0 41.6px 42.6px,#bbadd3 42.6px 43.6px,#8888c7 43.6px 44.6px,#9591ca 44.6px 45.6px,#5663bc 45.6px 46.6px,#a39bcd 46.6px 47.6px,#8585c6 47.6px 48.6px,#8384c6 48.6px 49.6px,#5f6abe 49.6px 50.6px,#6b73c0 50.6px 51.6px,#787cc3 51.6px 52.6px,#8e8cc8 52.6px 53.6px,#b8aad2 53.6px 54.6px,#4557b8 54.6px 55.6px,#c9b4d4 55.6px 56.6px,#cda6c3 56.6px 57.6px,#cf9fbb 57.6px 58.6px,#cea2bf 58.6px 59.6px,#cbadcb 59.6px 60.6px,#d09db9 60.6px 61.6px,#db7a8f 61.6px 62.6px,#d295af 62.6px 63.6px,#cda5c2 63.6px 64.6px,#dc7489 64.6px 65.6px,#d8839a 65.6px 66.6px,#cda7c4 66.6px 67.6px,#e26173 67.6px 68.6px,#d09db8 68.6px 69.6px,#cda7c4 69.6px 70.6px,#da7c92 70.6px 71.6px,#cea2bf 71.6px 72.6px,#cca8c5 72.6px 73.6px,#e45c6c 73.6px 74.6px,#d296b1 74.6px 75.6px,#cda6c4 75.6px 76.6px,#d88299 76.6px 77.6px,#d58ca5 77.6px 78.1px,#5965bc 78.1px 79.1px,#928fc9 79.1px 80.1px,#b6a9d2 80.1px 81.1px,#928fc9 81.1px 82.1px,#b4a8d1 82.1px 83.1px,#777bc3 83.1px 84.1px,#c3b2d5 84.1px 85.1px,#9691ca 85.1px 86.1px,#8787c7 86.1px 87.1px,#7479c2 87.1px 88.1px,#c6b5d6 88.1px 89.1px,#a19acd 89.1px 90.1px,#9490ca 90.1px 91.1px,#b0a5d0 91.1px 92.1px,#9d97cc 92.1px 93.1px,#9692ca 93.1px 94.1px,#b0a5d0 94.1px 95.1px,#928fc9 95.1px 96.1px,#e94c59 96.1px 97.1px,#ec424e 97.1px 98.1px,#cf9fbb 98.1px 99.1px,#e0687b 99.1px 100.1px,#dc768b 100.1px 101.1px,#e65564 101.1px 102.1px,#cda7c5 102.1px 103.1px,#ec424e 103.1px 104.1px,#e8505e 104.1px 105.1px,#ec424e 105.1px 106.1px,#eb4451 106.1px 107.1px,#d68aa2 107.1px 108.1px,#de6e81 108.1px 109.1px,#ec424e 109.1px 110.1px,#eb4551 110.1px 111.1px,#d88198 111.1px 112.1px,#e36072 112.1px 113.1px,#ec424e 113.1px 114.1px,#ec424e 114.1px 115.1px,#dc7489 115.1px 116.1px,#e45c6c 116.1px 116.7px,#de6e82 116.7px 117.7px,#d7879f 117.7px 118.7px,#d6879f 118.7px 119.7px,#e36072 119.7px 120.7px,#d98096 120.7px 121.7px,#d88299 121.7px 122.7px,#e55a6a 122.7px 123.7px,#e45b6b 123.7px 124.7px,#df6d81 124.7px 125.7px,#d58da6 125.7px 126.7px,#d199b4 126.7px 127.7px,#cea2bf 127.7px 128.7px,#d393ad 128.7px 129.7px,#dc758a 129.7px 130.7px,#cca9c7 130.7px 131.7px,#d09bb6 131.7px 132.7px,#cfa0bc 132.7px 133.7px,#db798f 133.7px 134.7px,#d58da6 134.7px 135.7px,#e84f5d 135.7px 136.7px,#e65564 136.7px 137.7px,#d97e94 137.7px 138.7px,#d8839b 138.7px 139.3px,#c4b3d5 139.3px 140.3px,#797dc4 140.3px 141.3px,#bfb0d4 141.3px 142.3px,#6b72c0 142.3px 143.3px,#8c8bc8 143.3px 144.3px,#a79ece 144.3px 145.3px,#a099cd 145.3px 146.3px,#5d69bd 146.3px 147.3px,#7c7fc4 147.3px 148.3px,#a099cd 148.3px 149.3px,#5e6abe 149.3px 150.3px,#cea3c0 150.3px 151.3px,#8082c5 151.3px 152.3px,#a099cd 152.3px 153.3px,#d8839a 153.3px 154.3px,#918ec9 154.3px 155.3px,#a59dce 155.3px 156.3px,#b1a5d1 156.3px 157.3px,#9591ca 157.3px 158.3px,#7479c3 158.3px 159.3px,#606bbe 159.3px 160.3px,#a49cce 160.3px 160.4px,#d48ea7 160.4px 161.4px,#e45c6d 161.4px 162.4px,#d88198 162.4px 163.4px,#dd7286 163.4px 164.4px,#cca9c6 164.4px 165.4px,#d391ab 165.4px 166.4px,#db798f 166.4px 167.4px,#d393ad 167.4px 168.4px,#dd7286 168.4px 169.4px,#d294af 169.4px 170.4px,#d490aa 170.4px 171.4px,#da7b91 171.4px 172.4px,#cbaccb 172.4px 173.4px,#ec424e 173.4px 174.4px,#cab0ce 174.4px 175.4px,#e55968 175.4px 176.4px,#e65666 176.4px 177.4px,#d48fa8 177.4px 178.4px,#db7a8f 178.4px 179.4px,#e0687b 179.4px 180.4px,#da7b91 180.4px 181.1px,#aaa0cf 181.1px 182.1px,#8585c6 182.1px 183.1px,#a59dce 183.1px 184.1px,#7d7fc5 184.1px 185.1px,#666fbf 185.1px 186.1px,#8989c7 186.1px 187.1px,#ada3d0 187.1px 188.1px,#9d97cc 188.1px 189.1px,#a099cd 189.1px 190.1px,#8384c6 190.1px 191.1px,#9792cb 191.1px 192.1px,#7379c2 192.1px 193.1px,#8d8bc8 193.1px 194.1px,#9591ca 194.1px 195.1px,#7378c2 195.1px 196.1px,#c9b4d4 196.1px 197.1px,#4859b8 197.1px 198.1px,#aaa0cf 198.1px 199.1px,#8585c6 199.1px 200.1px,#b8abd2 200.1px 201.1px,#7e80c5 201.1px 202.1px,#b1a5d1 202.1px 203.1px,#7479c3 203.1px 204.1px,#7479c2 204.1px 205.1px,#8988c7 205.1px 205.5px)"></div><div class="h" style="left:84.34px;top:481.9px;width:5.14px;height:205.5px;background:linear-gradient(180deg,#6e75c1 0px 1px,#4759b8 1px 2px,#9994cb 2px 3px,#4456b7 3px 4px,#636dbf 4px 5px,#7076c2 5px 6px,#6770c0 6px 7px,#9490ca 7px 8px,#495ab9 8px 9px,#918ec9 9px 10px,#9793cb 10px 11px,#6d74c1 11px 12px,#b7a9d2 12px 13px,#3e52b6 13px 14px,#5663bc 14px 15px,#3e52b6 15px 16px,#3e52b6 16px 17px,#3e52b6 17px 18px,#777bc3 18px 19px,#4255b7 19px 20px,#3e52b6 20px 21px,#6f75c1 21px 22px,#3e52b6 22px 23px,#5b67bd 23px 24px,#5865bc 24px 25px,#ec4450 25px 26px,#beafd4 26px 27px,#df6b7e 27px 28px,#ec424e 28px 29px,#de7185 29px 30px,#e0677a 30px 31px,#dd7388 31px 32px,#e65665 32px 33px,#e26375 33px 34px,#e45d6e 34px 35px,#d295b0 35px 36px,#dd7185 36px 37px,#e26173 37px 38px,#de7084 38px 39px,#e35f71 39px 40px,#e84f5d 40px 41px,#eb4653 41px 41.6px,#b5a8d1 41.6px 42.6px,#c2b2d5 42.6px 43.6px,#9d97cc 43.6px 44.6px,#9e98cc 44.6px 45.6px,#c8b6d6 45.6px 46.6px,#7c7fc4 46.6px 47.6px,#cca8c5 47.6px 48.6px,#8183c6 48.6px 49.6px,#a99fcf 49.6px 50.6px,#8e8cc9 50.6px 51.6px,#8b8ac8 51.6px 52.6px,#beafd4 52.6px 53.6px,#6a72c0 53.6px 54.6px,#cfa0bc 54.6px 55.6px,#a49cce 55.6px 56.6px,#d688a0 56.6px 57.6px,#cca8c6 57.6px 58.6px,#cca9c6 58.6px 59.6px,#d294af 59.6px 60.6px,#dc758a 60.6px 61.6px,#d199b4 61.6px 62.6px,#c8b6d6 62.6px 63.6px,#cf9fbb 63.6px 64.6px,#d97f96 64.6px 65.6px,#bdaed3 65.6px 66.6px,#d296b1 66.6px 67.6px,#db778c 67.6px 68.6px,#c9b3d2 68.6px 69.6px,#cea4c1 69.6px 70.6px,#d88198 70.6px 71.6px,#c9b2d1 71.6px 72.6px,#cfa0bc 72.6px 73.6px,#cca8c6 73.6px 74.6px,#d297b2 74.6px 75.6px,#b9abd2 75.6px 76.6px,#a39bcd 76.6px 77.6px,#da7c91 77.6px 78.1px,#7b7ec4 78.1px 79.1px,#757ac3 79.1px 80.1px,#bbacd3 80.1px 81.1px,#8384c6 81.1px 82.1px,#928fc9 82.1px 83.1px,#6e75c1 83.1px 84.1px,#8f8cc9 84.1px 85.1px,#a89fce 85.1px 86.1px,#c2b1d4 86.1px 87.1px,#b7a9d2 87.1px 88.1px,#6b72c0 88.1px 89.1px,#8c8bc8 89.1px 90.1px,#b3a7d1 90.1px 91.1px,#797cc4 91.1px 92.1px,#767bc3 92.1px 93.1px,#8d8bc8 93.1px 94.1px,#c4b3d5 94.1px 95.1px,#6d74c1 95.1px 96.1px,#e35f70 96.1px 97.1px,#e26173 97.1px 98.1px,#d48ea7 98.1px 99.1px,#cfa1bd 99.1px 100.1px,#d88299 100.1px 101.1px,#d7849c 101.1px 102.1px,#d58da6 102.1px 103.1px,#dc778c 103.1px 104.1px,#ec424e 104.1px 105.1px,#e55a6a 105.1px 106.1px,#e75160 106.1px 107.1px,#da7b90 107.1px 108.1px,#e75261 108.1px 109.1px,#d48fa8 109.1px 110.1px,#dd7185 110.1px 111.1px,#e75463 111.1px 112.1px,#ec424e 112.1px 113.1px,#e16779 113.1px 114.1px,#dd7488 114.1px 115.1px,#db7a90 115.1px 116.1px,#d297b2 116.1px 116.7px,#dc7589 116.7px 117.7px,#e75362 117.7px 118.7px,#dd7286 118.7px 119.7px,#d68aa3 119.7px 120.7px,#d490aa 120.7px 121.7px,#cda7c4 121.7px 122.7px,#e45c6c 122.7px 123.7px,#d688a0 123.7px 124.7px,#e26273 124.7px 125.7px,#cda5c2 125.7px 126.7px,#de7084 126.7px 127.7px,#de6e81 127.7px 128.7px,#d58da6 128.7px 129.7px,#d19ab5 129.7px 130.7px,#ec424e 130.7px 131.7px,#e75362 131.7px 132.7px,#e35e6f 132.7px 133.7px,#d09db9 133.7px 134.7px,#e55969 134.7px 135.7px,#dc7489 135.7px 136.7px,#e84f5d 136.7px 137.7px,#d58ca4 137.7px 138.7px,#d48fa8 138.7px 139.3px,#5f6abe 139.3px 140.3px,#4c5cb9 140.3px 141.3px,#4658b8 141.3px 142.3px,#787cc4 142.3px 143.3px,#8887c7 143.3px 144.3px,#c2b2d5 144.3px 145.3px,#cbadcb 145.3px 146.3px,#7177c2 146.3px 147.3px,#3e52b6 147.3px 148.3px,#938fca 148.3px 149.3px,#9692ca 149.3px 150.3px,#777bc3 150.3px 151.3px,#626cbe 151.3px 152.3px,#6c74c1 152.3px 153.3px,#8e8cc9 153.3px 154.3px,#8d8bc8 154.3px 155.3px,#4457b7 155.3px 156.3px,#8183c6 156.3px 157.3px,#5f6abe 157.3px 158.3px,#616bbe 158.3px 159.3px,#8a89c8 159.3px 160.3px,#666fbf 160.3px 160.4px,#d199b4 160.4px 161.4px,#8384c6 161.4px 162.4px,#d48fa8 162.4px 163.4px,#d199b4 163.4px 164.4px,#caafce 164.4px 165.4px,#c1b1d4 165.4px 166.4px,#a59cce 166.4px 167.4px,#b6a9d2 167.4px 168.4px,#e16679 168.4px 169.4px,#d393ad 169.4px 170.4px,#cea3c0 170.4px 171.4px,#c8b5d5 171.4px 172.4px,#c8b5d5 172.4px 173.4px,#b4a7d1 173.4px 174.4px,#d296b1 174.4px 175.4px,#d88299 175.4px 176.4px,#b9abd3 176.4px 177.4px,#d58ca5 177.4px 178.4px,#caafcd 178.4px 179.4px,#d295b0 179.4px 180.4px,#bfafd4 180.4px 181.1px,#b7a9d2 181.1px 182.1px,#cda7c5 182.1px 183.1px,#8283c6 183.1px 184.1px,#8d8bc8 184.1px 185.1px,#bdaed4 185.1px 186.1px,#7e80c5 186.1px 187.1px,#666fbf 187.1px 188.1px,#3e52b6 188.1px 189.1px,#8484c6 189.1px 190.1px,#c5b4d5 190.1px 191.1px,#7c7fc4 191.1px 192.1px,#918ec9 192.1px 193.1px,#3e52b6 193.1px 194.1px,#8585c6 194.1px 195.1px,#908ec9 195.1px 196.1px,#7d80c5 196.1px 197.1px,#8485c6 197.1px 198.1px,#6971c0 198.1px 199.1px,#7378c2 199.1px 200.1px,#c4b3d5 200.1px 201.1px,#6a72c0 201.1px 202.1px,#c8b5d5 202.1px 203.1px,#636dbf 203.1px 204.1px,#c8b5d5 204.1px 205.1px,#9390ca 205.1px 205.5px)"></div><div class="h" style="left:89.38px;top:481.9px;width:5.14px;height:205.5px;background:linear-gradient(180deg,#b1a5d1 0px 1px,#908ec9 1px 2px,#aca1cf 2px 3px,#d391ab 3px 4px,#4053b6 4px 5px,#8183c6 5px 6px,#a89fcf 6px 7px,#cbaecd 7px 8px,#6770c0 8px 9px,#9b96cc 9px 10px,#bbadd3 10px 11px,#8586c7 11px 12px,#9a95cb 12px 13px,#a39cce 13px 14px,#c0b0d4 14px 15px,#aaa0cf 15px 16px,#a99fcf 16px 17px,#8082c5 17px 18px,#8686c7 18px 19px,#d295b0 19px 20px,#6870c0 20px 21px,#8b8ac8 21px 22px,#7f81c5 22px 23px,#9c96cc 23px 24px,#777bc3 24px 25px,#e75160 25px 26px,#d88298 26px 27px,#da7c92 27px 28px,#d09bb7 28px 29px,#db798e 29px 30px,#d09db8 30px 31px,#dd7387 31px 32px,#e55969 32px 33px,#cfa0bc 33px 34px,#ec424e 34px 35px,#e84f5d 35px 36px,#e26374 36px 37px,#dc758a 37px 38px,#ea4855 38px 39px,#e45b6b 39px 40px,#dc778c 40px 41px,#e26476 41px 41.6px,#9e98cc 41.6px 42.6px,#797dc4 42.6px 43.6px,#cab0d0 43.6px 44.6px,#656ebf 44.6px 45.6px,#aaa0cf 45.6px 46.6px,#767ac3 46.6px 47.6px,#9793cb 47.6px 48.6px,#918ec9 48.6px 49.6px,#a099cd 49.6px 50.6px,#ccaac8 50.6px 51.6px,#8787c7 51.6px 52.6px,#afa4d0 52.6px 53.6px,#a9a0cf 53.6px 54.6px,#a49cce 54.6px 55.6px,#c8b5d5 55.6px 56.6px,#d490a9 56.6px 57.6px,#b6a9d2 57.6px 58.6px,#df6a7d 58.6px 59.6px,#e35f71 59.6px 60.6px,#d68aa2 60.6px 61.6px,#d97e95 61.6px 62.6px,#d490aa 62.6px 63.6px,#afa4d0 63.6px 64.6px,#d19ab5 64.6px 65.6px,#dd7185 65.6px 66.6px,#d392ac 66.6px 67.6px,#ccaac8 67.6px 68.6px,#8585c6 68.6px 69.6px,#df6d80 69.6px 70.6px,#e55a6a 70.6px 71.6px,#e65766 71.6px 72.6px,#ec424e 72.6px 73.6px,#a19acd 73.6px 74.6px,#d48fa8 74.6px 75.6px,#db7a8f 75.6px 76.6px,#cea2be 76.6px 77.6px,#d688a0 77.6px 78.1px,#beaed4 78.1px 79.1px,#7a7dc4 79.1px 80.1px,#a9a0cf 80.1px 81.1px,#6b73c0 81.1px 82.1px,#3e52b6 82.1px 83.1px,#928fc9 83.1px 84.1px,#a49cce 84.1px 85.1px,#a49cce 85.1px 86.1px,#b1a5d1 86.1px 87.1px,#6871c0 87.1px 88.1px,#aaa0cf 88.1px 89.1px,#3e52b6 89.1px 90.1px,#9893cb 90.1px 91.1px,#5c68bd 91.1px 92.1px,#918ec9 92.1px 93.1px,#616bbe 93.1px 94.1px,#9793cb 94.1px 95.1px,#b2a6d1 95.1px 96.1px,#df6c7f 96.1px 97.1px,#cea1be 97.1px 98.1px,#e26273 98.1px 99.1px,#d7869e 99.1px 100.1px,#e26273 100.1px 101.1px,#d391ab 101.1px 102.1px,#c9b3d3 102.1px 103.1px,#d58ea7 103.1px 104.1px,#cbaecd 104.1px 105.1px,#cab0cf 105.1px 106.1px,#a39bcd 106.1px 107.1px,#d68aa3 107.1px 108.1px,#e16476 108.1px 109.1px,#c9b4d4 109.1px 110.1px,#d297b2 110.1px 111.1px,#b9abd3 111.1px 112.1px,#d8839a 112.1px 113.1px,#df6c7f 113.1px 114.1px,#d392ab 114.1px 115.1px,#db798f 115.1px 116.1px,#db798e 116.1px 116.7px,#ada2d0 116.7px 117.7px,#cbadcb 117.7px 118.7px,#7278c2 118.7px 119.7px,#aea4d0 119.7px 120.7px,#baacd3 120.7px 121.7px,#cab1d0 121.7px 122.7px,#d09bb7 122.7px 123.7px,#aca2d0 123.7px 124.7px,#938fca 124.7px 125.7px,#a39bcd 125.7px 126.7px,#a89fcf 126.7px 127.7px,#918ec9 127.7px 128.7px,#7d80c5 128.7px 129.7px,#c0b0d4 129.7px 130.7px,#8585c6 130.7px 131.7px,#b3a7d1 131.7px 132.7px,#b4a8d1 132.7px 133.7px,#b2a6d1 133.7px 134.7px,#cda4c1 134.7px 135.7px,#c3b2d5 135.7px 136.7px,#bcadd3 136.7px 137.7px,#d296b0 137.7px 138.7px,#a69dce 138.7px 139.3px,#5160ba 139.3px 140.3px,#7177c2 140.3px 141.3px,#ada2d0 141.3px 142.3px,#5f6abe 142.3px 143.3px,#656ebf 143.3px 144.3px,#9994cb 144.3px 145.3px,#d09db9 145.3px 146.3px,#767bc3 146.3px 147.3px,#b1a5d1 147.3px 148.3px,#c2b2d5 148.3px 149.3px,#7177c2 149.3px 150.3px,#6c73c1 150.3px 151.3px,#7d80c5 151.3px 152.3px,#6b72c0 152.3px 153.3px,#8686c7 153.3px 154.3px,#5664bc 154.3px 155.3px,#7c7fc4 155.3px 156.3px,#8182c6 156.3px 157.3px,#ccaac7 157.3px 158.3px,#505fba 158.3px 159.3px,#8a89c8 159.3px 160.3px,#6770c0 160.3px 160.4px,#d392ac 160.4px 161.4px,#cf9fbb 161.4px 162.4px,#cbacca 162.4px 163.4px,#d198b3 163.4px 164.4px,#ccaac8 164.4px 165.4px,#d68aa3 165.4px 166.4px,#de7084 166.4px 167.4px,#d98097 167.4px 168.4px,#d48ea7 168.4px 169.4px,#da7b91 169.4px 170.4px,#d198b2 170.4px 171.4px,#d98198 171.4px 172.4px,#ec424e 172.4px 173.4px,#d8839a 173.4px 174.4px,#e84f5d 174.4px 175.4px,#db788d 175.4px 176.4px,#d09eba 176.4px 177.4px,#d6879f 177.4px 178.4px,#c9b2d2 178.4px 179.4px,#d97f95 179.4px 180.4px,#e0697c 180.4px 181.1px,#8f8dc9 181.1px 182.1px,#9f98cc 182.1px 183.1px,#8082c5 183.1px 184.1px,#6c74c1 184.1px 185.1px,#3e52b6 185.1px 186.1px,#908dc9 186.1px 187.1px,#a29acd 187.1px 188.1px,#9e98cc 188.1px 189.1px,#7379c2 189.1px 190.1px,#9490ca 190.1px 191.1px,#928fc9 191.1px 192.1px,#9692ca 192.1px 193.1px,#646dbf 193.1px 194.1px,#505fba 194.1px 195.1px,#3e52b6 195.1px 196.1px,#6c73c1 196.1px 197.1px,#6d74c1 197.1px 198.1px,#5c68bd 198.1px 199.1px,#8384c6 199.1px 200.1px,#495ab9 200.1px 201.1px,#8586c7 201.1px 202.1px,#b9abd2 202.1px 203.1px,#767ac3 203.1px 204.1px,#3e52b6 204.1px 205.1px,#7b7ec4 205.1px 205.5px)"></div><div class="h" style="left:94.42px;top:481.9px;width:5.14px;height:205.5px;background:linear-gradient(180deg,#de6e82 0px 1px,#e55a6a 1px 2px,#e16678 2px 3px,#de7084 3px 4px,#e75260 4px 5px,#ec424e 5px 6px,#e26173 6px 7px,#e55868 7px 8px,#d48ea7 8px 9px,#ec424e 9px 10px,#db788e 10px 11px,#e45b6b 11px 12px,#d68aa2 12px 13px,#e94c59 13px 14px,#db7a90 14px 15px,#e55a6a 15px 16px,#de7084 16px 17px,#e16678 17px 18px,#e0677a 18px 19px,#db788e 19px 20px,#e26273 20px 21px,#dc768b 21px 22px,#e16779 22px 23px,#e06a7c 23px 24px,#d97f95 24px 25px,#d58ca5 25px 26px,#d97f95 26px 27px,#d48ea7 27px 28px,#b6a9d2 28px 29px,#d88299 29px 30px,#db788d 30px 31px,#b1a5d1 31px 32px,#dd7286 32px 33px,#9793cb 33px 34px,#d689a1 34px 35px,#d97e94 35px 36px,#e06a7d 36px 37px,#e26375 37px 38px,#d7859c 38px 39px,#dc758a 39px 40px,#e26173 40px 41px,#e55969 41px 41.6px,#8686c7 41.6px 42.6px,#9a95cb 42.6px 43.6px,#4c5cb9 43.6px 44.6px,#5d68bd 44.6px 45.6px,#b0a4d0 45.6px 46.6px,#8b89c8 46.6px 47.6px,#4e5eba 47.6px 48.6px,#757ac3 48.6px 49.6px,#3e52b6 49.6px 50.6px,#787cc3 50.6px 51.6px,#a099cd 51.6px 52.6px,#3e52b6 52.6px 53.6px,#797dc4 53.6px 54.6px,#8888c7 54.6px 55.6px,#3e52b6 55.6px 56.6px,#3e52b6 56.6px 57.6px,#3e52b6 57.6px 58.6px,#3e52b6 58.6px 59.6px,#3e52b6 59.6px 60.6px,#3e52b6 60.6px 61.6px,#3e52b6 61.6px 62.6px,#3e52b6 62.6px 63.6px,#3e52b6 63.6px 64.6px,#3e52b6 64.6px 65.6px,#3e52b6 65.6px 66.6px,#3e52b6 66.6px 67.6px,#3e52b6 67.6px 68.6px,#3e52b6 68.6px 69.6px,#3e52b6 69.6px 70.6px,#3e52b6 70.6px 71.6px,#3e52b6 71.6px 72.6px,#3e52b6 72.6px 73.6px,#3e52b6 73.6px 74.6px,#3e52b6 74.6px 75.6px,#3e52b6 75.6px 76.6px,#3e52b6 76.6px 77.6px,#3e52b6 77.6px 78.1px,#ec424e 78.1px 79.1px,#ec424e 79.1px 80.1px,#db788e 80.1px 81.1px,#ec424e 81.1px 82.1px,#ec424e 82.1px 83.1px,#ec424e 83.1px 84.1px,#ec424e 84.1px 85.1px,#e84e5c 85.1px 86.1px,#ec424e 86.1px 87.1px,#ec424e 87.1px 88.1px,#ec424e 88.1px 89.1px,#dd7287 89.1px 90.1px,#e65666 90.1px 91.1px,#ec424e 91.1px 92.1px,#ec424e 92.1px 93.1px,#e45c6d 93.1px 94.1px,#e55868 94.1px 95.1px,#eb4552 95.1px 96.1px,#a59dce 96.1px 97.1px,#7479c3 97.1px 98.1px,#bbadd3 98.1px 99.1px,#caafcd 99.1px 100.1px,#8f8cc9 100.1px 101.1px,#c3b2d5 101.1px 102.1px,#5d69bd 102.1px 103.1px,#7177c2 103.1px 104.1px,#aea3d0 104.1px 105.1px,#b9abd3 105.1px 106.1px,#646ebf 106.1px 107.1px,#8686c7 107.1px 108.1px,#a99fcf 108.1px 109.1px,#9692ca 109.1px 110.1px,#7a7ec4 110.1px 111.1px,#9793cb 111.1px 112.1px,#b7aad2 112.1px 113.1px,#8485c6 113.1px 114.1px,#676fbf 114.1px 115.1px,#c8b5d4 115.1px 116.1px,#8686c7 116.1px 116.7px,#3e52b6 116.7px 117.7px,#626cbe 117.7px 118.7px,#7b7ec4 118.7px 119.7px,#8183c6 119.7px 120.7px,#7c7fc4 120.7px 121.7px,#5764bc 121.7px 122.7px,#656ebf 122.7px 123.7px,#6971c0 123.7px 124.7px,#9793cb 124.7px 125.7px,#646ebf 125.7px 126.7px,#3e52b6 126.7px 127.7px,#7f81c5 127.7px 128.7px,#5e69bd 128.7px 129.7px,#5260bb 129.7px 130.7px,#4f5eba 130.7px 131.7px,#767bc3 131.7px 132.7px,#5965bc 132.7px 133.7px,#636dbf 133.7px 134.7px,#5865bc 134.7px 135.7px,#7d80c5 135.7px 136.7px,#3e52b6 136.7px 137.7px,#6870c0 137.7px 138.7px,#6c73c1 138.7px 139.3px,#8686c7 139.3px 140.3px,#bfb0d4 140.3px 141.3px,#c6b5d6 141.3px 142.3px,#7c7fc4 142.3px 143.3px,#b6a9d2 143.3px 144.3px,#6c73c1 144.3px 145.3px,#cbabc9 145.3px 146.3px,#b6a9d2 146.3px 147.3px,#7379c2 147.3px 148.3px,#a79ece 148.3px 149.3px,#9c96cc 149.3px 150.3px,#797dc4 150.3px 151.3px,#5865bc 151.3px 152.3px,#8082c5 152.3px 153.3px,#aea3d0 153.3px 154.3px,#aca2d0 154.3px 155.3px,#9692cb 155.3px 156.3px,#9994cb 156.3px 157.3px,#656fbf 157.3px 158.3px,#7177c2 158.3px 159.3px,#8d8bc8 159.3px 160.3px,#7e81c5 160.3px 160.4px,#d199b4 160.4px 161.4px,#cea2bf 161.4px 162.4px,#e75362 162.4px 163.4px,#da7c92 163.4px 164.4px,#df6c7f 164.4px 165.4px,#d199b5 165.4px 166.4px,#cea2be 166.4px 167.4px,#e45c6c 167.4px 168.4px,#de6e82 168.4px 169.4px,#e45b6b 169.4px 170.4px,#d392ab 170.4px 171.4px,#d7869e 171.4px 172.4px,#de6f82 172.4px 173.4px,#d8829a 173.4px 174.4px,#e84e5c 174.4px 175.4px,#e84f5d 175.4px 176.4px,#d490aa 176.4px 177.4px,#e55867 177.4px 178.4px,#d97f95 178.4px 179.4px,#e45d6e 179.4px 180.4px,#df6c7f 180.4px 181.1px,#7f81c5 181.1px 182.1px,#918ec9 182.1px 183.1px,#cbaecc 183.1px 184.1px,#b1a5d1 184.1px 185.1px,#9893cb 185.1px 186.1px,#7b7ec4 186.1px 187.1px,#d09db8 187.1px 188.1px,#bdaed3 188.1px 189.1px,#9893cb 189.1px 190.1px,#a49cce 190.1px 191.1px,#8c8ac8 191.1px 192.1px,#a29acd 192.1px 193.1px,#b2a6d1 193.1px 194.1px,#908dc9 194.1px 195.1px,#8a89c8 195.1px 196.1px,#797dc4 196.1px 197.1px,#7378c2 197.1px 198.1px,#8988c7 198.1px 199.1px,#9b96cc 199.1px 200.1px,#3e52b6 200.1px 201.1px,#a9a0cf 201.1px 202.1px,#666fbf 202.1px 203.1px,#aea3d0 203.1px 204.1px,#b7aad2 204.1px 205.1px,#c4b3d5 205.1px 205.5px)"></div><div class="h" style="left:99.46px;top:481.9px;width:5.14px;height:205.5px;background:linear-gradient(180deg,#e7515f 0px 1px,#d97e94 1px 2px,#ec424e 2px 3px,#dc7489 3px 4px,#ec424e 4px 5px,#d98197 5px 6px,#e0687b 6px 7px,#d58ba4 7px 8px,#e16779 8px 9px,#e75261 9px 10px,#eb4754 10px 11px,#d19ab5 11px 12px,#dd7387 12px 13px,#d98197 13px 14px,#ec434f 14px 15px,#e45c6d 15px 16px,#ec434f 16px 17px,#e16577 17px 18px,#ec424e 18px 19px,#e35f70 19px 20px,#e8505e 20px 21px,#e8505e 21px 22px,#e45d6e 22px 23px,#d97f96 23px 24px,#de6f82 24px 25px,#e65665 25px 26px,#e55868 26px 27px,#d490a9 27px 28px,#dd7387 28px 29px,#c3b3d5 29px 30px,#e26374 30px 31px,#d689a1 31px 32px,#aca2cf 32px 33px,#cea4c1 33px 34px,#d490a9 34px 35px,#d393ad 35px 36px,#d688a0 36px 37px,#cea1be 37px 38px,#bcadd3 38px 39px,#e75362 39px 40px,#cda7c4 40px 41px,#cbabc9 41px 41.6px,#505fba 41.6px 42.6px,#7b7ec4 42.6px 43.6px,#b8aad2 43.6px 44.6px,#b7a9d2 44.6px 45.6px,#cbabc9 45.6px 46.6px,#7076c2 46.6px 47.6px,#8686c7 47.6px 48.6px,#bdaed3 48.6px 49.6px,#8283c6 49.6px 50.6px,#9994cb 50.6px 51.6px,#caafce 51.6px 52.6px,#626cbe 52.6px 53.6px,#616bbe 53.6px 54.6px,#a099cd 54.6px 55.6px,#d7849b 55.6px 56.6px,#db788d 56.6px 57.6px,#eb4754 57.6px 58.6px,#e26273 58.6px 59.6px,#ec424e 59.6px 60.6px,#d7869e 60.6px 61.6px,#df6d81 61.6px 62.6px,#e26374 62.6px 63.6px,#e26374 63.6px 64.6px,#cab0cf 64.6px 65.6px,#d392ab 65.6px 66.6px,#e35e6f 66.6px 67.6px,#cbadcb 67.6px 68.6px,#cda6c3 68.6px 69.6px,#d688a0 69.6px 70.6px,#d97f96 70.6px 71.6px,#e65564 71.6px 72.6px,#e45c6c 72.6px 73.6px,#d97f95 73.6px 74.6px,#d48ea8 74.6px 75.6px,#d48ea7 75.6px 76.6px,#ea4956 76.6px 77.6px,#e26375 77.6px 78.1px,#a89fcf 78.1px 79.1px,#4356b7 79.1px 80.1px,#495ab8 80.1px 81.1px,#b9abd3 81.1px 82.1px,#cfa0bc 82.1px 83.1px,#a59cce 83.1px 84.1px,#7378c2 84.1px 85.1px,#5160ba 85.1px 86.1px,#606bbe 86.1px 87.1px,#a19acd 87.1px 88.1px,#9d97cc 88.1px 89.1px,#787cc4 89.1px 90.1px,#aba1cf 90.1px 91.1px,#c9b3d2 91.1px 92.1px,#a59cce 92.1px 93.1px,#7d80c5 93.1px 94.1px,#656ebf 94.1px 95.1px,#8384c6 95.1px 96.1px,#7e81c5 96.1px 97.1px,#cea3bf 97.1px 98.1px,#8c8bc8 98.1px 99.1px,#cda5c3 99.1px 100.1px,#8787c7 100.1px 101.1px,#a59dce 101.1px 102.1px,#afa4d0 102.1px 103.1px,#9591ca 103.1px 104.1px,#a29acd 104.1px 105.1px,#a099cd 105.1px 106.1px,#9591ca 106.1px 107.1px,#a19acd 107.1px 108.1px,#c9b1d0 108.1px 109.1px,#d09db8 109.1px 110.1px,#9893cb 110.1px 111.1px,#cca9c7 111.1px 112.1px,#9b96cc 112.1px 113.1px,#a099cd 113.1px 114.1px,#aea3d0 114.1px 115.1px,#9b95cc 115.1px 116.1px,#c3b2d5 116.1px 116.7px,#606abe 116.7px 117.7px,#6c73c1 117.7px 118.7px,#787cc3 118.7px 119.7px,#5764bc 119.7px 120.7px,#5260bb 120.7px 121.7px,#7e80c5 121.7px 122.7px,#928fc9 122.7px 123.7px,#636dbf 123.7px 124.7px,#4a5ab9 124.7px 125.7px,#5563bb 125.7px 126.7px,#636dbe 126.7px 127.7px,#616cbe 127.7px 128.7px,#6870c0 128.7px 129.7px,#baacd3 129.7px 130.7px,#4355b7 130.7px 131.7px,#4557b8 131.7px 132.7px,#5865bc 132.7px 133.7px,#3e52b6 133.7px 134.7px,#938fca 134.7px 135.7px,#3e52b6 135.7px 136.7px,#4f5eba 136.7px 137.7px,#4759b8 137.7px 138.7px,#7a7dc4 138.7px 139.3px,#b1a6d1 139.3px 140.3px,#9e97cc 140.3px 141.3px,#a69dce 141.3px 142.3px,#c9b1d0 142.3px 143.3px,#c9b4d3 143.3px 144.3px,#d7879f 144.3px 145.3px,#9e97cc 145.3px 146.3px,#d294af 146.3px 147.3px,#d97f96 147.3px 148.3px,#caafce 148.3px 149.3px,#777bc3 149.3px 150.3px,#c2b2d5 150.3px 151.3px,#cea3bf 151.3px 152.3px,#ccaac8 152.3px 153.3px,#c2b1d5 153.3px 154.3px,#9893cb 154.3px 155.3px,#cbabc9 155.3px 156.3px,#c9b4d3 156.3px 157.3px,#beaed4 157.3px 158.3px,#757ac3 158.3px 159.3px,#cbabc9 159.3px 160.3px,#c3b2d5 160.3px 160.4px,#e55969 160.4px 161.4px,#d97e94 161.4px 162.4px,#ec424e 162.4px 163.4px,#e84f5d 163.4px 164.4px,#e26173 164.4px 165.4px,#d490aa 165.4px 166.4px,#d88299 166.4px 167.4px,#cea4c0 167.4px 168.4px,#e16578 168.4px 169.4px,#d88299 169.4px 170.4px,#db7a8f 170.4px 171.4px,#c4b3d5 171.4px 172.4px,#e16779 172.4px 173.4px,#d297b1 173.4px 174.4px,#c6b5d6 174.4px 175.4px,#ec424e 175.4px 176.4px,#ec424e 176.4px 177.4px,#dd7387 177.4px 178.4px,#c8b5d5 178.4px 179.4px,#dd7388 179.4px 180.4px,#e65565 180.4px 181.1px,#5e69bd 181.1px 182.1px,#a29bcd 182.1px 183.1px,#a69dce 183.1px 184.1px,#9691ca 184.1px 185.1px,#9994cb 185.1px 186.1px,#5563bb 186.1px 187.1px,#6b73c1 187.1px 188.1px,#5261bb 188.1px 189.1px,#4658b8 189.1px 190.1px,#9e98cc 190.1px 191.1px,#7479c2 191.1px 192.1px,#9f98cd 192.1px 193.1px,#757ac3 193.1px 194.1px,#5965bc 194.1px 195.1px,#b3a7d1 195.1px 196.1px,#aca2cf 196.1px 197.1px,#777cc3 197.1px 198.1px,#9390ca 198.1px 199.1px,#3e52b6 199.1px 200.1px,#6971c0 200.1px 201.1px,#b0a4d0 201.1px 202.1px,#8686c7 202.1px 203.1px,#7b7fc4 203.1px 204.1px,#b6a9d2 204.1px 205.1px,#b6a9d2 205.1px 205.5px)"></div><div class="h" style="left:104.5px;top:481.9px;width:5.35px;height:205.5px;background:linear-gradient(180deg,#757ac3 0px 1px,#8a89c8 1px 2px,#a59dce 2px 3px,#7277c2 3px 4px,#b1a5d1 4px 5px,#b5a9d2 5px 6px,#9e97cc 6px 7px,#636dbf 7px 8px,#9490ca 8px 9px,#9a95cb 9px 10px,#aaa0cf 10px 11px,#9a94cb 11px 12px,#8e8cc9 12px 13px,#cea4c1 13px 14px,#caafce 14px 15px,#8484c6 15px 16px,#6b72c0 16px 17px,#c5b4d5 17px 18px,#8183c6 18px 19px,#6e75c1 19px 20px,#a59dce 20px 21px,#6a72c0 21px 22px,#7d80c5 22px 23px,#9390ca 23px 24px,#9d97cc 24px 25px,#d297b1 25px 26px,#e26273 26px 27px,#de6e81 27px 28px,#ea4855 28px 29px,#dc7589 29px 30px,#da7b91 30px 31px,#e16578 31px 32px,#d68aa2 32px 33px,#e26274 33px 34px,#d198b2 34px 35px,#d296b0 35px 36px,#9b96cc 36px 37px,#cf9fbb 37px 38px,#db7a90 38px 39px,#dc758a 39px 40px,#d8829a 40px 41px,#db798f 41px 41.6px,#da7b91 41.6px 42.6px,#b4a7d1 42.6px 43.6px,#b7aad2 43.6px 44.6px,#aaa0cf 44.6px 45.6px,#c6b4d5 45.6px 46.6px,#8082c5 46.6px 47.6px,#c1b1d4 47.6px 48.6px,#d58ca5 48.6px 49.6px,#ccabc9 49.6px 50.6px,#caaecd 50.6px 51.6px,#908ec9 51.6px 52.6px,#787cc3 52.6px 53.6px,#aea3d0 53.6px 54.6px,#c2b2d5 54.6px 55.6px,#d19ab5 55.6px 56.6px,#d09bb7 56.6px 57.6px,#c9b2d1 57.6px 58.6px,#cca8c6 58.6px 59.6px,#e65464 59.6px 60.6px,#da7d93 60.6px 61.6px,#e16779 61.6px 62.6px,#d58ca5 62.6px 63.6px,#cea1be 63.6px 64.6px,#d295af 64.6px 65.6px,#dc778c 65.6px 66.6px,#d297b2 66.6px 67.6px,#e0697b 67.6px 68.6px,#dd7185 68.6px 69.6px,#caafce 69.6px 70.6px,#db798f 70.6px 71.6px,#dd7287 71.6px 72.6px,#ec424e 72.6px 73.6px,#cda7c5 73.6px 74.6px,#d48fa8 74.6px 75.6px,#d688a0 75.6px 76.6px,#d491aa 76.6px 77.6px,#e75160 77.6px 78.1px,#8a89c8 78.1px 79.1px,#aba1cf 79.1px 80.1px,#ccaac7 80.1px 81.1px,#d295b0 81.1px 82.1px,#bdaed3 82.1px 83.1px,#cea2bf 83.1px 84.1px,#a49cce 84.1px 85.1px,#cca9c7 85.1px 86.1px,#a69ece 86.1px 87.1px,#cea3c0 87.1px 88.1px,#767ac3 88.1px 89.1px,#cbadcb 89.1px 90.1px,#9994cb 90.1px 91.1px,#a29bcd 91.1px 92.1px,#aca2cf 92.1px 93.1px,#bcadd3 93.1px 94.1px,#a79ece 94.1px 95.1px,#7f81c5 95.1px 96.1px,#d97e95 96.1px 97.1px,#e45b6b 97.1px 98.1px,#e84e5c 98.1px 99.1px,#e06a7d 99.1px 100.1px,#e16476 100.1px 101.1px,#d8829a 101.1px 102.1px,#e65665 102.1px 103.1px,#dd7387 103.1px 104.1px,#d19ab5 104.1px 105.1px,#ec424e 105.1px 106.1px,#d97e94 106.1px 107.1px,#df6a7d 107.1px 108.1px,#ec424e 108.1px 109.1px,#da7d93 109.1px 110.1px,#cf9eba 110.1px 111.1px,#e65666 111.1px 112.1px,#e75261 112.1px 113.1px,#d97e94 113.1px 114.1px,#da7b91 114.1px 115.1px,#e94c59 115.1px 116.1px,#db7a8f 116.1px 116.7px,#da7b91 116.7px 117.7px,#d8849b 117.7px 118.7px,#ec424e 118.7px 119.7px,#cbaccb 119.7px 120.7px,#e45b6c 120.7px 121.7px,#d97f95 121.7px 122.7px,#ea4a57 122.7px 123.7px,#b2a6d1 123.7px 124.7px,#de6e82 124.7px 125.7px,#de7084 125.7px 126.7px,#ccaac8 126.7px 127.7px,#afa4d0 127.7px 128.7px,#ec424e 128.7px 129.7px,#df6c80 129.7px 130.7px,#d58ca5 130.7px 131.7px,#d297b2 131.7px 132.7px,#e36071 132.7px 133.7px,#e55a6a 133.7px 134.7px,#d48ea7 134.7px 135.7px,#db788d 135.7px 136.7px,#e94d5b 136.7px 137.7px,#d197b2 137.7px 138.7px,#e26173 138.7px 139.3px,#c8b6d6 139.3px 140.3px,#505fba 140.3px 141.3px,#656ebf 141.3px 142.3px,#d199b4 142.3px 143.3px,#918ec9 143.3px 144.3px,#c0b0d4 144.3px 145.3px,#a89ece 145.3px 146.3px,#bfafd4 146.3px 147.3px,#cab0cf 147.3px 148.3px,#cca8c5 148.3px 149.3px,#beafd4 149.3px 150.3px,#7177c2 150.3px 151.3px,#757ac3 151.3px 152.3px,#cf9fbb 152.3px 153.3px,#8082c5 153.3px 154.3px,#9490ca 154.3px 155.3px,#646ebf 155.3px 156.3px,#6d74c1 156.3px 157.3px,#8c8bc8 157.3px 158.3px,#b3a7d1 158.3px 159.3px,#9f98cc 159.3px 160.3px,#8b8ac8 160.3px 160.4px,#d297b2 160.4px 161.4px,#c9b4d4 161.4px 162.4px,#e16577 162.4px 163.4px,#cfa0bc 163.4px 164.4px,#e65665 164.4px 165.4px,#e26476 165.4px 166.4px,#c9b2d1 166.4px 167.4px,#dd7488 167.4px 168.4px,#e94c5a 168.4px 169.4px,#cea2bf 169.4px 170.4px,#de6f83 170.4px 171.4px,#e16678 171.4px 172.4px,#df6d81 172.4px 173.4px,#dc778c 173.4px 174.4px,#ec424e 174.4px 175.4px,#dd7286 175.4px 176.4px,#d297b2 176.4px 177.4px,#d394ae 177.4px 178.4px,#d58ea7 178.4px 179.4px,#d391ab 179.4px 180.4px,#d97e94 180.4px 181.1px,#646dbf 181.1px 182.1px,#d199b4 182.1px 183.1px,#a99fcf 183.1px 184.1px,#8d8bc8 184.1px 185.1px,#cbadcb 185.1px 186.1px,#cab1d0 186.1px 187.1px,#666fbf 187.1px 188.1px,#ada3d0 188.1px 189.1px,#7076c2 189.1px 190.1px,#7a7ec4 190.1px 191.1px,#ada2d0 191.1px 192.1px,#8e8cc8 192.1px 193.1px,#ada3d0 193.1px 194.1px,#8384c6 194.1px 195.1px,#b7aad2 195.1px 196.1px,#a99fcf 196.1px 197.1px,#5562bb 197.1px 198.1px,#9490ca 198.1px 199.1px,#4054b7 199.1px 200.1px,#6971c0 200.1px 201.1px,#a89fcf 201.1px 202.1px,#bdaed3 202.1px 203.1px,#6c73c1 203.1px 204.1px,#8384c6 204.1px 205.1px,#8b8ac8 205.1px 205.5px)"></div><div class="h" style="left:109.75px;top:481.9px;width:5.35px;height:205.5px;background:linear-gradient(180deg,#6f75c1 0px 1px,#caafce 1px 2px,#c2b2d5 2px 3px,#9e98cc 3px 4px,#8c8ac8 4px 5px,#9c96cc 5px 6px,#9692ca 6px 7px,#8485c6 7px 8px,#6971c0 8px 9px,#9591ca 9px 10px,#aaa0cf 10px 11px,#9793cb 11px 12px,#caafce 12px 13px,#5563bb 13px 14px,#8b8ac8 14px 15px,#b3a7d1 15px 16px,#c8b5d5 16px 17px,#9692ca 17px 18px,#a59cce 18px 19px,#a19acd 19px 20px,#aba1cf 20px 21px,#a099cd 21px 22px,#a39bcd 22px 23px,#beafd4 23px 24px,#9491ca 24px 25px,#d295b0 25px 26px,#c4b3d5 26px 27px,#cab0cf 27px 28px,#d199b4 28px 29px,#d88299 29px 30px,#cf9fbb 30px 31px,#e36072 31px 32px,#cda5c2 32px 33px,#d58da6 33px 34px,#cea2bf 34px 35px,#e0687b 35px 36px,#d09bb6 36px 37px,#c1b1d4 37px 38px,#cbabc9 38px 39px,#938fca 39px 40px,#da7c92 40px 41px,#ea4854 41px 41.6px,#8f8cc9 41.6px 42.6px,#b8aad2 42.6px 43.6px,#bfafd4 43.6px 44.6px,#928fca 44.6px 45.6px,#8384c6 45.6px 46.6px,#c9b3d2 46.6px 47.6px,#7177c2 47.6px 48.6px,#b2a6d1 48.6px 49.6px,#b0a5d1 49.6px 50.6px,#787cc4 50.6px 51.6px,#5260bb 51.6px 52.6px,#b9abd3 52.6px 53.6px,#9a94cb 53.6px 54.6px,#b4a8d1 54.6px 55.6px,#cda5c2 55.6px 56.6px,#d48fa9 56.6px 57.6px,#de6e81 57.6px 58.6px,#db798f 58.6px 59.6px,#da7b90 59.6px 60.6px,#d48fa8 60.6px 61.6px,#db798e 61.6px 62.6px,#db788d 62.6px 63.6px,#e16476 63.6px 64.6px,#dd7286 64.6px 65.6px,#de6f83 65.6px 66.6px,#d8839b 66.6px 67.6px,#ec424e 67.6px 68.6px,#cca8c5 68.6px 69.6px,#df6b7e 69.6px 70.6px,#aaa0cf 70.6px 71.6px,#d295af 71.6px 72.6px,#e35e6f 72.6px 73.6px,#baacd3 73.6px 74.6px,#e45b6b 74.6px 75.6px,#cda6c4 75.6px 76.6px,#df6b7e 76.6px 77.6px,#d294af 77.6px 78.1px,#8888c7 78.1px 79.1px,#8d8cc8 79.1px 80.1px,#beafd4 80.1px 81.1px,#9591ca 81.1px 82.1px,#c0b0d4 82.1px 83.1px,#a39bcd 83.1px 84.1px,#8183c6 84.1px 85.1px,#cca8c5 85.1px 86.1px,#8b8ac8 86.1px 87.1px,#9793cb 87.1px 88.1px,#cda7c4 88.1px 89.1px,#cda5c3 89.1px 90.1px,#afa4d0 90.1px 91.1px,#cab0ce 91.1px 92.1px,#baacd3 92.1px 93.1px,#7d80c5 93.1px 94.1px,#8c8bc8 94.1px 95.1px,#a79ece 95.1px 96.1px,#ec424e 96.1px 97.1px,#db7a90 97.1px 98.1px,#db798e 98.1px 99.1px,#d7859c 99.1px 100.1px,#de7084 100.1px 101.1px,#d6879f 101.1px 102.1px,#e45b6c 102.1px 103.1px,#e94d5b 103.1px 104.1px,#e16476 104.1px 105.1px,#cca9c7 105.1px 106.1px,#d198b3 106.1px 107.1px,#df6d80 107.1px 108.1px,#ec424e 108.1px 109.1px,#da7c91 109.1px 110.1px,#e8505f 110.1px 111.1px,#df6c80 111.1px 112.1px,#ec434f 112.1px 113.1px,#d490a9 113.1px 114.1px,#d490a9 114.1px 115.1px,#da7b91 115.1px 116.1px,#e16678 116.1px 116.7px,#dd7387 116.7px 117.7px,#ec424e 117.7px 118.7px,#df6b7e 118.7px 119.7px,#d09bb7 119.7px 120.7px,#e35e6f 120.7px 121.7px,#c7b6d6 121.7px 122.7px,#e36172 122.7px 123.7px,#da7b90 123.7px 124.7px,#d197b2 124.7px 125.7px,#d7879e 125.7px 126.7px,#d689a2 126.7px 127.7px,#e16678 127.7px 128.7px,#d97f95 128.7px 129.7px,#e65665 129.7px 130.7px,#d58da6 130.7px 131.7px,#ec424e 131.7px 132.7px,#ec424e 132.7px 133.7px,#e0697b 133.7px 134.7px,#ea4a57 134.7px 135.7px,#db798f 135.7px 136.7px,#e16779 136.7px 137.7px,#e16779 137.7px 138.7px,#c3b2d5 138.7px 139.3px,#c7b5d6 139.3px 140.3px,#767ac3 140.3px 141.3px,#8c8ac8 141.3px 142.3px,#8888c7 142.3px 143.3px,#bcaed3 143.3px 144.3px,#9a94cb 144.3px 145.3px,#9491ca 145.3px 146.3px,#9390ca 146.3px 147.3px,#8787c7 147.3px 148.3px,#c5b4d5 148.3px 149.3px,#7378c2 149.3px 150.3px,#a199cd 150.3px 151.3px,#9491ca 151.3px 152.3px,#9f98cd 152.3px 153.3px,#8485c6 153.3px 154.3px,#7d80c5 154.3px 155.3px,#b6a9d2 155.3px 156.3px,#b2a6d1 156.3px 157.3px,#7b7ec4 157.3px 158.3px,#626cbe 158.3px 159.3px,#8989c7 159.3px 160.3px,#a49cce 160.3px 160.4px,#cda6c4 160.4px 161.4px,#cda7c4 161.4px 162.4px,#9994cb 162.4px 163.4px,#d97f95 163.4px 164.4px,#cea2bf 164.4px 165.4px,#e06a7d 165.4px 166.4px,#dc778c 166.4px 167.4px,#d7849c 167.4px 168.4px,#d98097 168.4px 169.4px,#dc7489 169.4px 170.4px,#d98197 170.4px 171.4px,#db7a8f 171.4px 172.4px,#e26273 172.4px 173.4px,#d09db8 173.4px 174.4px,#c9b1d0 174.4px 175.4px,#d7859c 175.4px 176.4px,#d295af 176.4px 177.4px,#ea4855 177.4px 178.4px,#d58ba3 178.4px 179.4px,#ccaac8 179.4px 180.4px,#d7879f 180.4px 181.1px,#9a95cb 181.1px 182.1px,#ccaac8 182.1px 183.1px,#a89fcf 183.1px 184.1px,#c3b3d5 184.1px 185.1px,#a29bcd 185.1px 186.1px,#757ac3 186.1px 187.1px,#9692ca 187.1px 188.1px,#7f81c5 188.1px 189.1px,#d393ad 189.1px 190.1px,#cca8c6 190.1px 191.1px,#8887c7 191.1px 192.1px,#3e52b6 192.1px 193.1px,#8485c6 193.1px 194.1px,#928fc9 194.1px 195.1px,#7f81c5 195.1px 196.1px,#a89fcf 196.1px 197.1px,#aba1cf 197.1px 198.1px,#b9abd2 198.1px 199.1px,#b1a6d1 199.1px 200.1px,#8586c7 200.1px 201.1px,#8989c7 201.1px 202.1px,#b9abd2 202.1px 203.1px,#aba1cf 203.1px 204.1px,#4d5dba 204.1px 205.1px,#afa4d0 205.1px 205.5px)"></div>
<svg width="520" height="712" viewBox="0 0 520 712" font-family='"Liberation Sans", sans-serif' fill="#231f20">
<text x="13.4" y="17" font-size="12.3" fill="#000" font-weight="bold">A</text>
<path d="M89.1 66.1 L89.9 71.2 L90.8 77.3 L91.4 84 L91.2 90.3 L93 93.3 L97.3 95.5 L100.8 96.2 L105.1 95.7 L110.3 93.9 L114.3 90.5 L114.6 86 L112.9 77.3 L111.4 69.5 L110.8 64 L106.8 66 L104.5 78 L100.9 93.6 L98 80 L94.7 66.5 L93 62 L90 61Z" fill="#111"/>
<path d="M86.85 68.09h1v1h-1zM90.17 81.27h0.8v0.8h-0.8zM88.34 80.59h0.8v0.8h-0.8zM87.49 66.52h1v1h-1zM88.11 78.39h0.8v0.8h-0.8zM88.43 67.89h0.8v0.8h-0.8zM86.69 89.51h0.8v0.8h-0.8zM88.34 65.42h0.8v0.8h-0.8zM84.38 70.24h1v1h-1zM89.75 80.22h1v1h-1zM88.8 84.28h1v1h-1zM91.15 92.78h0.8v0.8h-0.8zM89.76 89.88h0.8v0.8h-0.8zM88.52 68.77h1v1h-1zM89.35 86.49h1v1h-1zM88.55 79.52h1v1h-1zM87.49 79.86h0.8v0.8h-0.8zM88.71 89.12h0.8v0.8h-0.8zM89.58 83.75h0.8v0.8h-0.8zM88.21 84.27h0.8v0.8h-0.8zM88.83 81.52h0.8v0.8h-0.8zM88.65 62.16h1v1h-1zM87.96 63.01h0.8v0.8h-0.8zM86.26 60.68h1v1h-1zM90.49 86.14h0.8v0.8h-0.8zM89.28 72.85h1v1h-1zM88.77 78.73h0.8v0.8h-0.8zM92.98 93.95h1v1h-1zM86.29 60.25h0.8v0.8h-0.8zM90.51 93.03h1v1h-1zM90.38 80.76h1v1h-1zM88.9 70.67h0.8v0.8h-0.8zM88.93 90.49h1v1h-1zM88.91 81.89h0.8v0.8h-0.8zM87.96 81.08h1v1h-1zM89.75 81.57h0.8v0.8h-0.8zM89.97 91.84h1v1h-1zM89.85 78.65h0.8v0.8h-0.8zM88.76 86.81h1v1h-1zM90.65 80.94h0.8v0.8h-0.8zM86.77 62.04h1v1h-1zM88.71 80.7h1v1h-1zM90.16 85.09h0.8v0.8h-0.8zM92.24 92.75h1v1h-1zM89.8 81.35h0.8v0.8h-0.8zM86.41 72.37h1v1h-1zM89.91 85.78h1v1h-1zM87.11 63.57h0.8v0.8h-0.8zM91.98 93.03h0.8v0.8h-0.8zM89.68 82.23h1v1h-1zM88.19 68.12h0.8v0.8h-0.8zM86.23 63.46h1v1h-1zM91.24 92.27h0.8v0.8h-0.8zM87.15 62.72h0.8v0.8h-0.8zM89.14 90.09h0.8v0.8h-0.8zM88.24 61.15h0.8v0.8h-0.8zM87.79 70.71h1v1h-1zM86.74 71.56h0.8v0.8h-0.8zM90.22 87.41h1v1h-1zM89.4 77.63h1v1h-1zM88.85 75.8h1v1h-1zM87.19 61.21h1v1h-1zM82.72 65.3h1v1h-1zM90.47 79h0.8v0.8h-0.8zM84.61 61.1h1v1h-1zM89.44 78.49h0.8v0.8h-0.8zM86.59 89.29h0.8v0.8h-0.8zM85.6 87.55h0.8v0.8h-0.8zM87.78 61.19h0.8v0.8h-0.8zM88.07 90.48h1v1h-1zM86.42 79.62h0.8v0.8h-0.8zM90.12 77.11h0.8v0.8h-0.8zM88.32 82.54h0.8v0.8h-0.8zM89.24 71.61h1v1h-1zM87.96 93.05h0.8v0.8h-0.8zM88.5 71.96h0.8v0.8h-0.8zM87.82 64.16h0.8v0.8h-0.8zM90.16 86.92h0.8v0.8h-0.8zM87.32 88h1v1h-1zM88.63 61.7h1v1h-1zM86.97 68.44h0.8v0.8h-0.8zM88.19 76.08h0.8v0.8h-0.8zM90.81 89.14h0.8v0.8h-0.8zM88.01 62.33h0.8v0.8h-0.8zM88.31 89.05h1v1h-1zM87.37 65.34h0.8v0.8h-0.8zM87.62 71.94h1v1h-1zM86.6 69.01h1v1h-1zM89.95 74.58h1v1h-1zM90.85 87.04h0.8v0.8h-0.8zM85.14 61.46h1v1h-1zM89.97 81.65h0.8v0.8h-0.8zM88.57 81.18h1v1h-1zM90 85.84h1v1h-1zM89.06 74.3h0.8v0.8h-0.8zM86.47 67.43h1v1h-1zM88.6 83.64h1v1h-1zM87.66 64.43h0.8v0.8h-0.8zM87.92 91.84h1v1h-1zM84.87 64.13h0.8v0.8h-0.8zM91.29 91.93h1v1h-1zM85.95 82.7h1v1h-1zM87.91 79.17h0.8v0.8h-0.8zM88.23 76.1h0.8v0.8h-0.8zM89.93 86.33h0.8v0.8h-0.8zM90.64 82.41h1v1h-1zM84.1 66.09h0.8v0.8h-0.8zM88.07 60.87h0.8v0.8h-0.8zM87.69 82.9h1v1h-1zM85.5 87.16h0.8v0.8h-0.8zM90.88 93.87h0.8v0.8h-0.8zM87.56 63.63h0.8v0.8h-0.8zM89.65 91.78h0.8v0.8h-0.8zM90.11 88.15h0.8v0.8h-0.8zM92.22 93.94h1v1h-1zM87.04 68.6h1v1h-1zM85.52 91.92h1v1h-1zM88.1 77.01h1v1h-1zM88.32 88.68h1v1h-1zM88.39 65.31h1v1h-1zM90.34 90.51h1v1h-1zM90.48 91.16h1v1h-1zM89.85 79.94h0.8v0.8h-0.8zM87.81 64.98h1v1h-1zM89.87 91.78h1v1h-1zM88.4 82.83h1v1h-1zM84.33 80.24h0.8v0.8h-0.8zM85.73 70.45h1v1h-1zM89.17 76.3h1v1h-1zM88.18 68.12h1v1h-1zM86.07 86.32h1v1h-1zM84.81 83.85h0.8v0.8h-0.8zM87.85 75.91h0.8v0.8h-0.8zM86.2 76.36h0.8v0.8h-0.8zM87.51 89.13h0.8v0.8h-0.8zM87.81 75.89h0.8v0.8h-0.8zM88.21 90.29h0.8v0.8h-0.8zM88.66 92.6h1v1h-1zM88.53 68.23h0.8v0.8h-0.8zM88.98 81.14h0.8v0.8h-0.8zM90.91 90.59h1v1h-1zM83.85 66.23h0.8v0.8h-0.8zM90.09 84.78h1v1h-1zM88.21 61.23h1v1h-1zM90.58 79.73h1v1h-1zM89.34 71.27h1v1h-1zM89.53 76.52h1v1h-1zM86.57 73.29h1v1h-1zM88.21 64.05h0.8v0.8h-0.8zM86.35 74.91h1v1h-1zM113.13 63.29h1v1h-1zM115.33 85.75h1v1h-1zM116.97 82.54h1v1h-1zM116.49 63.64h1v1h-1zM115.13 82.88h1v1h-1zM113.01 77.3h0.8v0.8h-0.8zM115.66 84.42h0.8v0.8h-0.8zM116.87 81.96h0.8v0.8h-0.8zM113.98 66.09h0.8v0.8h-0.8zM113.21 63.68h0.8v0.8h-0.8zM115.64 91.31h1v1h-1zM116.21 78.87h0.8v0.8h-0.8zM113.03 75.56h0.8v0.8h-0.8zM112.21 63.65h0.8v0.8h-0.8zM118.76 85.65h1v1h-1zM111.83 63.4h1v1h-1zM112.45 73.03h1v1h-1zM111.67 68.4h1v1h-1zM117.02 89.76h0.8v0.8h-0.8zM112.71 72h0.8v0.8h-0.8zM114.3 65.15h0.8v0.8h-0.8zM113.12 66.28h0.8v0.8h-0.8zM114.43 79.28h0.8v0.8h-0.8zM115.7 80.13h0.8v0.8h-0.8zM115.23 89.22h0.8v0.8h-0.8zM116.45 79.32h0.8v0.8h-0.8zM115.76 89.53h1v1h-1zM115.82 90.3h1v1h-1zM113.44 70.74h1v1h-1zM112.24 93.22h1v1h-1zM114.45 90.45h0.8v0.8h-0.8zM114.75 84.71h0.8v0.8h-0.8zM110.68 63.65h0.8v0.8h-0.8zM114.84 77.8h1v1h-1zM111.29 66.76h1v1h-1zM112.49 63.79h1v1h-1zM112.8 92.61h0.8v0.8h-0.8zM114.41 81.19h0.8v0.8h-0.8zM113.05 60.87h1v1h-1zM115.15 78.32h1v1h-1zM114.45 70.99h0.8v0.8h-0.8zM113.73 62.74h0.8v0.8h-0.8zM114.24 84.34h0.8v0.8h-0.8zM115.28 91.68h0.8v0.8h-0.8zM112.37 74.86h0.8v0.8h-0.8zM117.57 86.75h1v1h-1zM111.11 62.65h1v1h-1zM114.05 76.09h0.8v0.8h-0.8zM116.47 78.27h1v1h-1zM112.51 60.79h1v1h-1zM115.79 85.74h0.8v0.8h-0.8zM115.13 84.47h1v1h-1zM116.72 88.86h1v1h-1zM111.85 67.61h0.8v0.8h-0.8zM114.46 87.34h1v1h-1zM115.55 78.15h0.8v0.8h-0.8zM112.3 67.12h0.8v0.8h-0.8zM116.05 81.65h0.8v0.8h-0.8zM112.2 63.74h0.8v0.8h-0.8zM117.06 88.61h1v1h-1zM115.95 75.23h0.8v0.8h-0.8zM113.44 68.13h0.8v0.8h-0.8zM119.13 73.48h0.8v0.8h-0.8zM112.27 68.21h1v1h-1zM114.47 76.14h1v1h-1zM116.84 91.03h0.8v0.8h-0.8zM116.31 87.45h1v1h-1zM121.98 86.84h1v1h-1zM113.21 76.61h1v1h-1zM113.76 81.39h1v1h-1zM114.25 70.78h0.8v0.8h-0.8zM114.3 80.14h0.8v0.8h-0.8zM110.83 63.56h0.8v0.8h-0.8zM113.02 76.38h0.8v0.8h-0.8zM115.18 82.25h1v1h-1zM112.69 71.56h1v1h-1zM113.97 91.19h1v1h-1zM114.58 85.55h1v1h-1zM112.07 62.98h0.8v0.8h-0.8zM117.94 77.25h1v1h-1zM113.39 78.24h1v1h-1zM117.04 88.41h1v1h-1zM114.93 91.4h0.8v0.8h-0.8zM114.48 75.11h1v1h-1zM113.07 71.74h1v1h-1zM115.01 92.28h0.8v0.8h-0.8zM110.88 65.23h1v1h-1zM111.19 63.13h0.8v0.8h-0.8zM115.53 70.88h0.8v0.8h-0.8zM117.12 89.87h0.8v0.8h-0.8zM115.94 75.3h1v1h-1zM112.85 93.9h0.8v0.8h-0.8zM116.24 62.45h0.8v0.8h-0.8zM115.72 71.51h1v1h-1zM114.14 63.74h0.8v0.8h-0.8zM115.86 83.4h0.8v0.8h-0.8zM117.63 91.81h0.8v0.8h-0.8zM117.38 67.82h0.8v0.8h-0.8zM113.68 67.48h1v1h-1zM115.46 86.81h0.8v0.8h-0.8zM113.01 75.89h0.8v0.8h-0.8zM113.86 80.34h0.8v0.8h-0.8zM111.83 66.77h1v1h-1zM112.72 73.57h0.8v0.8h-0.8zM113.99 81.82h1v1h-1zM117.67 73.7h1v1h-1zM116.12 86.45h1v1h-1zM120.8 87.7h0.8v0.8h-0.8zM112.96 63.98h0.8v0.8h-0.8zM111.72 71.61h0.8v0.8h-0.8zM115.74 76.47h1v1h-1zM113.68 74.38h0.8v0.8h-0.8zM113.93 80.6h0.8v0.8h-0.8zM114.1 71.4h1v1h-1zM112.26 74.93h0.8v0.8h-0.8zM116.62 84.7h1v1h-1zM115.57 91.67h0.8v0.8h-0.8zM114.51 90.71h1v1h-1zM112.96 76.46h0.8v0.8h-0.8zM114.11 69.93h0.8v0.8h-0.8zM114.54 66.28h1v1h-1zM115.21 77.12h0.8v0.8h-0.8zM118.05 81.73h1v1h-1zM113.76 76.72h0.8v0.8h-0.8zM111.86 71.72h1v1h-1zM115.33 64.86h1v1h-1zM112.28 70.18h0.8v0.8h-0.8zM113.16 76.57h1v1h-1zM116.6 93.2h1v1h-1zM113 92.06h1v1h-1zM114.74 70.61h0.8v0.8h-0.8zM112.51 72.23h1v1h-1zM116.93 69.7h1v1h-1zM115.63 85.42h0.8v0.8h-0.8zM111.7 60.49h0.8v0.8h-0.8zM111.93 65.63h0.8v0.8h-0.8zM115.54 60.07h1v1h-1zM111.32 93.3h1v1h-1zM112.56 93.29h0.8v0.8h-0.8zM111.58 69.41h1v1h-1zM118.31 88.41h1v1h-1zM114.51 70.59h0.8v0.8h-0.8zM118.27 82.85h1v1h-1zM110.64 61.5h1v1h-1zM112.28 61.27h0.8v0.8h-0.8zM111.88 92.42h1v1h-1zM114.43 77.3h1v1h-1zM113.7 60.57h0.8v0.8h-0.8zM114.32 60.58h1v1h-1zM117.1 75.89h1v1h-1zM93.07 59.23h1v1h-1zM91.13 67.04h1v1h-1zM94.36 57.13h1v1h-1zM93.08 55.53h1v1h-1zM90.83 61.17h1v1h-1zM92.45 67.74h1v1h-1zM89.27 56.4h1v1h-1zM90.64 66.4h1v1h-1zM90.2 61.51h1v1h-1zM91.02 56.45h1v1h-1zM92.59 66.85h1v1h-1zM89.14 64.35h1v1h-1zM93.73 56.85h1v1h-1zM87.63 67.83h1v1h-1zM90.47 64.72h1v1h-1zM90.73 57.83h1v1h-1zM84.38 67.73h1v1h-1zM90.83 60.64h1v1h-1zM93.6 60.58h1v1h-1zM88.92 59.56h1v1h-1zM90.63 62.05h1v1h-1zM90.62 60.37h1v1h-1zM87.56 59.2h1v1h-1zM90.69 58.88h1v1h-1zM93.33 51.5h1v1h-1zM90.23 45.45h1v1h-1zM85.37 66.9h1v1h-1zM92.81 58.46h1v1h-1zM94.02 55.74h1v1h-1zM85.12 52.28h1v1h-1zM89.26 54.37h1v1h-1zM93.61 44.5h1v1h-1zM90.59 60.77h1v1h-1zM89.32 62.81h1v1h-1zM90.15 62.56h1v1h-1zM93.79 59.72h1v1h-1zM86.87 64.28h1v1h-1zM90.24 67.06h1v1h-1zM91.19 63.59h1v1h-1zM88.15 62.56h1v1h-1zM88.72 65.17h1v1h-1zM92.91 61.37h1v1h-1zM91.7 64.39h1v1h-1zM86.85 66.27h1v1h-1zM90.63 67.14h1v1h-1zM90.91 64.47h1v1h-1zM92.83 65.53h1v1h-1zM88.45 56.68h1v1h-1zM89.85 66.99h1v1h-1zM91.21 64.56h1v1h-1zM90.15 64.75h1v1h-1zM88.18 49.69h1v1h-1zM93.53 54.14h1v1h-1zM90.84 53.46h1v1h-1zM88.87 50.67h1v1h-1zM91.09 59.39h1v1h-1zM89.39 60.53h1v1h-1zM92.67 62.12h1v1h-1zM93.36 56.72h1v1h-1zM94.79 63.77h1v1h-1zM87.46 67.88h1v1h-1zM84.12 53.63h1v1h-1zM95.24 60.97h1v1h-1zM92.98 59.64h1v1h-1zM91.45 56.36h1v1h-1zM93.52 62.86h1v1h-1zM91.28 65.48h1v1h-1zM92.22 58.41h1v1h-1zM93.29 58.21h1v1h-1zM93.31 66.42h1v1h-1zM88.7 61.02h1v1h-1zM88.87 62.67h1v1h-1zM91.05 56.84h1v1h-1zM86.96 60.14h1v1h-1zM85.08 63.46h1v1h-1zM87.28 66.61h1v1h-1zM87.45 64.99h1v1h-1zM89.62 60.52h1v1h-1zM93.71 62.96h1v1h-1zM99.69 62.7h1v1h-1zM87.75 67.1h1v1h-1zM90.94 61.5h1v1h-1zM91.97 62.44h1v1h-1zM88.19 66.65h1v1h-1zM87.5 60.05h1v1h-1zM89.97 65.07h1v1h-1zM91.88 58.12h1v1h-1zM88.41 62.26h1v1h-1zM92.93 67.25h1v1h-1zM91.15 67.14h1v1h-1zM89.91 64.97h1v1h-1zM90.06 63.5h1v1h-1zM87.04 67h1v1h-1zM89.83 66.71h1v1h-1zM92.08 61.99h1v1h-1zM92.44 49.76h1v1h-1zM88.71 66.33h1v1h-1zM90.08 60.05h1v1h-1zM90 64.72h1v1h-1zM90.01 49.27h1v1h-1zM93.1 65.56h1v1h-1zM90.68 67.29h1v1h-1zM87.41 67.18h1v1h-1zM90.98 59.95h1v1h-1zM84.7 65.08h1v1h-1zM92.66 66.11h1v1h-1zM88.19 58.73h1v1h-1zM89.06 62.23h1v1h-1zM91.97 63.05h1v1h-1zM89.51 63.75h1v1h-1zM84.73 48.68h0.9v0.9h-0.9zM81.43 79.8h0.9v0.9h-0.9zM76.6 59.14h0.9v0.9h-0.9zM83.39 63.63h0.9v0.9h-0.9zM83.9 47h0.9v0.9h-0.9zM86 69.3h0.9v0.9h-0.9zM82.46 87.48h0.9v0.9h-0.9zM84.73 72.02h0.9v0.9h-0.9zM83.58 77.28h0.9v0.9h-0.9zM82.44 83.86h0.9v0.9h-0.9zM81.15 77.3h0.9v0.9h-0.9zM86.86 56.22h0.9v0.9h-0.9zM82.34 85.63h0.9v0.9h-0.9zM82.28 73h0.9v0.9h-0.9zM84.16 72.21h0.9v0.9h-0.9zM81.93 56.13h0.9v0.9h-0.9zM83.69 72.42h0.9v0.9h-0.9zM82.81 65.9h0.9v0.9h-0.9zM81.37 85.14h0.9v0.9h-0.9zM82.91 81.45h0.9v0.9h-0.9zM84.77 49h0.9v0.9h-0.9zM79.3 85.91h0.9v0.9h-0.9zM81.65 59.8h0.9v0.9h-0.9zM85.02 88.03h0.9v0.9h-0.9zM81.19 51.33h0.9v0.9h-0.9zM82.11 69.4h0.9v0.9h-0.9zM81.25 69.1h0.9v0.9h-0.9zM85 55.74h0.9v0.9h-0.9zM79.96 83.01h0.9v0.9h-0.9zM81.21 66.29h0.9v0.9h-0.9zM82.22 62.35h0.9v0.9h-0.9zM78.73 71.48h0.9v0.9h-0.9zM83.85 64.68h0.9v0.9h-0.9zM81.89 45.18h0.9v0.9h-0.9zM85.34 62.84h0.9v0.9h-0.9zM81.87 82.11h0.9v0.9h-0.9zM83.06 55.77h0.9v0.9h-0.9zM81.04 52.34h0.9v0.9h-0.9zM81.5 84h0.9v0.9h-0.9zM79.77 51.84h0.9v0.9h-0.9zM83.3 58.35h0.9v0.9h-0.9zM84.78 57.28h0.9v0.9h-0.9zM86.49 42.64h0.9v0.9h-0.9zM82.24 50.38h0.9v0.9h-0.9zM83.62 55.19h0.9v0.9h-0.9zM109.32 61.55h1v1h-1zM112.64 67.12h1v1h-1zM112.04 57.39h1v1h-1zM107.26 49.9h1v1h-1zM109.72 64.89h1v1h-1zM110.51 64.58h1v1h-1zM114.99 56.99h1v1h-1zM110.91 60.95h1v1h-1zM113.23 67.39h1v1h-1zM108.23 54.99h1v1h-1zM108.61 61.21h1v1h-1zM108.25 58.93h1v1h-1zM107.55 66.87h1v1h-1zM114 54.24h1v1h-1zM112.68 59.74h1v1h-1zM110.22 62.96h1v1h-1zM113.13 57.98h1v1h-1zM110.24 59.96h1v1h-1zM114.24 63h1v1h-1zM114.35 62.52h1v1h-1zM108.54 65.12h1v1h-1zM108.91 55.44h1v1h-1zM107.96 36.8h1v1h-1zM110.35 59.24h1v1h-1zM110.04 59.09h1v1h-1zM115.62 56.96h1v1h-1zM114.48 59.96h1v1h-1zM106.43 62.2h1v1h-1zM108.78 60.65h1v1h-1zM112.62 62.62h1v1h-1zM113.77 58.88h1v1h-1zM110.85 46.9h1v1h-1zM115.23 57.66h1v1h-1zM107.52 45.31h1v1h-1zM104.67 66.68h1v1h-1zM108.61 62.34h1v1h-1zM110.79 64.27h1v1h-1zM110.93 51.83h1v1h-1zM110.68 61.1h1v1h-1zM109.99 62.79h1v1h-1zM108.4 66.08h1v1h-1zM110.47 58.03h1v1h-1zM106.68 59.2h1v1h-1zM111.8 65.66h1v1h-1zM111.87 58.74h1v1h-1zM110.25 62.37h1v1h-1zM108.2 63.1h1v1h-1zM110.99 54.71h1v1h-1zM115.99 47.2h1v1h-1zM111.55 62.21h1v1h-1zM109.81 58.72h1v1h-1zM116.54 59h1v1h-1zM112.38 52.95h1v1h-1zM114.37 64.23h1v1h-1zM116.01 66.94h1v1h-1zM112.09 53.11h1v1h-1zM101.05 65.24h1v1h-1zM116.1 65.75h1v1h-1zM108.35 48.9h1v1h-1zM107.67 63.41h1v1h-1zM114.86 61.71h1v1h-1zM110.78 66.25h1v1h-1zM113 58.82h1v1h-1zM114.83 63.96h1v1h-1zM117.16 65.49h1v1h-1zM115.01 67.8h1v1h-1zM112.81 53.77h1v1h-1zM109.98 50.08h1v1h-1zM108.65 60.72h1v1h-1zM114.44 56.85h1v1h-1zM113.15 65.57h1v1h-1zM112.7 62.33h1v1h-1zM109.13 66.7h1v1h-1zM113.65 63.66h1v1h-1zM113.56 60.72h1v1h-1zM111.42 50.16h1v1h-1zM115.74 62.9h1v1h-1zM115.59 59.27h1v1h-1zM108.83 57.53h1v1h-1zM110.44 57.49h1v1h-1zM109.71 53.3h1v1h-1zM114.18 56.9h1v1h-1zM115.89 47.91h1v1h-1zM111.18 60.26h1v1h-1zM108.83 67.29h1v1h-1zM113.03 51.47h1v1h-1zM113.62 58.18h1v1h-1zM115.45 65.73h1v1h-1zM116.2 66.92h1v1h-1zM109.09 60.44h1v1h-1zM111.53 58.72h1v1h-1zM111.91 66.71h1v1h-1zM109 61.14h1v1h-1zM113.07 60.46h1v1h-1zM110.3 67.3h1v1h-1zM114.18 60.24h1v1h-1zM109.57 61.01h1v1h-1zM107.83 63.5h1v1h-1zM105.55 63.92h1v1h-1zM106.48 40.97h1v1h-1zM112.58 50.6h1v1h-1zM107.75 52.58h1v1h-1zM113.04 51.69h1v1h-1zM108.93 56.17h1v1h-1zM118.52 66.13h1v1h-1zM113.82 57.43h1v1h-1zM110.1 56.35h1v1h-1zM112.09 54.4h1v1h-1zM111.15 53.5h1v1h-1zM116.74 63.51h1v1h-1zM111.17 59.02h1v1h-1zM112.19 47.46h1v1h-1zM110.7 67.67h1v1h-1zM107.85 65.13h1v1h-1zM114.43 67.29h1v1h-1zM109.81 67.07h1v1h-1zM105.95 46.82h1v1h-1zM112.38 66.88h1v1h-1zM108.49 58.22h1v1h-1zM110.57 63.26h1v1h-1zM110.51 63.24h1v1h-1zM113.23 59.98h1v1h-1zM111.45 57.96h1v1h-1zM112.73 48.78h1v1h-1zM114.13 62.49h1v1h-1zM113.83 65.59h1v1h-1zM108.47 56.63h1v1h-1zM110.14 67.71h1v1h-1zM110.06 67.99h1v1h-1zM112.2 58.65h1v1h-1zM107.32 55.47h1v1h-1zM109.88 44.43h1v1h-1zM107.78 55.67h1v1h-1zM111.47 52.16h1v1h-1zM113.54 59.86h1v1h-1zM108.19 62.63h1v1h-1zM111.6 66.34h1v1h-1zM107.68 48.86h1v1h-1zM112.51 57.59h1v1h-1zM108.92 67.95h1v1h-1zM116.92 43.47h1v1h-1zM118.8 47.35h1v1h-1zM114.08 42.62h1v1h-1zM116.59 42.85h1v1h-1zM114.37 46h1v1h-1zM113.34 46.02h1v1h-1zM113.21 47.05h1v1h-1zM114.09 43.66h1v1h-1zM115.28 48.09h1v1h-1zM112.57 47.53h1v1h-1zM116 46.91h1v1h-1zM112.68 42.68h1v1h-1zM117.16 41.8h1v1h-1zM115.44 42.85h1v1h-1zM113.65 47.99h1v1h-1zM116.65 45.28h1v1h-1zM115.95 41.53h1v1h-1zM113.96 46.1h1v1h-1zM115.24 46.02h1v1h-1zM113.21 43.76h1v1h-1zM115.4 46.38h1v1h-1zM116.56 47.75h1v1h-1zM113.96 46.81h1v1h-1zM117.39 46.46h1v1h-1zM115.43 43.72h1v1h-1zM117.63 47.9h0.9v0.9h-0.9zM118.65 27.28h0.9v0.9h-0.9zM118.62 50.19h0.9v0.9h-0.9zM118.8 50.3h0.9v0.9h-0.9zM119.41 35.43h0.9v0.9h-0.9zM121.56 35.1h0.9v0.9h-0.9zM121.51 43.14h0.9v0.9h-0.9zM123.22 40.69h0.9v0.9h-0.9zM116.97 58.52h0.9v0.9h-0.9zM122.86 60.05h0.9v0.9h-0.9zM122.04 62.66h0.9v0.9h-0.9zM121.44 26.07h0.9v0.9h-0.9zM123.93 54.36h0.9v0.9h-0.9zM121.16 32.39h0.9v0.9h-0.9zM119.01 38.22h0.9v0.9h-0.9zM117.15 41.13h0.9v0.9h-0.9zM118.51 38.79h0.9v0.9h-0.9zM119.64 34.8h0.9v0.9h-0.9zM121.77 53.52h0.9v0.9h-0.9zM120.97 37.05h0.9v0.9h-0.9zM118.13 49.47h0.9v0.9h-0.9zM118.21 62.44h0.9v0.9h-0.9zM122.27 49.14h0.9v0.9h-0.9zM119.08 41.37h0.9v0.9h-0.9zM120.95 29.9h0.9v0.9h-0.9zM117.16 57.48h0.9v0.9h-0.9zM122.29 60.98h0.9v0.9h-0.9zM120.79 58.88h0.9v0.9h-0.9zM118.9 52.75h0.9v0.9h-0.9zM121.48 40.09h0.9v0.9h-0.9zM121.44 52.43h0.9v0.9h-0.9zM120.61 60.29h0.9v0.9h-0.9zM121.18 52.73h0.9v0.9h-0.9zM124.72 50.46h0.9v0.9h-0.9zM122.43 26.88h0.9v0.9h-0.9zM104.34 45.98h0.9v0.9h-0.9zM109.39 34.36h0.9v0.9h-0.9zM112.37 37.17h0.9v0.9h-0.9zM108.02 43.96h0.9v0.9h-0.9zM107.15 34.77h0.9v0.9h-0.9zM112.77 38.45h0.9v0.9h-0.9zM104.19 42.24h0.9v0.9h-0.9zM108.65 45.08h0.9v0.9h-0.9zM106.45 39.5h0.9v0.9h-0.9zM110.82 32.14h0.9v0.9h-0.9zM109.91 35.27h0.9v0.9h-0.9zM108.96 39.44h0.9v0.9h-0.9zM107.17 42.32h0.9v0.9h-0.9zM106.7 45.47h0.9v0.9h-0.9zM107.07 32.06h0.9v0.9h-0.9zM51.9 92.7h1v1h-1zM61.2 92.7h1v1h-1zM70.2 92.7h1v1h-1zM71.5 85.4h1v1h-1zM74 80h1v1h-1zM76 72h1v1h-1zM77 90h1v1h-1zM78 66h1v1h-1zM66 88h1v1h-1zM126.2 87.7h1v1h-1zM130.8 84.2h1v1h-1zM134.3 84.2h1v1h-1zM127.3 73.9h1v1h-1zM124.5 80h1v1h-1zM119 76h1v1h-1zM118.5 88h1v1h-1zM125 62h1v1h-1zM128 60h1v1h-1zM131 58h1v1h-1zM123.8 50h1v1h-1zM119 47h1v1h-1zM121 36h1v1h-1zM118 30h1v1h-1zM116 20h1v1h-1zM115 33h1v1h-1zM108 29h1v1h-1zM103.5 38h1v1h-1zM105 40h1v1h-1zM99 45h1v1h-1zM97 47h1v1h-1zM84 45h1v1h-1zM86 50h1v1h-1zM83 57h1v1h-1zM81 62h1v1h-1zM80 74h1v1h-1zM82 80h1v1h-1zM84 86h1v1h-1zM69.2 47.1h1v1h-1zM60.8 66.9h1v1h-1zM136.9 25.5h1v1h-1zM131.7 33.7h1v1h-1zM139.4 44.8h1v1h-1zM133.1 55.8h1v1h-1zM153.8 33.1h1v1h-1zM79.6 40.5h1v1h-1zM80.6 42.4h1v1h-1zM81.6 43.9h1v1h-1zM80 46h1v1h-1zM121.5 24.5h1v1h-1zM124 25h1v1h-1zM126 28h1v1h-1zM121.5 38h1v1h-1zM117 42h1v1h-1z" fill="#111"/>
<line x1="79.2" y1="10" x2="79.2" y2="118" stroke="#e0303c" stroke-width="1.25" stroke-dasharray="2.4 1.9"/>
<line x1="122.6" y1="10" x2="122.6" y2="118" stroke="#e0303c" stroke-width="1.25" stroke-dasharray="2.4 1.9"/>
<line x1="50" y1="68.3" x2="178" y2="68.3" stroke="#e0303c" stroke-width="1.25" stroke-dasharray="2.4 1.9"/>
<text x="84.6" y="22.4" font-size="7.6" fill="#3a3a3a" font-style="italic" textLength="33.3" lengthAdjust="spacingAndGlyphs">H2-DMb2</text>
<text x="89" y="30.5" font-size="7.6" fill="#3a3a3a" font-style="italic" textLength="25" lengthAdjust="spacingAndGlyphs">Samd9l</text>
<text x="92.9" y="39.1" font-size="7.6" fill="#3a3a3a" font-style="italic" textLength="16.7" lengthAdjust="spacingAndGlyphs">Cd36</text>
<text x="51.9" y="38.2" font-size="7.6" fill="#3a3a3a" font-style="italic" textLength="22.3" lengthAdjust="spacingAndGlyphs">Ms4a1</text>
<text x="51.2" y="56.4" font-size="7.6" fill="#3a3a3a" font-style="italic" textLength="24.4" lengthAdjust="spacingAndGlyphs">S100a6</text>
<text x="126.9" y="16.6" font-size="7.6" fill="#3a3a3a" font-style="italic" textLength="32.3" lengthAdjust="spacingAndGlyphs">Cacna2d1</text>
<text x="157.7" y="23.4" font-size="7.6" fill="#3a3a3a" font-style="italic" textLength="16.3" lengthAdjust="spacingAndGlyphs">Fcrl6</text>
<text x="144.2" y="42" font-size="7.6" fill="#3a3a3a" font-style="italic" textLength="26" lengthAdjust="spacingAndGlyphs">Slc45a3</text>
<text x="152.9" y="53" font-size="7.6" fill="#3a3a3a" font-style="italic" textLength="12.1" lengthAdjust="spacingAndGlyphs">Erg</text>
<text x="146.5" y="64.1" font-size="7.6" fill="#3a3a3a" font-style="italic" textLength="19.8" lengthAdjust="spacingAndGlyphs">Kcnk1</text>
<line x1="82.7" y1="18.3" x2="79.6" y2="38.5" stroke="#333" stroke-width="0.6"/>
<line x1="87.7" y1="28" x2="80.6" y2="40.4" stroke="#333" stroke-width="0.6"/>
<line x1="91.9" y1="37.5" x2="81" y2="42.3" stroke="#333" stroke-width="0.6"/>
<line x1="62.1" y1="39.4" x2="67.4" y2="45.6" stroke="#333" stroke-width="0.6"/>
<line x1="66.9" y1="57.7" x2="61.5" y2="65.4" stroke="#333" stroke-width="0.6"/>
<line x1="139.4" y1="20.2" x2="137" y2="25" stroke="#333" stroke-width="0.6"/>
<line x1="161.9" y1="25" x2="154.8" y2="30.8" stroke="#333" stroke-width="0.6"/>
<line x1="143.3" y1="38.1" x2="133.1" y2="34.6" stroke="#333" stroke-width="0.6"/>
<line x1="151.9" y1="50.4" x2="141.3" y2="46.2" stroke="#333" stroke-width="0.6"/>
<line x1="146.2" y1="61.9" x2="134.6" y2="56.7" stroke="#333" stroke-width="0.6"/>
<path d="M49.5 9.5H178V118.4H49.5Z" fill="none" stroke="#231f20" stroke-width="1.1"/>
<line x1="44.8" y1="31.15" x2="49.5" y2="31.15" stroke="#231f20" stroke-width="0.9"/>
<text x="28.4" y="33.75" font-size="7.6" fill="#333">10</text>
<text x="36.6" y="30.55" font-size="5" fill="#333">&#8722;3</text>
<line x1="44.8" y1="52.9" x2="49.5" y2="52.9" stroke="#231f20" stroke-width="0.9"/>
<text x="28.4" y="55.5" font-size="7.6" fill="#333">10</text>
<text x="36.6" y="52.3" font-size="5" fill="#333">&#8722;2</text>
<line x1="44.8" y1="74.65" x2="49.5" y2="74.65" stroke="#231f20" stroke-width="0.9"/>
<text x="28.4" y="77.25" font-size="7.6" fill="#333">10</text>
<text x="36.6" y="74.05" font-size="5" fill="#333">&#8722;1</text>
<line x1="44.8" y1="96.4" x2="49.5" y2="96.4" stroke="#231f20" stroke-width="0.9"/>
<text x="42.2" y="99.2" font-size="7.6" text-anchor="end" fill="#333">1</text>
<line x1="44.8" y1="118.15" x2="49.5" y2="118.15" stroke="#231f20" stroke-width="0.9"/>
<text x="42.2" y="120.95" font-size="7.6" text-anchor="end" fill="#333">10</text>
<path d="M46.8 15.95H49.5M46.8 19.78H49.5M46.8 22.49H49.5M46.8 24.6H49.5M46.8 26.32H49.5M46.8 27.78H49.5M46.8 29.04H49.5M46.8 30.15H49.5M46.8 37.7H49.5M46.8 41.53H49.5M46.8 44.24H49.5M46.8 46.35H49.5M46.8 48.07H49.5M46.8 49.53H49.5M46.8 50.79H49.5M46.8 51.9H49.5M46.8 59.45H49.5M46.8 63.28H49.5M46.8 65.99H49.5M46.8 68.1H49.5M46.8 69.82H49.5M46.8 71.28H49.5M46.8 72.54H49.5M46.8 73.65H49.5M46.8 81.2H49.5M46.8 85.03H49.5M46.8 87.74H49.5M46.8 89.85H49.5M46.8 91.57H49.5M46.8 93.03H49.5M46.8 94.29H49.5M46.8 95.4H49.5M46.8 102.95H49.5M46.8 106.78H49.5M46.8 109.49H49.5M46.8 111.6H49.5M46.8 113.32H49.5M46.8 114.78H49.5M46.8 116.04H49.5M46.8 117.15H49.5" stroke="#231f20" stroke-width="0.7"/>
<line x1="49.5" y1="118.4" x2="49.5" y2="121.3" stroke="#231f20" stroke-width="0.9"/>
<text x="49.5" y="131.2" font-size="8.4" text-anchor="middle" fill="#333">&#8722;2</text>
<line x1="75.2" y1="118.4" x2="75.2" y2="121.3" stroke="#231f20" stroke-width="0.9"/>
<text x="75.2" y="131.2" font-size="8.4" text-anchor="middle" fill="#333">&#8722;1</text>
<line x1="100.9" y1="118.4" x2="100.9" y2="121.3" stroke="#231f20" stroke-width="0.9"/>
<text x="100.9" y="131.2" font-size="8.4" text-anchor="middle" fill="#333">0</text>
<line x1="126.6" y1="118.4" x2="126.6" y2="121.3" stroke="#231f20" stroke-width="0.9"/>
<text x="126.6" y="131.2" font-size="8.4" text-anchor="middle" fill="#333">1</text>
<line x1="152.3" y1="118.4" x2="152.3" y2="121.3" stroke="#231f20" stroke-width="0.9"/>
<text x="152.3" y="131.2" font-size="8.4" text-anchor="middle" fill="#333">2</text>
<line x1="178" y1="118.4" x2="178" y2="121.3" stroke="#231f20" stroke-width="0.9"/>
<text x="178" y="131.2" font-size="8.4" text-anchor="middle" fill="#333">3</text>
<text x="114.2" y="140.7" font-size="9.6" text-anchor="middle" fill="#333" textLength="105" lengthAdjust="spacingAndGlyphs">Expression ratio (Log<tspan font-size="5" dy="1.5">2</tspan><tspan dy="-1.5"> (Het/WT))</tspan></text>
<text transform="translate(20.8,76.8) rotate(-90)" font-size="10" fill="#333"><tspan font-style="italic">P</tspan><tspan font-size="8" textLength="18.6" lengthAdjust="spacingAndGlyphs">-value</tspan></text>
<text x="14.2" y="162" font-size="10.6" fill="#000" font-weight="bold">B</text>
<text x="32" y="161.4" font-size="9.2" fill="#333" textLength="104.5" lengthAdjust="spacingAndGlyphs">E&#956;-<tspan font-style="italic">Myc</tspan> pre-transformed</text>
<line x1="32" y1="163.6" x2="136.5" y2="163.6" stroke="#555" stroke-width="0.7"/>
<text transform="translate(44.5,187.5) rotate(-45)" font-size="7.6" font-style="italic" fill="#333">Tfap4<tspan font-size="4.8" dy="-3">+/+</tspan></text>
<text transform="translate(90.5,187.5) rotate(-45)" font-size="7.6" font-style="italic" fill="#333">Tfap4<tspan font-size="4.8" dy="-3">+/&#8211;</tspan></text>
<g shape-rendering="crispEdges"><rect x="32.3" y="189.5" width="8.04" height="7.91" fill="#8c96d2"/><rect x="40.04" y="189.5" width="8.04" height="7.91" fill="#8c96d2"/><rect x="47.78" y="189.5" width="8.04" height="7.91" fill="#3c50aa"/><rect x="55.52" y="189.5" width="8.04" height="7.91" fill="#7682c8"/><rect x="63.26" y="189.5" width="8.04" height="7.91" fill="#8c96d2"/><rect x="71" y="189.5" width="8.04" height="7.91" fill="#f8b6b6"/><rect x="78.74" y="189.5" width="8.04" height="7.91" fill="#f8b6b6"/><rect x="86.48" y="189.5" width="8.04" height="7.91" fill="#f28487"/><rect x="94.22" y="189.5" width="8.04" height="7.91" fill="#ee696e"/><rect x="101.96" y="189.5" width="8.04" height="7.91" fill="#ee696e"/><rect x="32.3" y="197.11" width="8.04" height="7.91" fill="#4e5fb4"/><rect x="40.04" y="197.11" width="8.04" height="7.91" fill="#8c96d2"/><rect x="47.78" y="197.11" width="8.04" height="7.91" fill="#7682c8"/><rect x="55.52" y="197.11" width="8.04" height="7.91" fill="#5f6ebe"/><rect x="63.26" y="197.11" width="8.04" height="7.91" fill="#a5acdc"/><rect x="71" y="197.11" width="8.04" height="7.91" fill="#facdcd"/><rect x="78.74" y="197.11" width="8.04" height="7.91" fill="#facdcd"/><rect x="86.48" y="197.11" width="8.04" height="7.91" fill="#f5a0a0"/><rect x="94.22" y="197.11" width="8.04" height="7.91" fill="#eb484e"/><rect x="101.96" y="197.11" width="8.04" height="7.91" fill="#eb484e"/><rect x="32.3" y="204.72" width="8.04" height="7.91" fill="#8c96d2"/><rect x="40.04" y="204.72" width="8.04" height="7.91" fill="#5f6ebe"/><rect x="47.78" y="204.72" width="8.04" height="7.91" fill="#5f6ebe"/><rect x="55.52" y="204.72" width="8.04" height="7.91" fill="#7682c8"/><rect x="63.26" y="204.72" width="8.04" height="7.91" fill="#8c96d2"/><rect x="71" y="204.72" width="8.04" height="7.91" fill="#f5a0a0"/><rect x="78.74" y="204.72" width="8.04" height="7.91" fill="#f8b6b6"/><rect x="86.48" y="204.72" width="8.04" height="7.91" fill="#ee696e"/><rect x="94.22" y="204.72" width="8.04" height="7.91" fill="#f28487"/><rect x="101.96" y="204.72" width="8.04" height="7.91" fill="#f28487"/><rect x="32.3" y="212.33" width="8.04" height="7.91" fill="#4e5fb4"/><rect x="40.04" y="212.33" width="8.04" height="7.91" fill="#a5acdc"/><rect x="47.78" y="212.33" width="8.04" height="7.91" fill="#a5acdc"/><rect x="55.52" y="212.33" width="8.04" height="7.91" fill="#8c96d2"/><rect x="63.26" y="212.33" width="8.04" height="7.91" fill="#7682c8"/><rect x="71" y="212.33" width="8.04" height="7.91" fill="#fafafc"/><rect x="78.74" y="212.33" width="8.04" height="7.91" fill="#facdcd"/><rect x="86.48" y="212.33" width="8.04" height="7.91" fill="#facdcd"/><rect x="94.22" y="212.33" width="8.04" height="7.91" fill="#eb484e"/><rect x="101.96" y="212.33" width="8.04" height="7.91" fill="#e8282d"/><rect x="32.3" y="219.94" width="8.04" height="7.91" fill="#7682c8"/><rect x="40.04" y="219.94" width="8.04" height="7.91" fill="#a5acdc"/><rect x="47.78" y="219.94" width="8.04" height="7.91" fill="#7682c8"/><rect x="55.52" y="219.94" width="8.04" height="7.91" fill="#4e5fb4"/><rect x="63.26" y="219.94" width="8.04" height="7.91" fill="#5f6ebe"/><rect x="71" y="219.94" width="8.04" height="7.91" fill="#f8b6b6"/><rect x="78.74" y="219.94" width="8.04" height="7.91" fill="#facdcd"/><rect x="86.48" y="219.94" width="8.04" height="7.91" fill="#f28487"/><rect x="94.22" y="219.94" width="8.04" height="7.91" fill="#f28487"/><rect x="101.96" y="219.94" width="8.04" height="7.91" fill="#ee696e"/><rect x="32.3" y="227.55" width="8.04" height="7.91" fill="#bec3e6"/><rect x="40.04" y="227.55" width="8.04" height="7.91" fill="#8c96d2"/><rect x="47.78" y="227.55" width="8.04" height="7.91" fill="#5f6ebe"/><rect x="55.52" y="227.55" width="8.04" height="7.91" fill="#5f6ebe"/><rect x="63.26" y="227.55" width="8.04" height="7.91" fill="#8c96d2"/><rect x="71" y="227.55" width="8.04" height="7.91" fill="#f28487"/><rect x="78.74" y="227.55" width="8.04" height="7.91" fill="#f28487"/><rect x="86.48" y="227.55" width="8.04" height="7.91" fill="#f28487"/><rect x="94.22" y="227.55" width="8.04" height="7.91" fill="#f5a0a0"/><rect x="101.96" y="227.55" width="8.04" height="7.91" fill="#f5a0a0"/><rect x="32.3" y="235.16" width="8.04" height="7.91" fill="#fafafc"/><rect x="40.04" y="235.16" width="8.04" height="7.91" fill="#a5acdc"/><rect x="47.78" y="235.16" width="8.04" height="7.91" fill="#5f6ebe"/><rect x="55.52" y="235.16" width="8.04" height="7.91" fill="#5f6ebe"/><rect x="63.26" y="235.16" width="8.04" height="7.91" fill="#4e5fb4"/><rect x="71" y="235.16" width="8.04" height="7.91" fill="#ee696e"/><rect x="78.74" y="235.16" width="8.04" height="7.91" fill="#f5a0a0"/><rect x="86.48" y="235.16" width="8.04" height="7.91" fill="#ee696e"/><rect x="94.22" y="235.16" width="8.04" height="7.91" fill="#facdcd"/><rect x="101.96" y="235.16" width="8.04" height="7.91" fill="#facdcd"/><rect x="32.3" y="242.77" width="8.04" height="7.91" fill="#8c96d2"/><rect x="40.04" y="242.77" width="8.04" height="7.91" fill="#5f6ebe"/><rect x="47.78" y="242.77" width="8.04" height="7.91" fill="#7682c8"/><rect x="55.52" y="242.77" width="8.04" height="7.91" fill="#5f6ebe"/><rect x="63.26" y="242.77" width="8.04" height="7.91" fill="#5f6ebe"/><rect x="71" y="242.77" width="8.04" height="7.91" fill="#f8b6b6"/><rect x="78.74" y="242.77" width="8.04" height="7.91" fill="#f8b6b6"/><rect x="86.48" y="242.77" width="8.04" height="7.91" fill="#f5a0a0"/><rect x="94.22" y="242.77" width="8.04" height="7.91" fill="#f28487"/><rect x="101.96" y="242.77" width="8.04" height="7.91" fill="#ee696e"/><rect x="32.3" y="250.38" width="8.04" height="7.91" fill="#8c96d2"/><rect x="40.04" y="250.38" width="8.04" height="7.91" fill="#bec3e6"/><rect x="47.78" y="250.38" width="8.04" height="7.91" fill="#3c50aa"/><rect x="55.52" y="250.38" width="8.04" height="7.91" fill="#5f6ebe"/><rect x="63.26" y="250.38" width="8.04" height="7.91" fill="#8c96d2"/><rect x="71" y="250.38" width="8.04" height="7.91" fill="#fae4e4"/><rect x="78.74" y="250.38" width="8.04" height="7.91" fill="#f8b6b6"/><rect x="86.48" y="250.38" width="8.04" height="7.91" fill="#f28487"/><rect x="94.22" y="250.38" width="8.04" height="7.91" fill="#f28487"/><rect x="101.96" y="250.38" width="8.04" height="7.91" fill="#ee696e"/><rect x="32.3" y="257.99" width="8.04" height="7.91" fill="#5f6ebe"/><rect x="40.04" y="257.99" width="8.04" height="7.91" fill="#a5acdc"/><rect x="47.78" y="257.99" width="8.04" height="7.91" fill="#8c96d2"/><rect x="55.52" y="257.99" width="8.04" height="7.91" fill="#5f6ebe"/><rect x="63.26" y="257.99" width="8.04" height="7.91" fill="#8c96d2"/><rect x="71" y="257.99" width="8.04" height="7.91" fill="#fae4e4"/><rect x="78.74" y="257.99" width="8.04" height="7.91" fill="#facdcd"/><rect x="86.48" y="257.99" width="8.04" height="7.91" fill="#facdcd"/><rect x="94.22" y="257.99" width="8.04" height="7.91" fill="#ee696e"/><rect x="101.96" y="257.99" width="8.04" height="7.91" fill="#e8282d"/><rect x="32.3" y="265.6" width="8.04" height="7.91" fill="#5f6ebe"/><rect x="40.04" y="265.6" width="8.04" height="7.91" fill="#7682c8"/><rect x="47.78" y="265.6" width="8.04" height="7.91" fill="#a5acdc"/><rect x="55.52" y="265.6" width="8.04" height="7.91" fill="#4e5fb4"/><rect x="63.26" y="265.6" width="8.04" height="7.91" fill="#a5acdc"/><rect x="71" y="265.6" width="8.04" height="7.91" fill="#facdcd"/><rect x="78.74" y="265.6" width="8.04" height="7.91" fill="#facdcd"/><rect x="86.48" y="265.6" width="8.04" height="7.91" fill="#f8b6b6"/><rect x="94.22" y="265.6" width="8.04" height="7.91" fill="#ee696e"/><rect x="101.96" y="265.6" width="8.04" height="7.91" fill="#ee696e"/><rect x="32.3" y="273.21" width="8.04" height="7.91" fill="#8c96d2"/><rect x="40.04" y="273.21" width="8.04" height="7.91" fill="#dcdef1"/><rect x="47.78" y="273.21" width="8.04" height="7.91" fill="#3c50aa"/><rect x="55.52" y="273.21" width="8.04" height="7.91" fill="#a5acdc"/><rect x="63.26" y="273.21" width="8.04" height="7.91" fill="#5f6ebe"/><rect x="71" y="273.21" width="8.04" height="7.91" fill="#facdcd"/><rect x="78.74" y="273.21" width="8.04" height="7.91" fill="#facdcd"/><rect x="86.48" y="273.21" width="8.04" height="7.91" fill="#f5a0a0"/><rect x="94.22" y="273.21" width="8.04" height="7.91" fill="#ee696e"/><rect x="101.96" y="273.21" width="8.04" height="7.91" fill="#f5a0a0"/><rect x="32.3" y="280.82" width="8.04" height="7.91" fill="#dcdef1"/><rect x="40.04" y="280.82" width="8.04" height="7.91" fill="#4e5fb4"/><rect x="47.78" y="280.82" width="8.04" height="7.91" fill="#7682c8"/><rect x="55.52" y="280.82" width="8.04" height="7.91" fill="#8c96d2"/><rect x="63.26" y="280.82" width="8.04" height="7.91" fill="#4e5fb4"/><rect x="71" y="280.82" width="8.04" height="7.91" fill="#f28487"/><rect x="78.74" y="280.82" width="8.04" height="7.91" fill="#ee696e"/><rect x="86.48" y="280.82" width="8.04" height="7.91" fill="#f28487"/><rect x="94.22" y="280.82" width="8.04" height="7.91" fill="#f8b6b6"/><rect x="101.96" y="280.82" width="8.04" height="7.91" fill="#fae4e4"/><rect x="32.3" y="288.43" width="8.04" height="7.91" fill="#bec3e6"/><rect x="40.04" y="288.43" width="8.04" height="7.91" fill="#bec3e6"/><rect x="47.78" y="288.43" width="8.04" height="7.91" fill="#3c50aa"/><rect x="55.52" y="288.43" width="8.04" height="7.91" fill="#8c96d2"/><rect x="63.26" y="288.43" width="8.04" height="7.91" fill="#5f6ebe"/><rect x="71" y="288.43" width="8.04" height="7.91" fill="#f5a0a0"/><rect x="78.74" y="288.43" width="8.04" height="7.91" fill="#f5a0a0"/><rect x="86.48" y="288.43" width="8.04" height="7.91" fill="#f28487"/><rect x="94.22" y="288.43" width="8.04" height="7.91" fill="#f28487"/><rect x="101.96" y="288.43" width="8.04" height="7.91" fill="#f8b6b6"/><rect x="32.3" y="296.04" width="8.04" height="7.91" fill="#7682c8"/><rect x="40.04" y="296.04" width="8.04" height="7.91" fill="#5f6ebe"/><rect x="47.78" y="296.04" width="8.04" height="7.91" fill="#7682c8"/><rect x="55.52" y="296.04" width="8.04" height="7.91" fill="#5f6ebe"/><rect x="63.26" y="296.04" width="8.04" height="7.91" fill="#bec3e6"/><rect x="71" y="296.04" width="8.04" height="7.91" fill="#facdcd"/><rect x="78.74" y="296.04" width="8.04" height="7.91" fill="#facdcd"/><rect x="86.48" y="296.04" width="8.04" height="7.91" fill="#f5a0a0"/><rect x="94.22" y="296.04" width="8.04" height="7.91" fill="#ee696e"/><rect x="101.96" y="296.04" width="8.04" height="7.91" fill="#ee696e"/><rect x="32.3" y="303.66" width="8.04" height="7.91" fill="#a5acdc"/><rect x="40.04" y="303.66" width="8.04" height="7.91" fill="#5f6ebe"/><rect x="47.78" y="303.66" width="8.04" height="7.91" fill="#7682c8"/><rect x="55.52" y="303.66" width="8.04" height="7.91" fill="#7682c8"/><rect x="63.26" y="303.66" width="8.04" height="7.91" fill="#5f6ebe"/><rect x="71" y="303.66" width="8.04" height="7.91" fill="#f5a0a0"/><rect x="78.74" y="303.66" width="8.04" height="7.91" fill="#f8b6b6"/><rect x="86.48" y="303.66" width="8.04" height="7.91" fill="#f8b6b6"/><rect x="94.22" y="303.66" width="8.04" height="7.91" fill="#f5a0a0"/><rect x="101.96" y="303.66" width="8.04" height="7.91" fill="#ee696e"/><rect x="32.3" y="311.27" width="8.04" height="7.91" fill="#8c96d2"/><rect x="40.04" y="311.27" width="8.04" height="7.91" fill="#8c96d2"/><rect x="47.78" y="311.27" width="8.04" height="7.91" fill="#8c96d2"/><rect x="55.52" y="311.27" width="8.04" height="7.91" fill="#7682c8"/><rect x="63.26" y="311.27" width="8.04" height="7.91" fill="#7682c8"/><rect x="71" y="311.27" width="8.04" height="7.91" fill="#facdcd"/><rect x="78.74" y="311.27" width="8.04" height="7.91" fill="#facdcd"/><rect x="86.48" y="311.27" width="8.04" height="7.91" fill="#f5a0a0"/><rect x="94.22" y="311.27" width="8.04" height="7.91" fill="#e8282d"/><rect x="101.96" y="311.27" width="8.04" height="7.91" fill="#f5a0a0"/><rect x="32.3" y="318.88" width="8.04" height="7.91" fill="#8c96d2"/><rect x="40.04" y="318.88" width="8.04" height="7.91" fill="#bec3e6"/><rect x="47.78" y="318.88" width="8.04" height="7.91" fill="#4e5fb4"/><rect x="55.52" y="318.88" width="8.04" height="7.91" fill="#5f6ebe"/><rect x="63.26" y="318.88" width="8.04" height="7.91" fill="#7682c8"/><rect x="71" y="318.88" width="8.04" height="7.91" fill="#f5a0a0"/><rect x="78.74" y="318.88" width="8.04" height="7.91" fill="#facdcd"/><rect x="86.48" y="318.88" width="8.04" height="7.91" fill="#f28487"/><rect x="94.22" y="318.88" width="8.04" height="7.91" fill="#f5a0a0"/><rect x="101.96" y="318.88" width="8.04" height="7.91" fill="#ee696e"/><rect x="32.3" y="326.49" width="8.04" height="7.91" fill="#5f6ebe"/><rect x="40.04" y="326.49" width="8.04" height="7.91" fill="#5f6ebe"/><rect x="47.78" y="326.49" width="8.04" height="7.91" fill="#8c96d2"/><rect x="55.52" y="326.49" width="8.04" height="7.91" fill="#a5acdc"/><rect x="63.26" y="326.49" width="8.04" height="7.91" fill="#8c96d2"/><rect x="71" y="326.49" width="8.04" height="7.91" fill="#f8b6b6"/><rect x="78.74" y="326.49" width="8.04" height="7.91" fill="#fae4e4"/><rect x="86.48" y="326.49" width="8.04" height="7.91" fill="#facdcd"/><rect x="94.22" y="326.49" width="8.04" height="7.91" fill="#ee696e"/><rect x="101.96" y="326.49" width="8.04" height="7.91" fill="#e8282d"/><rect x="32.3" y="334.1" width="8.04" height="7.91" fill="#a5acdc"/><rect x="40.04" y="334.1" width="8.04" height="7.91" fill="#5f6ebe"/><rect x="47.78" y="334.1" width="8.04" height="7.91" fill="#5f6ebe"/><rect x="55.52" y="334.1" width="8.04" height="7.91" fill="#7682c8"/><rect x="63.26" y="334.1" width="8.04" height="7.91" fill="#7682c8"/><rect x="71" y="334.1" width="8.04" height="7.91" fill="#f5a0a0"/><rect x="78.74" y="334.1" width="8.04" height="7.91" fill="#f5a0a0"/><rect x="86.48" y="334.1" width="8.04" height="7.91" fill="#f5a0a0"/><rect x="94.22" y="334.1" width="8.04" height="7.91" fill="#f5a0a0"/><rect x="101.96" y="334.1" width="8.04" height="7.91" fill="#ee696e"/><rect x="32.3" y="341.71" width="8.04" height="7.91" fill="#8c96d2"/><rect x="40.04" y="341.71" width="8.04" height="7.91" fill="#3c50aa"/><rect x="47.78" y="341.71" width="8.04" height="7.91" fill="#8c96d2"/><rect x="55.52" y="341.71" width="8.04" height="7.91" fill="#dcdef1"/><rect x="63.26" y="341.71" width="8.04" height="7.91" fill="#8c96d2"/><rect x="71" y="341.71" width="8.04" height="7.91" fill="#fafafc"/><rect x="78.74" y="341.71" width="8.04" height="7.91" fill="#ee696e"/><rect x="86.48" y="341.71" width="8.04" height="7.91" fill="#f28487"/><rect x="94.22" y="341.71" width="8.04" height="7.91" fill="#f28487"/><rect x="101.96" y="341.71" width="8.04" height="7.91" fill="#ee696e"/><rect x="32.3" y="349.32" width="8.04" height="7.91" fill="#dcdef1"/><rect x="40.04" y="349.32" width="8.04" height="7.91" fill="#eb484e"/><rect x="47.78" y="349.32" width="8.04" height="7.91" fill="#ee696e"/><rect x="55.52" y="349.32" width="8.04" height="7.91" fill="#facdcd"/><rect x="63.26" y="349.32" width="8.04" height="7.91" fill="#ee696e"/><rect x="71" y="349.32" width="8.04" height="7.91" fill="#8c96d2"/><rect x="78.74" y="349.32" width="8.04" height="7.91" fill="#dcdef1"/><rect x="86.48" y="349.32" width="8.04" height="7.91" fill="#3c50aa"/><rect x="94.22" y="349.32" width="8.04" height="7.91" fill="#7682c8"/><rect x="101.96" y="349.32" width="8.04" height="7.91" fill="#a5acdc"/><rect x="32.3" y="356.93" width="8.04" height="7.91" fill="#fafafc"/><rect x="40.04" y="356.93" width="8.04" height="7.91" fill="#e8282d"/><rect x="47.78" y="356.93" width="8.04" height="7.91" fill="#ee696e"/><rect x="55.52" y="356.93" width="8.04" height="7.91" fill="#fafafc"/><rect x="63.26" y="356.93" width="8.04" height="7.91" fill="#f28487"/><rect x="71" y="356.93" width="8.04" height="7.91" fill="#8c96d2"/><rect x="78.74" y="356.93" width="8.04" height="7.91" fill="#dcdef1"/><rect x="86.48" y="356.93" width="8.04" height="7.91" fill="#3c50aa"/><rect x="94.22" y="356.93" width="8.04" height="7.91" fill="#7682c8"/><rect x="101.96" y="356.93" width="8.04" height="7.91" fill="#8c96d2"/><rect x="32.3" y="364.54" width="8.04" height="7.91" fill="#facdcd"/><rect x="40.04" y="364.54" width="8.04" height="7.91" fill="#f5a0a0"/><rect x="47.78" y="364.54" width="8.04" height="7.91" fill="#ee696e"/><rect x="55.52" y="364.54" width="8.04" height="7.91" fill="#f8b6b6"/><rect x="63.26" y="364.54" width="8.04" height="7.91" fill="#ee696e"/><rect x="71" y="364.54" width="8.04" height="7.91" fill="#7682c8"/><rect x="78.74" y="364.54" width="8.04" height="7.91" fill="#bec3e6"/><rect x="86.48" y="364.54" width="8.04" height="7.91" fill="#4e5fb4"/><rect x="94.22" y="364.54" width="8.04" height="7.91" fill="#7682c8"/><rect x="101.96" y="364.54" width="8.04" height="7.91" fill="#7682c8"/><rect x="32.3" y="372.15" width="8.04" height="7.91" fill="#f8b6b6"/><rect x="40.04" y="372.15" width="8.04" height="7.91" fill="#ee696e"/><rect x="47.78" y="372.15" width="8.04" height="7.91" fill="#ee696e"/><rect x="55.52" y="372.15" width="8.04" height="7.91" fill="#fae4e4"/><rect x="63.26" y="372.15" width="8.04" height="7.91" fill="#ee696e"/><rect x="71" y="372.15" width="8.04" height="7.91" fill="#5f6ebe"/><rect x="78.74" y="372.15" width="8.04" height="7.91" fill="#a5acdc"/><rect x="86.48" y="372.15" width="8.04" height="7.91" fill="#8c96d2"/><rect x="94.22" y="372.15" width="8.04" height="7.91" fill="#bec3e6"/><rect x="101.96" y="372.15" width="8.04" height="7.91" fill="#4e5fb4"/><rect x="32.3" y="379.76" width="8.04" height="7.91" fill="#fae4e4"/><rect x="40.04" y="379.76" width="8.04" height="7.91" fill="#eb484e"/><rect x="47.78" y="379.76" width="8.04" height="7.91" fill="#f28487"/><rect x="55.52" y="379.76" width="8.04" height="7.91" fill="#facdcd"/><rect x="63.26" y="379.76" width="8.04" height="7.91" fill="#ee696e"/><rect x="71" y="379.76" width="8.04" height="7.91" fill="#5f6ebe"/><rect x="78.74" y="379.76" width="8.04" height="7.91" fill="#bec3e6"/><rect x="86.48" y="379.76" width="8.04" height="7.91" fill="#7682c8"/><rect x="94.22" y="379.76" width="8.04" height="7.91" fill="#5f6ebe"/><rect x="101.96" y="379.76" width="8.04" height="7.91" fill="#7682c8"/><rect x="32.3" y="387.37" width="8.04" height="7.91" fill="#f8b6b6"/><rect x="40.04" y="387.37" width="8.04" height="7.91" fill="#ee696e"/><rect x="47.78" y="387.37" width="8.04" height="7.91" fill="#f28487"/><rect x="55.52" y="387.37" width="8.04" height="7.91" fill="#f5a0a0"/><rect x="63.26" y="387.37" width="8.04" height="7.91" fill="#f5a0a0"/><rect x="71" y="387.37" width="8.04" height="7.91" fill="#5f6ebe"/><rect x="78.74" y="387.37" width="8.04" height="7.91" fill="#a5acdc"/><rect x="86.48" y="387.37" width="8.04" height="7.91" fill="#4e5fb4"/><rect x="94.22" y="387.37" width="8.04" height="7.91" fill="#dcdef1"/><rect x="101.96" y="387.37" width="8.04" height="7.91" fill="#5f6ebe"/><rect x="32.3" y="394.98" width="8.04" height="7.91" fill="#fafafc"/><rect x="40.04" y="394.98" width="8.04" height="7.91" fill="#ee696e"/><rect x="47.78" y="394.98" width="8.04" height="7.91" fill="#f28487"/><rect x="55.52" y="394.98" width="8.04" height="7.91" fill="#f8b6b6"/><rect x="63.26" y="394.98" width="8.04" height="7.91" fill="#ee696e"/><rect x="71" y="394.98" width="8.04" height="7.91" fill="#7682c8"/><rect x="78.74" y="394.98" width="8.04" height="7.91" fill="#a5acdc"/><rect x="86.48" y="394.98" width="8.04" height="7.91" fill="#4e5fb4"/><rect x="94.22" y="394.98" width="8.04" height="7.91" fill="#8c96d2"/><rect x="101.96" y="394.98" width="8.04" height="7.91" fill="#8c96d2"/><rect x="32.3" y="402.59" width="8.04" height="7.91" fill="#fafafc"/><rect x="40.04" y="402.59" width="8.04" height="7.91" fill="#e8282d"/><rect x="47.78" y="402.59" width="8.04" height="7.91" fill="#f28487"/><rect x="55.52" y="402.59" width="8.04" height="7.91" fill="#fafafc"/><rect x="63.26" y="402.59" width="8.04" height="7.91" fill="#f5a0a0"/><rect x="71" y="402.59" width="8.04" height="7.91" fill="#bec3e6"/><rect x="78.74" y="402.59" width="8.04" height="7.91" fill="#dcdef1"/><rect x="86.48" y="402.59" width="8.04" height="7.91" fill="#4e5fb4"/><rect x="94.22" y="402.59" width="8.04" height="7.91" fill="#8c96d2"/><rect x="101.96" y="402.59" width="8.04" height="7.91" fill="#7682c8"/></g>
<rect x="32.3" y="189.5" width="77.4" height="220.7" fill="none" stroke="#333" stroke-width="0.8"/>
<line x1="71" y1="189.5" x2="71" y2="410.2" stroke="#222" stroke-width="1.1"/>
<line x1="32.3" y1="349.4" x2="109.7" y2="349.4" stroke="#222" stroke-width="1.1"/>
<text x="113.4" y="194.3" font-size="7.5" fill="#2a2a2a" font-style="italic">Fcrl6</text>
<text x="113.4" y="202.05" font-size="7.5" fill="#e8303a" font-style="italic">Erg</text>
<text x="113.4" y="209.8" font-size="7.5" fill="#2a2a2a" font-style="italic">Cacna2d1</text>
<text x="113.4" y="217.55" font-size="7.5" fill="#2a2a2a" font-style="italic">Kcnk1</text>
<text x="113.4" y="225.3" font-size="7.5" fill="#e8303a" font-style="italic">Slc45a3</text>
<text x="113.4" y="233.05" font-size="7.5" fill="#e8303a" font-style="italic">Atp1b1</text>
<text x="113.4" y="240.8" font-size="7.5" fill="#2a2a2a" font-style="italic">Dpt</text>
<text x="113.4" y="248.55" font-size="7.5" fill="#e8303a" font-style="italic">Uaca</text>
<text x="113.4" y="256.3" font-size="7.5" fill="#4060b0" font-style="italic">Lat</text>
<text x="113.4" y="264.05" font-size="7.5" fill="#2a2a2a" font-style="italic">Drc7</text>
<text x="113.4" y="271.8" font-size="7.5" fill="#2a2a2a" font-style="italic">Fzd6</text>
<text x="113.4" y="279.55" font-size="7.5" fill="#2a2a2a" font-style="italic">Mt2</text>
<text x="113.4" y="287.3" font-size="7.5" fill="#4060b0" font-style="italic">Grn</text>
<text x="113.4" y="295.05" font-size="7.5" fill="#4060b0" font-style="italic">Mt1</text>
<text x="113.4" y="302.8" font-size="7.5" fill="#2a2a2a" font-style="italic">Stk3</text>
<text x="113.4" y="310.55" font-size="7.5" fill="#4060b0" font-style="italic">Slit1</text>
<text x="113.4" y="318.3" font-size="7.5" fill="#e8303a" font-style="italic">Steap4</text>
<text x="113.4" y="326.05" font-size="7.5" fill="#e8303a" font-style="italic">Arpp21</text>
<text x="113.4" y="333.8" font-size="7.5" fill="#4060b0" font-style="italic">Ppp1r9b</text>
<text x="113.4" y="341.55" font-size="7.5" fill="#4060b0" font-style="italic">Cpm</text>
<text x="113.4" y="349.3" font-size="7.5" fill="#e8303a" font-style="italic">Aldh1b1</text>
<text x="113.4" y="357.05" font-size="7.5" fill="#4060b0" font-style="italic">Itgb7</text>
<text x="113.4" y="364.8" font-size="7.5" fill="#4060b0" font-style="italic">Ahnak</text>
<text x="113.4" y="372.55" font-size="7.5" fill="#2a2a2a" font-style="italic">Samd9l</text>
<text x="113.4" y="380.3" font-size="7.5" fill="#e8303a" font-style="italic">Cd36</text>
<text x="113.4" y="388.05" font-size="7.5" fill="#e8303a" font-style="italic">Serpinb1a</text>
<text x="113.4" y="395.8" font-size="7.5" fill="#4060b0" font-style="italic">H2-DMb2</text>
<text x="113.4" y="403.55" font-size="7.5" fill="#e8303a" font-style="italic">Ms4a1</text>
<text x="113.4" y="411.3" font-size="7.5" fill="#e8303a" font-style="italic">S100a6</text>
<text x="68" y="422.2" font-size="8.2" text-anchor="middle" fill="#333" textLength="32.2" lengthAdjust="spacingAndGlyphs">Z-score</text>
<defs><linearGradient id="zg"><stop offset="0" stop-color="#3c50b0"/><stop offset="0.5" stop-color="#ffffff"/><stop offset="1" stop-color="#e42a30"/></linearGradient><linearGradient id="fg"><stop offset="0" stop-color="#3c50b4"/><stop offset="0.5" stop-color="#ffffff"/><stop offset="1" stop-color="#e6262e"/></linearGradient></defs>
<rect x="42.9" y="426.2" width="57.8" height="7.8" fill="url(#zg)" stroke="#222" stroke-width="0.8"/>
<text x="71.8" y="433.1" font-size="8.2" text-anchor="middle" fill="#333">0</text>
<text x="30" y="433.6" font-size="8.8" fill="#333">&#8722;2</text>
<text x="103.4" y="433.6" font-size="8.8" fill="#333">+2</text>
<text x="180.6" y="162.4" font-size="10.6" fill="#000" font-weight="bold">C</text>
<circle cx="219.2" cy="172.6" r="1.6" fill="#3b5370" stroke="#222" stroke-width="0.4"/>
<circle cx="219.2" cy="181.8" r="1.6" fill="#d61f2c" stroke="#222" stroke-width="0.4"/>
<text x="224.2" y="175.6" font-size="7.6" fill="#333" textLength="45.7" lengthAdjust="spacingAndGlyphs">E&#956;-<tspan font-style="italic">Myc Tfap4</tspan></text>
<text x="270.6" y="172.6" font-size="4.4" fill="#333">+/+</text>
<text x="224.2" y="184.8" font-size="7.6" fill="#333" textLength="45.7" lengthAdjust="spacingAndGlyphs">E&#956;-<tspan font-style="italic">Myc Tfap4</tspan></text>
<text x="270.6" y="181.8" font-size="4.4" fill="#333">+/&#8211;</text>
<line x1="209.4" y1="176.7" x2="209.4" y2="269" stroke="#222" stroke-width="1.2"/>
<line x1="209.4" y1="269" x2="284.8" y2="269" stroke="#333" stroke-width="1.6"/>
<line x1="205.8" y1="269" x2="209.4" y2="269" stroke="#222" stroke-width="0.9"/>
<text x="202.3" y="271.9" font-size="8.2" text-anchor="end" fill="#333">0</text>
<line x1="205.8" y1="238.4" x2="209.4" y2="238.4" stroke="#222" stroke-width="0.9"/>
<text x="202.3" y="241.3" font-size="8.2" text-anchor="end" fill="#333">5</text>
<line x1="205.8" y1="207.8" x2="209.4" y2="207.8" stroke="#222" stroke-width="0.9"/>
<text x="202.3" y="210.7" font-size="8.2" text-anchor="end" fill="#333">10</text>
<line x1="205.8" y1="177.2" x2="209.4" y2="177.2" stroke="#222" stroke-width="0.9"/>
<text x="202.3" y="180.1" font-size="8.2" text-anchor="end" fill="#333">15</text>
<line x1="213.2" y1="263.8" x2="213.2" y2="267.47" stroke="#555" stroke-width="0.6"/>
<line x1="210" y1="263.8" x2="216.4" y2="263.8" stroke="#555" stroke-width="0.6"/>
<line x1="210" y1="267.47" x2="216.4" y2="267.47" stroke="#555" stroke-width="0.6"/>
<line x1="208.6" y1="265.63" x2="217.8" y2="265.63" stroke="#555" stroke-width="0.6"/>
<circle cx="213.2" cy="263.8" r="1.85" fill="#d61f2c" stroke="#1a1a1a" stroke-width="0.45"/>
<circle cx="213.2" cy="267.16" r="1.85" fill="#d61f2c" stroke="#1a1a1a" stroke-width="0.45"/>
<line x1="219.2" y1="219.43" x2="219.2" y2="245.13" stroke="#555" stroke-width="0.6"/>
<line x1="216" y1="219.43" x2="222.4" y2="219.43" stroke="#555" stroke-width="0.6"/>
<line x1="216" y1="245.13" x2="222.4" y2="245.13" stroke="#555" stroke-width="0.6"/>
<line x1="214.6" y1="232.28" x2="223.8" y2="232.28" stroke="#555" stroke-width="0.6"/>
<circle cx="219.2" cy="216.98" r="1.85" fill="#3b5370" stroke="#1a1a1a" stroke-width="0.45"/>
<circle cx="219.2" cy="221.26" r="1.85" fill="#3b5370" stroke="#1a1a1a" stroke-width="0.45"/>
<circle cx="219.2" cy="234.12" r="1.85" fill="#3b5370" stroke="#1a1a1a" stroke-width="0.45"/>
<circle cx="219.2" cy="244.52" r="1.85" fill="#3b5370" stroke="#1a1a1a" stroke-width="0.45"/>
<circle cx="219.2" cy="245.44" r="1.85" fill="#3b5370" stroke="#1a1a1a" stroke-width="0.45"/>
<line x1="228.7" y1="253.09" x2="228.7" y2="257.98" stroke="#555" stroke-width="0.6"/>
<line x1="225.5" y1="253.09" x2="231.9" y2="253.09" stroke="#555" stroke-width="0.6"/>
<line x1="225.5" y1="257.98" x2="231.9" y2="257.98" stroke="#555" stroke-width="0.6"/>
<line x1="224.1" y1="255.54" x2="233.3" y2="255.54" stroke="#555" stroke-width="0.6"/>
<circle cx="228.2" cy="251.56" r="1.85" fill="#d61f2c" stroke="#1a1a1a" stroke-width="0.45"/>
<circle cx="229.7" cy="253.09" r="1.85" fill="#d61f2c" stroke="#1a1a1a" stroke-width="0.45"/>
<circle cx="227.7" cy="255.54" r="1.85" fill="#d61f2c" stroke="#1a1a1a" stroke-width="0.45"/>
<circle cx="229.9" cy="256.76" r="1.85" fill="#d61f2c" stroke="#1a1a1a" stroke-width="0.45"/>
<circle cx="229.5" cy="259.21" r="1.85" fill="#d61f2c" stroke="#1a1a1a" stroke-width="0.45"/>
<line x1="234.5" y1="198.93" x2="234.5" y2="235.65" stroke="#555" stroke-width="0.6"/>
<line x1="231.3" y1="198.93" x2="237.7" y2="198.93" stroke="#555" stroke-width="0.6"/>
<line x1="231.3" y1="235.65" x2="237.7" y2="235.65" stroke="#555" stroke-width="0.6"/>
<line x1="229.9" y1="217.29" x2="239.1" y2="217.29" stroke="#555" stroke-width="0.6"/>
<circle cx="235" cy="199.84" r="1.85" fill="#3b5370" stroke="#1a1a1a" stroke-width="0.45"/>
<circle cx="233.7" cy="198.93" r="1.85" fill="#3b5370" stroke="#1a1a1a" stroke-width="0.45"/>
<circle cx="234.5" cy="222.49" r="1.85" fill="#3b5370" stroke="#1a1a1a" stroke-width="0.45"/>
<circle cx="235.1" cy="232.28" r="1.85" fill="#3b5370" stroke="#1a1a1a" stroke-width="0.45"/>
<circle cx="233.5" cy="234.12" r="1.85" fill="#3b5370" stroke="#1a1a1a" stroke-width="0.45"/>
<line x1="244.5" y1="264.72" x2="244.5" y2="267.16" stroke="#555" stroke-width="0.6"/>
<line x1="241.3" y1="264.72" x2="247.7" y2="264.72" stroke="#555" stroke-width="0.6"/>
<line x1="241.3" y1="267.16" x2="247.7" y2="267.16" stroke="#555" stroke-width="0.6"/>
<line x1="239.9" y1="265.94" x2="249.1" y2="265.94" stroke="#555" stroke-width="0.6"/>
<circle cx="243.9" cy="264.41" r="1.85" fill="#d61f2c" stroke="#1a1a1a" stroke-width="0.45"/>
<circle cx="245.1" cy="265.63" r="1.85" fill="#d61f2c" stroke="#1a1a1a" stroke-width="0.45"/>
<circle cx="244.5" cy="267.16" r="1.85" fill="#d61f2c" stroke="#1a1a1a" stroke-width="0.45"/>
<line x1="250.9" y1="246.36" x2="250.9" y2="253.7" stroke="#555" stroke-width="0.6"/>
<line x1="247.7" y1="246.36" x2="254.1" y2="246.36" stroke="#555" stroke-width="0.6"/>
<line x1="247.7" y1="253.7" x2="254.1" y2="253.7" stroke="#555" stroke-width="0.6"/>
<line x1="246.3" y1="250.03" x2="255.5" y2="250.03" stroke="#555" stroke-width="0.6"/>
<circle cx="250.9" cy="245.74" r="1.85" fill="#3b5370" stroke="#1a1a1a" stroke-width="0.45"/>
<circle cx="249.9" cy="248.8" r="1.85" fill="#3b5370" stroke="#1a1a1a" stroke-width="0.45"/>
<circle cx="251.9" cy="250.64" r="1.85" fill="#3b5370" stroke="#1a1a1a" stroke-width="0.45"/>
<circle cx="250.4" cy="251.25" r="1.85" fill="#3b5370" stroke="#1a1a1a" stroke-width="0.45"/>
<circle cx="251.2" cy="255.23" r="1.85" fill="#3b5370" stroke="#1a1a1a" stroke-width="0.45"/>
<line x1="260" y1="264.41" x2="260" y2="266.86" stroke="#555" stroke-width="0.6"/>
<line x1="256.8" y1="264.41" x2="263.2" y2="264.41" stroke="#555" stroke-width="0.6"/>
<line x1="256.8" y1="266.86" x2="263.2" y2="266.86" stroke="#555" stroke-width="0.6"/>
<line x1="255.4" y1="265.63" x2="264.6" y2="265.63" stroke="#555" stroke-width="0.6"/>
<circle cx="259.4" cy="264.41" r="1.85" fill="#d61f2c" stroke="#1a1a1a" stroke-width="0.45"/>
<circle cx="260.6" cy="265.94" r="1.85" fill="#d61f2c" stroke="#1a1a1a" stroke-width="0.45"/>
<circle cx="260" cy="267.16" r="1.85" fill="#d61f2c" stroke="#1a1a1a" stroke-width="0.45"/>
<line x1="265.7" y1="241.15" x2="265.7" y2="258.9" stroke="#555" stroke-width="0.6"/>
<line x1="262.5" y1="241.15" x2="268.9" y2="241.15" stroke="#555" stroke-width="0.6"/>
<line x1="262.5" y1="258.9" x2="268.9" y2="258.9" stroke="#555" stroke-width="0.6"/>
<line x1="261.1" y1="250.03" x2="270.3" y2="250.03" stroke="#555" stroke-width="0.6"/>
<circle cx="266.2" cy="239.01" r="1.85" fill="#3b5370" stroke="#1a1a1a" stroke-width="0.45"/>
<circle cx="265.7" cy="241.15" r="1.85" fill="#3b5370" stroke="#1a1a1a" stroke-width="0.45"/>
<circle cx="264.9" cy="254.92" r="1.85" fill="#3b5370" stroke="#1a1a1a" stroke-width="0.45"/>
<circle cx="266.5" cy="255.84" r="1.85" fill="#3b5370" stroke="#1a1a1a" stroke-width="0.45"/>
<circle cx="265.7" cy="259.21" r="1.85" fill="#3b5370" stroke="#1a1a1a" stroke-width="0.45"/>
<line x1="275.6" y1="263.49" x2="275.6" y2="266.55" stroke="#555" stroke-width="0.6"/>
<line x1="272.4" y1="263.49" x2="278.8" y2="263.49" stroke="#555" stroke-width="0.6"/>
<line x1="272.4" y1="266.55" x2="278.8" y2="266.55" stroke="#555" stroke-width="0.6"/>
<line x1="271" y1="265.02" x2="280.2" y2="265.02" stroke="#555" stroke-width="0.6"/>
<circle cx="275.1" cy="262.88" r="1.85" fill="#d61f2c" stroke="#1a1a1a" stroke-width="0.45"/>
<circle cx="276.2" cy="264.72" r="1.85" fill="#d61f2c" stroke="#1a1a1a" stroke-width="0.45"/>
<circle cx="275.6" cy="266.25" r="1.85" fill="#d61f2c" stroke="#1a1a1a" stroke-width="0.45"/>
<line x1="282" y1="248.19" x2="282" y2="254.31" stroke="#555" stroke-width="0.6"/>
<line x1="278.8" y1="248.19" x2="285.2" y2="248.19" stroke="#555" stroke-width="0.6"/>
<line x1="278.8" y1="254.31" x2="285.2" y2="254.31" stroke="#555" stroke-width="0.6"/>
<line x1="277.4" y1="251.25" x2="286.6" y2="251.25" stroke="#555" stroke-width="0.6"/>
<circle cx="282" cy="247.58" r="1.85" fill="#3b5370" stroke="#1a1a1a" stroke-width="0.45"/>
<circle cx="281" cy="249.42" r="1.85" fill="#3b5370" stroke="#1a1a1a" stroke-width="0.45"/>
<circle cx="282.8" cy="250.64" r="1.85" fill="#3b5370" stroke="#1a1a1a" stroke-width="0.45"/>
<circle cx="282" cy="256.15" r="1.85" fill="#3b5370" stroke="#1a1a1a" stroke-width="0.45"/>
<text x="215.6" y="275.4" font-size="7.7" text-anchor="end" fill="#333" font-style="italic" transform="rotate(-45 215.6 275.4)">Fcrl6</text>
<text x="230.8" y="275.4" font-size="7.7" text-anchor="end" fill="#333" font-style="italic" transform="rotate(-45 230.8 275.4)">Erg</text>
<text x="248.6" y="275.4" font-size="7.7" text-anchor="end" fill="#333" font-style="italic" transform="rotate(-45 248.6 275.4)">Cacna2d1</text>
<text x="261.6" y="275.4" font-size="7.7" text-anchor="end" fill="#333" font-style="italic" transform="rotate(-45 261.6 275.4)">Kcnk1</text>
<text x="280.4" y="275.4" font-size="7.7" text-anchor="end" fill="#333" font-style="italic" transform="rotate(-45 280.4 275.4)">Slc45a3</text>
<text transform="translate(187.7,223.2) rotate(-90)" font-size="9.2" text-anchor="middle" fill="#333" textLength="43" lengthAdjust="spacingAndGlyphs">mRNA/RPKM</text>
<line x1="209.1" y1="304.05" x2="209.1" y2="394.8" stroke="#222" stroke-width="1.2"/>
<line x1="209.1" y1="394.8" x2="285.1" y2="394.8" stroke="#333" stroke-width="1.6"/>
<line x1="205.5" y1="394.8" x2="209.1" y2="394.8" stroke="#222" stroke-width="0.9"/>
<text x="202.3" y="397.7" font-size="8.2" text-anchor="end" fill="#333">0</text>
<line x1="205.5" y1="376.75" x2="209.1" y2="376.75" stroke="#222" stroke-width="0.9"/>
<text x="202.3" y="379.65" font-size="8.2" text-anchor="end" fill="#333">10</text>
<line x1="205.5" y1="358.7" x2="209.1" y2="358.7" stroke="#222" stroke-width="0.9"/>
<text x="202.3" y="361.6" font-size="8.2" text-anchor="end" fill="#333">20</text>
<line x1="205.5" y1="340.65" x2="209.1" y2="340.65" stroke="#222" stroke-width="0.9"/>
<text x="202.3" y="343.55" font-size="8.2" text-anchor="end" fill="#333">30</text>
<line x1="205.5" y1="322.6" x2="209.1" y2="322.6" stroke="#222" stroke-width="0.9"/>
<text x="202.3" y="325.5" font-size="8.2" text-anchor="end" fill="#333">40</text>
<line x1="205.5" y1="304.55" x2="209.1" y2="304.55" stroke="#222" stroke-width="0.9"/>
<text x="202.3" y="307.45" font-size="8.2" text-anchor="end" fill="#333">50</text>
<line x1="213.2" y1="389.93" x2="213.2" y2="391.73" stroke="#555" stroke-width="0.6"/>
<line x1="210" y1="389.93" x2="216.4" y2="389.93" stroke="#555" stroke-width="0.6"/>
<line x1="210" y1="391.73" x2="216.4" y2="391.73" stroke="#555" stroke-width="0.6"/>
<line x1="208.6" y1="390.83" x2="217.8" y2="390.83" stroke="#555" stroke-width="0.6"/>
<circle cx="213.2" cy="389.93" r="1.85" fill="#1f5a99" stroke="#1a1a1a" stroke-width="0.45"/>
<circle cx="213.7" cy="391.55" r="1.85" fill="#1f5a99" stroke="#1a1a1a" stroke-width="0.45"/>
<circle cx="212.6" cy="390.83" r="1.85" fill="#1f5a99" stroke="#1a1a1a" stroke-width="0.45"/>
<line x1="219.4" y1="393" x2="219.4" y2="394.08" stroke="#555" stroke-width="0.6"/>
<line x1="216.2" y1="393" x2="222.6" y2="393" stroke="#555" stroke-width="0.6"/>
<line x1="216.2" y1="394.08" x2="222.6" y2="394.08" stroke="#555" stroke-width="0.6"/>
<line x1="214.8" y1="393.54" x2="224" y2="393.54" stroke="#555" stroke-width="0.6"/>
<circle cx="219.4" cy="393.9" r="1.85" fill="#d61f2c" stroke="#1a1a1a" stroke-width="0.45"/>
<circle cx="218.9" cy="393" r="1.85" fill="#d61f2c" stroke="#1a1a1a" stroke-width="0.45"/>
<line x1="229.2" y1="363.39" x2="229.2" y2="373.86" stroke="#555" stroke-width="0.6"/>
<line x1="226" y1="363.39" x2="232.4" y2="363.39" stroke="#555" stroke-width="0.6"/>
<line x1="226" y1="373.86" x2="232.4" y2="373.86" stroke="#555" stroke-width="0.6"/>
<line x1="224.6" y1="368.63" x2="233.8" y2="368.63" stroke="#555" stroke-width="0.6"/>
<circle cx="229.4" cy="361.77" r="1.85" fill="#1f5a99" stroke="#1a1a1a" stroke-width="0.45"/>
<circle cx="229.7" cy="365.02" r="1.85" fill="#1f5a99" stroke="#1a1a1a" stroke-width="0.45"/>
<circle cx="228.9" cy="367.73" r="1.85" fill="#1f5a99" stroke="#1a1a1a" stroke-width="0.45"/>
<circle cx="227.5" cy="373.68" r="1.85" fill="#1f5a99" stroke="#1a1a1a" stroke-width="0.45"/>
<circle cx="230.7" cy="373.86" r="1.85" fill="#1f5a99" stroke="#1a1a1a" stroke-width="0.45"/>
<line x1="234.4" y1="379.46" x2="234.4" y2="383.07" stroke="#555" stroke-width="0.6"/>
<line x1="231.2" y1="379.46" x2="237.6" y2="379.46" stroke="#555" stroke-width="0.6"/>
<line x1="231.2" y1="383.07" x2="237.6" y2="383.07" stroke="#555" stroke-width="0.6"/>
<line x1="229.8" y1="381.26" x2="239" y2="381.26" stroke="#555" stroke-width="0.6"/>
<circle cx="234.4" cy="378.92" r="1.85" fill="#d61f2c" stroke="#1a1a1a" stroke-width="0.45"/>
<circle cx="233.6" cy="380.9" r="1.85" fill="#d61f2c" stroke="#1a1a1a" stroke-width="0.45"/>
<circle cx="235.2" cy="382.53" r="1.85" fill="#d61f2c" stroke="#1a1a1a" stroke-width="0.45"/>
<circle cx="234.4" cy="384.15" r="1.85" fill="#d61f2c" stroke="#1a1a1a" stroke-width="0.45"/>
<line x1="244.2" y1="342.64" x2="244.2" y2="350.58" stroke="#555" stroke-width="0.6"/>
<line x1="241" y1="342.64" x2="247.4" y2="342.64" stroke="#555" stroke-width="0.6"/>
<line x1="241" y1="350.58" x2="247.4" y2="350.58" stroke="#555" stroke-width="0.6"/>
<line x1="239.6" y1="346.61" x2="248.8" y2="346.61" stroke="#555" stroke-width="0.6"/>
<circle cx="244.5" cy="340.65" r="1.85" fill="#1f5a99" stroke="#1a1a1a" stroke-width="0.45"/>
<circle cx="243.6" cy="344.62" r="1.85" fill="#1f5a99" stroke="#1a1a1a" stroke-width="0.45"/>
<circle cx="244.8" cy="346.79" r="1.85" fill="#1f5a99" stroke="#1a1a1a" stroke-width="0.45"/>
<circle cx="243.7" cy="349.13" r="1.85" fill="#1f5a99" stroke="#1a1a1a" stroke-width="0.45"/>
<circle cx="244.7" cy="350.94" r="1.85" fill="#1f5a99" stroke="#1a1a1a" stroke-width="0.45"/>
<line x1="245.8" y1="369.89" x2="255" y2="369.89" stroke="#555" stroke-width="0.6"/>
<circle cx="250.4" cy="363.75" r="1.85" fill="#d61f2c" stroke="#1a1a1a" stroke-width="0.45"/>
<circle cx="250.9" cy="366.82" r="1.85" fill="#d61f2c" stroke="#1a1a1a" stroke-width="0.45"/>
<circle cx="250" cy="370.97" r="1.85" fill="#d61f2c" stroke="#1a1a1a" stroke-width="0.45"/>
<circle cx="250.9" cy="372.6" r="1.85" fill="#d61f2c" stroke="#1a1a1a" stroke-width="0.45"/>
<circle cx="250.2" cy="374.4" r="1.85" fill="#d61f2c" stroke="#1a1a1a" stroke-width="0.45"/>
<line x1="260.2" y1="314.12" x2="260.2" y2="346.25" stroke="#555" stroke-width="0.6"/>
<line x1="257" y1="314.12" x2="263.4" y2="314.12" stroke="#555" stroke-width="0.6"/>
<line x1="257" y1="346.25" x2="263.4" y2="346.25" stroke="#555" stroke-width="0.6"/>
<line x1="255.6" y1="330.18" x2="264.8" y2="330.18" stroke="#555" stroke-width="0.6"/>
<circle cx="260.2" cy="314.66" r="1.85" fill="#1f5a99" stroke="#1a1a1a" stroke-width="0.45"/>
<circle cx="260.2" cy="318.99" r="1.85" fill="#1f5a99" stroke="#1a1a1a" stroke-width="0.45"/>
<circle cx="260.2" cy="324.41" r="1.85" fill="#1f5a99" stroke="#1a1a1a" stroke-width="0.45"/>
<circle cx="260.2" cy="339.57" r="1.85" fill="#1f5a99" stroke="#1a1a1a" stroke-width="0.45"/>
<circle cx="260.2" cy="353.83" r="1.85" fill="#1f5a99" stroke="#1a1a1a" stroke-width="0.45"/>
<line x1="261.2" y1="369.53" x2="270.4" y2="369.53" stroke="#555" stroke-width="0.6"/>
<circle cx="265.8" cy="364.84" r="1.85" fill="#d61f2c" stroke="#1a1a1a" stroke-width="0.45"/>
<circle cx="266.1" cy="367.18" r="1.85" fill="#d61f2c" stroke="#1a1a1a" stroke-width="0.45"/>
<circle cx="265.6" cy="369.53" r="1.85" fill="#d61f2c" stroke="#1a1a1a" stroke-width="0.45"/>
<circle cx="266.1" cy="371.88" r="1.85" fill="#d61f2c" stroke="#1a1a1a" stroke-width="0.45"/>
<circle cx="265.8" cy="374.4" r="1.85" fill="#d61f2c" stroke="#1a1a1a" stroke-width="0.45"/>
<line x1="275.3" y1="367" x2="275.3" y2="387.22" stroke="#555" stroke-width="0.6"/>
<line x1="272.1" y1="367" x2="278.5" y2="367" stroke="#555" stroke-width="0.6"/>
<line x1="272.1" y1="387.22" x2="278.5" y2="387.22" stroke="#555" stroke-width="0.6"/>
<line x1="270.7" y1="377.11" x2="279.9" y2="377.11" stroke="#555" stroke-width="0.6"/>
<circle cx="275.3" cy="361.77" r="1.85" fill="#1f5a99" stroke="#1a1a1a" stroke-width="0.45"/>
<circle cx="275.3" cy="374.4" r="1.85" fill="#1f5a99" stroke="#1a1a1a" stroke-width="0.45"/>
<circle cx="275.3" cy="378.19" r="1.85" fill="#1f5a99" stroke="#1a1a1a" stroke-width="0.45"/>
<circle cx="274.1" cy="385.78" r="1.85" fill="#1f5a99" stroke="#1a1a1a" stroke-width="0.45"/>
<circle cx="276.5" cy="386.32" r="1.85" fill="#1f5a99" stroke="#1a1a1a" stroke-width="0.45"/>
<line x1="276.4" y1="390.65" x2="285.6" y2="390.65" stroke="#555" stroke-width="0.6"/>
<circle cx="281" cy="388.3" r="1.85" fill="#d61f2c" stroke="#1a1a1a" stroke-width="0.45"/>
<circle cx="280.7" cy="390.65" r="1.85" fill="#d61f2c" stroke="#1a1a1a" stroke-width="0.45"/>
<circle cx="281.3" cy="392.81" r="1.85" fill="#d61f2c" stroke="#1a1a1a" stroke-width="0.45"/>
<text x="217" y="400.8" font-size="7.7" text-anchor="end" fill="#333" font-style="italic" transform="rotate(-45 217 400.8)">Cd36</text>
<text x="231.4" y="400.8" font-size="7.7" text-anchor="end" fill="#333" font-style="italic" transform="rotate(-45 231.4 400.8)">Serpinb1a</text>
<text x="247.8" y="400.8" font-size="7.7" text-anchor="end" fill="#333" font-style="italic" transform="rotate(-45 247.8 400.8)">H2-DMb2</text>
<text x="263" y="400.8" font-size="7.7" text-anchor="end" fill="#333" font-style="italic" transform="rotate(-45 263 400.8)">Ms4a1</text>
<text x="279.2" y="400.8" font-size="7.7" text-anchor="end" fill="#333" font-style="italic" transform="rotate(-45 279.2 400.8)">S100a6</text>
<text transform="translate(187.4,350.4) rotate(-90)" font-size="9.2" text-anchor="middle" fill="#333" textLength="41" lengthAdjust="spacingAndGlyphs">mRNA/RPKM</text>
<text x="216.2" y="527.3" font-size="11.8" fill="#000" font-weight="bold">D</text>
<text x="304.4" y="524.4" font-size="7.8" text-anchor="middle" fill="#333">Mouse</text>
<text x="303.6" y="533.6" font-size="7.8" text-anchor="middle" fill="#333">pro-B tumor</text>
<text x="339" y="534" font-size="7.8" text-anchor="middle" fill="#333">BL</text>
<text x="339.2" y="543.2" font-size="7.8" text-anchor="middle" fill="#333">sporadic</text>
<text x="372.7" y="524.4" font-size="7.8" text-anchor="middle" fill="#333">BL</text>
<text x="372.7" y="533.6" font-size="7.8" text-anchor="middle" fill="#333">Endemic</text>
<text x="290" y="556" font-size="8.2" text-anchor="end" fill="#333">Myc targets v1</text>
<text x="290" y="584.8" font-size="8.2" text-anchor="end" fill="#333">Myc targets v2</text>
<text x="290" y="612.4" font-size="8.2" text-anchor="end" fill="#333">E2F targets</text>
<text x="290" y="633.4" font-size="8.2" text-anchor="end" fill="#333">Hallmark p53</text>
<text x="290" y="643.2" font-size="8.2" text-anchor="end" fill="#333">pathway</text>
<circle cx="305.5" cy="553.7" r="8.2" fill="#cc1f36" stroke="#333" stroke-width="0.6"/>
<circle cx="339.2" cy="553.7" r="6" fill="#cc1f36" stroke="#333" stroke-width="0.6"/>
<circle cx="372.8" cy="553.7" r="10.1" fill="#cc1f36" stroke="#333" stroke-width="0.6"/>
<circle cx="305.5" cy="581.9" r="3.9" fill="#dcdcdc" stroke="#333" stroke-width="0.6"/>
<circle cx="339.2" cy="581.9" r="10.2" fill="#cc1f36" stroke="#333" stroke-width="0.6"/>
<circle cx="372.8" cy="581.9" r="6.1" fill="#cc1f36" stroke="#333" stroke-width="0.6"/>
<circle cx="305.5" cy="609.6" r="8.3" fill="#cc1f36" stroke="#333" stroke-width="0.6"/>
<circle cx="339.2" cy="609.6" r="4.1" fill="#dcdcdc" stroke="#333" stroke-width="0.6"/>
<circle cx="372.8" cy="609.6" r="6.6" fill="#cc1f36" stroke="#333" stroke-width="0.6"/>
<circle cx="305.5" cy="636.7" r="5.1" fill="#5a9e8e" stroke="#333" stroke-width="0.6"/>
<circle cx="339.2" cy="636.7" r="4.6" fill="#6d95c0" stroke="#333" stroke-width="0.6"/>
<circle cx="372.8" cy="636.7" r="3.8" fill="#6d95c0" stroke="#333" stroke-width="0.6"/>
<circle cx="401.2" cy="549.9" r="5.2" fill="#231f20"/>
<text x="410" y="552.6" font-size="7.6" fill="#333">&lt;0.001</text>
<circle cx="401.2" cy="563.5" r="5.2" fill="#6d6e71"/>
<text x="410" y="566.2" font-size="7.6" fill="#333">0.001-0.009</text>
<circle cx="401.2" cy="576.8" r="5.2" fill="#939598"/>
<text x="410" y="579.5" font-size="7.6" fill="#333">0.01-0.049</text>
<circle cx="401.2" cy="590.1" r="5.2" fill="#bcbec0"/>
<text x="410" y="592.8" font-size="7.6" fill="#333">0.05-0.1</text>
<circle cx="401.2" cy="603.8" r="5.2" fill="#dcdddf"/>
<text x="410" y="606.5" font-size="7.6" fill="#333">&gt;0.1</text>
<text x="425.6" y="622.2" font-size="7.6" text-anchor="middle" fill="#333" textLength="51.4" lengthAdjust="spacingAndGlyphs">Net Enrichment</text>
<text x="425.6" y="631" font-size="7.6" text-anchor="middle" fill="#333">Score</text>
<circle cx="406.3" cy="641.5" r="5.4" fill="#231f20"/>
<text x="424.6" y="644.2" font-size="7.8" fill="#333">1.5</text>
<circle cx="406.3" cy="665" r="9.1" fill="#231f20"/>
<text x="424.6" y="667.7" font-size="7.8" fill="#333">2.5</text>
<circle cx="406.3" cy="691.7" r="12.5" fill="#231f20"/>
<text x="424.6" y="694.4" font-size="7.8" fill="#333">3.5</text>
<circle cx="232.1" cy="669.4" r="5.8" fill="#cc1f36" stroke="#333" stroke-width="0.5"/>
<circle cx="232.1" cy="684.4" r="5.8" fill="#1d5592" stroke="#333" stroke-width="0.5"/>
<text x="239.6" y="672" font-size="7.4" fill="#333" textLength="120.9" lengthAdjust="spacingAndGlyphs">Enriched in Tfap4-mutated/deficient</text>
<text x="239.6" y="687" font-size="7.4" fill="#333" textLength="114" lengthAdjust="spacingAndGlyphs">Enriched in Tfap4-Non mutated/WT</text>
<text x="325.6" y="17" font-size="11.6" fill="#000" font-weight="bold">E</text>
<rect x="358.6" y="6.9" width="8.1" height="7.4" fill="#3f4f63"/>
<rect x="358.6" y="20" width="8.1" height="7.4" fill="#e31e2a"/>
<rect x="427.7" y="6.9" width="8.1" height="7.4" fill="#f7931e"/>
<rect x="427.7" y="20.2" width="8.1" height="7.4" fill="#1d5592"/>
<text x="368.9" y="13.8" font-size="8" fill="#333" textLength="46.2" lengthAdjust="spacingAndGlyphs">E&#956;-<tspan font-style="italic">Myc Tfap4</tspan></text>
<text x="415.6" y="10.6" font-size="4.6" fill="#333">+/+</text>
<text x="368.9" y="26.6" font-size="8" fill="#333" textLength="46.2" lengthAdjust="spacingAndGlyphs">E&#956;-<tspan font-style="italic">Myc Tfap4</tspan></text>
<text x="415.6" y="23.4" font-size="4.6" fill="#333">+/&#8211;</text>
<text x="437.4" y="13.8" font-size="8" fill="#333" textLength="47.3" lengthAdjust="spacingAndGlyphs">E&#956;-<tspan font-style="italic">Myc Tfap4</tspan></text>
<text x="485.2" y="10.6" font-size="4.6" fill="#333">+/&#8211;</text>
<text x="492.9" y="13.8" font-size="8" fill="#333" textLength="14.4" lengthAdjust="spacingAndGlyphs">LOH</text>
<text x="437.4" y="26.8" font-size="8" fill="#333" textLength="47.3" lengthAdjust="spacingAndGlyphs">E&#956;-<tspan font-style="italic">Myc Tfap4</tspan></text>
<text x="485.2" y="23.6" font-size="4.6" fill="#333">&#8211;/&#8211;</text>
<rect x="351.3" y="31.5" width="4.7" height="8.6" fill="#3f4f63"/>
<rect x="351.3" y="40.1" width="4.7" height="11.4" fill="#e31e2a"/>
<rect x="351.3" y="51.5" width="4.7" height="11.2" fill="#f7931e"/>
<rect x="351.3" y="62.7" width="4.7" height="5.1" fill="#1d5592"/>
<rect x="351.2" y="208.5" width="4.7" height="32.7" fill="#3f4f63"/>
<rect x="351.2" y="241.2" width="4.7" height="3.4" fill="#e31e2a"/>
<rect x="351.3" y="364.8" width="4.7" height="28.9" fill="#3f4f63"/>
<rect x="351.3" y="393.7" width="4.7" height="7.6" fill="#e31e2a"/>
<text x="431.2" y="84.4" font-size="9" text-anchor="middle" fill="#333" textLength="62.2" lengthAdjust="spacingAndGlyphs">Myc targets v1</text>
<line x1="400.1" y1="86" x2="462.3" y2="86" stroke="#444" stroke-width="0.7"/>
<text x="430.4" y="256.8" font-size="9" text-anchor="middle" fill="#333" textLength="62.2" lengthAdjust="spacingAndGlyphs">Myc targets v1</text>
<line x1="399.3" y1="258.3" x2="461.5" y2="258.3" stroke="#444" stroke-width="0.7"/>
<text x="430.8" y="416" font-size="9" text-anchor="middle" fill="#333" textLength="62.2" lengthAdjust="spacingAndGlyphs">Myc targets v1</text>
<line x1="399.7" y1="417.5" x2="461.9" y2="417.5" stroke="#444" stroke-width="0.7"/>
<text x="432.6" y="202" font-size="8.9" text-anchor="middle" fill="#333" textLength="38.2" lengthAdjust="spacingAndGlyphs">BL Sporadic</text>
<text x="430.5" y="360.3" font-size="8.9" text-anchor="middle" fill="#333" textLength="38" lengthAdjust="spacingAndGlyphs">BL Endemic</text>
<text x="431.9" y="514.3" font-size="8.9" text-anchor="middle" fill="#333" textLength="16.6" lengthAdjust="spacingAndGlyphs">Rank</text>
<rect x="355.4" y="180.4" width="7.4" height="7.7" fill="#3f4f63"/>
<text x="366" y="187" font-size="7.6" fill="#333" textLength="42.5" lengthAdjust="spacingAndGlyphs">Non mutated</text>
<rect x="423.5" y="180.4" width="7.7" height="7.7" fill="#cc1f36"/>
<text x="434" y="187" font-size="7.6" fill="#333" textLength="72" lengthAdjust="spacingAndGlyphs">Coding AP4 mutation</text>
<path d="M362.31 150.6V158.3M362.85 150.6V158.3M362.93 150.6V158.3M363.64 150.6V158.3M363.76 150.6V158.3M364.24 150.6V158.3M365.08 150.6V158.3M365.36 150.6V158.3M365.48 150.6V158.3M365.51 150.6V158.3M365.83 150.6V158.3M365.99 150.6V158.3M366.08 150.6V158.3M366.33 150.6V158.3M366.56 150.6V158.3M366.79 150.6V158.3M366.88 150.6V158.3M366.95 150.6V158.3M367.75 150.6V158.3M368.32 150.6V158.3M368.6 150.6V158.3M369.74 150.6V158.3M369.8 150.6V158.3M370.57 150.6V158.3M370.64 150.6V158.3M370.88 150.6V158.3M371.61 150.6V158.3M372.5 150.6V158.3M373.2 150.6V158.3M374.07 150.6V158.3M374.13 150.6V158.3M374.59 150.6V158.3M375.4 150.6V158.3M375.47 150.6V158.3M376.12 150.6V158.3M376.16 150.6V158.3M376.45 150.6V158.3M376.47 150.6V158.3M377.27 150.6V158.3M377.75 150.6V158.3M378.04 150.6V158.3M378.69 150.6V158.3M379.08 150.6V158.3M379.18 150.6V158.3M379.31 150.6V158.3M379.6 150.6V158.3M380.04 150.6V158.3M380.23 150.6V158.3M380.37 150.6V158.3M380.68 150.6V158.3M380.72 150.6V158.3M380.86 150.6V158.3M381.28 150.6V158.3M381.49 150.6V158.3M381.59 150.6V158.3M381.62 150.6V158.3M381.92 150.6V158.3M381.94 150.6V158.3M382.52 150.6V158.3M382.78 150.6V158.3M382.99 150.6V158.3M383.35 150.6V158.3M383.65 150.6V158.3M383.98 150.6V158.3M384.04 150.6V158.3M384.61 150.6V158.3M384.91 150.6V158.3M386.06 150.6V158.3M386.55 150.6V158.3M387.56 150.6V158.3M387.56 150.6V158.3M387.64 150.6V158.3M387.68 150.6V158.3M387.87 150.6V158.3M388.91 150.6V158.3M389.25 150.6V158.3M389.3 150.6V158.3M390.05 150.6V158.3M390.06 150.6V158.3M390.75 150.6V158.3M391.31 150.6V158.3M392.06 150.6V158.3M392.31 150.6V158.3M392.8 150.6V158.3M393.11 150.6V158.3M393.38 150.6V158.3M393.46 150.6V158.3M394.02 150.6V158.3M394.32 150.6V158.3M395.45 150.6V158.3M395.66 150.6V158.3M396.33 150.6V158.3M398.02 150.6V158.3M398.74 150.6V158.3M399.09 150.6V158.3M399.19 150.6V158.3M400.08 150.6V158.3M400.3 150.6V158.3M400.37 150.6V158.3M400.5 150.6V158.3M401.1 150.6V158.3M401.54 150.6V158.3M401.75 150.6V158.3M401.77 150.6V158.3M401.82 150.6V158.3M402.1 150.6V158.3M402.23 150.6V158.3M402.4 150.6V158.3M402.68 150.6V158.3M402.8 150.6V158.3M402.99 150.6V158.3M403.09 150.6V158.3M403.55 150.6V158.3M403.6 150.6V158.3M404.18 150.6V158.3M404.48 150.6V158.3M404.53 150.6V158.3M404.64 150.6V158.3M405.54 150.6V158.3M406.2 150.6V158.3M406.81 150.6V158.3M407.19 150.6V158.3M407.59 150.6V158.3M407.82 150.6V158.3M408.54 150.6V158.3M410.18 150.6V158.3M410.23 150.6V158.3M410.26 150.6V158.3M410.31 150.6V158.3M410.39 150.6V158.3M411.28 150.6V158.3M411.36 150.6V158.3M411.57 150.6V158.3M411.63 150.6V158.3M412.34 150.6V158.3M412.45 150.6V158.3M412.54 150.6V158.3M412.93 150.6V158.3M413.02 150.6V158.3M413.12 150.6V158.3M413.22 150.6V158.3M413.68 150.6V158.3M414.05 150.6V158.3M414.16 150.6V158.3M414.77 150.6V158.3M414.77 150.6V158.3M415.19 150.6V158.3M415.25 150.6V158.3M415.38 150.6V158.3M415.89 150.6V158.3M416.21 150.6V158.3M417.23 150.6V158.3M418.1 150.6V158.3M418.54 150.6V158.3M418.69 150.6V158.3M418.97 150.6V158.3M419.25 150.6V158.3M419.34 150.6V158.3M419.52 150.6V158.3M419.83 150.6V158.3M420.05 150.6V158.3M420.45 150.6V158.3M420.93 150.6V158.3M421.05 150.6V158.3M421.18 150.6V158.3M421.53 150.6V158.3M422.07 150.6V158.3M422.47 150.6V158.3M422.57 150.6V158.3M422.66 150.6V158.3M423.42 150.6V158.3M424.1 150.6V158.3M424.36 150.6V158.3M424.36 150.6V158.3M424.72 150.6V158.3M424.96 150.6V158.3M425.02 150.6V158.3M425.31 150.6V158.3M425.41 150.6V158.3M427.52 150.6V158.3M427.63 150.6V158.3M427.79 150.6V158.3M427.81 150.6V158.3M428 150.6V158.3M428.33 150.6V158.3M428.63 150.6V158.3M428.84 150.6V158.3M429.27 150.6V158.3M429.43 150.6V158.3M429.54 150.6V158.3M429.59 150.6V158.3M429.62 150.6V158.3M429.85 150.6V158.3M430.25 150.6V158.3M430.3 150.6V158.3M430.59 150.6V158.3M430.66 150.6V158.3M432.01 150.6V158.3M432.17 150.6V158.3M432.63 150.6V158.3M432.69 150.6V158.3M433.29 150.6V158.3M433.99 150.6V158.3M434.53 150.6V158.3M435.09 150.6V158.3M435.92 150.6V158.3M436.24 150.6V158.3M436.67 150.6V158.3M436.93 150.6V158.3M437.23 150.6V158.3M437.4 150.6V158.3M438.08 150.6V158.3M438.95 150.6V158.3M439.02 150.6V158.3M440.31 150.6V158.3M441.18 150.6V158.3M441.35 150.6V158.3M441.57 150.6V158.3M441.59 150.6V158.3M441.75 150.6V158.3M441.94 150.6V158.3M441.99 150.6V158.3M442.27 150.6V158.3M444.1 150.6V158.3M444.4 150.6V158.3M444.44 150.6V158.3M444.8 150.6V158.3M445.38 150.6V158.3M449.26 150.6V158.3M450.91 150.6V158.3M453.01 150.6V158.3M456.93 150.6V158.3M457.41 150.6V158.3M462.7 150.6V158.3M464.33 150.6V158.3M466.31 150.6V158.3M466.74 150.6V158.3M467.11 150.6V158.3M467.43 150.6V158.3M467.61 150.6V158.3M468.2 150.6V158.3M468.41 150.6V158.3M473.02 150.6V158.3M474.45 150.6V158.3M475.84 150.6V158.3M476.38 150.6V158.3M477.17 150.6V158.3M477.31 150.6V158.3M478.29 150.6V158.3M480.43 150.6V158.3M481.08 150.6V158.3M487.28 150.6V158.3M489.32 150.6V158.3M491.77 150.6V158.3M498.01 150.6V158.3M498.25 150.6V158.3M498.64 150.6V158.3M501.21 150.6V158.3M502.5 150.6V158.3M504.01 150.6V158.3" stroke="#151515" stroke-width="0.7"/>
<line x1="358.5" y1="92.5" x2="506.5" y2="92.5" stroke="#d7263d" stroke-width="1.2" stroke-dasharray="4.3 2.6"/>
<line x1="358.5" y1="157.3" x2="506.5" y2="157.3" stroke="#d7263d" stroke-width="1" stroke-dasharray="4.3 2.6"/>
<line x1="357.5" y1="154.4" x2="507.5" y2="154.4" stroke="#222" stroke-width="0.9"/>
<polyline points="358.1,155 359.65,156 361.2,156.1 362.47,155.72 363.73,155.04 365,154.2 367.3,146.5 369.6,138.1 371.5,135.5 373.5,132.7 375.8,125 377.5,123.5 379.6,121.9 381.9,116.5 383.45,113.85 385,111.2 386.5,110.63 388,109.8 390.4,108.1 391.9,101.9 394,100.3 395.25,99.38 396.5,98.8 398.25,96.95 400,96.5 401.4,95.64 402.8,93.79 404.2,92.7 405.5,93.15 406.8,93.17 408.1,92.4 410,94 411.9,94.2 413.45,95.2 415,95.5 416.53,95.57 418.07,95.71 419.6,95.8 420.88,96.83 422.17,97.67 423.45,98.21 424.73,98.39 426.02,99.8 427.3,100.4 428.58,101.66 429.87,102.83 431.15,104.33 432.43,105.86 433.72,106.29 435,108.1 436.4,109.04 437.8,109.9 439.2,110.8 440.5,111.91 441.8,112.56 443.1,113.68 444.4,114.77 445.7,115.18 447,116.5 448.27,118.03 449.53,118.15 450.8,119.8 452.07,120.23 453.33,120.62 454.6,122.3 455.88,122.8 457.16,124.01 458.44,124.61 459.72,126.44 461,127 462.42,126.81 463.84,128.78 465.26,129.68 466.68,130.06 468.1,131 469.47,132.67 470.84,132.55 472.21,132.68 473.59,133.96 474.96,134.9 476.33,136.31 477.7,136.7 479.15,137.68 480.6,138.92 482.05,140.51 483.5,141.5 484.9,140.74 486.3,141.2 487.75,142.16 489.2,143.5 490.2,141.2 491.4,142.51 492.6,143.46 493.8,144.12 495,145.5 496.45,146.55 497.9,148.03 499.35,148.77 500.8,149.6 502.23,150.76 503.65,151.62 505.07,153.37 506.5,154" fill="none" stroke="#2eaa3c" stroke-width="1.75" stroke-linejoin="round"/>
<rect x="357.5" y="89" width="150" height="72" fill="none" stroke="#222" stroke-width="1.1"/>
<line x1="354.5" y1="154.4" x2="357.5" y2="154.4" stroke="#222" stroke-width="0.8"/>
<text x="352" y="157.4" font-size="8.6" text-anchor="end" fill="#333">0</text>
<line x1="354.5" y1="127.7" x2="357.5" y2="127.7" stroke="#222" stroke-width="0.8"/>
<text x="352" y="130.7" font-size="8.6" text-anchor="end" fill="#333">0.2</text>
<line x1="354.5" y1="101" x2="357.5" y2="101" stroke="#222" stroke-width="0.8"/>
<text x="352" y="104" font-size="8.6" text-anchor="end" fill="#333">0.4</text>
<line x1="357.7" y1="161" x2="357.7" y2="164" stroke="#222" stroke-width="0.8"/>
<text x="357.7" y="173.2" font-size="8.6" text-anchor="middle" fill="#333">0</text>
<line x1="396" y1="161" x2="396" y2="164" stroke="#222" stroke-width="0.8"/>
<text x="396" y="173.2" font-size="8.6" text-anchor="middle" fill="#333">3000</text>
<line x1="434.3" y1="161" x2="434.3" y2="164" stroke="#222" stroke-width="0.8"/>
<text x="434.3" y="173.2" font-size="8.6" text-anchor="middle" fill="#333">6000</text>
<line x1="472.6" y1="161" x2="472.6" y2="164" stroke="#222" stroke-width="0.8"/>
<text x="472.6" y="173.2" font-size="8.6" text-anchor="middle" fill="#333">9000</text>
<text transform="translate(334.4,125.5) rotate(-90)" font-size="9.4" text-anchor="middle" fill="#333" textLength="57" lengthAdjust="spacingAndGlyphs">Enrichment score</text>
<text x="460" y="102.6" font-size="8.4" fill="#333" textLength="37.9" lengthAdjust="spacingAndGlyphs">NES = 2.22</text>
<text x="459.9" y="112.8" font-size="8.4" fill="#333" textLength="42.3" lengthAdjust="spacingAndGlyphs"><tspan font-style="italic">P</tspan>adj = 1e-10</text>
<path d="M359.39 324V333M359.84 324V333M359.87 324V333M360.97 324V333M361.29 324V333M361.87 324V333M362.17 324V333M362.55 324V333M363.06 324V333M363.41 324V333M363.65 324V333M363.86 324V333M364 324V333M365.26 324V333M365.64 324V333M366.87 324V333M368.27 324V333M368.35 324V333M368.46 324V333M368.9 324V333M369.88 324V333M370.34 324V333M370.58 324V333M371.17 324V333M371.3 324V333M371.5 324V333M372.32 324V333M372.43 324V333M374.15 324V333M374.28 324V333M374.41 324V333M375.79 324V333M375.86 324V333M376.12 324V333M376.34 324V333M376.76 324V333M377.08 324V333M377.25 324V333M377.72 324V333M378.34 324V333M378.94 324V333M379.84 324V333M379.89 324V333M380.64 324V333M380.86 324V333M380.92 324V333M381.15 324V333M381.4 324V333M381.65 324V333M381.89 324V333M381.94 324V333M381.97 324V333M383.48 324V333M384.82 324V333M386.45 324V333M388.45 324V333M388.57 324V333M389.85 324V333M390.89 324V333M391.7 324V333M392.18 324V333M392.52 324V333M392.96 324V333M392.99 324V333M393.29 324V333M394.6 324V333M395.26 324V333M395.54 324V333M396.13 324V333M397.21 324V333M400.45 324V333M400.61 324V333M401.66 324V333M402.51 324V333M403.59 324V333M404.77 324V333M406.04 324V333M406.86 324V333M406.88 324V333M407 324V333M407.12 324V333M407.95 324V333M408.66 324V333M409.71 324V333M410.05 324V333M412.18 324V333M412.54 324V333M414.93 324V333M414.95 324V333M415.12 324V333M416.18 324V333M416.45 324V333M416.79 324V333M417.78 324V333M419.54 324V333M420.05 324V333M420.46 324V333M421.3 324V333M422.46 324V333M423.39 324V333M424.46 324V333M424.87 324V333M425.44 324V333M425.94 324V333M427.54 324V333M428.82 324V333M429.55 324V333M430.02 324V333M431.03 324V333M432.71 324V333M433.99 324V333M435.41 324V333M435.6 324V333M435.93 324V333M436.05 324V333M436.44 324V333M436.64 324V333M437.47 324V333M437.7 324V333M438.01 324V333M438.22 324V333M438.5 324V333M440.46 324V333M441.93 324V333M442.4 324V333M442.92 324V333M443.28 324V333M447.09 324V333M447.69 324V333M447.81 324V333M447.88 324V333M448.23 324V333M448.48 324V333M448.55 324V333M449.08 324V333M449.31 324V333M449.5 324V333M450.06 324V333M450.25 324V333M450.84 324V333M451.84 324V333M452.07 324V333M452.17 324V333M453.03 324V333M453.61 324V333M454.46 324V333M454.66 324V333M454.87 324V333M461.32 324V333M462.71 324V333M463.57 324V333M465.43 324V333M468.83 324V333M469.38 324V333M471.86 324V333M473.54 324V333M475.73 324V333M478.04 324V333M479.81 324V333M480.48 324V333M481.23 324V333M481.34 324V333M481.53 324V333M484.07 324V333M484.29 324V333M487.71 324V333M488.47 324V333M489.83 324V333M491.04 324V333M492.54 324V333" stroke="#151515" stroke-width="0.7"/>
<line x1="358.5" y1="266.9" x2="506" y2="266.9" stroke="#d7263d" stroke-width="1.2" stroke-dasharray="4.3 2.6"/>
<line x1="358.5" y1="332.3" x2="506" y2="332.3" stroke="#d7263d" stroke-width="1" stroke-dasharray="4.3 2.6"/>
<line x1="357.5" y1="328.5" x2="507" y2="328.5" stroke="#222" stroke-width="0.9"/>
<polyline points="358.5,328.8 359.9,324.96 361.3,321.2 362.6,318.55 363.9,318.13 365.2,315.4 366.45,313.12 367.7,311.2 369.6,314.4 371.9,304.8 373.2,303.37 374.5,303.09 375.8,301.9 377.25,298.15 378.7,294.2 380.6,286.5 382.03,283.97 383.45,282.92 384.88,281.03 386.3,278.8 387.52,277.37 388.75,275.93 389.98,274.24 391.2,273.1 392.4,273.06 393.6,272.71 394.8,272.74 396,273.1 397.27,274.35 398.53,274.52 399.8,275.6 401.25,272.44 402.7,270.2 403.97,269.38 405.23,267.69 406.5,266.9 408.25,267.6 410,268.6 411.4,269.33 412.8,269.66 414.2,269.5 415.63,270.44 417.07,272.88 418.5,273.3 419.9,275.28 421.3,277.05 422.7,278.86 424.1,279.65 425.5,282.28 426.9,283.8 428.11,285.26 429.33,286.8 430.54,288.45 431.76,290.12 432.97,291.33 434.19,293.54 435.4,294.4 436.6,295.62 437.8,297.05 439,298.34 440.2,299.5 441.4,301.36 442.6,302.51 443.8,303.9 445.01,303.9 446.23,306.09 447.44,306.36 448.66,307.19 449.87,307.64 451.09,308.92 452.3,309.2 453.7,310.6 455.1,311.93 456.5,313.5 457.78,313.35 459.06,313.83 460.34,313.99 461.62,314.82 462.9,314.5 464.3,315.02 465.7,316.03 467.1,316.6 468.38,318.28 469.66,318.37 470.94,320.35 472.22,320.59 473.5,321.9 474.76,322.49 476.02,323.54 477.28,323.67 478.54,324.49 479.8,325.1 481.4,322.18 483,319.8 484.6,321.27 486.2,323 487.6,324.4 489,325.03 490.4,326.2 491.8,327.1 493.2,327.2 494.6,328.3 496.2,329.43 497.8,330.4 499.9,323 501.5,324.81 503.1,326.2 504.7,327.25 506.3,328.7" fill="none" stroke="#2eaa3c" stroke-width="1.75" stroke-linejoin="round"/>
<rect x="357.5" y="263.8" width="149.5" height="70.7" fill="none" stroke="#222" stroke-width="1.1"/>
<line x1="354.5" y1="328.5" x2="357.5" y2="328.5" stroke="#222" stroke-width="0.8"/>
<text x="352" y="331.5" font-size="8.6" text-anchor="end" fill="#333">0</text>
<line x1="354.5" y1="306.8" x2="357.5" y2="306.8" stroke="#222" stroke-width="0.8"/>
<text x="352" y="309.8" font-size="8.6" text-anchor="end" fill="#333">0.2</text>
<line x1="354.5" y1="285.1" x2="357.5" y2="285.1" stroke="#222" stroke-width="0.8"/>
<text x="352" y="288.1" font-size="8.6" text-anchor="end" fill="#333">0.4</text>
<line x1="357.5" y1="334.5" x2="357.5" y2="337.5" stroke="#222" stroke-width="0.8"/>
<text x="357.5" y="346.7" font-size="8.6" text-anchor="middle" fill="#333">0</text>
<line x1="407.5" y1="334.5" x2="407.5" y2="337.5" stroke="#222" stroke-width="0.8"/>
<text x="407.5" y="346.7" font-size="8.6" text-anchor="middle" fill="#333">5000</text>
<line x1="457.6" y1="334.5" x2="457.6" y2="337.5" stroke="#222" stroke-width="0.8"/>
<text x="457.6" y="346.7" font-size="8.6" text-anchor="middle" fill="#333">10000</text>
<text transform="translate(334.4,299.5) rotate(-90)" font-size="9.4" text-anchor="middle" fill="#333" textLength="57" lengthAdjust="spacingAndGlyphs">Enrichment score</text>
<text x="457.6" y="277.8" font-size="8.4" fill="#333" textLength="38" lengthAdjust="spacingAndGlyphs">NES = 1.64</text>
<text x="457.6" y="287.8" font-size="8.4" fill="#333" textLength="44" lengthAdjust="spacingAndGlyphs"><tspan font-style="italic">P</tspan>adj = 8.2e-5</text>
<path d="M358.39 483V491.5M363.6 483V491.5M363.64 483V491.5M363.74 483V491.5M364.14 483V491.5M364.23 483V491.5M365.44 483V491.5M365.67 483V491.5M365.97 483V491.5M366.02 483V491.5M366.4 483V491.5M366.41 483V491.5M367.06 483V491.5M367.66 483V491.5M368.14 483V491.5M368.5 483V491.5M368.82 483V491.5M369.01 483V491.5M369.85 483V491.5M369.89 483V491.5M370.77 483V491.5M374.53 483V491.5M374.63 483V491.5M374.97 483V491.5M375.84 483V491.5M377.17 483V491.5M377.27 483V491.5M377.34 483V491.5M378.2 483V491.5M378.63 483V491.5M379.29 483V491.5M381.33 483V491.5M381.37 483V491.5M382.1 483V491.5M382.27 483V491.5M382.34 483V491.5M383.41 483V491.5M385.01 483V491.5M385.25 483V491.5M385.86 483V491.5M386.58 483V491.5M386.93 483V491.5M387.87 483V491.5M389.04 483V491.5M389.69 483V491.5M390.03 483V491.5M391.92 483V491.5M392.24 483V491.5M393.5 483V491.5M394.13 483V491.5M394.23 483V491.5M395.25 483V491.5M395.98 483V491.5M396.27 483V491.5M396.36 483V491.5M396.72 483V491.5M398.14 483V491.5M398.44 483V491.5M398.79 483V491.5M399.28 483V491.5M399.33 483V491.5M399.53 483V491.5M399.88 483V491.5M399.91 483V491.5M400.73 483V491.5M401.33 483V491.5M401.57 483V491.5M401.85 483V491.5M402.03 483V491.5M402.06 483V491.5M402.59 483V491.5M404.38 483V491.5M405.06 483V491.5M406.79 483V491.5M408.42 483V491.5M409.56 483V491.5M410.27 483V491.5M410.84 483V491.5M411.1 483V491.5M411.5 483V491.5M411.8 483V491.5M412.27 483V491.5M412.59 483V491.5M412.82 483V491.5M412.96 483V491.5M413.83 483V491.5M414.41 483V491.5M415.73 483V491.5M415.75 483V491.5M417.08 483V491.5M417.43 483V491.5M417.88 483V491.5M418.82 483V491.5M418.86 483V491.5M419.86 483V491.5M420.86 483V491.5M421.82 483V491.5M422.73 483V491.5M423.51 483V491.5M423.73 483V491.5M423.99 483V491.5M424.59 483V491.5M424.75 483V491.5M427.3 483V491.5M427.49 483V491.5M428.36 483V491.5M428.55 483V491.5M429.73 483V491.5M429.95 483V491.5M430.35 483V491.5M432.31 483V491.5M433.53 483V491.5M434.99 483V491.5M437.1 483V491.5M437.34 483V491.5M437.66 483V491.5M438.02 483V491.5M438.42 483V491.5M439 483V491.5M439.07 483V491.5M439.32 483V491.5M439.44 483V491.5M440.07 483V491.5M441.52 483V491.5M443 483V491.5M443.91 483V491.5M444.87 483V491.5M445.45 483V491.5M445.73 483V491.5M446.08 483V491.5M448.04 483V491.5M448.05 483V491.5M448.7 483V491.5M450.66 483V491.5M450.83 483V491.5M450.99 483V491.5M452.05 483V491.5M453.43 483V491.5M453.55 483V491.5M453.67 483V491.5M453.84 483V491.5M454.85 483V491.5M456.53 483V491.5M457.89 483V491.5M458.01 483V491.5M459.67 483V491.5M460.38 483V491.5M464.71 483V491.5M465.05 483V491.5M466.67 483V491.5M468.87 483V491.5M471.17 483V491.5M471.22 483V491.5M471.71 483V491.5M471.86 483V491.5M473.77 483V491.5M478.77 483V491.5M478.81 483V491.5M479.27 483V491.5M479.58 483V491.5M468 483V491.5M472 483V491.5M476 483V491.5M489 483V491.5M491.5 483V491.5M494 483V491.5" stroke="#151515" stroke-width="0.7"/>
<line x1="358.5" y1="424.8" x2="506" y2="424.8" stroke="#d7263d" stroke-width="1.2" stroke-dasharray="4.3 2.6"/>
<line x1="358.5" y1="488.3" x2="506" y2="488.3" stroke="#d7263d" stroke-width="1" stroke-dasharray="4.3 2.6"/>
<line x1="357.5" y1="487.3" x2="507" y2="487.3" stroke="#222" stroke-width="0.9"/>
<polyline points="358.1,481.9 359.4,476.2 360.85,470.92 362.3,466.5 363.75,461.27 365.2,456.9 366.65,453.26 368.1,449.2 369.55,446.58 371,443.5 372.2,441.54 373.4,439.5 374.6,438.39 375.8,435.8 377.07,435.53 378.33,435.53 379.6,434.8 381.05,432.17 382.5,430 383.95,430.77 385.4,431 386.85,429.18 388.3,427.1 389.75,427.74 391.2,425.8 392.62,426.26 394.05,426.29 395.47,426.33 396.9,426.5 398.18,426.52 399.47,427.57 400.75,426.75 402.03,427.31 403.32,427.21 404.6,427.7 405.88,427.18 407.17,427.98 408.45,428.16 409.73,428.65 411.02,429.08 412.3,429 413.63,430.2 414.97,430.97 416.3,431.4 417.51,432.05 418.73,432.86 419.94,433.99 421.16,434.46 422.37,435.6 423.59,435.31 424.8,436.7 426.08,437.63 427.36,439.93 428.64,439.98 429.92,441.5 431.2,443.1 432.51,443.78 433.82,444.34 435.14,444.2 436.45,445.92 437.76,446.28 439.07,446.95 440.39,447.26 441.7,448.4 443.02,449.41 444.35,450.37 445.68,450.6 447,451.88 448.32,452.76 449.65,452.89 450.98,453.94 452.3,454.7 453.51,455.45 454.73,455.54 455.94,456.5 457.16,456.56 458.37,456.2 459.59,456.91 460.8,457.5 462.2,457.87 463.6,458.49 465,459.22 466.4,459.9 467.8,459.87 469.2,461.1 470.41,461.72 471.63,462.62 472.84,463.61 474.06,463.98 475.27,466.45 476.49,467.42 477.7,468.5 478.97,468.98 480.24,470.24 481.51,471.21 482.78,472.56 484.05,473.51 485.32,473.73 486.59,474.66 487.86,475.47 489.13,476.74 490.4,476.9 491.72,477.73 493.05,476.5 494.38,478.62 495.7,478.6 497.06,480.23 498.41,481.26 499.77,481.78 501.13,484 502.49,484.15 503.84,485.51 505.2,486.4 506.5,487.3" fill="none" stroke="#2eaa3c" stroke-width="1.75" stroke-linejoin="round"/>
<rect x="357.5" y="419.4" width="149.5" height="72.6" fill="none" stroke="#222" stroke-width="1.1"/>
<line x1="354.5" y1="487.3" x2="357.5" y2="487.3" stroke="#222" stroke-width="0.8"/>
<text x="352" y="490.3" font-size="8.6" text-anchor="end" fill="#333">0</text>
<line x1="354.5" y1="463.5" x2="357.5" y2="463.5" stroke="#222" stroke-width="0.8"/>
<text x="352" y="466.5" font-size="8.6" text-anchor="end" fill="#333">0.2</text>
<line x1="354.5" y1="439.7" x2="357.5" y2="439.7" stroke="#222" stroke-width="0.8"/>
<text x="352" y="442.7" font-size="8.6" text-anchor="end" fill="#333">0.4</text>
<line x1="357.5" y1="492" x2="357.5" y2="495" stroke="#222" stroke-width="0.8"/>
<text x="357.5" y="504.2" font-size="8.6" text-anchor="middle" fill="#333">0</text>
<line x1="407.5" y1="492" x2="407.5" y2="495" stroke="#222" stroke-width="0.8"/>
<text x="407.5" y="504.2" font-size="8.6" text-anchor="middle" fill="#333">5000</text>
<line x1="457.6" y1="492" x2="457.6" y2="495" stroke="#222" stroke-width="0.8"/>
<text x="457.6" y="504.2" font-size="8.6" text-anchor="middle" fill="#333">10000</text>
<text transform="translate(334.4,455.5) rotate(-90)" font-size="9.4" text-anchor="middle" fill="#333" textLength="57" lengthAdjust="spacingAndGlyphs">Enrichment score</text>
<text x="456.1" y="436.4" font-size="8.4" fill="#333" textLength="36.8" lengthAdjust="spacingAndGlyphs">NES = 2.77</text>
<text x="456.1" y="447" font-size="8.4" fill="#333" textLength="46.6" lengthAdjust="spacingAndGlyphs"><tspan font-style="italic">P</tspan>adj =1.0e-10</text>
<text x="13.2" y="450.3" font-size="11" fill="#000" font-weight="bold">F</text>
<text x="25" y="450.3" font-size="8.8" fill="#333" textLength="91.2" lengthAdjust="spacingAndGlyphs">E&#956;-Myc pre-B tumors</text>
<line x1="25" y1="452" x2="116.3" y2="452" stroke="#555" stroke-width="0.7"/>
<text transform="translate(39.5,478) rotate(-45)" font-size="7.4" font-style="italic" fill="#333">Tfap4<tspan font-size="4.6" dy="-2.8">+/+</tspan></text>
<text transform="translate(61.5,478) rotate(-45)" font-size="7.4" font-style="italic" fill="#333">Tfap4<tspan font-size="4.6" dy="-2.8">+/&#8211;</tspan></text>
<text transform="translate(80,476) rotate(-45)" font-size="7.4" font-style="italic" fill="#333">Tfap4<tspan font-size="4.6" dy="-2.8">+/&#8211;</tspan></text>
<text transform="translate(95,477) rotate(-45)" font-size="7.4" fill="#333">LOH</text>
<text transform="translate(108,478) rotate(-45)" font-size="7.4" font-style="italic" fill="#333">Tfap4<tspan font-size="4.6" dy="-2.8">&#8211;/&#8211;</tspan></text>
<rect x="33.8" y="478.9" width="20.6" height="1.9" fill="#111"/>
<rect x="54.4" y="478.9" width="24.9" height="1.9" fill="#e31e2a"/>
<rect x="79.3" y="478.9" width="25.2" height="1.9" fill="#f7941d"/>
<rect x="104.5" y="478.9" width="10.5" height="1.9" fill="#2e4fa0"/>
<line x1="54.4" y1="481.9" x2="54.4" y2="687.4" stroke="#444" stroke-width="0.6"/>
<line x1="79.3" y1="481.9" x2="79.3" y2="687.4" stroke="#444" stroke-width="0.6"/>
<line x1="104.5" y1="481.9" x2="104.5" y2="687.4" stroke="#444" stroke-width="0.6"/>
<line x1="33.8" y1="506.9" x2="115" y2="506.9" stroke="#444" stroke-width="0.6"/>
<line x1="33.8" y1="523.5" x2="115" y2="523.5" stroke="#444" stroke-width="0.6"/>
<line x1="33.8" y1="537.5" x2="115" y2="537.5" stroke="#444" stroke-width="0.6"/>
<line x1="33.8" y1="560" x2="115" y2="560" stroke="#444" stroke-width="0.6"/>
<line x1="33.8" y1="578" x2="115" y2="578" stroke="#444" stroke-width="0.6"/>
<line x1="33.8" y1="598.6" x2="115" y2="598.6" stroke="#444" stroke-width="0.6"/>
<line x1="33.8" y1="621.2" x2="115" y2="621.2" stroke="#444" stroke-width="0.6"/>
<line x1="33.8" y1="642.3" x2="115" y2="642.3" stroke="#444" stroke-width="0.6"/>
<line x1="33.8" y1="663" x2="115" y2="663" stroke="#444" stroke-width="0.6"/>
<rect x="115.1" y="481.9" width="4.6" height="25" fill="#d6a95a"/>
<rect x="115.1" y="506.9" width="4.6" height="16.6" fill="#1f78b4"/>
<rect x="115.1" y="523.5" width="4.6" height="14" fill="#b2df8a"/>
<rect x="115.1" y="537.5" width="4.6" height="22.5" fill="#33a02c"/>
<rect x="115.1" y="560" width="4.6" height="18" fill="#f4a3a8"/>
<rect x="115.1" y="578" width="4.6" height="20.6" fill="#e31a1c"/>
<rect x="115.1" y="598.6" width="4.6" height="22.6" fill="#fdbf6f"/>
<rect x="115.1" y="621.2" width="4.6" height="21.1" fill="#ff7f00"/>
<rect x="115.1" y="642.3" width="4.6" height="20.7" fill="#cab2d6"/>
<rect x="115.1" y="663" width="4.6" height="24.4" fill="#6a3d9a"/>
<text x="122.9" y="483.6" font-size="8.6" fill="#333" textLength="24.2" lengthAdjust="spacingAndGlyphs">Cluster</text>
<text x="131.5" y="495.9" font-size="8" text-anchor="middle" fill="#333">I</text>
<text x="131.5" y="515.5" font-size="8" text-anchor="middle" fill="#333">II</text>
<text x="131.5" y="534" font-size="8" text-anchor="middle" fill="#333">III</text>
<text x="131.5" y="554" font-size="8" text-anchor="middle" fill="#333">IV</text>
<text x="131.5" y="574.8" font-size="8" text-anchor="middle" fill="#333">V</text>
<text x="131.5" y="592.4" font-size="8" text-anchor="middle" fill="#333">VI</text>
<text x="131.5" y="616.7" font-size="8" text-anchor="middle" fill="#333">VII</text>
<text x="131.5" y="637.9" font-size="8" text-anchor="middle" fill="#333">VIII</text>
<text x="131.5" y="659.4" font-size="8" text-anchor="middle" fill="#333">IX</text>
<text x="131.5" y="680.9" font-size="8" text-anchor="middle" fill="#333">X</text>
<rect x="43" y="690.5" width="63.3" height="6" fill="url(#fg)"/>
<text x="29.2" y="704.8" font-size="7.8" fill="#333" textLength="28.1" lengthAdjust="spacingAndGlyphs">Row min</text>
<text x="93.1" y="704.8" font-size="7.8" fill="#333" textLength="30.1" lengthAdjust="spacingAndGlyphs">Row max</text>
</svg>
<div id="bd"></div>
</div></body></html>
